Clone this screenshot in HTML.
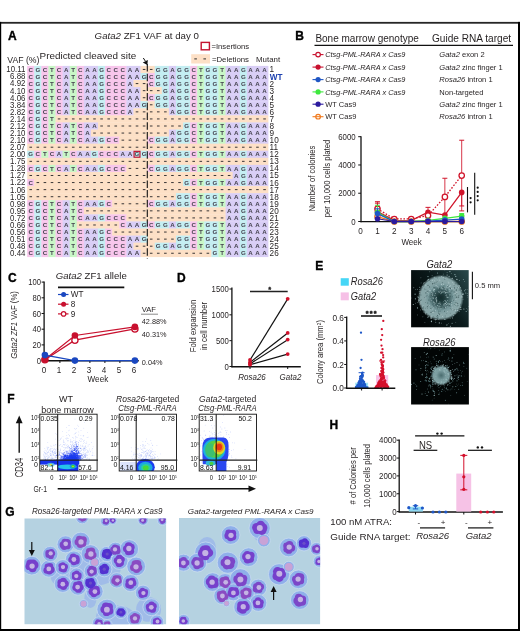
<!DOCTYPE html>
<html><head><meta charset="utf-8"><style>
html,body{margin:0;padding:0;background:#fff;}
svg{display:block;will-change:transform;}
text{font-family:"Liberation Sans",sans-serif;}
</style></head><body>
<svg width="520" height="631" viewBox="0 0 520 631" font-family="Liberation Sans, sans-serif">
<rect width="520" height="631" fill="#fff"/>
<text x="7.90" y="39.70" font-size="12.0" text-anchor="start" font-weight="bold" fill="#000" stroke="#000" stroke-width="0.35">A</text>
<text x="94.6" y="38.8" font-size="9.7" fill="#231f20"><tspan font-style="italic">Gata2</tspan> ZF1 VAF at day 0</text>
<text x="7.30" y="62.60" font-size="8.7" text-anchor="start" fill="#231f20" >VAF (%)</text>
<text x="39.60" y="58.90" font-size="9.9" text-anchor="start" fill="#231f20" >Predicted cleaved site</text>
<rect x="201.2" y="42.4" width="8.2" height="7.4" fill="none" stroke="#c4122f" stroke-width="1.4"/>
<text x="211.40" y="49.40" font-size="7.7" text-anchor="start" fill="#231f20" >=Insertions</text>
<rect x="191.20" y="54.20" width="18.80" height="9.30" fill="#fde0c6" />
<rect x="194.30" y="58.40" width="2.60" height="1.00" fill="#333" />
<rect x="203.40" y="58.40" width="2.60" height="1.00" fill="#333" />
<text x="211.90" y="61.50" font-size="7.8" text-anchor="start" fill="#231f20" >=Deletions</text>
<text x="256.00" y="61.50" font-size="7.9" text-anchor="start" fill="#231f20" >Mutant</text>
<rect x="27.20" y="65.90" width="7.38" height="7.37" fill="#f8c6ec" />
<rect x="34.28" y="65.90" width="7.38" height="7.37" fill="#c4eef2" />
<rect x="41.37" y="65.90" width="7.38" height="7.37" fill="#f8c6ec" />
<rect x="48.45" y="65.90" width="7.38" height="7.37" fill="#c8f7c6" />
<rect x="55.54" y="65.90" width="7.38" height="7.37" fill="#f8c6ec" />
<rect x="62.62" y="65.90" width="7.38" height="7.37" fill="#d9cef6" />
<rect x="69.71" y="65.90" width="7.38" height="7.37" fill="#c8f7c6" />
<rect x="76.80" y="65.90" width="7.38" height="7.37" fill="#f8c6ec" />
<rect x="83.88" y="65.90" width="14.47" height="7.37" fill="#d9cef6" />
<rect x="98.05" y="65.90" width="7.38" height="7.37" fill="#c4eef2" />
<rect x="105.14" y="65.90" width="21.55" height="7.37" fill="#f8c6ec" />
<rect x="126.39" y="65.90" width="14.47" height="7.37" fill="#d9cef6" />
<rect x="140.56" y="65.90" width="14.47" height="7.37" fill="#fde0c6" />
<rect x="154.73" y="65.90" width="14.47" height="7.37" fill="#c4eef2" />
<rect x="168.90" y="65.90" width="7.38" height="7.37" fill="#d9cef6" />
<rect x="175.98" y="65.90" width="14.47" height="7.37" fill="#c4eef2" />
<rect x="190.16" y="65.90" width="7.38" height="7.37" fill="#f8c6ec" />
<rect x="197.24" y="65.90" width="7.38" height="7.37" fill="#c8f7c6" />
<rect x="204.32" y="65.90" width="14.47" height="7.37" fill="#c4eef2" />
<rect x="218.49" y="65.90" width="7.38" height="7.37" fill="#c8f7c6" />
<rect x="225.58" y="65.90" width="14.47" height="7.37" fill="#d9cef6" />
<rect x="239.75" y="65.90" width="7.38" height="7.37" fill="#c4eef2" />
<rect x="246.83" y="65.90" width="21.55" height="7.37" fill="#d9cef6" />
<rect x="27.20" y="72.97" width="7.38" height="7.37" fill="#f8c6ec" />
<rect x="34.28" y="72.97" width="7.38" height="7.37" fill="#c4eef2" />
<rect x="41.37" y="72.97" width="7.38" height="7.37" fill="#f8c6ec" />
<rect x="48.45" y="72.97" width="7.38" height="7.37" fill="#c8f7c6" />
<rect x="55.54" y="72.97" width="7.38" height="7.37" fill="#f8c6ec" />
<rect x="62.62" y="72.97" width="7.38" height="7.37" fill="#d9cef6" />
<rect x="69.71" y="72.97" width="7.38" height="7.37" fill="#c8f7c6" />
<rect x="76.80" y="72.97" width="7.38" height="7.37" fill="#f8c6ec" />
<rect x="83.88" y="72.97" width="14.47" height="7.37" fill="#d9cef6" />
<rect x="98.05" y="72.97" width="7.38" height="7.37" fill="#c4eef2" />
<rect x="105.14" y="72.97" width="21.55" height="7.37" fill="#f8c6ec" />
<rect x="126.39" y="72.97" width="14.47" height="7.37" fill="#d9cef6" />
<rect x="140.56" y="72.97" width="7.38" height="7.37" fill="#c4eef2" />
<rect x="147.64" y="72.97" width="7.38" height="7.37" fill="#f8c6ec" />
<rect x="154.73" y="72.97" width="14.47" height="7.37" fill="#c4eef2" />
<rect x="168.90" y="72.97" width="7.38" height="7.37" fill="#d9cef6" />
<rect x="175.98" y="72.97" width="14.47" height="7.37" fill="#c4eef2" />
<rect x="190.16" y="72.97" width="7.38" height="7.37" fill="#f8c6ec" />
<rect x="197.24" y="72.97" width="7.38" height="7.37" fill="#c8f7c6" />
<rect x="204.32" y="72.97" width="14.47" height="7.37" fill="#c4eef2" />
<rect x="218.49" y="72.97" width="7.38" height="7.37" fill="#c8f7c6" />
<rect x="225.58" y="72.97" width="14.47" height="7.37" fill="#d9cef6" />
<rect x="239.75" y="72.97" width="7.38" height="7.37" fill="#c4eef2" />
<rect x="246.83" y="72.97" width="21.55" height="7.37" fill="#d9cef6" />
<rect x="27.20" y="80.04" width="7.38" height="7.37" fill="#f8c6ec" />
<rect x="34.28" y="80.04" width="7.38" height="7.37" fill="#c4eef2" />
<rect x="41.37" y="80.04" width="7.38" height="7.37" fill="#f8c6ec" />
<rect x="48.45" y="80.04" width="7.38" height="7.37" fill="#c8f7c6" />
<rect x="55.54" y="80.04" width="7.38" height="7.37" fill="#f8c6ec" />
<rect x="62.62" y="80.04" width="7.38" height="7.37" fill="#d9cef6" />
<rect x="69.71" y="80.04" width="7.38" height="7.37" fill="#c8f7c6" />
<rect x="76.80" y="80.04" width="7.38" height="7.37" fill="#f8c6ec" />
<rect x="83.88" y="80.04" width="14.47" height="7.37" fill="#d9cef6" />
<rect x="98.05" y="80.04" width="7.38" height="7.37" fill="#c4eef2" />
<rect x="105.14" y="80.04" width="21.55" height="7.37" fill="#f8c6ec" />
<rect x="126.39" y="80.04" width="7.38" height="7.37" fill="#d9cef6" />
<rect x="133.47" y="80.04" width="14.47" height="7.37" fill="#fde0c6" />
<rect x="147.64" y="80.04" width="7.38" height="7.37" fill="#f8c6ec" />
<rect x="154.73" y="80.04" width="14.47" height="7.37" fill="#c4eef2" />
<rect x="168.90" y="80.04" width="7.38" height="7.37" fill="#d9cef6" />
<rect x="175.98" y="80.04" width="14.47" height="7.37" fill="#c4eef2" />
<rect x="190.16" y="80.04" width="7.38" height="7.37" fill="#f8c6ec" />
<rect x="197.24" y="80.04" width="7.38" height="7.37" fill="#c8f7c6" />
<rect x="204.32" y="80.04" width="14.47" height="7.37" fill="#c4eef2" />
<rect x="218.49" y="80.04" width="7.38" height="7.37" fill="#c8f7c6" />
<rect x="225.58" y="80.04" width="14.47" height="7.37" fill="#d9cef6" />
<rect x="239.75" y="80.04" width="7.38" height="7.37" fill="#c4eef2" />
<rect x="246.83" y="80.04" width="21.55" height="7.37" fill="#d9cef6" />
<rect x="27.20" y="87.11" width="7.38" height="7.37" fill="#f8c6ec" />
<rect x="34.28" y="87.11" width="7.38" height="7.37" fill="#c4eef2" />
<rect x="41.37" y="87.11" width="7.38" height="7.37" fill="#f8c6ec" />
<rect x="48.45" y="87.11" width="7.38" height="7.37" fill="#c8f7c6" />
<rect x="55.54" y="87.11" width="7.38" height="7.37" fill="#f8c6ec" />
<rect x="62.62" y="87.11" width="7.38" height="7.37" fill="#d9cef6" />
<rect x="69.71" y="87.11" width="7.38" height="7.37" fill="#c8f7c6" />
<rect x="76.80" y="87.11" width="7.38" height="7.37" fill="#f8c6ec" />
<rect x="83.88" y="87.11" width="14.47" height="7.37" fill="#d9cef6" />
<rect x="98.05" y="87.11" width="7.38" height="7.37" fill="#c4eef2" />
<rect x="105.14" y="87.11" width="21.55" height="7.37" fill="#f8c6ec" />
<rect x="126.39" y="87.11" width="14.47" height="7.37" fill="#d9cef6" />
<rect x="140.56" y="87.11" width="21.55" height="7.37" fill="#fde0c6" />
<rect x="161.81" y="87.11" width="7.38" height="7.37" fill="#c4eef2" />
<rect x="168.90" y="87.11" width="7.38" height="7.37" fill="#d9cef6" />
<rect x="175.98" y="87.11" width="14.47" height="7.37" fill="#c4eef2" />
<rect x="190.16" y="87.11" width="7.38" height="7.37" fill="#f8c6ec" />
<rect x="197.24" y="87.11" width="7.38" height="7.37" fill="#c8f7c6" />
<rect x="204.32" y="87.11" width="14.47" height="7.37" fill="#c4eef2" />
<rect x="218.49" y="87.11" width="7.38" height="7.37" fill="#c8f7c6" />
<rect x="225.58" y="87.11" width="14.47" height="7.37" fill="#d9cef6" />
<rect x="239.75" y="87.11" width="7.38" height="7.37" fill="#c4eef2" />
<rect x="246.83" y="87.11" width="21.55" height="7.37" fill="#d9cef6" />
<rect x="27.20" y="94.18" width="7.38" height="7.37" fill="#f8c6ec" />
<rect x="34.28" y="94.18" width="7.38" height="7.37" fill="#c4eef2" />
<rect x="41.37" y="94.18" width="7.38" height="7.37" fill="#f8c6ec" />
<rect x="48.45" y="94.18" width="7.38" height="7.37" fill="#c8f7c6" />
<rect x="55.54" y="94.18" width="7.38" height="7.37" fill="#f8c6ec" />
<rect x="62.62" y="94.18" width="7.38" height="7.37" fill="#d9cef6" />
<rect x="69.71" y="94.18" width="7.38" height="7.37" fill="#c8f7c6" />
<rect x="76.80" y="94.18" width="7.38" height="7.37" fill="#f8c6ec" />
<rect x="83.88" y="94.18" width="14.47" height="7.37" fill="#d9cef6" />
<rect x="98.05" y="94.18" width="7.38" height="7.37" fill="#c4eef2" />
<rect x="105.14" y="94.18" width="21.55" height="7.37" fill="#f8c6ec" />
<rect x="126.39" y="94.18" width="14.47" height="7.37" fill="#d9cef6" />
<rect x="140.56" y="94.18" width="7.38" height="7.37" fill="#fde0c6" />
<rect x="147.64" y="94.18" width="7.38" height="7.37" fill="#f8c6ec" />
<rect x="154.73" y="94.18" width="14.47" height="7.37" fill="#c4eef2" />
<rect x="168.90" y="94.18" width="7.38" height="7.37" fill="#d9cef6" />
<rect x="175.98" y="94.18" width="14.47" height="7.37" fill="#c4eef2" />
<rect x="190.16" y="94.18" width="7.38" height="7.37" fill="#f8c6ec" />
<rect x="197.24" y="94.18" width="7.38" height="7.37" fill="#c8f7c6" />
<rect x="204.32" y="94.18" width="14.47" height="7.37" fill="#c4eef2" />
<rect x="218.49" y="94.18" width="7.38" height="7.37" fill="#c8f7c6" />
<rect x="225.58" y="94.18" width="14.47" height="7.37" fill="#d9cef6" />
<rect x="239.75" y="94.18" width="7.38" height="7.37" fill="#c4eef2" />
<rect x="246.83" y="94.18" width="21.55" height="7.37" fill="#d9cef6" />
<rect x="27.20" y="101.25" width="7.38" height="7.37" fill="#f8c6ec" />
<rect x="34.28" y="101.25" width="7.38" height="7.37" fill="#c4eef2" />
<rect x="41.37" y="101.25" width="7.38" height="7.37" fill="#f8c6ec" />
<rect x="48.45" y="101.25" width="7.38" height="7.37" fill="#c8f7c6" />
<rect x="55.54" y="101.25" width="7.38" height="7.37" fill="#f8c6ec" />
<rect x="62.62" y="101.25" width="7.38" height="7.37" fill="#d9cef6" />
<rect x="69.71" y="101.25" width="7.38" height="7.37" fill="#c8f7c6" />
<rect x="76.80" y="101.25" width="7.38" height="7.37" fill="#f8c6ec" />
<rect x="83.88" y="101.25" width="14.47" height="7.37" fill="#d9cef6" />
<rect x="98.05" y="101.25" width="7.38" height="7.37" fill="#c4eef2" />
<rect x="105.14" y="101.25" width="21.55" height="7.37" fill="#f8c6ec" />
<rect x="126.39" y="101.25" width="14.47" height="7.37" fill="#d9cef6" />
<rect x="140.56" y="101.25" width="7.38" height="7.37" fill="#c4eef2" />
<rect x="147.64" y="101.25" width="7.38" height="7.37" fill="#fde0c6" />
<rect x="154.73" y="101.25" width="14.47" height="7.37" fill="#c4eef2" />
<rect x="168.90" y="101.25" width="7.38" height="7.37" fill="#d9cef6" />
<rect x="175.98" y="101.25" width="14.47" height="7.37" fill="#c4eef2" />
<rect x="190.16" y="101.25" width="7.38" height="7.37" fill="#f8c6ec" />
<rect x="197.24" y="101.25" width="7.38" height="7.37" fill="#c8f7c6" />
<rect x="204.32" y="101.25" width="14.47" height="7.37" fill="#c4eef2" />
<rect x="218.49" y="101.25" width="7.38" height="7.37" fill="#c8f7c6" />
<rect x="225.58" y="101.25" width="14.47" height="7.37" fill="#d9cef6" />
<rect x="239.75" y="101.25" width="7.38" height="7.37" fill="#c4eef2" />
<rect x="246.83" y="101.25" width="21.55" height="7.37" fill="#d9cef6" />
<rect x="27.20" y="108.32" width="7.38" height="7.37" fill="#f8c6ec" />
<rect x="34.28" y="108.32" width="7.38" height="7.37" fill="#c4eef2" />
<rect x="41.37" y="108.32" width="7.38" height="7.37" fill="#f8c6ec" />
<rect x="48.45" y="108.32" width="7.38" height="7.37" fill="#c8f7c6" />
<rect x="55.54" y="108.32" width="7.38" height="7.37" fill="#f8c6ec" />
<rect x="62.62" y="108.32" width="7.38" height="7.37" fill="#d9cef6" />
<rect x="69.71" y="108.32" width="7.38" height="7.37" fill="#c8f7c6" />
<rect x="76.80" y="108.32" width="7.38" height="7.37" fill="#f8c6ec" />
<rect x="83.88" y="108.32" width="14.47" height="7.37" fill="#d9cef6" />
<rect x="98.05" y="108.32" width="7.38" height="7.37" fill="#c4eef2" />
<rect x="105.14" y="108.32" width="21.55" height="7.37" fill="#f8c6ec" />
<rect x="126.39" y="108.32" width="7.38" height="7.37" fill="#d9cef6" />
<rect x="133.47" y="108.32" width="35.72" height="7.37" fill="#fde0c6" />
<rect x="168.90" y="108.32" width="7.38" height="7.37" fill="#d9cef6" />
<rect x="175.98" y="108.32" width="14.47" height="7.37" fill="#c4eef2" />
<rect x="190.16" y="108.32" width="7.38" height="7.37" fill="#f8c6ec" />
<rect x="197.24" y="108.32" width="7.38" height="7.37" fill="#c8f7c6" />
<rect x="204.32" y="108.32" width="14.47" height="7.37" fill="#c4eef2" />
<rect x="218.49" y="108.32" width="7.38" height="7.37" fill="#c8f7c6" />
<rect x="225.58" y="108.32" width="14.47" height="7.37" fill="#d9cef6" />
<rect x="239.75" y="108.32" width="7.38" height="7.37" fill="#c4eef2" />
<rect x="246.83" y="108.32" width="21.55" height="7.37" fill="#d9cef6" />
<rect x="27.20" y="115.39" width="7.38" height="7.37" fill="#f8c6ec" />
<rect x="34.28" y="115.39" width="7.38" height="7.37" fill="#c4eef2" />
<rect x="41.37" y="115.39" width="7.38" height="7.37" fill="#f8c6ec" />
<rect x="48.45" y="115.39" width="7.38" height="7.37" fill="#c8f7c6" />
<rect x="55.54" y="115.39" width="212.85" height="7.37" fill="#fde0c6" />
<rect x="27.20" y="122.46" width="7.38" height="7.37" fill="#f8c6ec" />
<rect x="34.28" y="122.46" width="7.38" height="7.37" fill="#c4eef2" />
<rect x="41.37" y="122.46" width="7.38" height="7.37" fill="#f8c6ec" />
<rect x="48.45" y="122.46" width="7.38" height="7.37" fill="#c8f7c6" />
<rect x="55.54" y="122.46" width="7.38" height="7.37" fill="#f8c6ec" />
<rect x="62.62" y="122.46" width="7.38" height="7.37" fill="#d9cef6" />
<rect x="69.71" y="122.46" width="7.38" height="7.37" fill="#c8f7c6" />
<rect x="76.80" y="122.46" width="7.38" height="7.37" fill="#f8c6ec" />
<rect x="83.88" y="122.46" width="14.47" height="7.37" fill="#d9cef6" />
<rect x="98.05" y="122.46" width="85.32" height="7.37" fill="#fde0c6" />
<rect x="183.07" y="122.46" width="7.38" height="7.37" fill="#c4eef2" />
<rect x="190.16" y="122.46" width="7.38" height="7.37" fill="#f8c6ec" />
<rect x="197.24" y="122.46" width="7.38" height="7.37" fill="#c8f7c6" />
<rect x="204.32" y="122.46" width="14.47" height="7.37" fill="#c4eef2" />
<rect x="218.49" y="122.46" width="7.38" height="7.37" fill="#c8f7c6" />
<rect x="225.58" y="122.46" width="14.47" height="7.37" fill="#d9cef6" />
<rect x="239.75" y="122.46" width="7.38" height="7.37" fill="#c4eef2" />
<rect x="246.83" y="122.46" width="21.55" height="7.37" fill="#d9cef6" />
<rect x="27.20" y="129.53" width="7.38" height="7.37" fill="#f8c6ec" />
<rect x="34.28" y="129.53" width="7.38" height="7.37" fill="#c4eef2" />
<rect x="41.37" y="129.53" width="7.38" height="7.37" fill="#f8c6ec" />
<rect x="48.45" y="129.53" width="7.38" height="7.37" fill="#c8f7c6" />
<rect x="55.54" y="129.53" width="7.38" height="7.37" fill="#f8c6ec" />
<rect x="62.62" y="129.53" width="7.38" height="7.37" fill="#d9cef6" />
<rect x="69.71" y="129.53" width="7.38" height="7.37" fill="#c8f7c6" />
<rect x="76.80" y="129.53" width="7.38" height="7.37" fill="#f8c6ec" />
<rect x="83.88" y="129.53" width="7.38" height="7.37" fill="#d9cef6" />
<rect x="90.97" y="129.53" width="78.23" height="7.37" fill="#fde0c6" />
<rect x="168.90" y="129.53" width="7.38" height="7.37" fill="#d9cef6" />
<rect x="175.98" y="129.53" width="14.47" height="7.37" fill="#c4eef2" />
<rect x="190.16" y="129.53" width="7.38" height="7.37" fill="#f8c6ec" />
<rect x="197.24" y="129.53" width="7.38" height="7.37" fill="#c8f7c6" />
<rect x="204.32" y="129.53" width="14.47" height="7.37" fill="#c4eef2" />
<rect x="218.49" y="129.53" width="7.38" height="7.37" fill="#c8f7c6" />
<rect x="225.58" y="129.53" width="14.47" height="7.37" fill="#d9cef6" />
<rect x="239.75" y="129.53" width="7.38" height="7.37" fill="#c4eef2" />
<rect x="246.83" y="129.53" width="21.55" height="7.37" fill="#d9cef6" />
<rect x="27.20" y="136.60" width="7.38" height="7.37" fill="#f8c6ec" />
<rect x="34.28" y="136.60" width="7.38" height="7.37" fill="#c4eef2" />
<rect x="41.37" y="136.60" width="7.38" height="7.37" fill="#f8c6ec" />
<rect x="48.45" y="136.60" width="7.38" height="7.37" fill="#c8f7c6" />
<rect x="55.54" y="136.60" width="7.38" height="7.37" fill="#f8c6ec" />
<rect x="62.62" y="136.60" width="7.38" height="7.37" fill="#d9cef6" />
<rect x="69.71" y="136.60" width="7.38" height="7.37" fill="#c8f7c6" />
<rect x="76.80" y="136.60" width="7.38" height="7.37" fill="#f8c6ec" />
<rect x="83.88" y="136.60" width="14.47" height="7.37" fill="#d9cef6" />
<rect x="98.05" y="136.60" width="7.38" height="7.37" fill="#c4eef2" />
<rect x="105.14" y="136.60" width="14.47" height="7.37" fill="#f8c6ec" />
<rect x="119.31" y="136.60" width="28.64" height="7.37" fill="#fde0c6" />
<rect x="147.64" y="136.60" width="7.38" height="7.37" fill="#f8c6ec" />
<rect x="154.73" y="136.60" width="14.47" height="7.37" fill="#c4eef2" />
<rect x="168.90" y="136.60" width="7.38" height="7.37" fill="#d9cef6" />
<rect x="175.98" y="136.60" width="14.47" height="7.37" fill="#c4eef2" />
<rect x="190.16" y="136.60" width="7.38" height="7.37" fill="#f8c6ec" />
<rect x="197.24" y="136.60" width="7.38" height="7.37" fill="#c8f7c6" />
<rect x="204.32" y="136.60" width="14.47" height="7.37" fill="#c4eef2" />
<rect x="218.49" y="136.60" width="7.38" height="7.37" fill="#c8f7c6" />
<rect x="225.58" y="136.60" width="14.47" height="7.37" fill="#d9cef6" />
<rect x="239.75" y="136.60" width="7.38" height="7.37" fill="#c4eef2" />
<rect x="246.83" y="136.60" width="21.55" height="7.37" fill="#d9cef6" />
<rect x="27.20" y="143.67" width="241.19" height="7.37" fill="#fde0c6" />
<rect x="27.20" y="150.74" width="7.38" height="7.37" fill="#c4eef2" />
<rect x="34.28" y="150.74" width="7.38" height="7.37" fill="#f8c6ec" />
<rect x="41.37" y="150.74" width="7.38" height="7.37" fill="#c8f7c6" />
<rect x="48.45" y="150.74" width="7.38" height="7.37" fill="#f8c6ec" />
<rect x="55.54" y="150.74" width="7.38" height="7.37" fill="#d9cef6" />
<rect x="62.62" y="150.74" width="7.38" height="7.37" fill="#c8f7c6" />
<rect x="69.71" y="150.74" width="7.38" height="7.37" fill="#f8c6ec" />
<rect x="76.80" y="150.74" width="14.47" height="7.37" fill="#d9cef6" />
<rect x="90.97" y="150.74" width="7.38" height="7.37" fill="#c4eef2" />
<rect x="98.05" y="150.74" width="21.55" height="7.37" fill="#f8c6ec" />
<rect x="119.31" y="150.74" width="14.47" height="7.37" fill="#d9cef6" />
<rect x="133.47" y="150.74" width="14.47" height="7.37" fill="#c4eef2" />
<rect x="147.64" y="150.74" width="7.38" height="7.37" fill="#f8c6ec" />
<rect x="154.73" y="150.74" width="14.47" height="7.37" fill="#c4eef2" />
<rect x="168.90" y="150.74" width="7.38" height="7.37" fill="#d9cef6" />
<rect x="175.98" y="150.74" width="14.47" height="7.37" fill="#c4eef2" />
<rect x="190.16" y="150.74" width="7.38" height="7.37" fill="#f8c6ec" />
<rect x="197.24" y="150.74" width="7.38" height="7.37" fill="#c8f7c6" />
<rect x="204.32" y="150.74" width="14.47" height="7.37" fill="#c4eef2" />
<rect x="218.49" y="150.74" width="7.38" height="7.37" fill="#c8f7c6" />
<rect x="225.58" y="150.74" width="14.47" height="7.37" fill="#d9cef6" />
<rect x="239.75" y="150.74" width="7.38" height="7.37" fill="#c4eef2" />
<rect x="246.83" y="150.74" width="21.55" height="7.37" fill="#d9cef6" />
<rect x="27.20" y="157.81" width="241.19" height="7.37" fill="#fde0c6" />
<rect x="27.20" y="164.88" width="7.38" height="7.37" fill="#f8c6ec" />
<rect x="34.28" y="164.88" width="7.38" height="7.37" fill="#c4eef2" />
<rect x="41.37" y="164.88" width="7.38" height="7.37" fill="#f8c6ec" />
<rect x="48.45" y="164.88" width="7.38" height="7.37" fill="#c8f7c6" />
<rect x="55.54" y="164.88" width="7.38" height="7.37" fill="#f8c6ec" />
<rect x="62.62" y="164.88" width="7.38" height="7.37" fill="#d9cef6" />
<rect x="69.71" y="164.88" width="7.38" height="7.37" fill="#c8f7c6" />
<rect x="76.80" y="164.88" width="7.38" height="7.37" fill="#f8c6ec" />
<rect x="83.88" y="164.88" width="14.47" height="7.37" fill="#d9cef6" />
<rect x="98.05" y="164.88" width="7.38" height="7.37" fill="#c4eef2" />
<rect x="105.14" y="164.88" width="21.55" height="7.37" fill="#f8c6ec" />
<rect x="126.39" y="164.88" width="21.55" height="7.37" fill="#fde0c6" />
<rect x="147.64" y="164.88" width="7.38" height="7.37" fill="#f8c6ec" />
<rect x="154.73" y="164.88" width="14.47" height="7.37" fill="#c4eef2" />
<rect x="168.90" y="164.88" width="7.38" height="7.37" fill="#d9cef6" />
<rect x="175.98" y="164.88" width="14.47" height="7.37" fill="#c4eef2" />
<rect x="190.16" y="164.88" width="7.38" height="7.37" fill="#f8c6ec" />
<rect x="197.24" y="164.88" width="7.38" height="7.37" fill="#c8f7c6" />
<rect x="204.32" y="164.88" width="14.47" height="7.37" fill="#c4eef2" />
<rect x="218.49" y="164.88" width="7.38" height="7.37" fill="#c8f7c6" />
<rect x="225.58" y="164.88" width="14.47" height="7.37" fill="#d9cef6" />
<rect x="239.75" y="164.88" width="7.38" height="7.37" fill="#c4eef2" />
<rect x="246.83" y="164.88" width="21.55" height="7.37" fill="#d9cef6" />
<rect x="27.20" y="171.95" width="205.77" height="7.37" fill="#fde0c6" />
<rect x="232.66" y="171.95" width="7.38" height="7.37" fill="#d9cef6" />
<rect x="239.75" y="171.95" width="7.38" height="7.37" fill="#c4eef2" />
<rect x="246.83" y="171.95" width="21.55" height="7.37" fill="#d9cef6" />
<rect x="27.20" y="179.02" width="7.38" height="7.37" fill="#f8c6ec" />
<rect x="34.28" y="179.02" width="149.09" height="7.37" fill="#fde0c6" />
<rect x="183.07" y="179.02" width="7.38" height="7.37" fill="#c4eef2" />
<rect x="190.16" y="179.02" width="7.38" height="7.37" fill="#f8c6ec" />
<rect x="197.24" y="179.02" width="7.38" height="7.37" fill="#c8f7c6" />
<rect x="204.32" y="179.02" width="14.47" height="7.37" fill="#c4eef2" />
<rect x="218.49" y="179.02" width="7.38" height="7.37" fill="#c8f7c6" />
<rect x="225.58" y="179.02" width="14.47" height="7.37" fill="#d9cef6" />
<rect x="239.75" y="179.02" width="7.38" height="7.37" fill="#c4eef2" />
<rect x="246.83" y="179.02" width="21.55" height="7.37" fill="#d9cef6" />
<rect x="27.20" y="186.09" width="241.19" height="7.37" fill="#fde0c6" />
<rect x="27.20" y="193.16" width="149.09" height="7.37" fill="#fde0c6" />
<rect x="175.98" y="193.16" width="14.47" height="7.37" fill="#c4eef2" />
<rect x="190.16" y="193.16" width="7.38" height="7.37" fill="#f8c6ec" />
<rect x="197.24" y="193.16" width="7.38" height="7.37" fill="#c8f7c6" />
<rect x="204.32" y="193.16" width="14.47" height="7.37" fill="#c4eef2" />
<rect x="218.49" y="193.16" width="7.38" height="7.37" fill="#c8f7c6" />
<rect x="225.58" y="193.16" width="14.47" height="7.37" fill="#d9cef6" />
<rect x="239.75" y="193.16" width="7.38" height="7.37" fill="#c4eef2" />
<rect x="246.83" y="193.16" width="21.55" height="7.37" fill="#d9cef6" />
<rect x="27.20" y="200.23" width="7.38" height="7.37" fill="#f8c6ec" />
<rect x="34.28" y="200.23" width="7.38" height="7.37" fill="#c4eef2" />
<rect x="41.37" y="200.23" width="7.38" height="7.37" fill="#f8c6ec" />
<rect x="48.45" y="200.23" width="7.38" height="7.37" fill="#c8f7c6" />
<rect x="55.54" y="200.23" width="7.38" height="7.37" fill="#f8c6ec" />
<rect x="62.62" y="200.23" width="7.38" height="7.37" fill="#d9cef6" />
<rect x="69.71" y="200.23" width="7.38" height="7.37" fill="#c8f7c6" />
<rect x="76.80" y="200.23" width="7.38" height="7.37" fill="#f8c6ec" />
<rect x="83.88" y="200.23" width="14.47" height="7.37" fill="#d9cef6" />
<rect x="98.05" y="200.23" width="7.38" height="7.37" fill="#c4eef2" />
<rect x="105.14" y="200.23" width="7.38" height="7.37" fill="#f8c6ec" />
<rect x="112.22" y="200.23" width="35.72" height="7.37" fill="#fde0c6" />
<rect x="147.64" y="200.23" width="7.38" height="7.37" fill="#f8c6ec" />
<rect x="154.73" y="200.23" width="14.47" height="7.37" fill="#c4eef2" />
<rect x="168.90" y="200.23" width="7.38" height="7.37" fill="#d9cef6" />
<rect x="175.98" y="200.23" width="14.47" height="7.37" fill="#c4eef2" />
<rect x="190.16" y="200.23" width="7.38" height="7.37" fill="#f8c6ec" />
<rect x="197.24" y="200.23" width="7.38" height="7.37" fill="#c8f7c6" />
<rect x="204.32" y="200.23" width="14.47" height="7.37" fill="#c4eef2" />
<rect x="218.49" y="200.23" width="7.38" height="7.37" fill="#c8f7c6" />
<rect x="225.58" y="200.23" width="14.47" height="7.37" fill="#d9cef6" />
<rect x="239.75" y="200.23" width="7.38" height="7.37" fill="#c4eef2" />
<rect x="246.83" y="200.23" width="21.55" height="7.37" fill="#d9cef6" />
<rect x="27.20" y="207.30" width="7.38" height="7.37" fill="#f8c6ec" />
<rect x="34.28" y="207.30" width="7.38" height="7.37" fill="#c4eef2" />
<rect x="41.37" y="207.30" width="7.38" height="7.37" fill="#f8c6ec" />
<rect x="48.45" y="207.30" width="7.38" height="7.37" fill="#c8f7c6" />
<rect x="55.54" y="207.30" width="7.38" height="7.37" fill="#f8c6ec" />
<rect x="62.62" y="207.30" width="7.38" height="7.37" fill="#d9cef6" />
<rect x="69.71" y="207.30" width="7.38" height="7.37" fill="#c8f7c6" />
<rect x="76.80" y="207.30" width="7.38" height="7.37" fill="#f8c6ec" />
<rect x="83.88" y="207.30" width="142.00" height="7.37" fill="#fde0c6" />
<rect x="225.58" y="207.30" width="14.47" height="7.37" fill="#d9cef6" />
<rect x="239.75" y="207.30" width="7.38" height="7.37" fill="#c4eef2" />
<rect x="246.83" y="207.30" width="21.55" height="7.37" fill="#d9cef6" />
<rect x="27.20" y="214.37" width="7.38" height="7.37" fill="#f8c6ec" />
<rect x="34.28" y="214.37" width="7.38" height="7.37" fill="#c4eef2" />
<rect x="41.37" y="214.37" width="7.38" height="7.37" fill="#f8c6ec" />
<rect x="48.45" y="214.37" width="7.38" height="7.37" fill="#c8f7c6" />
<rect x="55.54" y="214.37" width="7.38" height="7.37" fill="#f8c6ec" />
<rect x="62.62" y="214.37" width="7.38" height="7.37" fill="#d9cef6" />
<rect x="69.71" y="214.37" width="7.38" height="7.37" fill="#c8f7c6" />
<rect x="76.80" y="214.37" width="7.38" height="7.37" fill="#f8c6ec" />
<rect x="83.88" y="214.37" width="14.47" height="7.37" fill="#d9cef6" />
<rect x="98.05" y="214.37" width="7.38" height="7.37" fill="#c4eef2" />
<rect x="105.14" y="214.37" width="21.55" height="7.37" fill="#f8c6ec" />
<rect x="126.39" y="214.37" width="99.49" height="7.37" fill="#fde0c6" />
<rect x="225.58" y="214.37" width="14.47" height="7.37" fill="#d9cef6" />
<rect x="239.75" y="214.37" width="7.38" height="7.37" fill="#c4eef2" />
<rect x="246.83" y="214.37" width="21.55" height="7.37" fill="#d9cef6" />
<rect x="27.20" y="221.44" width="7.38" height="7.37" fill="#f8c6ec" />
<rect x="34.28" y="221.44" width="7.38" height="7.37" fill="#c4eef2" />
<rect x="41.37" y="221.44" width="7.38" height="7.37" fill="#f8c6ec" />
<rect x="48.45" y="221.44" width="7.38" height="7.37" fill="#c8f7c6" />
<rect x="55.54" y="221.44" width="7.38" height="7.37" fill="#f8c6ec" />
<rect x="62.62" y="221.44" width="7.38" height="7.37" fill="#d9cef6" />
<rect x="69.71" y="221.44" width="7.38" height="7.37" fill="#c8f7c6" />
<rect x="76.80" y="221.44" width="42.81" height="7.37" fill="#fde0c6" />
<rect x="119.31" y="221.44" width="7.38" height="7.37" fill="#f8c6ec" />
<rect x="126.39" y="221.44" width="14.47" height="7.37" fill="#d9cef6" />
<rect x="140.56" y="221.44" width="7.38" height="7.37" fill="#c4eef2" />
<rect x="147.64" y="221.44" width="7.38" height="7.37" fill="#f8c6ec" />
<rect x="154.73" y="221.44" width="14.47" height="7.37" fill="#c4eef2" />
<rect x="168.90" y="221.44" width="7.38" height="7.37" fill="#d9cef6" />
<rect x="175.98" y="221.44" width="14.47" height="7.37" fill="#c4eef2" />
<rect x="190.16" y="221.44" width="7.38" height="7.37" fill="#f8c6ec" />
<rect x="197.24" y="221.44" width="7.38" height="7.37" fill="#c8f7c6" />
<rect x="204.32" y="221.44" width="14.47" height="7.37" fill="#c4eef2" />
<rect x="218.49" y="221.44" width="7.38" height="7.37" fill="#c8f7c6" />
<rect x="225.58" y="221.44" width="14.47" height="7.37" fill="#d9cef6" />
<rect x="239.75" y="221.44" width="7.38" height="7.37" fill="#c4eef2" />
<rect x="246.83" y="221.44" width="21.55" height="7.37" fill="#d9cef6" />
<rect x="27.20" y="228.51" width="7.38" height="7.37" fill="#f8c6ec" />
<rect x="34.28" y="228.51" width="7.38" height="7.37" fill="#c4eef2" />
<rect x="41.37" y="228.51" width="7.38" height="7.37" fill="#f8c6ec" />
<rect x="48.45" y="228.51" width="7.38" height="7.37" fill="#c8f7c6" />
<rect x="55.54" y="228.51" width="7.38" height="7.37" fill="#f8c6ec" />
<rect x="62.62" y="228.51" width="7.38" height="7.37" fill="#d9cef6" />
<rect x="69.71" y="228.51" width="7.38" height="7.37" fill="#c8f7c6" />
<rect x="76.80" y="228.51" width="7.38" height="7.37" fill="#f8c6ec" />
<rect x="83.88" y="228.51" width="14.47" height="7.37" fill="#d9cef6" />
<rect x="98.05" y="228.51" width="7.38" height="7.37" fill="#c4eef2" />
<rect x="105.14" y="228.51" width="7.38" height="7.37" fill="#f8c6ec" />
<rect x="112.22" y="228.51" width="78.23" height="7.37" fill="#fde0c6" />
<rect x="190.16" y="228.51" width="7.38" height="7.37" fill="#f8c6ec" />
<rect x="197.24" y="228.51" width="7.38" height="7.37" fill="#c8f7c6" />
<rect x="204.32" y="228.51" width="14.47" height="7.37" fill="#c4eef2" />
<rect x="218.49" y="228.51" width="7.38" height="7.37" fill="#c8f7c6" />
<rect x="225.58" y="228.51" width="14.47" height="7.37" fill="#d9cef6" />
<rect x="239.75" y="228.51" width="7.38" height="7.37" fill="#c4eef2" />
<rect x="246.83" y="228.51" width="21.55" height="7.37" fill="#d9cef6" />
<rect x="27.20" y="235.58" width="7.38" height="7.37" fill="#f8c6ec" />
<rect x="34.28" y="235.58" width="7.38" height="7.37" fill="#c4eef2" />
<rect x="41.37" y="235.58" width="7.38" height="7.37" fill="#f8c6ec" />
<rect x="48.45" y="235.58" width="7.38" height="7.37" fill="#c8f7c6" />
<rect x="55.54" y="235.58" width="7.38" height="7.37" fill="#f8c6ec" />
<rect x="62.62" y="235.58" width="7.38" height="7.37" fill="#d9cef6" />
<rect x="69.71" y="235.58" width="7.38" height="7.37" fill="#c8f7c6" />
<rect x="76.80" y="235.58" width="7.38" height="7.37" fill="#f8c6ec" />
<rect x="83.88" y="235.58" width="14.47" height="7.37" fill="#d9cef6" />
<rect x="98.05" y="235.58" width="7.38" height="7.37" fill="#c4eef2" />
<rect x="105.14" y="235.58" width="21.55" height="7.37" fill="#f8c6ec" />
<rect x="126.39" y="235.58" width="14.47" height="7.37" fill="#d9cef6" />
<rect x="140.56" y="235.58" width="7.38" height="7.37" fill="#c4eef2" />
<rect x="147.64" y="235.58" width="28.64" height="7.37" fill="#fde0c6" />
<rect x="175.98" y="235.58" width="14.47" height="7.37" fill="#c4eef2" />
<rect x="190.16" y="235.58" width="7.38" height="7.37" fill="#f8c6ec" />
<rect x="197.24" y="235.58" width="7.38" height="7.37" fill="#c8f7c6" />
<rect x="204.32" y="235.58" width="14.47" height="7.37" fill="#c4eef2" />
<rect x="218.49" y="235.58" width="7.38" height="7.37" fill="#c8f7c6" />
<rect x="225.58" y="235.58" width="14.47" height="7.37" fill="#d9cef6" />
<rect x="239.75" y="235.58" width="7.38" height="7.37" fill="#c4eef2" />
<rect x="246.83" y="235.58" width="21.55" height="7.37" fill="#d9cef6" />
<rect x="27.20" y="242.65" width="7.38" height="7.37" fill="#f8c6ec" />
<rect x="34.28" y="242.65" width="7.38" height="7.37" fill="#c4eef2" />
<rect x="41.37" y="242.65" width="7.38" height="7.37" fill="#f8c6ec" />
<rect x="48.45" y="242.65" width="7.38" height="7.37" fill="#c8f7c6" />
<rect x="55.54" y="242.65" width="7.38" height="7.37" fill="#f8c6ec" />
<rect x="62.62" y="242.65" width="7.38" height="7.37" fill="#d9cef6" />
<rect x="69.71" y="242.65" width="7.38" height="7.37" fill="#c8f7c6" />
<rect x="76.80" y="242.65" width="7.38" height="7.37" fill="#f8c6ec" />
<rect x="83.88" y="242.65" width="14.47" height="7.37" fill="#d9cef6" />
<rect x="98.05" y="242.65" width="7.38" height="7.37" fill="#c4eef2" />
<rect x="105.14" y="242.65" width="21.55" height="7.37" fill="#f8c6ec" />
<rect x="126.39" y="242.65" width="7.38" height="7.37" fill="#d9cef6" />
<rect x="133.47" y="242.65" width="21.55" height="7.37" fill="#fde0c6" />
<rect x="154.73" y="242.65" width="14.47" height="7.37" fill="#c4eef2" />
<rect x="168.90" y="242.65" width="7.38" height="7.37" fill="#d9cef6" />
<rect x="175.98" y="242.65" width="14.47" height="7.37" fill="#c4eef2" />
<rect x="190.16" y="242.65" width="7.38" height="7.37" fill="#f8c6ec" />
<rect x="197.24" y="242.65" width="7.38" height="7.37" fill="#c8f7c6" />
<rect x="204.32" y="242.65" width="14.47" height="7.37" fill="#c4eef2" />
<rect x="218.49" y="242.65" width="7.38" height="7.37" fill="#c8f7c6" />
<rect x="225.58" y="242.65" width="14.47" height="7.37" fill="#d9cef6" />
<rect x="239.75" y="242.65" width="7.38" height="7.37" fill="#c4eef2" />
<rect x="246.83" y="242.65" width="21.55" height="7.37" fill="#d9cef6" />
<rect x="27.20" y="249.72" width="7.38" height="7.37" fill="#f8c6ec" />
<rect x="34.28" y="249.72" width="7.38" height="7.37" fill="#c4eef2" />
<rect x="41.37" y="249.72" width="7.38" height="7.37" fill="#f8c6ec" />
<rect x="48.45" y="249.72" width="7.38" height="7.37" fill="#c8f7c6" />
<rect x="55.54" y="249.72" width="7.38" height="7.37" fill="#f8c6ec" />
<rect x="62.62" y="249.72" width="7.38" height="7.37" fill="#d9cef6" />
<rect x="69.71" y="249.72" width="7.38" height="7.37" fill="#c8f7c6" />
<rect x="76.80" y="249.72" width="7.38" height="7.37" fill="#f8c6ec" />
<rect x="83.88" y="249.72" width="14.47" height="7.37" fill="#d9cef6" />
<rect x="98.05" y="249.72" width="7.38" height="7.37" fill="#c4eef2" />
<rect x="105.14" y="249.72" width="21.55" height="7.37" fill="#f8c6ec" />
<rect x="126.39" y="249.72" width="14.47" height="7.37" fill="#d9cef6" />
<rect x="140.56" y="249.72" width="71.15" height="7.37" fill="#fde0c6" />
<rect x="211.41" y="249.72" width="7.38" height="7.37" fill="#c4eef2" />
<rect x="218.49" y="249.72" width="7.38" height="7.37" fill="#c8f7c6" />
<rect x="225.58" y="249.72" width="14.47" height="7.37" fill="#d9cef6" />
<rect x="239.75" y="249.72" width="7.38" height="7.37" fill="#c4eef2" />
<rect x="246.83" y="249.72" width="21.55" height="7.37" fill="#d9cef6" />
<g font-size="6.2" font-weight="bold" fill="#45434f" text-anchor="middle">
<text x="30.74" y="71.53">C</text>
<text x="37.83" y="71.53">G</text>
<text x="44.91" y="71.53">C</text>
<text x="52.00" y="71.53">T</text>
<text x="59.08" y="71.53">C</text>
<text x="66.17" y="71.53">A</text>
<text x="73.25" y="71.53">T</text>
<text x="80.34" y="71.53">C</text>
<text x="87.42" y="71.53">A</text>
<text x="94.51" y="71.53">A</text>
<text x="101.59" y="71.53">G</text>
<text x="108.68" y="71.53">C</text>
<text x="115.76" y="71.53">C</text>
<text x="122.85" y="71.53">C</text>
<text x="129.93" y="71.53">A</text>
<text x="137.02" y="71.53">A</text>
<rect x="142.80" y="68.94" width="2.60" height="1.00" fill="#3a3636" />
<rect x="149.89" y="68.94" width="2.60" height="1.00" fill="#3a3636" />
<text x="158.27" y="71.53">G</text>
<text x="165.36" y="71.53">G</text>
<text x="172.44" y="71.53">A</text>
<text x="179.53" y="71.53">G</text>
<text x="186.61" y="71.53">G</text>
<text x="193.70" y="71.53">C</text>
<text x="200.78" y="71.53">T</text>
<text x="207.87" y="71.53">G</text>
<text x="214.95" y="71.53">G</text>
<text x="222.04" y="71.53">T</text>
<text x="229.12" y="71.53">A</text>
<text x="236.21" y="71.53">A</text>
<text x="243.29" y="71.53">G</text>
<text x="250.38" y="71.53">A</text>
<text x="257.46" y="71.53">A</text>
<text x="264.55" y="71.53">A</text>
<text x="30.74" y="78.60">C</text>
<text x="37.83" y="78.60">G</text>
<text x="44.91" y="78.60">C</text>
<text x="52.00" y="78.60">T</text>
<text x="59.08" y="78.60">C</text>
<text x="66.17" y="78.60">A</text>
<text x="73.25" y="78.60">T</text>
<text x="80.34" y="78.60">C</text>
<text x="87.42" y="78.60">A</text>
<text x="94.51" y="78.60">A</text>
<text x="101.59" y="78.60">G</text>
<text x="108.68" y="78.60">C</text>
<text x="115.76" y="78.60">C</text>
<text x="122.85" y="78.60">C</text>
<text x="129.93" y="78.60">A</text>
<text x="137.02" y="78.60">A</text>
<text x="144.10" y="78.60">G</text>
<text x="151.19" y="78.60">C</text>
<text x="158.27" y="78.60">G</text>
<text x="165.36" y="78.60">G</text>
<text x="172.44" y="78.60">A</text>
<text x="179.53" y="78.60">G</text>
<text x="186.61" y="78.60">G</text>
<text x="193.70" y="78.60">C</text>
<text x="200.78" y="78.60">T</text>
<text x="207.87" y="78.60">G</text>
<text x="214.95" y="78.60">G</text>
<text x="222.04" y="78.60">T</text>
<text x="229.12" y="78.60">A</text>
<text x="236.21" y="78.60">A</text>
<text x="243.29" y="78.60">G</text>
<text x="250.38" y="78.60">A</text>
<text x="257.46" y="78.60">A</text>
<text x="264.55" y="78.60">A</text>
<text x="30.74" y="85.67">C</text>
<text x="37.83" y="85.67">G</text>
<text x="44.91" y="85.67">C</text>
<text x="52.00" y="85.67">T</text>
<text x="59.08" y="85.67">C</text>
<text x="66.17" y="85.67">A</text>
<text x="73.25" y="85.67">T</text>
<text x="80.34" y="85.67">C</text>
<text x="87.42" y="85.67">A</text>
<text x="94.51" y="85.67">A</text>
<text x="101.59" y="85.67">G</text>
<text x="108.68" y="85.67">C</text>
<text x="115.76" y="85.67">C</text>
<text x="122.85" y="85.67">C</text>
<text x="129.93" y="85.67">A</text>
<rect x="135.72" y="83.08" width="2.60" height="1.00" fill="#3a3636" />
<rect x="142.80" y="83.08" width="2.60" height="1.00" fill="#3a3636" />
<text x="151.19" y="85.67">C</text>
<text x="158.27" y="85.67">G</text>
<text x="165.36" y="85.67">G</text>
<text x="172.44" y="85.67">A</text>
<text x="179.53" y="85.67">G</text>
<text x="186.61" y="85.67">G</text>
<text x="193.70" y="85.67">C</text>
<text x="200.78" y="85.67">T</text>
<text x="207.87" y="85.67">G</text>
<text x="214.95" y="85.67">G</text>
<text x="222.04" y="85.67">T</text>
<text x="229.12" y="85.67">A</text>
<text x="236.21" y="85.67">A</text>
<text x="243.29" y="85.67">G</text>
<text x="250.38" y="85.67">A</text>
<text x="257.46" y="85.67">A</text>
<text x="264.55" y="85.67">A</text>
<text x="30.74" y="92.75">C</text>
<text x="37.83" y="92.75">G</text>
<text x="44.91" y="92.75">C</text>
<text x="52.00" y="92.75">T</text>
<text x="59.08" y="92.75">C</text>
<text x="66.17" y="92.75">A</text>
<text x="73.25" y="92.75">T</text>
<text x="80.34" y="92.75">C</text>
<text x="87.42" y="92.75">A</text>
<text x="94.51" y="92.75">A</text>
<text x="101.59" y="92.75">G</text>
<text x="108.68" y="92.75">C</text>
<text x="115.76" y="92.75">C</text>
<text x="122.85" y="92.75">C</text>
<text x="129.93" y="92.75">A</text>
<text x="137.02" y="92.75">A</text>
<rect x="142.80" y="90.15" width="2.60" height="1.00" fill="#3a3636" />
<rect x="149.89" y="90.15" width="2.60" height="1.00" fill="#3a3636" />
<rect x="156.97" y="90.15" width="2.60" height="1.00" fill="#3a3636" />
<text x="165.36" y="92.75">G</text>
<text x="172.44" y="92.75">A</text>
<text x="179.53" y="92.75">G</text>
<text x="186.61" y="92.75">G</text>
<text x="193.70" y="92.75">C</text>
<text x="200.78" y="92.75">T</text>
<text x="207.87" y="92.75">G</text>
<text x="214.95" y="92.75">G</text>
<text x="222.04" y="92.75">T</text>
<text x="229.12" y="92.75">A</text>
<text x="236.21" y="92.75">A</text>
<text x="243.29" y="92.75">G</text>
<text x="250.38" y="92.75">A</text>
<text x="257.46" y="92.75">A</text>
<text x="264.55" y="92.75">A</text>
<text x="30.74" y="99.81">C</text>
<text x="37.83" y="99.81">G</text>
<text x="44.91" y="99.81">C</text>
<text x="52.00" y="99.81">T</text>
<text x="59.08" y="99.81">C</text>
<text x="66.17" y="99.81">A</text>
<text x="73.25" y="99.81">T</text>
<text x="80.34" y="99.81">C</text>
<text x="87.42" y="99.81">A</text>
<text x="94.51" y="99.81">A</text>
<text x="101.59" y="99.81">G</text>
<text x="108.68" y="99.81">C</text>
<text x="115.76" y="99.81">C</text>
<text x="122.85" y="99.81">C</text>
<text x="129.93" y="99.81">A</text>
<text x="137.02" y="99.81">A</text>
<rect x="142.80" y="97.22" width="2.60" height="1.00" fill="#3a3636" />
<text x="151.19" y="99.81">C</text>
<text x="158.27" y="99.81">G</text>
<text x="165.36" y="99.81">G</text>
<text x="172.44" y="99.81">A</text>
<text x="179.53" y="99.81">G</text>
<text x="186.61" y="99.81">G</text>
<text x="193.70" y="99.81">C</text>
<text x="200.78" y="99.81">T</text>
<text x="207.87" y="99.81">G</text>
<text x="214.95" y="99.81">G</text>
<text x="222.04" y="99.81">T</text>
<text x="229.12" y="99.81">A</text>
<text x="236.21" y="99.81">A</text>
<text x="243.29" y="99.81">G</text>
<text x="250.38" y="99.81">A</text>
<text x="257.46" y="99.81">A</text>
<text x="264.55" y="99.81">A</text>
<text x="30.74" y="106.88">C</text>
<text x="37.83" y="106.88">G</text>
<text x="44.91" y="106.88">C</text>
<text x="52.00" y="106.88">T</text>
<text x="59.08" y="106.88">C</text>
<text x="66.17" y="106.88">A</text>
<text x="73.25" y="106.88">T</text>
<text x="80.34" y="106.88">C</text>
<text x="87.42" y="106.88">A</text>
<text x="94.51" y="106.88">A</text>
<text x="101.59" y="106.88">G</text>
<text x="108.68" y="106.88">C</text>
<text x="115.76" y="106.88">C</text>
<text x="122.85" y="106.88">C</text>
<text x="129.93" y="106.88">A</text>
<text x="137.02" y="106.88">A</text>
<text x="144.10" y="106.88">G</text>
<rect x="149.89" y="104.28" width="2.60" height="1.00" fill="#3a3636" />
<text x="158.27" y="106.88">G</text>
<text x="165.36" y="106.88">G</text>
<text x="172.44" y="106.88">A</text>
<text x="179.53" y="106.88">G</text>
<text x="186.61" y="106.88">G</text>
<text x="193.70" y="106.88">C</text>
<text x="200.78" y="106.88">T</text>
<text x="207.87" y="106.88">G</text>
<text x="214.95" y="106.88">G</text>
<text x="222.04" y="106.88">T</text>
<text x="229.12" y="106.88">A</text>
<text x="236.21" y="106.88">A</text>
<text x="243.29" y="106.88">G</text>
<text x="250.38" y="106.88">A</text>
<text x="257.46" y="106.88">A</text>
<text x="264.55" y="106.88">A</text>
<text x="30.74" y="113.95">C</text>
<text x="37.83" y="113.95">G</text>
<text x="44.91" y="113.95">C</text>
<text x="52.00" y="113.95">T</text>
<text x="59.08" y="113.95">C</text>
<text x="66.17" y="113.95">A</text>
<text x="73.25" y="113.95">T</text>
<text x="80.34" y="113.95">C</text>
<text x="87.42" y="113.95">A</text>
<text x="94.51" y="113.95">A</text>
<text x="101.59" y="113.95">G</text>
<text x="108.68" y="113.95">C</text>
<text x="115.76" y="113.95">C</text>
<text x="122.85" y="113.95">C</text>
<text x="129.93" y="113.95">A</text>
<rect x="135.72" y="111.36" width="2.60" height="1.00" fill="#3a3636" />
<rect x="142.80" y="111.36" width="2.60" height="1.00" fill="#3a3636" />
<rect x="149.89" y="111.36" width="2.60" height="1.00" fill="#3a3636" />
<rect x="156.97" y="111.36" width="2.60" height="1.00" fill="#3a3636" />
<rect x="164.06" y="111.36" width="2.60" height="1.00" fill="#3a3636" />
<text x="172.44" y="113.95">A</text>
<text x="179.53" y="113.95">G</text>
<text x="186.61" y="113.95">G</text>
<text x="193.70" y="113.95">C</text>
<text x="200.78" y="113.95">T</text>
<text x="207.87" y="113.95">G</text>
<text x="214.95" y="113.95">G</text>
<text x="222.04" y="113.95">T</text>
<text x="229.12" y="113.95">A</text>
<text x="236.21" y="113.95">A</text>
<text x="243.29" y="113.95">G</text>
<text x="250.38" y="113.95">A</text>
<text x="257.46" y="113.95">A</text>
<text x="264.55" y="113.95">A</text>
<text x="30.74" y="121.03">C</text>
<text x="37.83" y="121.03">G</text>
<text x="44.91" y="121.03">C</text>
<text x="52.00" y="121.03">T</text>
<rect x="57.78" y="118.43" width="2.60" height="1.00" fill="#3a3636" />
<rect x="64.87" y="118.43" width="2.60" height="1.00" fill="#3a3636" />
<rect x="71.95" y="118.43" width="2.60" height="1.00" fill="#3a3636" />
<rect x="79.04" y="118.43" width="2.60" height="1.00" fill="#3a3636" />
<rect x="86.12" y="118.43" width="2.60" height="1.00" fill="#3a3636" />
<rect x="93.21" y="118.43" width="2.60" height="1.00" fill="#3a3636" />
<rect x="100.29" y="118.43" width="2.60" height="1.00" fill="#3a3636" />
<rect x="107.38" y="118.43" width="2.60" height="1.00" fill="#3a3636" />
<rect x="114.46" y="118.43" width="2.60" height="1.00" fill="#3a3636" />
<rect x="121.55" y="118.43" width="2.60" height="1.00" fill="#3a3636" />
<rect x="128.63" y="118.43" width="2.60" height="1.00" fill="#3a3636" />
<rect x="135.72" y="118.43" width="2.60" height="1.00" fill="#3a3636" />
<rect x="142.80" y="118.43" width="2.60" height="1.00" fill="#3a3636" />
<rect x="149.89" y="118.43" width="2.60" height="1.00" fill="#3a3636" />
<rect x="156.97" y="118.43" width="2.60" height="1.00" fill="#3a3636" />
<rect x="164.06" y="118.43" width="2.60" height="1.00" fill="#3a3636" />
<rect x="171.14" y="118.43" width="2.60" height="1.00" fill="#3a3636" />
<rect x="178.23" y="118.43" width="2.60" height="1.00" fill="#3a3636" />
<rect x="185.31" y="118.43" width="2.60" height="1.00" fill="#3a3636" />
<rect x="192.40" y="118.43" width="2.60" height="1.00" fill="#3a3636" />
<rect x="199.48" y="118.43" width="2.60" height="1.00" fill="#3a3636" />
<rect x="206.57" y="118.43" width="2.60" height="1.00" fill="#3a3636" />
<rect x="213.65" y="118.43" width="2.60" height="1.00" fill="#3a3636" />
<rect x="220.74" y="118.43" width="2.60" height="1.00" fill="#3a3636" />
<rect x="227.82" y="118.43" width="2.60" height="1.00" fill="#3a3636" />
<rect x="234.91" y="118.43" width="2.60" height="1.00" fill="#3a3636" />
<rect x="241.99" y="118.43" width="2.60" height="1.00" fill="#3a3636" />
<rect x="249.08" y="118.43" width="2.60" height="1.00" fill="#3a3636" />
<rect x="256.16" y="118.43" width="2.60" height="1.00" fill="#3a3636" />
<rect x="263.25" y="118.43" width="2.60" height="1.00" fill="#3a3636" />
<text x="30.74" y="128.09">C</text>
<text x="37.83" y="128.09">G</text>
<text x="44.91" y="128.09">C</text>
<text x="52.00" y="128.09">T</text>
<text x="59.08" y="128.09">C</text>
<text x="66.17" y="128.09">A</text>
<text x="73.25" y="128.09">T</text>
<text x="80.34" y="128.09">C</text>
<text x="87.42" y="128.09">A</text>
<text x="94.51" y="128.09">A</text>
<rect x="100.29" y="125.50" width="2.60" height="1.00" fill="#3a3636" />
<rect x="107.38" y="125.50" width="2.60" height="1.00" fill="#3a3636" />
<rect x="114.46" y="125.50" width="2.60" height="1.00" fill="#3a3636" />
<rect x="121.55" y="125.50" width="2.60" height="1.00" fill="#3a3636" />
<rect x="128.63" y="125.50" width="2.60" height="1.00" fill="#3a3636" />
<rect x="135.72" y="125.50" width="2.60" height="1.00" fill="#3a3636" />
<rect x="142.80" y="125.50" width="2.60" height="1.00" fill="#3a3636" />
<rect x="149.89" y="125.50" width="2.60" height="1.00" fill="#3a3636" />
<rect x="156.97" y="125.50" width="2.60" height="1.00" fill="#3a3636" />
<rect x="164.06" y="125.50" width="2.60" height="1.00" fill="#3a3636" />
<rect x="171.14" y="125.50" width="2.60" height="1.00" fill="#3a3636" />
<rect x="178.23" y="125.50" width="2.60" height="1.00" fill="#3a3636" />
<text x="186.61" y="128.09">G</text>
<text x="193.70" y="128.09">C</text>
<text x="200.78" y="128.09">T</text>
<text x="207.87" y="128.09">G</text>
<text x="214.95" y="128.09">G</text>
<text x="222.04" y="128.09">T</text>
<text x="229.12" y="128.09">A</text>
<text x="236.21" y="128.09">A</text>
<text x="243.29" y="128.09">G</text>
<text x="250.38" y="128.09">A</text>
<text x="257.46" y="128.09">A</text>
<text x="264.55" y="128.09">A</text>
<text x="30.74" y="135.16">C</text>
<text x="37.83" y="135.16">G</text>
<text x="44.91" y="135.16">C</text>
<text x="52.00" y="135.16">T</text>
<text x="59.08" y="135.16">C</text>
<text x="66.17" y="135.16">A</text>
<text x="73.25" y="135.16">T</text>
<text x="80.34" y="135.16">C</text>
<text x="87.42" y="135.16">A</text>
<rect x="93.21" y="132.56" width="2.60" height="1.00" fill="#3a3636" />
<rect x="100.29" y="132.56" width="2.60" height="1.00" fill="#3a3636" />
<rect x="107.38" y="132.56" width="2.60" height="1.00" fill="#3a3636" />
<rect x="114.46" y="132.56" width="2.60" height="1.00" fill="#3a3636" />
<rect x="121.55" y="132.56" width="2.60" height="1.00" fill="#3a3636" />
<rect x="128.63" y="132.56" width="2.60" height="1.00" fill="#3a3636" />
<rect x="135.72" y="132.56" width="2.60" height="1.00" fill="#3a3636" />
<rect x="142.80" y="132.56" width="2.60" height="1.00" fill="#3a3636" />
<rect x="149.89" y="132.56" width="2.60" height="1.00" fill="#3a3636" />
<rect x="156.97" y="132.56" width="2.60" height="1.00" fill="#3a3636" />
<rect x="164.06" y="132.56" width="2.60" height="1.00" fill="#3a3636" />
<text x="172.44" y="135.16">A</text>
<text x="179.53" y="135.16">G</text>
<text x="186.61" y="135.16">G</text>
<text x="193.70" y="135.16">C</text>
<text x="200.78" y="135.16">T</text>
<text x="207.87" y="135.16">G</text>
<text x="214.95" y="135.16">G</text>
<text x="222.04" y="135.16">T</text>
<text x="229.12" y="135.16">A</text>
<text x="236.21" y="135.16">A</text>
<text x="243.29" y="135.16">G</text>
<text x="250.38" y="135.16">A</text>
<text x="257.46" y="135.16">A</text>
<text x="264.55" y="135.16">A</text>
<text x="30.74" y="142.24">C</text>
<text x="37.83" y="142.24">G</text>
<text x="44.91" y="142.24">C</text>
<text x="52.00" y="142.24">T</text>
<text x="59.08" y="142.24">C</text>
<text x="66.17" y="142.24">A</text>
<text x="73.25" y="142.24">T</text>
<text x="80.34" y="142.24">C</text>
<text x="87.42" y="142.24">A</text>
<text x="94.51" y="142.24">A</text>
<text x="101.59" y="142.24">G</text>
<text x="108.68" y="142.24">C</text>
<text x="115.76" y="142.24">C</text>
<rect x="121.55" y="139.64" width="2.60" height="1.00" fill="#3a3636" />
<rect x="128.63" y="139.64" width="2.60" height="1.00" fill="#3a3636" />
<rect x="135.72" y="139.64" width="2.60" height="1.00" fill="#3a3636" />
<rect x="142.80" y="139.64" width="2.60" height="1.00" fill="#3a3636" />
<text x="151.19" y="142.24">C</text>
<text x="158.27" y="142.24">G</text>
<text x="165.36" y="142.24">G</text>
<text x="172.44" y="142.24">A</text>
<text x="179.53" y="142.24">G</text>
<text x="186.61" y="142.24">G</text>
<text x="193.70" y="142.24">C</text>
<text x="200.78" y="142.24">T</text>
<text x="207.87" y="142.24">G</text>
<text x="214.95" y="142.24">G</text>
<text x="222.04" y="142.24">T</text>
<text x="229.12" y="142.24">A</text>
<text x="236.21" y="142.24">A</text>
<text x="243.29" y="142.24">G</text>
<text x="250.38" y="142.24">A</text>
<text x="257.46" y="142.24">A</text>
<text x="264.55" y="142.24">A</text>
<rect x="29.44" y="146.71" width="2.60" height="1.00" fill="#3a3636" />
<rect x="36.53" y="146.71" width="2.60" height="1.00" fill="#3a3636" />
<rect x="43.61" y="146.71" width="2.60" height="1.00" fill="#3a3636" />
<rect x="50.70" y="146.71" width="2.60" height="1.00" fill="#3a3636" />
<rect x="57.78" y="146.71" width="2.60" height="1.00" fill="#3a3636" />
<rect x="64.87" y="146.71" width="2.60" height="1.00" fill="#3a3636" />
<rect x="71.95" y="146.71" width="2.60" height="1.00" fill="#3a3636" />
<rect x="79.04" y="146.71" width="2.60" height="1.00" fill="#3a3636" />
<rect x="86.12" y="146.71" width="2.60" height="1.00" fill="#3a3636" />
<rect x="93.21" y="146.71" width="2.60" height="1.00" fill="#3a3636" />
<rect x="100.29" y="146.71" width="2.60" height="1.00" fill="#3a3636" />
<rect x="107.38" y="146.71" width="2.60" height="1.00" fill="#3a3636" />
<rect x="114.46" y="146.71" width="2.60" height="1.00" fill="#3a3636" />
<rect x="121.55" y="146.71" width="2.60" height="1.00" fill="#3a3636" />
<rect x="128.63" y="146.71" width="2.60" height="1.00" fill="#3a3636" />
<rect x="135.72" y="146.71" width="2.60" height="1.00" fill="#3a3636" />
<rect x="142.80" y="146.71" width="2.60" height="1.00" fill="#3a3636" />
<rect x="149.89" y="146.71" width="2.60" height="1.00" fill="#3a3636" />
<rect x="156.97" y="146.71" width="2.60" height="1.00" fill="#3a3636" />
<rect x="164.06" y="146.71" width="2.60" height="1.00" fill="#3a3636" />
<rect x="171.14" y="146.71" width="2.60" height="1.00" fill="#3a3636" />
<rect x="178.23" y="146.71" width="2.60" height="1.00" fill="#3a3636" />
<rect x="185.31" y="146.71" width="2.60" height="1.00" fill="#3a3636" />
<rect x="192.40" y="146.71" width="2.60" height="1.00" fill="#3a3636" />
<rect x="199.48" y="146.71" width="2.60" height="1.00" fill="#3a3636" />
<rect x="206.57" y="146.71" width="2.60" height="1.00" fill="#3a3636" />
<rect x="213.65" y="146.71" width="2.60" height="1.00" fill="#3a3636" />
<rect x="220.74" y="146.71" width="2.60" height="1.00" fill="#3a3636" />
<rect x="227.82" y="146.71" width="2.60" height="1.00" fill="#3a3636" />
<rect x="234.91" y="146.71" width="2.60" height="1.00" fill="#3a3636" />
<rect x="241.99" y="146.71" width="2.60" height="1.00" fill="#3a3636" />
<rect x="249.08" y="146.71" width="2.60" height="1.00" fill="#3a3636" />
<rect x="256.16" y="146.71" width="2.60" height="1.00" fill="#3a3636" />
<rect x="263.25" y="146.71" width="2.60" height="1.00" fill="#3a3636" />
<text x="30.74" y="156.38">G</text>
<text x="37.83" y="156.38">C</text>
<text x="44.91" y="156.38">T</text>
<text x="52.00" y="156.38">C</text>
<text x="59.08" y="156.38">A</text>
<text x="66.17" y="156.38">T</text>
<text x="73.25" y="156.38">C</text>
<text x="80.34" y="156.38">A</text>
<text x="87.42" y="156.38">A</text>
<text x="94.51" y="156.38">G</text>
<text x="101.59" y="156.38">C</text>
<text x="108.68" y="156.38">C</text>
<text x="115.76" y="156.38">C</text>
<text x="122.85" y="156.38">A</text>
<text x="129.93" y="156.38">A</text>
<text x="137.02" y="156.38">G</text>
<text x="144.10" y="156.38">G</text>
<text x="151.19" y="156.38">C</text>
<text x="158.27" y="156.38">G</text>
<text x="165.36" y="156.38">G</text>
<text x="172.44" y="156.38">A</text>
<text x="179.53" y="156.38">G</text>
<text x="186.61" y="156.38">G</text>
<text x="193.70" y="156.38">C</text>
<text x="200.78" y="156.38">T</text>
<text x="207.87" y="156.38">G</text>
<text x="214.95" y="156.38">G</text>
<text x="222.04" y="156.38">T</text>
<text x="229.12" y="156.38">A</text>
<text x="236.21" y="156.38">A</text>
<text x="243.29" y="156.38">G</text>
<text x="250.38" y="156.38">A</text>
<text x="257.46" y="156.38">A</text>
<text x="264.55" y="156.38">A</text>
<rect x="29.44" y="160.84" width="2.60" height="1.00" fill="#3a3636" />
<rect x="36.53" y="160.84" width="2.60" height="1.00" fill="#3a3636" />
<rect x="43.61" y="160.84" width="2.60" height="1.00" fill="#3a3636" />
<rect x="50.70" y="160.84" width="2.60" height="1.00" fill="#3a3636" />
<rect x="57.78" y="160.84" width="2.60" height="1.00" fill="#3a3636" />
<rect x="64.87" y="160.84" width="2.60" height="1.00" fill="#3a3636" />
<rect x="71.95" y="160.84" width="2.60" height="1.00" fill="#3a3636" />
<rect x="79.04" y="160.84" width="2.60" height="1.00" fill="#3a3636" />
<rect x="86.12" y="160.84" width="2.60" height="1.00" fill="#3a3636" />
<rect x="93.21" y="160.84" width="2.60" height="1.00" fill="#3a3636" />
<rect x="100.29" y="160.84" width="2.60" height="1.00" fill="#3a3636" />
<rect x="107.38" y="160.84" width="2.60" height="1.00" fill="#3a3636" />
<rect x="114.46" y="160.84" width="2.60" height="1.00" fill="#3a3636" />
<rect x="121.55" y="160.84" width="2.60" height="1.00" fill="#3a3636" />
<rect x="128.63" y="160.84" width="2.60" height="1.00" fill="#3a3636" />
<rect x="135.72" y="160.84" width="2.60" height="1.00" fill="#3a3636" />
<rect x="142.80" y="160.84" width="2.60" height="1.00" fill="#3a3636" />
<rect x="149.89" y="160.84" width="2.60" height="1.00" fill="#3a3636" />
<rect x="156.97" y="160.84" width="2.60" height="1.00" fill="#3a3636" />
<rect x="164.06" y="160.84" width="2.60" height="1.00" fill="#3a3636" />
<rect x="171.14" y="160.84" width="2.60" height="1.00" fill="#3a3636" />
<rect x="178.23" y="160.84" width="2.60" height="1.00" fill="#3a3636" />
<rect x="185.31" y="160.84" width="2.60" height="1.00" fill="#3a3636" />
<rect x="192.40" y="160.84" width="2.60" height="1.00" fill="#3a3636" />
<rect x="199.48" y="160.84" width="2.60" height="1.00" fill="#3a3636" />
<rect x="206.57" y="160.84" width="2.60" height="1.00" fill="#3a3636" />
<rect x="213.65" y="160.84" width="2.60" height="1.00" fill="#3a3636" />
<rect x="220.74" y="160.84" width="2.60" height="1.00" fill="#3a3636" />
<rect x="227.82" y="160.84" width="2.60" height="1.00" fill="#3a3636" />
<rect x="234.91" y="160.84" width="2.60" height="1.00" fill="#3a3636" />
<rect x="241.99" y="160.84" width="2.60" height="1.00" fill="#3a3636" />
<rect x="249.08" y="160.84" width="2.60" height="1.00" fill="#3a3636" />
<rect x="256.16" y="160.84" width="2.60" height="1.00" fill="#3a3636" />
<rect x="263.25" y="160.84" width="2.60" height="1.00" fill="#3a3636" />
<text x="30.74" y="170.51">C</text>
<text x="37.83" y="170.51">G</text>
<text x="44.91" y="170.51">C</text>
<text x="52.00" y="170.51">T</text>
<text x="59.08" y="170.51">C</text>
<text x="66.17" y="170.51">A</text>
<text x="73.25" y="170.51">T</text>
<text x="80.34" y="170.51">C</text>
<text x="87.42" y="170.51">A</text>
<text x="94.51" y="170.51">A</text>
<text x="101.59" y="170.51">G</text>
<text x="108.68" y="170.51">C</text>
<text x="115.76" y="170.51">C</text>
<text x="122.85" y="170.51">C</text>
<rect x="128.63" y="167.91" width="2.60" height="1.00" fill="#3a3636" />
<rect x="135.72" y="167.91" width="2.60" height="1.00" fill="#3a3636" />
<rect x="142.80" y="167.91" width="2.60" height="1.00" fill="#3a3636" />
<text x="151.19" y="170.51">C</text>
<text x="158.27" y="170.51">G</text>
<text x="165.36" y="170.51">G</text>
<text x="172.44" y="170.51">A</text>
<text x="179.53" y="170.51">G</text>
<text x="186.61" y="170.51">G</text>
<text x="193.70" y="170.51">C</text>
<text x="200.78" y="170.51">T</text>
<text x="207.87" y="170.51">G</text>
<text x="214.95" y="170.51">G</text>
<text x="222.04" y="170.51">T</text>
<text x="229.12" y="170.51">A</text>
<text x="236.21" y="170.51">A</text>
<text x="243.29" y="170.51">G</text>
<text x="250.38" y="170.51">A</text>
<text x="257.46" y="170.51">A</text>
<text x="264.55" y="170.51">A</text>
<rect x="29.44" y="174.99" width="2.60" height="1.00" fill="#3a3636" />
<rect x="36.53" y="174.99" width="2.60" height="1.00" fill="#3a3636" />
<rect x="43.61" y="174.99" width="2.60" height="1.00" fill="#3a3636" />
<rect x="50.70" y="174.99" width="2.60" height="1.00" fill="#3a3636" />
<rect x="57.78" y="174.99" width="2.60" height="1.00" fill="#3a3636" />
<rect x="64.87" y="174.99" width="2.60" height="1.00" fill="#3a3636" />
<rect x="71.95" y="174.99" width="2.60" height="1.00" fill="#3a3636" />
<rect x="79.04" y="174.99" width="2.60" height="1.00" fill="#3a3636" />
<rect x="86.12" y="174.99" width="2.60" height="1.00" fill="#3a3636" />
<rect x="93.21" y="174.99" width="2.60" height="1.00" fill="#3a3636" />
<rect x="100.29" y="174.99" width="2.60" height="1.00" fill="#3a3636" />
<rect x="107.38" y="174.99" width="2.60" height="1.00" fill="#3a3636" />
<rect x="114.46" y="174.99" width="2.60" height="1.00" fill="#3a3636" />
<rect x="121.55" y="174.99" width="2.60" height="1.00" fill="#3a3636" />
<rect x="128.63" y="174.99" width="2.60" height="1.00" fill="#3a3636" />
<rect x="135.72" y="174.99" width="2.60" height="1.00" fill="#3a3636" />
<rect x="142.80" y="174.99" width="2.60" height="1.00" fill="#3a3636" />
<rect x="149.89" y="174.99" width="2.60" height="1.00" fill="#3a3636" />
<rect x="156.97" y="174.99" width="2.60" height="1.00" fill="#3a3636" />
<rect x="164.06" y="174.99" width="2.60" height="1.00" fill="#3a3636" />
<rect x="171.14" y="174.99" width="2.60" height="1.00" fill="#3a3636" />
<rect x="178.23" y="174.99" width="2.60" height="1.00" fill="#3a3636" />
<rect x="185.31" y="174.99" width="2.60" height="1.00" fill="#3a3636" />
<rect x="192.40" y="174.99" width="2.60" height="1.00" fill="#3a3636" />
<rect x="199.48" y="174.99" width="2.60" height="1.00" fill="#3a3636" />
<rect x="206.57" y="174.99" width="2.60" height="1.00" fill="#3a3636" />
<rect x="213.65" y="174.99" width="2.60" height="1.00" fill="#3a3636" />
<rect x="220.74" y="174.99" width="2.60" height="1.00" fill="#3a3636" />
<rect x="227.82" y="174.99" width="2.60" height="1.00" fill="#3a3636" />
<text x="236.21" y="177.59">A</text>
<text x="243.29" y="177.59">G</text>
<text x="250.38" y="177.59">A</text>
<text x="257.46" y="177.59">A</text>
<text x="264.55" y="177.59">A</text>
<text x="30.74" y="184.66">C</text>
<rect x="36.53" y="182.06" width="2.60" height="1.00" fill="#3a3636" />
<rect x="43.61" y="182.06" width="2.60" height="1.00" fill="#3a3636" />
<rect x="50.70" y="182.06" width="2.60" height="1.00" fill="#3a3636" />
<rect x="57.78" y="182.06" width="2.60" height="1.00" fill="#3a3636" />
<rect x="64.87" y="182.06" width="2.60" height="1.00" fill="#3a3636" />
<rect x="71.95" y="182.06" width="2.60" height="1.00" fill="#3a3636" />
<rect x="79.04" y="182.06" width="2.60" height="1.00" fill="#3a3636" />
<rect x="86.12" y="182.06" width="2.60" height="1.00" fill="#3a3636" />
<rect x="93.21" y="182.06" width="2.60" height="1.00" fill="#3a3636" />
<rect x="100.29" y="182.06" width="2.60" height="1.00" fill="#3a3636" />
<rect x="107.38" y="182.06" width="2.60" height="1.00" fill="#3a3636" />
<rect x="114.46" y="182.06" width="2.60" height="1.00" fill="#3a3636" />
<rect x="121.55" y="182.06" width="2.60" height="1.00" fill="#3a3636" />
<rect x="128.63" y="182.06" width="2.60" height="1.00" fill="#3a3636" />
<rect x="135.72" y="182.06" width="2.60" height="1.00" fill="#3a3636" />
<rect x="142.80" y="182.06" width="2.60" height="1.00" fill="#3a3636" />
<rect x="149.89" y="182.06" width="2.60" height="1.00" fill="#3a3636" />
<rect x="156.97" y="182.06" width="2.60" height="1.00" fill="#3a3636" />
<rect x="164.06" y="182.06" width="2.60" height="1.00" fill="#3a3636" />
<rect x="171.14" y="182.06" width="2.60" height="1.00" fill="#3a3636" />
<rect x="178.23" y="182.06" width="2.60" height="1.00" fill="#3a3636" />
<text x="186.61" y="184.66">G</text>
<text x="193.70" y="184.66">C</text>
<text x="200.78" y="184.66">T</text>
<text x="207.87" y="184.66">G</text>
<text x="214.95" y="184.66">G</text>
<text x="222.04" y="184.66">T</text>
<text x="229.12" y="184.66">A</text>
<text x="236.21" y="184.66">A</text>
<text x="243.29" y="184.66">G</text>
<text x="250.38" y="184.66">A</text>
<text x="257.46" y="184.66">A</text>
<text x="264.55" y="184.66">A</text>
<rect x="29.44" y="189.12" width="2.60" height="1.00" fill="#3a3636" />
<rect x="36.53" y="189.12" width="2.60" height="1.00" fill="#3a3636" />
<rect x="43.61" y="189.12" width="2.60" height="1.00" fill="#3a3636" />
<rect x="50.70" y="189.12" width="2.60" height="1.00" fill="#3a3636" />
<rect x="57.78" y="189.12" width="2.60" height="1.00" fill="#3a3636" />
<rect x="64.87" y="189.12" width="2.60" height="1.00" fill="#3a3636" />
<rect x="71.95" y="189.12" width="2.60" height="1.00" fill="#3a3636" />
<rect x="79.04" y="189.12" width="2.60" height="1.00" fill="#3a3636" />
<rect x="86.12" y="189.12" width="2.60" height="1.00" fill="#3a3636" />
<rect x="93.21" y="189.12" width="2.60" height="1.00" fill="#3a3636" />
<rect x="100.29" y="189.12" width="2.60" height="1.00" fill="#3a3636" />
<rect x="107.38" y="189.12" width="2.60" height="1.00" fill="#3a3636" />
<rect x="114.46" y="189.12" width="2.60" height="1.00" fill="#3a3636" />
<rect x="121.55" y="189.12" width="2.60" height="1.00" fill="#3a3636" />
<rect x="128.63" y="189.12" width="2.60" height="1.00" fill="#3a3636" />
<rect x="135.72" y="189.12" width="2.60" height="1.00" fill="#3a3636" />
<rect x="142.80" y="189.12" width="2.60" height="1.00" fill="#3a3636" />
<rect x="149.89" y="189.12" width="2.60" height="1.00" fill="#3a3636" />
<rect x="156.97" y="189.12" width="2.60" height="1.00" fill="#3a3636" />
<rect x="164.06" y="189.12" width="2.60" height="1.00" fill="#3a3636" />
<rect x="171.14" y="189.12" width="2.60" height="1.00" fill="#3a3636" />
<rect x="178.23" y="189.12" width="2.60" height="1.00" fill="#3a3636" />
<rect x="185.31" y="189.12" width="2.60" height="1.00" fill="#3a3636" />
<rect x="192.40" y="189.12" width="2.60" height="1.00" fill="#3a3636" />
<rect x="199.48" y="189.12" width="2.60" height="1.00" fill="#3a3636" />
<rect x="206.57" y="189.12" width="2.60" height="1.00" fill="#3a3636" />
<rect x="213.65" y="189.12" width="2.60" height="1.00" fill="#3a3636" />
<rect x="220.74" y="189.12" width="2.60" height="1.00" fill="#3a3636" />
<rect x="227.82" y="189.12" width="2.60" height="1.00" fill="#3a3636" />
<rect x="234.91" y="189.12" width="2.60" height="1.00" fill="#3a3636" />
<rect x="241.99" y="189.12" width="2.60" height="1.00" fill="#3a3636" />
<rect x="249.08" y="189.12" width="2.60" height="1.00" fill="#3a3636" />
<rect x="256.16" y="189.12" width="2.60" height="1.00" fill="#3a3636" />
<rect x="263.25" y="189.12" width="2.60" height="1.00" fill="#3a3636" />
<rect x="29.44" y="196.20" width="2.60" height="1.00" fill="#3a3636" />
<rect x="36.53" y="196.20" width="2.60" height="1.00" fill="#3a3636" />
<rect x="43.61" y="196.20" width="2.60" height="1.00" fill="#3a3636" />
<rect x="50.70" y="196.20" width="2.60" height="1.00" fill="#3a3636" />
<rect x="57.78" y="196.20" width="2.60" height="1.00" fill="#3a3636" />
<rect x="64.87" y="196.20" width="2.60" height="1.00" fill="#3a3636" />
<rect x="71.95" y="196.20" width="2.60" height="1.00" fill="#3a3636" />
<rect x="79.04" y="196.20" width="2.60" height="1.00" fill="#3a3636" />
<rect x="86.12" y="196.20" width="2.60" height="1.00" fill="#3a3636" />
<rect x="93.21" y="196.20" width="2.60" height="1.00" fill="#3a3636" />
<rect x="100.29" y="196.20" width="2.60" height="1.00" fill="#3a3636" />
<rect x="107.38" y="196.20" width="2.60" height="1.00" fill="#3a3636" />
<rect x="114.46" y="196.20" width="2.60" height="1.00" fill="#3a3636" />
<rect x="121.55" y="196.20" width="2.60" height="1.00" fill="#3a3636" />
<rect x="128.63" y="196.20" width="2.60" height="1.00" fill="#3a3636" />
<rect x="135.72" y="196.20" width="2.60" height="1.00" fill="#3a3636" />
<rect x="142.80" y="196.20" width="2.60" height="1.00" fill="#3a3636" />
<rect x="149.89" y="196.20" width="2.60" height="1.00" fill="#3a3636" />
<rect x="156.97" y="196.20" width="2.60" height="1.00" fill="#3a3636" />
<rect x="164.06" y="196.20" width="2.60" height="1.00" fill="#3a3636" />
<rect x="171.14" y="196.20" width="2.60" height="1.00" fill="#3a3636" />
<text x="179.53" y="198.80">G</text>
<text x="186.61" y="198.80">G</text>
<text x="193.70" y="198.80">C</text>
<text x="200.78" y="198.80">T</text>
<text x="207.87" y="198.80">G</text>
<text x="214.95" y="198.80">G</text>
<text x="222.04" y="198.80">T</text>
<text x="229.12" y="198.80">A</text>
<text x="236.21" y="198.80">A</text>
<text x="243.29" y="198.80">G</text>
<text x="250.38" y="198.80">A</text>
<text x="257.46" y="198.80">A</text>
<text x="264.55" y="198.80">A</text>
<text x="30.74" y="205.87">C</text>
<text x="37.83" y="205.87">G</text>
<text x="44.91" y="205.87">C</text>
<text x="52.00" y="205.87">T</text>
<text x="59.08" y="205.87">C</text>
<text x="66.17" y="205.87">A</text>
<text x="73.25" y="205.87">T</text>
<text x="80.34" y="205.87">C</text>
<text x="87.42" y="205.87">A</text>
<text x="94.51" y="205.87">A</text>
<text x="101.59" y="205.87">G</text>
<text x="108.68" y="205.87">C</text>
<rect x="114.46" y="203.27" width="2.60" height="1.00" fill="#3a3636" />
<rect x="121.55" y="203.27" width="2.60" height="1.00" fill="#3a3636" />
<rect x="128.63" y="203.27" width="2.60" height="1.00" fill="#3a3636" />
<rect x="135.72" y="203.27" width="2.60" height="1.00" fill="#3a3636" />
<rect x="142.80" y="203.27" width="2.60" height="1.00" fill="#3a3636" />
<text x="151.19" y="205.87">C</text>
<text x="158.27" y="205.87">G</text>
<text x="165.36" y="205.87">G</text>
<text x="172.44" y="205.87">A</text>
<text x="179.53" y="205.87">G</text>
<text x="186.61" y="205.87">G</text>
<text x="193.70" y="205.87">C</text>
<text x="200.78" y="205.87">T</text>
<text x="207.87" y="205.87">G</text>
<text x="214.95" y="205.87">G</text>
<text x="222.04" y="205.87">T</text>
<text x="229.12" y="205.87">A</text>
<text x="236.21" y="205.87">A</text>
<text x="243.29" y="205.87">G</text>
<text x="250.38" y="205.87">A</text>
<text x="257.46" y="205.87">A</text>
<text x="264.55" y="205.87">A</text>
<text x="30.74" y="212.94">C</text>
<text x="37.83" y="212.94">G</text>
<text x="44.91" y="212.94">C</text>
<text x="52.00" y="212.94">T</text>
<text x="59.08" y="212.94">C</text>
<text x="66.17" y="212.94">A</text>
<text x="73.25" y="212.94">T</text>
<text x="80.34" y="212.94">C</text>
<rect x="86.12" y="210.34" width="2.60" height="1.00" fill="#3a3636" />
<rect x="93.21" y="210.34" width="2.60" height="1.00" fill="#3a3636" />
<rect x="100.29" y="210.34" width="2.60" height="1.00" fill="#3a3636" />
<rect x="107.38" y="210.34" width="2.60" height="1.00" fill="#3a3636" />
<rect x="114.46" y="210.34" width="2.60" height="1.00" fill="#3a3636" />
<rect x="121.55" y="210.34" width="2.60" height="1.00" fill="#3a3636" />
<rect x="128.63" y="210.34" width="2.60" height="1.00" fill="#3a3636" />
<rect x="135.72" y="210.34" width="2.60" height="1.00" fill="#3a3636" />
<rect x="142.80" y="210.34" width="2.60" height="1.00" fill="#3a3636" />
<rect x="149.89" y="210.34" width="2.60" height="1.00" fill="#3a3636" />
<rect x="156.97" y="210.34" width="2.60" height="1.00" fill="#3a3636" />
<rect x="164.06" y="210.34" width="2.60" height="1.00" fill="#3a3636" />
<rect x="171.14" y="210.34" width="2.60" height="1.00" fill="#3a3636" />
<rect x="178.23" y="210.34" width="2.60" height="1.00" fill="#3a3636" />
<rect x="185.31" y="210.34" width="2.60" height="1.00" fill="#3a3636" />
<rect x="192.40" y="210.34" width="2.60" height="1.00" fill="#3a3636" />
<rect x="199.48" y="210.34" width="2.60" height="1.00" fill="#3a3636" />
<rect x="206.57" y="210.34" width="2.60" height="1.00" fill="#3a3636" />
<rect x="213.65" y="210.34" width="2.60" height="1.00" fill="#3a3636" />
<rect x="220.74" y="210.34" width="2.60" height="1.00" fill="#3a3636" />
<text x="229.12" y="212.94">A</text>
<text x="236.21" y="212.94">A</text>
<text x="243.29" y="212.94">G</text>
<text x="250.38" y="212.94">A</text>
<text x="257.46" y="212.94">A</text>
<text x="264.55" y="212.94">A</text>
<text x="30.74" y="220.00">C</text>
<text x="37.83" y="220.00">G</text>
<text x="44.91" y="220.00">C</text>
<text x="52.00" y="220.00">T</text>
<text x="59.08" y="220.00">C</text>
<text x="66.17" y="220.00">A</text>
<text x="73.25" y="220.00">T</text>
<text x="80.34" y="220.00">C</text>
<text x="87.42" y="220.00">A</text>
<text x="94.51" y="220.00">A</text>
<text x="101.59" y="220.00">G</text>
<text x="108.68" y="220.00">C</text>
<text x="115.76" y="220.00">C</text>
<text x="122.85" y="220.00">C</text>
<rect x="128.63" y="217.41" width="2.60" height="1.00" fill="#3a3636" />
<rect x="135.72" y="217.41" width="2.60" height="1.00" fill="#3a3636" />
<rect x="142.80" y="217.41" width="2.60" height="1.00" fill="#3a3636" />
<rect x="149.89" y="217.41" width="2.60" height="1.00" fill="#3a3636" />
<rect x="156.97" y="217.41" width="2.60" height="1.00" fill="#3a3636" />
<rect x="164.06" y="217.41" width="2.60" height="1.00" fill="#3a3636" />
<rect x="171.14" y="217.41" width="2.60" height="1.00" fill="#3a3636" />
<rect x="178.23" y="217.41" width="2.60" height="1.00" fill="#3a3636" />
<rect x="185.31" y="217.41" width="2.60" height="1.00" fill="#3a3636" />
<rect x="192.40" y="217.41" width="2.60" height="1.00" fill="#3a3636" />
<rect x="199.48" y="217.41" width="2.60" height="1.00" fill="#3a3636" />
<rect x="206.57" y="217.41" width="2.60" height="1.00" fill="#3a3636" />
<rect x="213.65" y="217.41" width="2.60" height="1.00" fill="#3a3636" />
<rect x="220.74" y="217.41" width="2.60" height="1.00" fill="#3a3636" />
<text x="229.12" y="220.00">A</text>
<text x="236.21" y="220.00">A</text>
<text x="243.29" y="220.00">G</text>
<text x="250.38" y="220.00">A</text>
<text x="257.46" y="220.00">A</text>
<text x="264.55" y="220.00">A</text>
<text x="30.74" y="227.08">C</text>
<text x="37.83" y="227.08">G</text>
<text x="44.91" y="227.08">C</text>
<text x="52.00" y="227.08">T</text>
<text x="59.08" y="227.08">C</text>
<text x="66.17" y="227.08">A</text>
<text x="73.25" y="227.08">T</text>
<rect x="79.04" y="224.48" width="2.60" height="1.00" fill="#3a3636" />
<rect x="86.12" y="224.48" width="2.60" height="1.00" fill="#3a3636" />
<rect x="93.21" y="224.48" width="2.60" height="1.00" fill="#3a3636" />
<rect x="100.29" y="224.48" width="2.60" height="1.00" fill="#3a3636" />
<rect x="107.38" y="224.48" width="2.60" height="1.00" fill="#3a3636" />
<rect x="114.46" y="224.48" width="2.60" height="1.00" fill="#3a3636" />
<text x="122.85" y="227.08">C</text>
<text x="129.93" y="227.08">A</text>
<text x="137.02" y="227.08">A</text>
<text x="144.10" y="227.08">G</text>
<text x="151.19" y="227.08">C</text>
<text x="158.27" y="227.08">G</text>
<text x="165.36" y="227.08">G</text>
<text x="172.44" y="227.08">A</text>
<text x="179.53" y="227.08">G</text>
<text x="186.61" y="227.08">G</text>
<text x="193.70" y="227.08">C</text>
<text x="200.78" y="227.08">T</text>
<text x="207.87" y="227.08">G</text>
<text x="214.95" y="227.08">G</text>
<text x="222.04" y="227.08">T</text>
<text x="229.12" y="227.08">A</text>
<text x="236.21" y="227.08">A</text>
<text x="243.29" y="227.08">G</text>
<text x="250.38" y="227.08">A</text>
<text x="257.46" y="227.08">A</text>
<text x="264.55" y="227.08">A</text>
<text x="30.74" y="234.15">C</text>
<text x="37.83" y="234.15">G</text>
<text x="44.91" y="234.15">C</text>
<text x="52.00" y="234.15">T</text>
<text x="59.08" y="234.15">C</text>
<text x="66.17" y="234.15">A</text>
<text x="73.25" y="234.15">T</text>
<text x="80.34" y="234.15">C</text>
<text x="87.42" y="234.15">A</text>
<text x="94.51" y="234.15">A</text>
<text x="101.59" y="234.15">G</text>
<text x="108.68" y="234.15">C</text>
<rect x="114.46" y="231.55" width="2.60" height="1.00" fill="#3a3636" />
<rect x="121.55" y="231.55" width="2.60" height="1.00" fill="#3a3636" />
<rect x="128.63" y="231.55" width="2.60" height="1.00" fill="#3a3636" />
<rect x="135.72" y="231.55" width="2.60" height="1.00" fill="#3a3636" />
<rect x="142.80" y="231.55" width="2.60" height="1.00" fill="#3a3636" />
<rect x="149.89" y="231.55" width="2.60" height="1.00" fill="#3a3636" />
<rect x="156.97" y="231.55" width="2.60" height="1.00" fill="#3a3636" />
<rect x="164.06" y="231.55" width="2.60" height="1.00" fill="#3a3636" />
<rect x="171.14" y="231.55" width="2.60" height="1.00" fill="#3a3636" />
<rect x="178.23" y="231.55" width="2.60" height="1.00" fill="#3a3636" />
<rect x="185.31" y="231.55" width="2.60" height="1.00" fill="#3a3636" />
<text x="193.70" y="234.15">C</text>
<text x="200.78" y="234.15">T</text>
<text x="207.87" y="234.15">G</text>
<text x="214.95" y="234.15">G</text>
<text x="222.04" y="234.15">T</text>
<text x="229.12" y="234.15">A</text>
<text x="236.21" y="234.15">A</text>
<text x="243.29" y="234.15">G</text>
<text x="250.38" y="234.15">A</text>
<text x="257.46" y="234.15">A</text>
<text x="264.55" y="234.15">A</text>
<text x="30.74" y="241.22">C</text>
<text x="37.83" y="241.22">G</text>
<text x="44.91" y="241.22">C</text>
<text x="52.00" y="241.22">T</text>
<text x="59.08" y="241.22">C</text>
<text x="66.17" y="241.22">A</text>
<text x="73.25" y="241.22">T</text>
<text x="80.34" y="241.22">C</text>
<text x="87.42" y="241.22">A</text>
<text x="94.51" y="241.22">A</text>
<text x="101.59" y="241.22">G</text>
<text x="108.68" y="241.22">C</text>
<text x="115.76" y="241.22">C</text>
<text x="122.85" y="241.22">C</text>
<text x="129.93" y="241.22">A</text>
<text x="137.02" y="241.22">A</text>
<text x="144.10" y="241.22">G</text>
<rect x="149.89" y="238.62" width="2.60" height="1.00" fill="#3a3636" />
<rect x="156.97" y="238.62" width="2.60" height="1.00" fill="#3a3636" />
<rect x="164.06" y="238.62" width="2.60" height="1.00" fill="#3a3636" />
<rect x="171.14" y="238.62" width="2.60" height="1.00" fill="#3a3636" />
<text x="179.53" y="241.22">G</text>
<text x="186.61" y="241.22">G</text>
<text x="193.70" y="241.22">C</text>
<text x="200.78" y="241.22">T</text>
<text x="207.87" y="241.22">G</text>
<text x="214.95" y="241.22">G</text>
<text x="222.04" y="241.22">T</text>
<text x="229.12" y="241.22">A</text>
<text x="236.21" y="241.22">A</text>
<text x="243.29" y="241.22">G</text>
<text x="250.38" y="241.22">A</text>
<text x="257.46" y="241.22">A</text>
<text x="264.55" y="241.22">A</text>
<text x="30.74" y="248.28">C</text>
<text x="37.83" y="248.28">G</text>
<text x="44.91" y="248.28">C</text>
<text x="52.00" y="248.28">T</text>
<text x="59.08" y="248.28">C</text>
<text x="66.17" y="248.28">A</text>
<text x="73.25" y="248.28">T</text>
<text x="80.34" y="248.28">C</text>
<text x="87.42" y="248.28">A</text>
<text x="94.51" y="248.28">A</text>
<text x="101.59" y="248.28">G</text>
<text x="108.68" y="248.28">C</text>
<text x="115.76" y="248.28">C</text>
<text x="122.85" y="248.28">C</text>
<text x="129.93" y="248.28">A</text>
<rect x="135.72" y="245.69" width="2.60" height="1.00" fill="#3a3636" />
<rect x="142.80" y="245.69" width="2.60" height="1.00" fill="#3a3636" />
<rect x="149.89" y="245.69" width="2.60" height="1.00" fill="#3a3636" />
<text x="158.27" y="248.28">G</text>
<text x="165.36" y="248.28">G</text>
<text x="172.44" y="248.28">A</text>
<text x="179.53" y="248.28">G</text>
<text x="186.61" y="248.28">G</text>
<text x="193.70" y="248.28">C</text>
<text x="200.78" y="248.28">T</text>
<text x="207.87" y="248.28">G</text>
<text x="214.95" y="248.28">G</text>
<text x="222.04" y="248.28">T</text>
<text x="229.12" y="248.28">A</text>
<text x="236.21" y="248.28">A</text>
<text x="243.29" y="248.28">G</text>
<text x="250.38" y="248.28">A</text>
<text x="257.46" y="248.28">A</text>
<text x="264.55" y="248.28">A</text>
<text x="30.74" y="255.35">C</text>
<text x="37.83" y="255.35">G</text>
<text x="44.91" y="255.35">C</text>
<text x="52.00" y="255.35">T</text>
<text x="59.08" y="255.35">C</text>
<text x="66.17" y="255.35">A</text>
<text x="73.25" y="255.35">T</text>
<text x="80.34" y="255.35">C</text>
<text x="87.42" y="255.35">A</text>
<text x="94.51" y="255.35">A</text>
<text x="101.59" y="255.35">G</text>
<text x="108.68" y="255.35">C</text>
<text x="115.76" y="255.35">C</text>
<text x="122.85" y="255.35">C</text>
<text x="129.93" y="255.35">A</text>
<text x="137.02" y="255.35">A</text>
<rect x="142.80" y="252.75" width="2.60" height="1.00" fill="#3a3636" />
<rect x="149.89" y="252.75" width="2.60" height="1.00" fill="#3a3636" />
<rect x="156.97" y="252.75" width="2.60" height="1.00" fill="#3a3636" />
<rect x="164.06" y="252.75" width="2.60" height="1.00" fill="#3a3636" />
<rect x="171.14" y="252.75" width="2.60" height="1.00" fill="#3a3636" />
<rect x="178.23" y="252.75" width="2.60" height="1.00" fill="#3a3636" />
<rect x="185.31" y="252.75" width="2.60" height="1.00" fill="#3a3636" />
<rect x="192.40" y="252.75" width="2.60" height="1.00" fill="#3a3636" />
<rect x="199.48" y="252.75" width="2.60" height="1.00" fill="#3a3636" />
<rect x="206.57" y="252.75" width="2.60" height="1.00" fill="#3a3636" />
<text x="214.95" y="255.35">G</text>
<text x="222.04" y="255.35">T</text>
<text x="229.12" y="255.35">A</text>
<text x="236.21" y="255.35">A</text>
<text x="243.29" y="255.35">G</text>
<text x="250.38" y="255.35">A</text>
<text x="257.46" y="255.35">A</text>
<text x="264.55" y="255.35">A</text>
</g>
<rect x="134.07" y="151.34" width="5.88" height="5.87" fill="none" stroke="#c4122f" stroke-width="1.2"/>
<line x1="147.30" y1="64.00" x2="147.30" y2="258.50" stroke="#111" stroke-width="1.1" stroke-dasharray="7.5,2.2"/>
<path d="M143.3,58.0 L145.3,61.0" fill="none" stroke="#111" stroke-width="1.0"/>
<path d="M142.8,62.4 L147.9,59.9 L147.3,65.0 Z" fill="#111"/>
<text transform="translate(25.40,72.34) scale(0.95,1)" font-size="8.3" text-anchor="end" fill="#231f20" >10.11</text>
<text transform="translate(25.40,79.41) scale(0.95,1)" font-size="8.3" text-anchor="end" fill="#231f20" >6.88</text>
<text transform="translate(25.40,86.48) scale(0.95,1)" font-size="8.3" text-anchor="end" fill="#231f20" >4.92</text>
<text transform="translate(25.40,93.55) scale(0.95,1)" font-size="8.3" text-anchor="end" fill="#231f20" >4.10</text>
<text transform="translate(25.40,100.62) scale(0.95,1)" font-size="8.3" text-anchor="end" fill="#231f20" >4.06</text>
<text transform="translate(25.40,107.69) scale(0.95,1)" font-size="8.3" text-anchor="end" fill="#231f20" >3.84</text>
<text transform="translate(25.40,114.76) scale(0.95,1)" font-size="8.3" text-anchor="end" fill="#231f20" >2.82</text>
<text transform="translate(25.40,121.83) scale(0.95,1)" font-size="8.3" text-anchor="end" fill="#231f20" >2.14</text>
<text transform="translate(25.40,128.90) scale(0.95,1)" font-size="8.3" text-anchor="end" fill="#231f20" >2.12</text>
<text transform="translate(25.40,135.97) scale(0.95,1)" font-size="8.3" text-anchor="end" fill="#231f20" >2.10</text>
<text transform="translate(25.40,143.04) scale(0.95,1)" font-size="8.3" text-anchor="end" fill="#231f20" >2.10</text>
<text transform="translate(25.40,150.11) scale(0.95,1)" font-size="8.3" text-anchor="end" fill="#231f20" >2.07</text>
<text transform="translate(25.40,157.18) scale(0.95,1)" font-size="8.3" text-anchor="end" fill="#231f20" >2.00</text>
<text transform="translate(25.40,164.25) scale(0.95,1)" font-size="8.3" text-anchor="end" fill="#231f20" >1.75</text>
<text transform="translate(25.40,171.31) scale(0.95,1)" font-size="8.3" text-anchor="end" fill="#231f20" >1.28</text>
<text transform="translate(25.40,178.39) scale(0.95,1)" font-size="8.3" text-anchor="end" fill="#231f20" >1.27</text>
<text transform="translate(25.40,185.46) scale(0.95,1)" font-size="8.3" text-anchor="end" fill="#231f20" >1.22</text>
<text transform="translate(25.40,192.53) scale(0.95,1)" font-size="8.3" text-anchor="end" fill="#231f20" >1.06</text>
<text transform="translate(25.40,199.60) scale(0.95,1)" font-size="8.3" text-anchor="end" fill="#231f20" >1.05</text>
<text transform="translate(25.40,206.67) scale(0.95,1)" font-size="8.3" text-anchor="end" fill="#231f20" >0.98</text>
<text transform="translate(25.40,213.74) scale(0.95,1)" font-size="8.3" text-anchor="end" fill="#231f20" >0.95</text>
<text transform="translate(25.40,220.81) scale(0.95,1)" font-size="8.3" text-anchor="end" fill="#231f20" >0.72</text>
<text transform="translate(25.40,227.88) scale(0.95,1)" font-size="8.3" text-anchor="end" fill="#231f20" >0.66</text>
<text transform="translate(25.40,234.95) scale(0.95,1)" font-size="8.3" text-anchor="end" fill="#231f20" >0.56</text>
<text transform="translate(25.40,242.02) scale(0.95,1)" font-size="8.3" text-anchor="end" fill="#231f20" >0.51</text>
<text transform="translate(25.40,249.09) scale(0.95,1)" font-size="8.3" text-anchor="end" fill="#231f20" >0.48</text>
<text transform="translate(25.40,256.15) scale(0.95,1)" font-size="8.3" text-anchor="end" fill="#231f20" >0.44</text>
<g font-size="8.2" fill="#231f20">
<text x="269.6" y="72.44">1</text>
<text x="269.8" y="79.50" font-weight="bold" fill="#1b3fae">WT</text>
<text x="269.6" y="86.58">2</text>
<text x="269.6" y="93.65">3</text>
<text x="269.6" y="100.72">4</text>
<text x="269.6" y="107.78">5</text>
<text x="269.6" y="114.86">6</text>
<text x="269.6" y="121.93">7</text>
<text x="269.6" y="129.00">8</text>
<text x="269.6" y="136.06">9</text>
<text x="269.6" y="143.14">10</text>
<text x="269.6" y="150.21">11</text>
<text x="269.6" y="157.28">12</text>
<text x="269.6" y="164.34">13</text>
<text x="269.6" y="171.41">14</text>
<text x="269.6" y="178.49">15</text>
<text x="269.6" y="185.56">16</text>
<text x="269.6" y="192.62">17</text>
<text x="269.6" y="199.70">18</text>
<text x="269.6" y="206.77">19</text>
<text x="269.6" y="213.84">20</text>
<text x="269.6" y="220.91">21</text>
<text x="269.6" y="227.98">22</text>
<text x="269.6" y="235.05">23</text>
<text x="269.6" y="242.12">24</text>
<text x="269.6" y="249.19">25</text>
<text x="269.6" y="256.25">26</text>
</g>
<text x="295.30" y="39.70" font-size="12.0" text-anchor="start" font-weight="bold" fill="#000" stroke="#000" stroke-width="0.35">B</text>
<text x="315.40" y="41.60" font-size="10.0" text-anchor="start" fill="#231f20" >Bone marrow genotype</text>
<text x="432.00" y="41.80" font-size="10.1" text-anchor="start" fill="#231f20" >Guide RNA target</text>
<line x1="314.50" y1="45.30" x2="513.00" y2="45.30" stroke="#111" stroke-width="1.3" />
<line x1="312.50" y1="54.60" x2="323.50" y2="54.60" stroke="#c8102e" stroke-width="1.1" />
<circle cx="318.1" cy="54.6" r="2.30" fill="#fff" stroke="#c8102e" stroke-width="1.2"/>
<text x="325.20" y="57.30" font-size="7.35" text-anchor="start" font-style="italic" fill="#231f20" >Ctsg-PML-RARA x Cas9</text>
<text x="439.3" y="57.30" font-size="7.55" fill="#231f20"><tspan font-style="italic">Gata2</tspan> exon 2</text>
<line x1="312.50" y1="67.10" x2="323.50" y2="67.10" stroke="#c8102e" stroke-width="1.1" />
<circle cx="318.1" cy="67.1" r="2.60" fill="#c8102e"/>
<text x="325.20" y="69.80" font-size="7.35" text-anchor="start" font-style="italic" fill="#231f20" >Ctsg-PML-RARA x Cas9</text>
<text x="439.3" y="69.80" font-size="7.55" fill="#231f20"><tspan font-style="italic">Gata2</tspan> zinc finger 1</text>
<line x1="312.50" y1="79.60" x2="323.50" y2="79.60" stroke="#1f56c4" stroke-width="1.1" />
<circle cx="318.1" cy="79.6" r="2.60" fill="#1f56c4"/>
<text x="325.20" y="82.30" font-size="7.35" text-anchor="start" font-style="italic" fill="#231f20" >Ctsg-PML-RARA x Cas9</text>
<text x="439.3" y="82.30" font-size="7.55" fill="#231f20"><tspan font-style="italic">Rosa26</tspan> intron 1</text>
<line x1="312.50" y1="91.90" x2="323.50" y2="91.90" stroke="#3ee83e" stroke-width="1.1" />
<circle cx="318.1" cy="91.9" r="2.60" fill="#3ee83e"/>
<text x="325.20" y="94.60" font-size="7.35" text-anchor="start" font-style="italic" fill="#231f20" >Ctsg-PML-RARA x Cas9</text>
<text x="439.3" y="94.60" font-size="7.55" fill="#231f20">Non-targeted</text>
<line x1="312.50" y1="104.20" x2="323.50" y2="104.20" stroke="#2b1a9e" stroke-width="1.1" />
<circle cx="318.1" cy="104.2" r="2.60" fill="#2b1a9e"/>
<text x="325.20" y="106.90" font-size="7.5" text-anchor="start" fill="#231f20" >WT Cas9</text>
<text x="439.3" y="106.90" font-size="7.55" fill="#231f20"><tspan font-style="italic">Gata2</tspan> zinc finger 1</text>
<line x1="312.50" y1="116.70" x2="323.50" y2="116.70" stroke="#f07a1e" stroke-width="1.1" />
<circle cx="318.1" cy="116.7" r="2.30" fill="#fff" stroke="#f07a1e" stroke-width="1.2"/>
<line x1="315.80" y1="116.70" x2="320.40" y2="116.70" stroke="#f07a1e" stroke-width="1.0" />
<text x="325.20" y="119.40" font-size="7.5" text-anchor="start" fill="#231f20" >WT Cas9</text>
<text x="439.3" y="119.40" font-size="7.55" fill="#231f20"><tspan font-style="italic">Rosa26</tspan> intron 1</text>
<line x1="361.00" y1="136.20" x2="361.00" y2="222.20" stroke="#111" stroke-width="1.3" />
<line x1="360.40" y1="221.60" x2="463.00" y2="221.60" stroke="#111" stroke-width="1.4" />
<line x1="358.20" y1="221.50" x2="361.00" y2="221.50" stroke="#111" stroke-width="1.0" />
<text transform="translate(355.60,224.60) scale(0.9,1)" font-size="8.7" text-anchor="end" fill="#231f20" >0</text>
<line x1="358.20" y1="193.23" x2="361.00" y2="193.23" stroke="#111" stroke-width="1.0" />
<text transform="translate(355.60,196.33) scale(0.9,1)" font-size="8.7" text-anchor="end" fill="#231f20" >2000</text>
<line x1="358.20" y1="164.97" x2="361.00" y2="164.97" stroke="#111" stroke-width="1.0" />
<text transform="translate(355.60,168.07) scale(0.9,1)" font-size="8.7" text-anchor="end" fill="#231f20" >4000</text>
<line x1="358.20" y1="136.70" x2="361.00" y2="136.70" stroke="#111" stroke-width="1.0" />
<text transform="translate(355.60,139.80) scale(0.9,1)" font-size="8.7" text-anchor="end" fill="#231f20" >6000</text>
<text transform="translate(360.60,234.20) scale(0.95,1)" font-size="8.6" text-anchor="middle" fill="#231f20" >0</text>
<text transform="translate(377.45,234.20) scale(0.95,1)" font-size="8.6" text-anchor="middle" fill="#231f20" >1</text>
<text transform="translate(394.30,234.20) scale(0.95,1)" font-size="8.6" text-anchor="middle" fill="#231f20" >2</text>
<text transform="translate(411.15,234.20) scale(0.95,1)" font-size="8.6" text-anchor="middle" fill="#231f20" >3</text>
<text transform="translate(428.00,234.20) scale(0.95,1)" font-size="8.6" text-anchor="middle" fill="#231f20" >4</text>
<text transform="translate(444.85,234.20) scale(0.95,1)" font-size="8.6" text-anchor="middle" fill="#231f20" >5</text>
<text transform="translate(461.70,234.20) scale(0.95,1)" font-size="8.6" text-anchor="middle" fill="#231f20" >6</text>
<text transform="translate(411.60,245.20) scale(0.85,1)" font-size="9.4" text-anchor="middle" fill="#231f20" >Week</text>
<text transform="translate(315.20,178.50) rotate(-90) scale(0.9,1)" font-size="8.5" text-anchor="middle" fill="#231f20" >Number of colonies</text>
<text transform="translate(330.40,178.50) rotate(-90) scale(0.91,1)" font-size="8.5" text-anchor="middle" fill="#231f20" >per 10,000 cells plated</text>
<line x1="377.45" y1="203.13" x2="377.45" y2="211.61" stroke="#d0142a" stroke-width="1.0" opacity="0.85"/>
<line x1="374.95" y1="203.13" x2="379.95" y2="203.13" stroke="#d0142a" stroke-width="1.0" />
<line x1="428.00" y1="207.37" x2="428.00" y2="212.17" stroke="#d0142a" stroke-width="1.0" opacity="0.85"/>
<line x1="425.50" y1="207.37" x2="430.50" y2="207.37" stroke="#d0142a" stroke-width="1.0" />
<line x1="461.70" y1="205.95" x2="461.70" y2="192.39" stroke="#d0142a" stroke-width="1.0" opacity="0.85"/>
<line x1="459.20" y1="205.95" x2="464.20" y2="205.95" stroke="#d0142a" stroke-width="1.0" />
<path d="M377.45,211.61 L394.30,220.37 L411.15,220.65 L428.00,212.17 L444.85,215.14 L461.70,192.39" fill="none" stroke="#d0142a" stroke-width="1.3"/>
<g fill="#d0142a"><circle cx="377.5" cy="211.6" r="2.80"/><circle cx="394.3" cy="220.4" r="2.80"/><circle cx="411.2" cy="220.7" r="2.80"/><circle cx="428.0" cy="212.2" r="2.80"/><circle cx="444.9" cy="215.1" r="2.80"/><circle cx="461.7" cy="192.4" r="2.80"/></g>
<line x1="377.45" y1="201.71" x2="377.45" y2="208.78" stroke="#d0142a" stroke-width="1.0" opacity="0.85"/>
<line x1="374.95" y1="201.71" x2="379.95" y2="201.71" stroke="#d0142a" stroke-width="1.0" />
<line x1="444.85" y1="178.25" x2="444.85" y2="196.91" stroke="#d0142a" stroke-width="1.0" opacity="0.85"/>
<line x1="442.35" y1="178.25" x2="447.35" y2="178.25" stroke="#d0142a" stroke-width="1.0" />
<line x1="444.85" y1="221.50" x2="444.85" y2="196.91" stroke="#d0142a" stroke-width="1.0" opacity="0.85"/>
<line x1="442.35" y1="221.50" x2="447.35" y2="221.50" stroke="#d0142a" stroke-width="1.0" />
<line x1="461.70" y1="140.23" x2="461.70" y2="175.57" stroke="#d0142a" stroke-width="1.0" opacity="0.85"/>
<line x1="459.20" y1="140.23" x2="464.20" y2="140.23" stroke="#d0142a" stroke-width="1.0" />
<line x1="461.70" y1="210.90" x2="461.70" y2="175.57" stroke="#d0142a" stroke-width="1.0" opacity="0.85"/>
<line x1="459.20" y1="210.90" x2="464.20" y2="210.90" stroke="#d0142a" stroke-width="1.0" />
<path d="M377.45,208.78 L394.30,218.96 L411.15,218.96 L428.00,215.56 L444.85,196.91 L461.70,175.57" fill="none" stroke="#d0142a" stroke-width="1.3" stroke-dasharray="1.6,1.6"/>
<circle cx="377.5" cy="208.8" r="2.70" fill="#fff" stroke="#d0142a" stroke-width="1.3"/>
<circle cx="394.3" cy="219.0" r="2.70" fill="#fff" stroke="#d0142a" stroke-width="1.3"/>
<circle cx="411.2" cy="219.0" r="2.70" fill="#fff" stroke="#d0142a" stroke-width="1.3"/>
<circle cx="428.0" cy="215.6" r="2.70" fill="#fff" stroke="#d0142a" stroke-width="1.3"/>
<circle cx="444.9" cy="196.9" r="2.70" fill="#fff" stroke="#d0142a" stroke-width="1.3"/>
<circle cx="461.7" cy="175.6" r="2.70" fill="#fff" stroke="#d0142a" stroke-width="1.3"/>
<line x1="377.45" y1="205.25" x2="377.45" y2="212.31" stroke="#3ee83e" stroke-width="1.0" opacity="0.85"/>
<line x1="374.95" y1="205.25" x2="379.95" y2="205.25" stroke="#3ee83e" stroke-width="1.0" />
<line x1="461.70" y1="213.59" x2="461.70" y2="216.13" stroke="#3ee83e" stroke-width="1.0" opacity="0.85"/>
<line x1="459.20" y1="213.59" x2="464.20" y2="213.59" stroke="#3ee83e" stroke-width="1.0" />
<path d="M377.45,212.31 L394.30,221.50 L411.15,221.50 L428.00,220.37 L444.85,218.39 L461.70,216.13" fill="none" stroke="#3ee83e" stroke-width="1.3"/>
<g fill="#3ee83e"><circle cx="377.5" cy="212.3" r="2.80"/><circle cx="394.3" cy="221.5" r="2.80"/><circle cx="411.2" cy="221.5" r="2.80"/><circle cx="428.0" cy="220.4" r="2.80"/><circle cx="444.9" cy="218.4" r="2.80"/><circle cx="461.7" cy="216.1" r="2.80"/></g>
<path d="M377.45,216.55 L394.30,221.50 L411.15,221.50 L428.00,221.50 L444.85,221.50 L461.70,221.50" fill="none" stroke="#f07a1e" stroke-width="1.3"/>
<circle cx="377.5" cy="216.6" r="2.70" fill="#fff" stroke="#f07a1e" stroke-width="1.3"/>
<circle cx="394.3" cy="221.5" r="2.70" fill="#fff" stroke="#f07a1e" stroke-width="1.3"/>
<circle cx="411.2" cy="221.5" r="2.70" fill="#fff" stroke="#f07a1e" stroke-width="1.3"/>
<circle cx="428.0" cy="221.5" r="2.70" fill="#fff" stroke="#f07a1e" stroke-width="1.3"/>
<circle cx="444.9" cy="221.5" r="2.70" fill="#fff" stroke="#f07a1e" stroke-width="1.3"/>
<circle cx="461.7" cy="221.5" r="2.70" fill="#fff" stroke="#f07a1e" stroke-width="1.3"/>
<line x1="377.45" y1="208.78" x2="377.45" y2="213.59" stroke="#1f56c4" stroke-width="1.0" opacity="0.85"/>
<line x1="374.95" y1="208.78" x2="379.95" y2="208.78" stroke="#1f56c4" stroke-width="1.0" />
<path d="M377.45,213.59 L394.30,221.50 L411.15,221.50 L428.00,221.08 L444.85,220.09 L461.70,219.10" fill="none" stroke="#1f56c4" stroke-width="1.3"/>
<g fill="#1f56c4"><circle cx="377.5" cy="213.6" r="2.80"/><circle cx="394.3" cy="221.5" r="2.80"/><circle cx="411.2" cy="221.5" r="2.80"/><circle cx="428.0" cy="221.1" r="2.80"/><circle cx="444.9" cy="220.1" r="2.80"/><circle cx="461.7" cy="219.1" r="2.80"/></g>
<path d="M377.45,218.67 L394.30,221.50 L411.15,221.50 L428.00,221.50 L444.85,221.50 L461.70,221.50" fill="none" stroke="#2b1a9e" stroke-width="1.1"/>
<g fill="#2b1a9e"><circle cx="377.5" cy="218.7" r="2.80"/><circle cx="394.3" cy="221.5" r="2.80"/><circle cx="411.2" cy="221.5" r="2.80"/><circle cx="428.0" cy="221.5" r="2.80"/><circle cx="444.9" cy="221.5" r="2.80"/><circle cx="461.7" cy="221.5" r="2.80"/></g>
<line x1="467.50" y1="187.00" x2="467.50" y2="212.40" stroke="#111" stroke-width="1.1" />
<g fill="#111"><circle cx="470.6" cy="198.1" r="1.10"/><circle cx="470.6" cy="202.3" r="1.10"/></g>
<line x1="474.70" y1="172.80" x2="474.70" y2="214.80" stroke="#111" stroke-width="1.1" />
<g fill="#111"><circle cx="477.7" cy="187.7" r="1.10"/><circle cx="477.7" cy="191.9" r="1.10"/><circle cx="477.7" cy="196.1" r="1.10"/><circle cx="477.7" cy="200.3" r="1.10"/></g>
<text x="7.90" y="282.30" font-size="12.0" text-anchor="start" font-weight="bold" fill="#000" stroke="#000" stroke-width="0.35">C</text>
<text x="55.8" y="279.4" font-size="9.6" fill="#231f20"><tspan font-style="italic">Gata2</tspan> ZF1 allele</text>
<line x1="58.00" y1="287.40" x2="124.30" y2="287.40" stroke="#111" stroke-width="1.8" />
<line x1="58.00" y1="294.50" x2="68.50" y2="294.50" stroke="#1a47c0" stroke-width="1.2" />
<circle cx="63.6" cy="294.5" r="2.50" fill="#1a47c0"/>
<text x="70.80" y="297.40" font-size="8.2" text-anchor="start" fill="#231f20" >WT</text>
<line x1="58.00" y1="304.20" x2="68.50" y2="304.20" stroke="#c8102e" stroke-width="1.2" />
<circle cx="63.6" cy="304.2" r="2.50" fill="#c8102e"/>
<text x="70.80" y="307.10" font-size="8.2" text-anchor="start" fill="#231f20" >8</text>
<line x1="58.00" y1="313.90" x2="68.50" y2="313.90" stroke="#c8102e" stroke-width="1.2" />
<circle cx="63.6" cy="313.9" r="2.20" fill="#fff" stroke="#c8102e" stroke-width="1.2"/>
<text x="70.80" y="316.80" font-size="8.2" text-anchor="start" fill="#231f20" >9</text>
<line x1="44.10" y1="281.50" x2="44.10" y2="361.30" stroke="#111" stroke-width="1.3" />
<line x1="43.50" y1="360.80" x2="138.80" y2="360.80" stroke="#111" stroke-width="1.4" />
<line x1="41.60" y1="360.60" x2="44.10" y2="360.60" stroke="#111" stroke-width="1.0" />
<text transform="translate(41.00,363.60) scale(0.9,1)" font-size="8.5" text-anchor="end" fill="#231f20" >0</text>
<line x1="41.60" y1="344.90" x2="44.10" y2="344.90" stroke="#111" stroke-width="1.0" />
<text transform="translate(41.00,347.90) scale(0.9,1)" font-size="8.5" text-anchor="end" fill="#231f20" >20</text>
<line x1="41.60" y1="329.20" x2="44.10" y2="329.20" stroke="#111" stroke-width="1.0" />
<text transform="translate(41.00,332.20) scale(0.9,1)" font-size="8.5" text-anchor="end" fill="#231f20" >40</text>
<line x1="41.60" y1="313.50" x2="44.10" y2="313.50" stroke="#111" stroke-width="1.0" />
<text transform="translate(41.00,316.50) scale(0.9,1)" font-size="8.5" text-anchor="end" fill="#231f20" >60</text>
<line x1="41.60" y1="297.80" x2="44.10" y2="297.80" stroke="#111" stroke-width="1.0" />
<text transform="translate(41.00,300.80) scale(0.9,1)" font-size="8.5" text-anchor="end" fill="#231f20" >80</text>
<line x1="41.60" y1="282.10" x2="44.10" y2="282.10" stroke="#111" stroke-width="1.0" />
<text transform="translate(41.00,285.10) scale(0.9,1)" font-size="8.5" text-anchor="end" fill="#231f20" >100</text>
<line x1="44.90" y1="360.80" x2="44.90" y2="363.00" stroke="#111" stroke-width="1.0" />
<text transform="translate(44.10,372.60) scale(0.92,1)" font-size="8.8" text-anchor="middle" fill="#231f20" >0</text>
<line x1="59.90" y1="360.80" x2="59.90" y2="363.00" stroke="#111" stroke-width="1.0" />
<text transform="translate(59.10,372.60) scale(0.92,1)" font-size="8.8" text-anchor="middle" fill="#231f20" >1</text>
<line x1="74.90" y1="360.80" x2="74.90" y2="363.00" stroke="#111" stroke-width="1.0" />
<text transform="translate(74.10,372.60) scale(0.92,1)" font-size="8.8" text-anchor="middle" fill="#231f20" >2</text>
<line x1="89.90" y1="360.80" x2="89.90" y2="363.00" stroke="#111" stroke-width="1.0" />
<text transform="translate(89.10,372.60) scale(0.92,1)" font-size="8.8" text-anchor="middle" fill="#231f20" >3</text>
<line x1="104.90" y1="360.80" x2="104.90" y2="363.00" stroke="#111" stroke-width="1.0" />
<text transform="translate(104.10,372.60) scale(0.92,1)" font-size="8.8" text-anchor="middle" fill="#231f20" >4</text>
<line x1="119.90" y1="360.80" x2="119.90" y2="363.00" stroke="#111" stroke-width="1.0" />
<text transform="translate(119.10,372.60) scale(0.92,1)" font-size="8.8" text-anchor="middle" fill="#231f20" >5</text>
<line x1="134.90" y1="360.80" x2="134.90" y2="363.00" stroke="#111" stroke-width="1.0" />
<text transform="translate(134.10,372.60) scale(0.92,1)" font-size="8.8" text-anchor="middle" fill="#231f20" >6</text>
<text transform="translate(97.90,382.40) scale(0.85,1)" font-size="9.6" text-anchor="middle" fill="#231f20" >Week</text>
<text transform="translate(16.80,325.00) rotate(-90) scale(0.86,1)" font-size="9.0" text-anchor="middle" fill="#231f20" ><tspan font-style="italic">Gata2</tspan>  <tspan font-style="italic">ZF1</tspan> VAF (%)</text>
<path d="M44.90,359.81 L74.90,340.19 L134.90,328.96" fill="none" stroke="#c8102e" stroke-width="1.2"/>
<circle cx="44.9" cy="359.8" r="3.10" fill="#fff" stroke="#c8102e" stroke-width="1.3"/>
<circle cx="74.9" cy="340.2" r="3.10" fill="#fff" stroke="#c8102e" stroke-width="1.3"/>
<circle cx="134.9" cy="329.0" r="3.10" fill="#fff" stroke="#c8102e" stroke-width="1.3"/>
<path d="M44.90,359.42 L74.90,335.48 L134.90,326.94" fill="none" stroke="#c8102e" stroke-width="1.2"/>
<g fill="#c8102e"><circle cx="44.9" cy="359.4" r="3.30"/><circle cx="74.9" cy="335.5" r="3.30"/><circle cx="134.9" cy="326.9" r="3.30"/></g>
<path d="M44.90,355.11 L74.90,360.57 L134.90,360.57" fill="none" stroke="#1a47c0" stroke-width="1.2"/>
<g fill="#1a47c0"><circle cx="44.9" cy="355.1" r="3.30"/><circle cx="74.9" cy="360.6" r="3.30"/><circle cx="134.9" cy="360.6" r="3.30"/></g>
<text x="141.80" y="311.50" font-size="7.6" text-anchor="start" fill="#231f20" >VAF</text>
<line x1="141.00" y1="314.20" x2="158.00" y2="314.20" stroke="#8a8a8a" stroke-width="1.0" />
<text x="141.80" y="324.10" font-size="7.3" text-anchor="start" fill="#231f20" >42.88%</text>
<text x="141.80" y="336.90" font-size="7.3" text-anchor="start" fill="#231f20" >40.31%</text>
<text x="141.80" y="364.60" font-size="7.3" text-anchor="start" fill="#231f20" >0.04%</text>
<text x="177.10" y="282.30" font-size="12.0" text-anchor="start" font-weight="bold" fill="#000" stroke="#000" stroke-width="0.35">D</text>
<line x1="231.90" y1="287.60" x2="231.90" y2="367.20" stroke="#111" stroke-width="1.3" />
<line x1="231.30" y1="366.70" x2="300.80" y2="366.70" stroke="#111" stroke-width="1.4" />
<line x1="229.40" y1="366.50" x2="231.90" y2="366.50" stroke="#111" stroke-width="1.0" />
<text transform="translate(228.80,369.50) scale(0.9,1)" font-size="8.6" text-anchor="end" fill="#231f20" >0</text>
<line x1="229.40" y1="340.67" x2="231.90" y2="340.67" stroke="#111" stroke-width="1.0" />
<text transform="translate(228.80,343.67) scale(0.9,1)" font-size="8.6" text-anchor="end" fill="#231f20" >500</text>
<line x1="229.40" y1="314.83" x2="231.90" y2="314.83" stroke="#111" stroke-width="1.0" />
<text transform="translate(228.80,317.83) scale(0.9,1)" font-size="8.6" text-anchor="end" fill="#231f20" >1000</text>
<line x1="229.40" y1="289.00" x2="231.90" y2="289.00" stroke="#111" stroke-width="1.0" />
<text transform="translate(228.80,292.00) scale(0.9,1)" font-size="8.6" text-anchor="end" fill="#231f20" >1500</text>
<line x1="250.00" y1="366.70" x2="250.00" y2="369.00" stroke="#111" stroke-width="1.0" />
<line x1="287.70" y1="366.70" x2="287.70" y2="369.00" stroke="#111" stroke-width="1.0" />
<text transform="translate(252.00,379.60) scale(0.9,1)" font-size="8.9" text-anchor="middle" fill="#231f20" font-style="italic">Rosa26</text>
<text transform="translate(290.50,379.60) scale(0.9,1)" font-size="8.9" text-anchor="middle" fill="#231f20" font-style="italic">Gata2</text>
<line x1="250.00" y1="291.50" x2="287.70" y2="291.50" stroke="#222" stroke-width="1.5" />
<text x="269.60" y="292.30" font-size="7.5" text-anchor="middle" font-weight="bold" fill="#231f20" stroke="#111" stroke-width="0.3">*</text>
<text transform="translate(196.00,326.00) rotate(-90) scale(0.88,1)" font-size="8.8" text-anchor="middle" fill="#231f20" >Fold expansion</text>
<text transform="translate(207.20,326.00) rotate(-90) scale(0.88,1)" font-size="8.8" text-anchor="middle" fill="#231f20" >in cell number</text>
<line x1="250.00" y1="360.04" x2="287.70" y2="298.82" stroke="#111" stroke-width="1.2" />
<line x1="250.00" y1="362.37" x2="287.70" y2="332.92" stroke="#111" stroke-width="1.2" />
<line x1="250.00" y1="363.92" x2="287.70" y2="339.63" stroke="#111" stroke-width="1.2" />
<line x1="250.00" y1="364.69" x2="287.70" y2="354.10" stroke="#111" stroke-width="1.2" />
<g fill="#d0102a"><circle cx="250.0" cy="360.0" r="1.90"/><circle cx="287.7" cy="298.8" r="1.90"/><circle cx="250.0" cy="362.4" r="1.90"/><circle cx="287.7" cy="332.9" r="1.90"/><circle cx="250.0" cy="363.9" r="1.90"/><circle cx="287.7" cy="339.6" r="1.90"/><circle cx="250.0" cy="364.7" r="1.90"/><circle cx="287.7" cy="354.1" r="1.90"/></g>
<text x="315.30" y="270.40" font-size="12.0" text-anchor="start" font-weight="bold" fill="#000" stroke="#000" stroke-width="0.35">E</text>
<rect x="340.70" y="278.20" width="8.10" height="7.50" fill="#46d6f6" />
<text transform="translate(350.80,285.20) scale(0.93,1)" font-size="10.0" text-anchor="start" fill="#231f20" font-style="italic">Rosa26</text>
<rect x="340.70" y="292.40" width="8.10" height="7.90" fill="#f6c0e6" />
<text transform="translate(350.80,299.80) scale(0.93,1)" font-size="10.0" text-anchor="start" fill="#231f20" font-style="italic">Gata2</text>
<rect x="355.20" y="382.70" width="12.90" height="5.30" fill="#9ee4f6" />
<rect x="376.00" y="375.06" width="12.20" height="12.94" fill="#f8c4e8" />
<line x1="361.60" y1="372.70" x2="361.60" y2="382.70" stroke="#1f58c8" stroke-width="1.0" />
<line x1="358.60" y1="372.70" x2="364.60" y2="372.70" stroke="#1f58c8" stroke-width="1.0" />
<line x1="382.10" y1="360.94" x2="382.10" y2="375.06" stroke="#d4102c" stroke-width="1.0" />
<line x1="379.10" y1="360.94" x2="385.10" y2="360.94" stroke="#d4102c" stroke-width="1.0" />
<g fill="#1f58c8"><circle cx="355.9" cy="387.1" r="1.15"/><circle cx="363.8" cy="385.4" r="1.15"/><circle cx="358.1" cy="386.5" r="1.15"/><circle cx="359.9" cy="384.9" r="1.15"/><circle cx="362.9" cy="384.8" r="1.15"/><circle cx="361.9" cy="387.8" r="1.15"/><circle cx="360.4" cy="388.0" r="1.15"/><circle cx="364.1" cy="382.0" r="1.15"/><circle cx="362.9" cy="387.0" r="1.15"/><circle cx="359.7" cy="387.1" r="1.15"/><circle cx="360.7" cy="376.2" r="1.15"/><circle cx="365.1" cy="385.9" r="1.15"/><circle cx="361.5" cy="382.0" r="1.15"/><circle cx="364.3" cy="385.9" r="1.15"/><circle cx="360.4" cy="384.6" r="1.15"/><circle cx="357.8" cy="387.5" r="1.15"/><circle cx="361.9" cy="384.7" r="1.15"/><circle cx="363.3" cy="381.3" r="1.15"/><circle cx="358.6" cy="385.6" r="1.15"/><circle cx="363.6" cy="383.5" r="1.15"/><circle cx="364.8" cy="384.3" r="1.15"/><circle cx="365.6" cy="387.8" r="1.15"/><circle cx="363.8" cy="383.3" r="1.15"/><circle cx="357.4" cy="385.1" r="1.15"/><circle cx="363.0" cy="386.8" r="1.15"/><circle cx="366.4" cy="387.9" r="1.15"/><circle cx="359.2" cy="381.4" r="1.15"/><circle cx="359.4" cy="385.9" r="1.15"/><circle cx="360.0" cy="383.8" r="1.15"/><circle cx="361.7" cy="381.0" r="1.15"/><circle cx="361.0" cy="383.9" r="1.15"/><circle cx="361.5" cy="379.6" r="1.15"/><circle cx="364.5" cy="386.3" r="1.15"/><circle cx="358.5" cy="382.7" r="1.15"/><circle cx="357.2" cy="386.1" r="1.15"/><circle cx="360.0" cy="379.0" r="1.15"/><circle cx="359.7" cy="381.0" r="1.15"/><circle cx="356.1" cy="387.7" r="1.15"/><circle cx="367.5" cy="387.5" r="1.15"/><circle cx="365.8" cy="387.2" r="1.15"/><circle cx="360.1" cy="376.9" r="1.15"/><circle cx="361.6" cy="386.1" r="1.15"/><circle cx="360.1" cy="384.8" r="1.15"/><circle cx="359.5" cy="386.8" r="1.15"/><circle cx="360.2" cy="385.7" r="1.15"/><circle cx="363.1" cy="386.4" r="1.15"/><circle cx="362.5" cy="386.6" r="1.15"/><circle cx="360.4" cy="385.1" r="1.15"/><circle cx="359.0" cy="385.1" r="1.15"/><circle cx="360.8" cy="380.3" r="1.15"/><circle cx="358.8" cy="384.2" r="1.15"/><circle cx="361.8" cy="379.3" r="1.15"/><circle cx="362.8" cy="381.6" r="1.15"/><circle cx="361.2" cy="376.2" r="1.15"/><circle cx="358.4" cy="384.3" r="1.15"/><circle cx="357.6" cy="387.4" r="1.15"/><circle cx="360.9" cy="381.5" r="1.15"/><circle cx="362.0" cy="377.0" r="1.15"/><circle cx="362.9" cy="380.3" r="1.15"/><circle cx="360.6" cy="385.2" r="1.15"/><circle cx="363.8" cy="383.9" r="1.15"/><circle cx="363.1" cy="387.2" r="1.15"/><circle cx="361.2" cy="382.1" r="1.15"/><circle cx="360.5" cy="385.2" r="1.15"/><circle cx="361.6" cy="386.9" r="1.15"/><circle cx="364.3" cy="387.8" r="1.15"/><circle cx="361.2" cy="381.7" r="1.15"/><circle cx="362.3" cy="376.2" r="1.15"/><circle cx="361.1" cy="387.7" r="1.15"/><circle cx="360.0" cy="382.7" r="1.15"/><circle cx="362.0" cy="386.3" r="1.15"/><circle cx="364.0" cy="387.5" r="1.15"/><circle cx="356.8" cy="386.9" r="1.15"/><circle cx="361.1" cy="383.2" r="1.15"/><circle cx="361.2" cy="381.2" r="1.15"/><circle cx="366.6" cy="387.9" r="1.15"/><circle cx="365.2" cy="384.9" r="1.15"/><circle cx="359.9" cy="387.8" r="1.15"/><circle cx="364.4" cy="383.8" r="1.15"/><circle cx="364.8" cy="386.7" r="1.15"/><circle cx="361.0" cy="332.7" r="1.15"/><circle cx="361.5" cy="359.8" r="1.15"/><circle cx="360.6" cy="368.0" r="1.15"/><circle cx="362.5" cy="372.7" r="1.15"/><circle cx="362.1" cy="373.9" r="1.15"/><circle cx="362.9" cy="375.1" r="1.15"/><circle cx="362.6" cy="376.2" r="1.15"/><circle cx="362.2" cy="377.4" r="1.15"/></g>
<g fill="#d4102c"><circle cx="383.2" cy="375.5" r="1.15"/><circle cx="382.3" cy="364.8" r="1.15"/><circle cx="378.5" cy="383.9" r="1.15"/><circle cx="382.3" cy="352.7" r="1.15"/><circle cx="376.6" cy="385.8" r="1.15"/><circle cx="377.3" cy="387.5" r="1.15"/><circle cx="384.3" cy="382.6" r="1.15"/><circle cx="375.8" cy="387.8" r="1.15"/><circle cx="377.1" cy="386.7" r="1.15"/><circle cx="378.1" cy="384.9" r="1.15"/><circle cx="385.1" cy="382.5" r="1.15"/><circle cx="378.0" cy="387.0" r="1.15"/><circle cx="375.5" cy="387.7" r="1.15"/><circle cx="383.7" cy="376.1" r="1.15"/><circle cx="377.9" cy="385.8" r="1.15"/><circle cx="383.3" cy="369.3" r="1.15"/><circle cx="382.9" cy="374.6" r="1.15"/><circle cx="385.6" cy="385.2" r="1.15"/><circle cx="386.4" cy="384.4" r="1.15"/><circle cx="382.8" cy="383.7" r="1.15"/><circle cx="384.3" cy="381.9" r="1.15"/><circle cx="378.4" cy="382.7" r="1.15"/><circle cx="384.4" cy="383.2" r="1.15"/><circle cx="382.2" cy="382.3" r="1.15"/><circle cx="382.9" cy="371.4" r="1.15"/><circle cx="378.5" cy="383.8" r="1.15"/><circle cx="384.6" cy="384.7" r="1.15"/><circle cx="385.0" cy="380.5" r="1.15"/><circle cx="376.9" cy="386.4" r="1.15"/><circle cx="380.1" cy="385.9" r="1.15"/><circle cx="382.3" cy="365.6" r="1.15"/><circle cx="385.0" cy="383.7" r="1.15"/><circle cx="379.9" cy="383.3" r="1.15"/><circle cx="377.6" cy="387.9" r="1.15"/><circle cx="379.6" cy="384.8" r="1.15"/><circle cx="383.1" cy="382.9" r="1.15"/><circle cx="385.7" cy="387.9" r="1.15"/><circle cx="381.3" cy="382.4" r="1.15"/><circle cx="381.1" cy="382.1" r="1.15"/><circle cx="380.7" cy="387.6" r="1.15"/><circle cx="380.9" cy="382.2" r="1.15"/><circle cx="381.3" cy="384.3" r="1.15"/><circle cx="379.1" cy="381.3" r="1.15"/><circle cx="382.1" cy="385.4" r="1.15"/><circle cx="385.3" cy="380.8" r="1.15"/><circle cx="381.5" cy="380.1" r="1.15"/><circle cx="385.6" cy="387.9" r="1.15"/><circle cx="377.5" cy="387.6" r="1.15"/><circle cx="383.5" cy="381.4" r="1.15"/><circle cx="383.0" cy="368.6" r="1.15"/><circle cx="384.1" cy="386.3" r="1.15"/><circle cx="382.3" cy="384.4" r="1.15"/><circle cx="382.0" cy="382.7" r="1.15"/><circle cx="383.7" cy="385.7" r="1.15"/><circle cx="386.3" cy="385.3" r="1.15"/><circle cx="378.2" cy="385.8" r="1.15"/><circle cx="377.9" cy="385.3" r="1.15"/><circle cx="384.1" cy="382.7" r="1.15"/><circle cx="386.8" cy="385.9" r="1.15"/><circle cx="382.3" cy="385.2" r="1.15"/><circle cx="381.8" cy="379.3" r="1.15"/><circle cx="385.2" cy="387.8" r="1.15"/><circle cx="379.5" cy="383.0" r="1.15"/><circle cx="380.6" cy="380.2" r="1.15"/><circle cx="378.8" cy="385.8" r="1.15"/><circle cx="383.1" cy="386.5" r="1.15"/><circle cx="381.1" cy="378.4" r="1.15"/><circle cx="378.9" cy="386.4" r="1.15"/><circle cx="384.5" cy="386.8" r="1.15"/><circle cx="386.5" cy="384.6" r="1.15"/><circle cx="380.7" cy="381.0" r="1.15"/><circle cx="384.8" cy="387.4" r="1.15"/><circle cx="381.1" cy="385.7" r="1.15"/><circle cx="385.9" cy="385.6" r="1.15"/><circle cx="382.5" cy="377.5" r="1.15"/><circle cx="379.8" cy="384.6" r="1.15"/><circle cx="380.7" cy="376.6" r="1.15"/><circle cx="376.1" cy="386.9" r="1.15"/><circle cx="381.9" cy="385.6" r="1.15"/><circle cx="381.2" cy="381.8" r="1.15"/><circle cx="380.6" cy="375.3" r="1.15"/><circle cx="380.8" cy="384.5" r="1.15"/><circle cx="380.0" cy="386.5" r="1.15"/><circle cx="385.7" cy="387.2" r="1.15"/><circle cx="379.0" cy="383.6" r="1.15"/><circle cx="388.2" cy="386.8" r="1.15"/><circle cx="382.0" cy="378.3" r="1.15"/><circle cx="382.6" cy="377.3" r="1.15"/><circle cx="381.7" cy="386.8" r="1.15"/><circle cx="385.9" cy="386.1" r="1.15"/><circle cx="383.9" cy="378.3" r="1.15"/><circle cx="382.5" cy="382.0" r="1.15"/><circle cx="382.0" cy="378.3" r="1.15"/><circle cx="384.5" cy="385.5" r="1.15"/><circle cx="386.7" cy="387.2" r="1.15"/><circle cx="381.0" cy="386.0" r="1.15"/><circle cx="383.4" cy="378.7" r="1.15"/><circle cx="387.4" cy="386.1" r="1.15"/><circle cx="381.7" cy="385.5" r="1.15"/><circle cx="379.4" cy="384.8" r="1.15"/><circle cx="379.5" cy="384.8" r="1.15"/><circle cx="384.3" cy="384.9" r="1.15"/><circle cx="382.8" cy="373.1" r="1.15"/><circle cx="387.9" cy="387.0" r="1.15"/><circle cx="387.1" cy="388.0" r="1.15"/><circle cx="381.2" cy="371.1" r="1.15"/><circle cx="380.7" cy="375.5" r="1.15"/><circle cx="381.4" cy="362.5" r="1.15"/><circle cx="379.0" cy="384.6" r="1.15"/><circle cx="382.8" cy="370.4" r="1.15"/><circle cx="383.5" cy="372.6" r="1.15"/><circle cx="386.9" cy="386.5" r="1.15"/><circle cx="380.6" cy="379.9" r="1.15"/><circle cx="384.0" cy="377.3" r="1.15"/><circle cx="380.7" cy="381.6" r="1.15"/><circle cx="381.4" cy="383.7" r="1.15"/><circle cx="384.7" cy="386.0" r="1.15"/><circle cx="377.6" cy="385.5" r="1.15"/><circle cx="377.2" cy="386.5" r="1.15"/><circle cx="386.6" cy="387.6" r="1.15"/><circle cx="380.4" cy="382.8" r="1.15"/><circle cx="380.5" cy="386.0" r="1.15"/><circle cx="382.5" cy="378.2" r="1.15"/><circle cx="384.5" cy="387.7" r="1.15"/><circle cx="380.0" cy="374.2" r="1.15"/><circle cx="381.0" cy="381.0" r="1.15"/><circle cx="381.8" cy="372.8" r="1.15"/><circle cx="382.0" cy="374.7" r="1.15"/><circle cx="380.9" cy="374.5" r="1.15"/><circle cx="382.8" cy="382.9" r="1.15"/><circle cx="383.3" cy="320.9" r="1.15"/><circle cx="381.8" cy="329.2" r="1.15"/><circle cx="382.2" cy="335.1" r="1.15"/><circle cx="381.1" cy="339.8" r="1.15"/><circle cx="381.5" cy="345.6" r="1.15"/><circle cx="382.5" cy="349.2" r="1.15"/><circle cx="381.1" cy="352.7" r="1.15"/><circle cx="383.1" cy="355.1" r="1.15"/><circle cx="383.2" cy="357.4" r="1.15"/><circle cx="381.0" cy="359.8" r="1.15"/><circle cx="383.4" cy="362.1" r="1.15"/><circle cx="381.7" cy="364.5" r="1.15"/><circle cx="382.9" cy="365.6" r="1.15"/><circle cx="382.9" cy="366.8" r="1.15"/><circle cx="381.4" cy="368.0" r="1.15"/><circle cx="382.7" cy="369.2" r="1.15"/><circle cx="382.6" cy="370.4" r="1.15"/></g>
<line x1="346.70" y1="316.50" x2="346.70" y2="388.70" stroke="#111" stroke-width="1.3" />
<line x1="346.10" y1="388.20" x2="395.30" y2="388.20" stroke="#111" stroke-width="1.4" />
<line x1="344.20" y1="388.00" x2="346.70" y2="388.00" stroke="#111" stroke-width="1.0" />
<text transform="translate(343.90,391.10) scale(0.92,1)" font-size="9.0" text-anchor="end" fill="#231f20" >0.0</text>
<line x1="344.20" y1="364.47" x2="346.70" y2="364.47" stroke="#111" stroke-width="1.0" />
<text transform="translate(343.90,367.57) scale(0.92,1)" font-size="9.0" text-anchor="end" fill="#231f20" >0.2</text>
<line x1="344.20" y1="340.93" x2="346.70" y2="340.93" stroke="#111" stroke-width="1.0" />
<text transform="translate(343.90,344.03) scale(0.92,1)" font-size="9.0" text-anchor="end" fill="#231f20" >0.4</text>
<line x1="344.20" y1="317.40" x2="346.70" y2="317.40" stroke="#111" stroke-width="1.0" />
<text transform="translate(343.90,320.50) scale(0.92,1)" font-size="9.0" text-anchor="end" fill="#231f20" >0.6</text>
<line x1="361.60" y1="388.20" x2="361.60" y2="390.50" stroke="#111" stroke-width="1.0" />
<line x1="382.10" y1="388.20" x2="382.10" y2="390.50" stroke="#111" stroke-width="1.0" />
<line x1="361.00" y1="316.00" x2="382.00" y2="316.00" stroke="#1a1a1a" stroke-width="1.6" />
<text x="371.80" y="316.00" font-size="7.2" text-anchor="middle" font-weight="bold" fill="#231f20" stroke="#111" stroke-width="0.45" letter-spacing="1.2">***</text>
<text transform="translate(323.40,352.00) rotate(-90) scale(0.86,1)" font-size="8.9" text-anchor="middle" fill="#231f20" >Colony area (mm<tspan font-size="5.5" dy="-2.8">2</tspan><tspan dy="2.8">)</tspan></text>
<text transform="translate(439.30,268.40) scale(0.93,1)" font-size="10.2" text-anchor="middle" fill="#231f20" font-style="italic">Gata2</text>
<text transform="translate(439.30,345.50) scale(0.93,1)" font-size="10.2" text-anchor="middle" fill="#231f20" font-style="italic">Rosa26</text>
<line x1="472.40" y1="271.70" x2="472.40" y2="299.20" stroke="#111" stroke-width="1.1" />
<text x="474.80" y="287.60" font-size="7.6" text-anchor="start" fill="#231f20" >0.5 mm</text>
<defs>
<linearGradient id="gbg" x1="0" y1="0.6" x2="1" y2="0"><stop offset="0" stop-color="#020606"/><stop offset="0.5" stop-color="#0b1a1b"/><stop offset="1" stop-color="#2a4a4c"/></linearGradient>
<radialGradient id="gcol" cx="0.5" cy="0.5" r="0.5"><stop offset="0" stop-color="#132b2c"/><stop offset="0.15" stop-color="#1c3637"/><stop offset="0.35" stop-color="#3e5e60"/><stop offset="0.55" stop-color="#76979a"/><stop offset="0.7" stop-color="#88a5a7"/><stop offset="0.88" stop-color="#88a5a7"/><stop offset="1" stop-color="#88a5a7" stop-opacity="0"/></radialGradient>
<filter id="fs" x="-10%" y="-10%" width="120%" height="120%"><feGaussianBlur stdDeviation="0.35"/></filter>
<radialGradient id="rcol" cx="0.5" cy="0.5" r="0.5"><stop offset="0" stop-color="#4a6c6f"/><stop offset="0.45" stop-color="#7a9c9f"/><stop offset="0.75" stop-color="#82a3a6"/><stop offset="1" stop-color="#82a3a6" stop-opacity="0"/></radialGradient>
</defs>
<rect x="411.10" y="270.10" width="57.60" height="57.20" fill="url(#gbg)" />
<clipPath id="cg"><rect x="411.1" y="270.1" width="57.6" height="57.2"/></clipPath>
<g clip-path="url(#cg)">
<g filter="url(#fs)">
<circle cx="440.8" cy="297.8" r="23.00" fill="url(#gcol)"/>
<circle cx="420.2" cy="304.2" r="0.49" fill="#b8cdcf" opacity="0.9"/>
<g fill="#a9c1c3" fill-opacity="0.9"><circle cx="452.6" cy="282.6" r="0.53"/><circle cx="445.6" cy="301.0" r="0.56"/></g>
<circle cx="430.4" cy="290.7" r="0.55" fill="#b8cdcf" opacity="0.9"/>
<circle cx="445.9" cy="298.3" r="0.41" fill="#2c4749" opacity="0.7"/>
<g fill="#b8cdcf" fill-opacity="0.9"><circle cx="452.9" cy="300.1" r="0.51"/><circle cx="439.3" cy="303.2" r="0.47"/></g>
<circle cx="467.9" cy="297.1" r="0.44" fill="#a9c1c3" opacity="0.9"/>
<circle cx="426.1" cy="296.6" r="0.38" fill="#2c4749" opacity="0.7"/>
<circle cx="439.7" cy="302.0" r="0.41" fill="#a9c1c3" opacity="0.9"/>
<circle cx="417.3" cy="302.3" r="0.37" fill="#b8cdcf" opacity="0.9"/>
<circle cx="444.1" cy="307.7" r="0.35" fill="#2c4749" opacity="0.7"/>
<g fill="#a9c1c3" fill-opacity="0.9"><circle cx="422.8" cy="309.2" r="0.56"/><circle cx="447.7" cy="300.5" r="0.48"/></g>
<circle cx="452.7" cy="296.7" r="0.45" fill="#2c4749" opacity="0.7"/>
<g fill="#a9c1c3" fill-opacity="0.9"><circle cx="461.2" cy="296.5" r="0.53"/><circle cx="445.7" cy="317.4" r="0.38"/></g>
<g fill="#2c4749" fill-opacity="0.7"><circle cx="445.1" cy="316.0" r="0.42"/><circle cx="454.3" cy="304.5" r="0.50"/></g>
<circle cx="425.4" cy="313.8" r="0.50" fill="#b8cdcf" opacity="0.9"/>
<circle cx="451.3" cy="309.8" r="0.41" fill="#2c4749" opacity="0.7"/>
<circle cx="435.4" cy="293.3" r="0.52" fill="#b8cdcf" opacity="0.9"/>
<circle cx="465.6" cy="289.8" r="0.48" fill="#a9c1c3" opacity="0.9"/>
<circle cx="447.7" cy="303.4" r="0.47" fill="#94b1b3" opacity="0.9"/>
<circle cx="445.1" cy="289.2" r="0.53" fill="#2c4749" opacity="0.7"/>
<g fill="#94b1b3" fill-opacity="0.9"><circle cx="454.1" cy="303.9" r="0.53"/><circle cx="447.2" cy="324.5" r="0.37"/></g>
<circle cx="433.9" cy="300.3" r="0.49" fill="#2c4749" opacity="0.7"/>
<circle cx="455.0" cy="313.2" r="0.55" fill="#b8cdcf" opacity="0.9"/>
<circle cx="415.1" cy="294.2" r="0.63" fill="#94b1b3" opacity="0.9"/>
<circle cx="459.6" cy="285.9" r="0.36" fill="#b8cdcf" opacity="0.9"/>
<circle cx="449.6" cy="302.3" r="0.37" fill="#2c4749" opacity="0.7"/>
<g fill="#a9c1c3" fill-opacity="0.9"><circle cx="436.2" cy="299.2" r="0.57"/><circle cx="447.1" cy="275.1" r="0.56"/></g>
<circle cx="453.9" cy="284.0" r="0.52" fill="#b8cdcf" opacity="0.9"/>
<g fill="#2c4749" fill-opacity="0.7"><circle cx="438.6" cy="294.2" r="0.37"/><circle cx="449.7" cy="305.7" r="0.58"/></g>
<circle cx="436.4" cy="285.8" r="0.51" fill="#b8cdcf" opacity="0.9"/>
<circle cx="453.7" cy="300.2" r="0.52" fill="#2c4749" opacity="0.7"/>
<circle cx="419.3" cy="298.2" r="0.43" fill="#a9c1c3" opacity="0.9"/>
<circle cx="430.3" cy="309.3" r="0.58" fill="#94b1b3" opacity="0.9"/>
<circle cx="429.6" cy="280.1" r="0.52" fill="#2c4749" opacity="0.7"/>
<g fill="#94b1b3" fill-opacity="0.9"><circle cx="446.9" cy="316.1" r="0.61"/><circle cx="445.0" cy="319.5" r="0.39"/><circle cx="454.9" cy="274.6" r="0.64"/><circle cx="446.5" cy="286.1" r="0.60"/><circle cx="433.8" cy="290.7" r="0.64"/></g>
<circle cx="431.1" cy="318.4" r="0.53" fill="#b8cdcf" opacity="0.9"/>
<circle cx="438.3" cy="288.3" r="0.36" fill="#a9c1c3" opacity="0.9"/>
<circle cx="425.4" cy="308.2" r="0.54" fill="#2c4749" opacity="0.7"/>
<circle cx="446.9" cy="277.6" r="0.38" fill="#b8cdcf" opacity="0.9"/>
<g fill="#a9c1c3" fill-opacity="0.9"><circle cx="428.3" cy="279.4" r="0.56"/><circle cx="448.7" cy="282.1" r="0.51"/></g>
<circle cx="445.4" cy="307.3" r="0.51" fill="#b8cdcf" opacity="0.9"/>
<circle cx="460.9" cy="297.4" r="0.42" fill="#94b1b3" opacity="0.9"/>
<circle cx="446.7" cy="295.1" r="0.54" fill="#a9c1c3" opacity="0.9"/>
<circle cx="426.0" cy="312.3" r="0.63" fill="#94b1b3" opacity="0.9"/>
<circle cx="431.1" cy="316.4" r="0.59" fill="#b8cdcf" opacity="0.9"/>
<circle cx="448.9" cy="305.8" r="0.43" fill="#2c4749" opacity="0.7"/>
<circle cx="463.2" cy="294.5" r="0.57" fill="#a9c1c3" opacity="0.9"/>
<circle cx="433.6" cy="307.9" r="0.58" fill="#94b1b3" opacity="0.9"/>
<circle cx="458.7" cy="287.9" r="0.36" fill="#2c4749" opacity="0.7"/>
<circle cx="419.9" cy="293.4" r="0.49" fill="#b8cdcf" opacity="0.9"/>
<g fill="#2c4749" fill-opacity="0.7"><circle cx="454.5" cy="287.9" r="0.57"/><circle cx="424.6" cy="289.0" r="0.49"/></g>
<circle cx="444.3" cy="291.6" r="0.62" fill="#94b1b3" opacity="0.9"/>
<circle cx="433.2" cy="316.4" r="0.41" fill="#a9c1c3" opacity="0.9"/>
<circle cx="455.4" cy="294.9" r="0.48" fill="#2c4749" opacity="0.7"/>
<circle cx="436.3" cy="297.7" r="0.50" fill="#94b1b3" opacity="0.9"/>
<circle cx="420.4" cy="292.0" r="0.38" fill="#a9c1c3" opacity="0.9"/>
<g fill="#94b1b3" fill-opacity="0.9"><circle cx="451.7" cy="302.6" r="0.63"/><circle cx="441.0" cy="308.3" r="0.63"/></g>
<g fill="#2c4749" fill-opacity="0.7"><circle cx="429.0" cy="295.9" r="0.42"/><circle cx="434.8" cy="278.4" r="0.35"/></g>
<circle cx="439.0" cy="306.2" r="0.50" fill="#b8cdcf" opacity="0.9"/>
<circle cx="447.1" cy="303.9" r="0.48" fill="#2c4749" opacity="0.7"/>
<circle cx="429.9" cy="302.4" r="0.40" fill="#a9c1c3" opacity="0.9"/>
<circle cx="446.1" cy="291.6" r="0.49" fill="#2c4749" opacity="0.7"/>
<circle cx="422.5" cy="286.7" r="0.54" fill="#94b1b3" opacity="0.9"/>
<g fill="#a9c1c3" fill-opacity="0.9"><circle cx="449.0" cy="292.1" r="0.42"/><circle cx="447.3" cy="292.3" r="0.43"/><circle cx="417.5" cy="307.9" r="0.56"/></g>
<circle cx="437.2" cy="300.3" r="0.52" fill="#2c4749" opacity="0.7"/>
<circle cx="458.8" cy="286.6" r="0.50" fill="#94b1b3" opacity="0.9"/>
<circle cx="433.2" cy="297.7" r="0.38" fill="#2c4749" opacity="0.7"/>
<circle cx="454.2" cy="301.0" r="0.39" fill="#a9c1c3" opacity="0.9"/>
<g fill="#2c4749" fill-opacity="0.7"><circle cx="446.1" cy="302.4" r="0.52"/><circle cx="425.9" cy="289.7" r="0.37"/><circle cx="432.5" cy="304.6" r="0.44"/><circle cx="435.6" cy="292.0" r="0.44"/></g>
<circle cx="422.9" cy="316.8" r="0.38" fill="#a9c1c3" opacity="0.9"/>
<circle cx="431.9" cy="315.7" r="0.62" fill="#94b1b3" opacity="0.9"/>
<g fill="#2c4749" fill-opacity="0.7"><circle cx="427.1" cy="291.4" r="0.54"/><circle cx="437.5" cy="315.6" r="0.58"/><circle cx="450.3" cy="308.4" r="0.46"/></g>
<circle cx="443.9" cy="304.6" r="0.44" fill="#a9c1c3" opacity="0.9"/>
<circle cx="456.9" cy="298.9" r="0.42" fill="#b8cdcf" opacity="0.9"/>
<g fill="#2c4749" fill-opacity="0.7"><circle cx="437.3" cy="309.0" r="0.37"/><circle cx="432.8" cy="297.1" r="0.45"/><circle cx="435.4" cy="295.1" r="0.46"/><circle cx="424.5" cy="297.3" r="0.41"/><circle cx="438.5" cy="311.9" r="0.48"/></g>
<circle cx="447.9" cy="287.6" r="0.51" fill="#b8cdcf" opacity="0.9"/>
<g fill="#94b1b3" fill-opacity="0.9"><circle cx="442.1" cy="276.2" r="0.40"/><circle cx="465.8" cy="293.0" r="0.53"/><circle cx="454.0" cy="293.1" r="0.46"/></g>
<circle cx="419.3" cy="300.1" r="0.55" fill="#b8cdcf" opacity="0.9"/>
<circle cx="438.3" cy="306.1" r="0.39" fill="#2c4749" opacity="0.7"/>
<circle cx="441.4" cy="276.8" r="0.57" fill="#a9c1c3" opacity="0.9"/>
<g fill="#b8cdcf" fill-opacity="0.9"><circle cx="432.0" cy="292.9" r="0.42"/><circle cx="418.6" cy="300.9" r="0.51"/><circle cx="459.5" cy="285.8" r="0.42"/></g>
<circle cx="450.3" cy="306.2" r="0.36" fill="#2c4749" opacity="0.7"/>
<circle cx="428.6" cy="295.6" r="0.49" fill="#94b1b3" opacity="0.9"/>
<circle cx="433.8" cy="289.4" r="0.59" fill="#a9c1c3" opacity="0.9"/>
<g fill="#2c4749" fill-opacity="0.7"><circle cx="449.0" cy="295.3" r="0.57"/><circle cx="443.1" cy="287.2" r="0.52"/></g>
<g fill="#a9c1c3" fill-opacity="0.9"><circle cx="426.1" cy="291.4" r="0.41"/><circle cx="433.1" cy="297.7" r="0.54"/></g>
<circle cx="438.7" cy="313.5" r="0.49" fill="#2c4749" opacity="0.7"/>
<circle cx="455.9" cy="305.2" r="0.54" fill="#94b1b3" opacity="0.9"/>
<circle cx="430.4" cy="298.8" r="0.39" fill="#a9c1c3" opacity="0.9"/>
<circle cx="447.1" cy="279.2" r="0.58" fill="#94b1b3" opacity="0.9"/>
<circle cx="423.6" cy="306.7" r="0.51" fill="#2c4749" opacity="0.7"/>
<circle cx="455.2" cy="296.8" r="0.63" fill="#94b1b3" opacity="0.9"/>
<circle cx="433.5" cy="287.3" r="0.49" fill="#2c4749" opacity="0.7"/>
<circle cx="423.1" cy="305.9" r="0.60" fill="#a9c1c3" opacity="0.9"/>
<g fill="#2c4749" fill-opacity="0.7"><circle cx="455.5" cy="305.4" r="0.43"/><circle cx="439.3" cy="288.5" r="0.44"/></g>
<circle cx="439.9" cy="291.6" r="0.52" fill="#b8cdcf" opacity="0.9"/>
<circle cx="457.3" cy="287.8" r="0.43" fill="#2c4749" opacity="0.7"/>
<circle cx="417.4" cy="314.9" r="0.42" fill="#94b1b3" opacity="0.9"/>
<circle cx="448.8" cy="282.9" r="0.59" fill="#b8cdcf" opacity="0.9"/>
<g fill="#a9c1c3" fill-opacity="0.9"><circle cx="427.7" cy="292.2" r="0.52"/><circle cx="457.9" cy="308.6" r="0.42"/></g>
<circle cx="419.3" cy="291.7" r="0.55" fill="#94b1b3" opacity="0.9"/>
<circle cx="458.3" cy="305.2" r="0.37" fill="#2c4749" opacity="0.7"/>
<circle cx="439.1" cy="277.0" r="0.39" fill="#b8cdcf" opacity="0.9"/>
<g fill="#94b1b3" fill-opacity="0.9"><circle cx="447.9" cy="281.8" r="0.62"/><circle cx="441.8" cy="287.4" r="0.55"/></g>
<circle cx="435.4" cy="298.2" r="0.36" fill="#b8cdcf" opacity="0.9"/>
<g fill="#2c4749" fill-opacity="0.7"><circle cx="434.3" cy="306.9" r="0.47"/><circle cx="430.3" cy="295.0" r="0.38"/></g>
<circle cx="460.7" cy="287.4" r="0.40" fill="#b8cdcf" opacity="0.9"/>
<g fill="#2c4749" fill-opacity="0.7"><circle cx="435.2" cy="303.4" r="0.42"/><circle cx="450.5" cy="295.9" r="0.51"/></g>
<circle cx="441.6" cy="292.7" r="0.53" fill="#a9c1c3" opacity="0.9"/>
<circle cx="436.7" cy="307.8" r="0.53" fill="#94b1b3" opacity="0.9"/>
<circle cx="434.6" cy="293.6" r="0.39" fill="#2c4749" opacity="0.7"/>
<circle cx="441.5" cy="283.4" r="0.49" fill="#94b1b3" opacity="0.9"/>
<circle cx="418.7" cy="299.9" r="0.55" fill="#a9c1c3" opacity="0.9"/>
<circle cx="435.9" cy="298.3" r="0.59" fill="#94b1b3" opacity="0.9"/>
<g fill="#a9c1c3" fill-opacity="0.9"><circle cx="459.3" cy="295.0" r="0.37"/><circle cx="463.4" cy="279.6" r="0.49"/></g>
<circle cx="439.2" cy="291.0" r="0.43" fill="#2c4749" opacity="0.7"/>
<circle cx="439.3" cy="322.9" r="0.54" fill="#b8cdcf" opacity="0.9"/>
<circle cx="440.1" cy="304.6" r="0.35" fill="#a9c1c3" opacity="0.9"/>
<circle cx="444.8" cy="289.6" r="0.38" fill="#94b1b3" opacity="0.9"/>
<circle cx="434.5" cy="280.7" r="0.50" fill="#a9c1c3" opacity="0.9"/>
<circle cx="446.0" cy="277.0" r="0.38" fill="#94b1b3" opacity="0.9"/>
<g fill="#2c4749" fill-opacity="0.7"><circle cx="444.4" cy="311.3" r="0.56"/><circle cx="438.8" cy="302.8" r="0.47"/><circle cx="437.1" cy="281.2" r="0.45"/></g>
<circle cx="413.3" cy="304.5" r="0.55" fill="#a9c1c3" opacity="0.9"/>
<circle cx="449.3" cy="288.0" r="0.38" fill="#2c4749" opacity="0.7"/>
<circle cx="444.7" cy="269.6" r="0.57" fill="#b8cdcf" opacity="0.9"/>
<circle cx="453.4" cy="315.6" r="0.57" fill="#94b1b3" opacity="0.9"/>
<circle cx="441.0" cy="292.2" r="0.44" fill="#2c4749" opacity="0.7"/>
<circle cx="447.9" cy="303.6" r="0.54" fill="#94b1b3" opacity="0.9"/>
<circle cx="443.9" cy="291.9" r="0.52" fill="#2c4749" opacity="0.7"/>
<g fill="#a9c1c3" fill-opacity="0.9"><circle cx="437.8" cy="286.6" r="0.53"/><circle cx="459.2" cy="311.2" r="0.48"/><circle cx="424.9" cy="322.3" r="0.39"/></g>
<circle cx="443.3" cy="274.1" r="0.45" fill="#94b1b3" opacity="0.9"/>
<circle cx="429.6" cy="286.9" r="0.55" fill="#2c4749" opacity="0.7"/>
<circle cx="441.6" cy="323.1" r="0.43" fill="#a9c1c3" opacity="0.9"/>
<circle cx="437.5" cy="302.8" r="0.48" fill="#2c4749" opacity="0.7"/>
<g fill="#b8cdcf" fill-opacity="0.9"><circle cx="447.1" cy="272.4" r="0.40"/><circle cx="449.6" cy="291.7" r="0.39"/></g>
<circle cx="450.4" cy="326.2" r="0.56" fill="#a9c1c3" opacity="0.9"/>
<g fill="#94b1b3" fill-opacity="0.9"><circle cx="425.7" cy="291.0" r="0.39"/><circle cx="431.7" cy="293.1" r="0.46"/></g>
<circle cx="454.1" cy="285.8" r="0.49" fill="#2c4749" opacity="0.7"/>
<circle cx="420.3" cy="291.7" r="0.40" fill="#b8cdcf" opacity="0.9"/>
<circle cx="456.2" cy="297.0" r="0.56" fill="#2c4749" opacity="0.7"/>
<circle cx="435.4" cy="319.6" r="0.52" fill="#a9c1c3" opacity="0.9"/>
<circle cx="442.9" cy="302.8" r="0.40" fill="#2c4749" opacity="0.7"/>
<circle cx="467.3" cy="295.6" r="0.44" fill="#b8cdcf" opacity="0.9"/>
<circle cx="455.8" cy="276.4" r="0.54" fill="#a9c1c3" opacity="0.9"/>
<circle cx="443.3" cy="301.7" r="0.39" fill="#94b1b3" opacity="0.9"/>
<circle cx="445.0" cy="305.8" r="0.45" fill="#b8cdcf" opacity="0.9"/>
<circle cx="444.8" cy="279.3" r="0.47" fill="#2c4749" opacity="0.7"/>
<g fill="#b8cdcf" fill-opacity="0.9"><circle cx="457.6" cy="310.4" r="0.62"/><circle cx="441.5" cy="284.6" r="0.60"/><circle cx="428.4" cy="305.8" r="0.51"/><circle cx="436.4" cy="297.2" r="0.44"/><circle cx="453.2" cy="288.8" r="0.44"/></g>
<circle cx="455.2" cy="283.8" r="0.57" fill="#2c4749" opacity="0.7"/>
<g fill="#b8cdcf" fill-opacity="0.9"><circle cx="446.7" cy="296.8" r="0.51"/><circle cx="436.6" cy="301.0" r="0.64"/></g>
<circle cx="430.8" cy="308.6" r="0.51" fill="#2c4749" opacity="0.7"/>
<circle cx="436.1" cy="300.3" r="0.39" fill="#b8cdcf" opacity="0.9"/>
<circle cx="432.2" cy="293.4" r="0.36" fill="#a9c1c3" opacity="0.9"/>
<g fill="#94b1b3" fill-opacity="0.9"><circle cx="466.8" cy="308.6" r="0.47"/><circle cx="437.3" cy="288.6" r="0.44"/></g>
<circle cx="411.0" cy="298.1" r="0.49" fill="#a9c1c3" opacity="0.9"/>
<circle cx="448.7" cy="323.5" r="0.37" fill="#94b1b3" opacity="0.9"/>
<g fill="#2c4749" fill-opacity="0.7"><circle cx="447.6" cy="286.8" r="0.57"/><circle cx="456.8" cy="297.3" r="0.57"/><circle cx="457.7" cy="303.3" r="0.58"/></g>
<circle cx="445.3" cy="293.0" r="0.63" fill="#94b1b3" opacity="0.9"/>
<g fill="#2c4749" fill-opacity="0.7"><circle cx="423.3" cy="308.1" r="0.52"/><circle cx="439.2" cy="311.2" r="0.42"/></g>
<circle cx="442.9" cy="292.0" r="0.64" fill="#a9c1c3" opacity="0.9"/>
<g fill="#2c4749" fill-opacity="0.7"><circle cx="432.8" cy="283.8" r="0.60"/><circle cx="427.7" cy="303.0" r="0.50"/><circle cx="436.7" cy="316.6" r="0.42"/></g>
<circle cx="441.1" cy="288.5" r="0.41" fill="#a9c1c3" opacity="0.9"/>
<g fill="#94b1b3" fill-opacity="0.9"><circle cx="453.5" cy="296.8" r="0.47"/><circle cx="458.2" cy="304.7" r="0.45"/></g>
<circle cx="443.6" cy="284.5" r="0.56" fill="#b8cdcf" opacity="0.9"/>
<circle cx="440.3" cy="282.5" r="0.38" fill="#94b1b3" opacity="0.9"/>
<g fill="#a9c1c3" fill-opacity="0.9"><circle cx="442.5" cy="316.4" r="0.59"/><circle cx="439.6" cy="318.0" r="0.43"/><circle cx="428.6" cy="289.3" r="0.40"/><circle cx="425.8" cy="285.6" r="0.57"/></g>
<circle cx="463.9" cy="309.1" r="0.51" fill="#b8cdcf" opacity="0.9"/>
<circle cx="441.5" cy="307.7" r="0.43" fill="#2c4749" opacity="0.7"/>
<circle cx="434.3" cy="291.6" r="0.38" fill="#b8cdcf" opacity="0.9"/>
<circle cx="444.1" cy="304.0" r="0.60" fill="#94b1b3" opacity="0.9"/>
<circle cx="450.9" cy="301.9" r="0.59" fill="#2c4749" opacity="0.7"/>
<circle cx="458.6" cy="302.6" r="0.39" fill="#94b1b3" opacity="0.9"/>
<circle cx="421.0" cy="295.1" r="0.48" fill="#2c4749" opacity="0.7"/>
<circle cx="451.7" cy="304.8" r="0.64" fill="#b8cdcf" opacity="0.9"/>
<circle cx="458.7" cy="297.4" r="0.41" fill="#2c4749" opacity="0.7"/>
<circle cx="428.7" cy="293.7" r="0.46" fill="#94b1b3" opacity="0.9"/>
<g fill="#b8cdcf" fill-opacity="0.9"><circle cx="461.7" cy="290.5" r="0.40"/><circle cx="434.6" cy="289.3" r="0.61"/></g>
<circle cx="458.9" cy="288.4" r="0.41" fill="#94b1b3" opacity="0.9"/>
<circle cx="442.9" cy="287.4" r="0.49" fill="#2c4749" opacity="0.7"/>
<g fill="#94b1b3" fill-opacity="0.9"><circle cx="445.0" cy="304.7" r="0.44"/><circle cx="433.4" cy="298.3" r="0.51"/></g>
<circle cx="450.6" cy="302.6" r="0.35" fill="#2c4749" opacity="0.7"/>
<circle cx="445.5" cy="308.2" r="0.56" fill="#94b1b3" opacity="0.9"/>
<circle cx="455.0" cy="308.6" r="0.39" fill="#a9c1c3" opacity="0.9"/>
<circle cx="437.4" cy="277.9" r="0.45" fill="#2c4749" opacity="0.7"/>
<g fill="#b8cdcf" fill-opacity="0.9"><circle cx="460.9" cy="309.4" r="0.58"/><circle cx="433.2" cy="284.2" r="0.41"/></g>
<circle cx="432.6" cy="292.2" r="0.49" fill="#2c4749" opacity="0.7"/>
<g fill="#a9c1c3" fill-opacity="0.9"><circle cx="446.7" cy="304.5" r="0.55"/><circle cx="459.3" cy="280.5" r="0.48"/></g>
<circle cx="424.0" cy="312.4" r="0.44" fill="#94b1b3" opacity="0.9"/>
<g fill="#a9c1c3" fill-opacity="0.9"><circle cx="425.4" cy="284.9" r="0.49"/><circle cx="449.1" cy="276.4" r="0.55"/></g>
<circle cx="434.9" cy="295.5" r="0.46" fill="#b8cdcf" opacity="0.9"/>
<circle cx="440.4" cy="304.1" r="0.50" fill="#94b1b3" opacity="0.9"/>
<g fill="#a9c1c3" fill-opacity="0.9"><circle cx="439.0" cy="305.8" r="0.41"/><circle cx="432.6" cy="309.0" r="0.62"/></g>
<circle cx="420.8" cy="300.5" r="0.58" fill="#2c4749" opacity="0.7"/>
<g fill="#94b1b3" fill-opacity="0.9"><circle cx="458.2" cy="285.6" r="0.62"/><circle cx="455.0" cy="302.9" r="0.45"/></g>
<circle cx="449.9" cy="302.3" r="0.42" fill="#2c4749" opacity="0.7"/>
<circle cx="451.3" cy="273.6" r="0.47" fill="#94b1b3" opacity="0.9"/>
<circle cx="455.1" cy="293.6" r="0.58" fill="#b8cdcf" opacity="0.9"/>
<circle cx="455.7" cy="302.4" r="0.37" fill="#2c4749" opacity="0.7"/>
<circle cx="419.0" cy="302.8" r="0.47" fill="#a9c1c3" opacity="0.9"/>
<circle cx="435.4" cy="285.6" r="0.36" fill="#b8cdcf" opacity="0.9"/>
<circle cx="446.8" cy="313.6" r="0.35" fill="#2c4749" opacity="0.7"/>
<circle cx="432.6" cy="295.5" r="0.55" fill="#b8cdcf" opacity="0.9"/>
<g fill="#94b1b3" fill-opacity="0.9"><circle cx="466.2" cy="311.5" r="0.56"/><circle cx="440.4" cy="302.2" r="0.41"/></g>
<circle cx="429.8" cy="271.8" r="0.40" fill="#b8cdcf" opacity="0.9"/>
<g fill="#2c4749" fill-opacity="0.7"><circle cx="437.2" cy="288.9" r="0.44"/><circle cx="432.8" cy="283.6" r="0.53"/></g>
<circle cx="458.8" cy="287.6" r="0.60" fill="#b8cdcf" opacity="0.9"/>
<circle cx="431.5" cy="321.1" r="0.55" fill="#a9c1c3" opacity="0.9"/>
<circle cx="455.8" cy="322.3" r="0.37" fill="#94b1b3" opacity="0.9"/>
<circle cx="427.1" cy="308.1" r="0.51" fill="#2c4749" opacity="0.7"/>
<circle cx="435.8" cy="303.3" r="0.41" fill="#b8cdcf" opacity="0.9"/>
<circle cx="446.5" cy="287.2" r="0.54" fill="#94b1b3" opacity="0.9"/>
<circle cx="444.3" cy="287.2" r="0.42" fill="#a9c1c3" opacity="0.9"/>
<circle cx="457.8" cy="295.0" r="0.63" fill="#94b1b3" opacity="0.9"/>
<g fill="#2c4749" fill-opacity="0.7"><circle cx="434.7" cy="283.0" r="0.58"/><circle cx="458.3" cy="296.6" r="0.36"/></g>
<circle cx="435.7" cy="320.1" r="0.39" fill="#94b1b3" opacity="0.9"/>
<circle cx="464.4" cy="281.7" r="0.40" fill="#a9c1c3" opacity="0.9"/>
<circle cx="433.6" cy="316.4" r="0.45" fill="#2c4749" opacity="0.7"/>
<circle cx="424.1" cy="282.5" r="0.47" fill="#b8cdcf" opacity="0.9"/>
<circle cx="445.1" cy="317.8" r="0.56" fill="#2c4749" opacity="0.7"/>
<circle cx="413.8" cy="287.8" r="0.48" fill="#a9c1c3" opacity="0.9"/>
<g fill="#2c4749" fill-opacity="0.7"><circle cx="434.2" cy="311.0" r="0.51"/><circle cx="438.8" cy="310.8" r="0.41"/><circle cx="460.7" cy="304.4" r="0.37"/></g>
<circle cx="450.2" cy="318.7" r="0.41" fill="#94b1b3" opacity="0.9"/>
<g fill="#2c4749" fill-opacity="0.7"><circle cx="421.6" cy="299.7" r="0.36"/><circle cx="425.8" cy="292.9" r="0.58"/></g>
<g fill="#b8cdcf" fill-opacity="0.9"><circle cx="456.9" cy="279.4" r="0.60"/><circle cx="469.0" cy="306.4" r="0.51"/></g>
<circle cx="457.1" cy="306.1" r="0.48" fill="#2c4749" opacity="0.7"/>
<circle cx="463.0" cy="299.3" r="0.35" fill="#b8cdcf" opacity="0.9"/>
<circle cx="438.8" cy="319.3" r="0.50" fill="#94b1b3" opacity="0.9"/>
<circle cx="449.9" cy="271.6" r="0.65" fill="#a9c1c3" opacity="0.9"/>
<g fill="#2c4749" fill-opacity="0.7"><circle cx="459.2" cy="290.0" r="0.57"/><circle cx="436.0" cy="293.1" r="0.53"/></g>
<circle cx="418.0" cy="296.9" r="0.54" fill="#94b1b3" opacity="0.9"/>
<circle cx="427.9" cy="314.6" r="0.45" fill="#a9c1c3" opacity="0.9"/>
<g fill="#2c4749" fill-opacity="0.7"><circle cx="440.1" cy="305.2" r="0.38"/><circle cx="437.2" cy="307.8" r="0.44"/><circle cx="445.6" cy="308.4" r="0.37"/></g>
<g fill="#a9c1c3" fill-opacity="0.9"><circle cx="467.1" cy="289.4" r="0.36"/><circle cx="438.2" cy="303.3" r="0.48"/></g>
<circle cx="419.9" cy="297.9" r="0.37" fill="#94b1b3" opacity="0.9"/>
<circle cx="447.9" cy="295.4" r="0.60" fill="#2c4749" opacity="0.7"/>
<circle cx="447.5" cy="306.8" r="0.41" fill="#b8cdcf" opacity="0.9"/>
<circle cx="431.0" cy="312.4" r="0.59" fill="#2c4749" opacity="0.7"/>
<circle cx="456.9" cy="289.6" r="0.48" fill="#94b1b3" opacity="0.9"/>
<circle cx="433.5" cy="301.9" r="0.52" fill="#b8cdcf" opacity="0.9"/>
<g fill="#2c4749" fill-opacity="0.7"><circle cx="451.8" cy="291.7" r="0.36"/><circle cx="454.2" cy="302.6" r="0.41"/></g>
<circle cx="431.5" cy="288.8" r="0.37" fill="#a9c1c3" opacity="0.9"/>
<circle cx="441.2" cy="276.7" r="0.41" fill="#b8cdcf" opacity="0.9"/>
<g fill="#2c4749" fill-opacity="0.7"><circle cx="442.3" cy="291.8" r="0.41"/><circle cx="440.5" cy="302.5" r="0.48"/><circle cx="438.3" cy="301.3" r="0.47"/><circle cx="446.7" cy="296.4" r="0.54"/><circle cx="450.4" cy="288.4" r="0.57"/></g>
<g fill="#a9c1c3" fill-opacity="0.9"><circle cx="462.4" cy="294.1" r="0.59"/><circle cx="449.3" cy="304.0" r="0.60"/></g>
<circle cx="436.8" cy="300.1" r="0.49" fill="#94b1b3" opacity="0.9"/>
<circle cx="460.7" cy="307.4" r="0.54" fill="#b8cdcf" opacity="0.9"/>
<circle cx="463.3" cy="293.5" r="0.46" fill="#94b1b3" opacity="0.9"/>
<g fill="#a9c1c3" fill-opacity="0.9"><circle cx="431.7" cy="269.8" r="0.55"/><circle cx="438.6" cy="291.7" r="0.49"/><circle cx="438.9" cy="308.2" r="0.44"/></g>
<g fill="#2c4749" fill-opacity="0.7"><circle cx="458.8" cy="297.2" r="0.43"/><circle cx="427.4" cy="306.5" r="0.56"/></g>
<circle cx="429.3" cy="305.2" r="0.45" fill="#b8cdcf" opacity="0.9"/>
<g fill="#2c4749" fill-opacity="0.7"><circle cx="435.4" cy="300.9" r="0.57"/><circle cx="456.4" cy="293.0" r="0.47"/></g>
<circle cx="443.4" cy="305.6" r="0.46" fill="#94b1b3" opacity="0.9"/>
<circle cx="436.5" cy="319.5" r="0.44" fill="#b8cdcf" opacity="0.9"/>
<g fill="#2c4749" fill-opacity="0.7"><circle cx="445.1" cy="298.1" r="0.50"/><circle cx="447.0" cy="290.9" r="0.57"/></g>
<circle cx="442.8" cy="281.4" r="0.41" fill="#94b1b3" opacity="0.9"/>
<circle cx="455.9" cy="299.3" r="0.65" fill="#a9c1c3" opacity="0.9"/>
<g fill="#2c4749" fill-opacity="0.7"><circle cx="438.1" cy="293.1" r="0.48"/><circle cx="435.7" cy="298.5" r="0.36"/></g>
<circle cx="442.9" cy="289.7" r="0.38" fill="#a9c1c3" opacity="0.9"/>
<circle cx="451.4" cy="302.5" r="0.42" fill="#b8cdcf" opacity="0.9"/>
<circle cx="442.5" cy="304.3" r="0.54" fill="#2c4749" opacity="0.7"/>
<g fill="#94b1b3" fill-opacity="0.9"><circle cx="454.9" cy="306.0" r="0.57"/><circle cx="428.0" cy="276.6" r="0.62"/></g>
<g fill="#a9c1c3" fill-opacity="0.9"><circle cx="420.9" cy="301.8" r="0.62"/><circle cx="452.2" cy="307.1" r="0.58"/><circle cx="438.8" cy="303.8" r="0.39"/></g>
<circle cx="430.1" cy="297.1" r="0.50" fill="#2c4749" opacity="0.7"/>
<g fill="#a9c1c3" fill-opacity="0.9"><circle cx="415.5" cy="303.2" r="0.40"/><circle cx="420.4" cy="303.1" r="0.61"/></g>
<circle cx="445.3" cy="303.5" r="0.64" fill="#b8cdcf" opacity="0.9"/>
<circle cx="444.9" cy="296.9" r="0.55" fill="#2c4749" opacity="0.7"/>
<g fill="#a9c1c3" fill-opacity="0.9"><circle cx="440.1" cy="290.9" r="0.36"/><circle cx="415.4" cy="298.8" r="0.58"/></g>
<circle cx="434.6" cy="303.0" r="0.55" fill="#94b1b3" opacity="0.9"/>
<g fill="#b8cdcf" fill-opacity="0.9"><circle cx="433.0" cy="312.3" r="0.63"/><circle cx="461.6" cy="295.4" r="0.43"/></g>
<g fill="#94b1b3" fill-opacity="0.9"><circle cx="440.2" cy="309.9" r="0.46"/><circle cx="435.8" cy="306.4" r="0.40"/></g>
<circle cx="432.9" cy="295.4" r="0.44" fill="#2c4749" opacity="0.7"/>
<g fill="#a9c1c3" fill-opacity="0.9"><circle cx="437.5" cy="305.5" r="0.50"/><circle cx="436.6" cy="302.1" r="0.46"/></g>
<circle cx="433.5" cy="306.0" r="0.50" fill="#2c4749" opacity="0.7"/>
<circle cx="429.4" cy="290.6" r="0.58" fill="#a9c1c3" opacity="0.9"/>
<circle cx="450.2" cy="285.8" r="0.63" fill="#b8cdcf" opacity="0.9"/>
<circle cx="446.8" cy="290.5" r="0.38" fill="#a9c1c3" opacity="0.9"/>
<circle cx="445.7" cy="289.1" r="0.59" fill="#b8cdcf" opacity="0.9"/>
<circle cx="435.8" cy="322.2" r="0.47" fill="#a9c1c3" opacity="0.9"/>
<g fill="#b8cdcf" fill-opacity="0.9"><circle cx="415.8" cy="289.3" r="0.36"/><circle cx="440.9" cy="293.7" r="0.48"/></g>
<circle cx="420.9" cy="277.8" r="0.40" fill="#a9c1c3" opacity="0.9"/>
<g fill="#2c4749" fill-opacity="0.7"><circle cx="430.4" cy="301.9" r="0.46"/><circle cx="454.0" cy="309.9" r="0.38"/><circle cx="448.1" cy="285.3" r="0.38"/></g>
<circle cx="431.4" cy="321.6" r="0.63" fill="#a9c1c3" opacity="0.9"/>
<circle cx="446.3" cy="301.6" r="0.40" fill="#94b1b3" opacity="0.9"/>
<g fill="#2c4749" fill-opacity="0.7"><circle cx="428.8" cy="299.9" r="0.52"/><circle cx="456.2" cy="290.3" r="0.54"/></g>
<g fill="#94b1b3" fill-opacity="0.9"><circle cx="446.5" cy="302.2" r="0.41"/><circle cx="445.8" cy="287.8" r="0.56"/><circle cx="419.7" cy="287.2" r="0.53"/><circle cx="439.2" cy="292.3" r="0.54"/></g>
<circle cx="439.7" cy="289.0" r="0.56" fill="#2c4749" opacity="0.7"/>
<circle cx="432.0" cy="306.3" r="0.52" fill="#94b1b3" opacity="0.9"/>
<g fill="#2c4749" fill-opacity="0.7"><circle cx="452.0" cy="290.7" r="0.54"/><circle cx="456.9" cy="309.8" r="0.52"/><circle cx="431.4" cy="293.5" r="0.59"/></g>
<circle cx="441.3" cy="292.0" r="0.42" fill="#a9c1c3" opacity="0.9"/>
<circle cx="447.6" cy="289.7" r="0.40" fill="#2c4749" opacity="0.7"/>
<circle cx="452.4" cy="318.4" r="0.45" fill="#a9c1c3" opacity="0.9"/>
<g fill="#94b1b3" fill-opacity="0.9"><circle cx="449.9" cy="294.9" r="0.57"/><circle cx="446.4" cy="302.5" r="0.55"/></g>
<g fill="#2c4749" fill-opacity="0.7"><circle cx="440.6" cy="311.0" r="0.42"/><circle cx="437.2" cy="318.1" r="0.56"/></g>
<circle cx="449.6" cy="286.5" r="0.51" fill="#b8cdcf" opacity="0.9"/>
<circle cx="436.1" cy="282.4" r="0.46" fill="#2c4749" opacity="0.7"/>
<g fill="#94b1b3" fill-opacity="0.9"><circle cx="443.5" cy="283.7" r="0.56"/><circle cx="437.5" cy="273.0" r="0.52"/></g>
<circle cx="451.7" cy="288.3" r="0.63" fill="#b8cdcf" opacity="0.9"/>
<circle cx="459.7" cy="307.0" r="0.52" fill="#a9c1c3" opacity="0.9"/>
<g fill="#2c4749" fill-opacity="0.7"><circle cx="444.4" cy="307.9" r="0.59"/><circle cx="434.8" cy="287.6" r="0.58"/></g>
<circle cx="469.6" cy="293.1" r="0.51" fill="#94b1b3" opacity="0.9"/>
<circle cx="427.0" cy="295.4" r="0.47" fill="#2c4749" opacity="0.7"/>
<g fill="#94b1b3" fill-opacity="0.9"><circle cx="444.7" cy="309.1" r="0.37"/><circle cx="469.3" cy="303.1" r="0.38"/></g>
<circle cx="440.5" cy="307.0" r="0.49" fill="#2c4749" opacity="0.7"/>
<circle cx="449.2" cy="289.1" r="0.53" fill="#b8cdcf" opacity="0.9"/>
<g fill="#a9c1c3" fill-opacity="0.9"><circle cx="461.9" cy="297.3" r="0.44"/><circle cx="459.8" cy="309.3" r="0.36"/><circle cx="434.1" cy="319.5" r="0.47"/><circle cx="447.5" cy="285.6" r="0.58"/></g>
<circle cx="459.9" cy="297.9" r="0.60" fill="#94b1b3" opacity="0.9"/>
<g fill="#a9c1c3" fill-opacity="0.9"><circle cx="434.0" cy="307.0" r="0.42"/><circle cx="431.9" cy="292.5" r="0.49"/></g>
<circle cx="447.9" cy="294.5" r="0.46" fill="#2c4749" opacity="0.7"/>
<circle cx="444.8" cy="319.3" r="0.55" fill="#b8cdcf" opacity="0.9"/>
<circle cx="440.2" cy="306.6" r="0.41" fill="#a9c1c3" opacity="0.9"/>
<circle cx="457.3" cy="305.0" r="0.36" fill="#2c4749" opacity="0.7"/>
<g fill="#a9c1c3" fill-opacity="0.9"><circle cx="441.0" cy="314.8" r="0.48"/><circle cx="420.4" cy="309.9" r="0.46"/></g>
<circle cx="447.4" cy="297.4" r="0.58" fill="#94b1b3" opacity="0.9"/>
<circle cx="462.0" cy="296.8" r="0.52" fill="#b8cdcf" opacity="0.9"/>
<g fill="#a9c1c3" fill-opacity="0.9"><circle cx="467.3" cy="309.9" r="0.37"/><circle cx="425.2" cy="312.4" r="0.39"/></g>
<g fill="#2c4749" fill-opacity="0.7"><circle cx="445.3" cy="304.8" r="0.38"/><circle cx="447.4" cy="305.4" r="0.41"/></g>
<circle cx="434.8" cy="278.6" r="0.55" fill="#94b1b3" opacity="0.9"/>
<circle cx="434.4" cy="304.4" r="0.37" fill="#a9c1c3" opacity="0.9"/>
<g fill="#2c4749" fill-opacity="0.7"><circle cx="439.8" cy="291.5" r="0.50"/><circle cx="437.9" cy="317.1" r="0.55"/><circle cx="439.6" cy="314.2" r="0.58"/></g>
<g fill="#94b1b3" fill-opacity="0.9"><circle cx="467.3" cy="293.7" r="0.41"/><circle cx="432.3" cy="287.7" r="0.53"/><circle cx="421.1" cy="282.9" r="0.41"/></g>
<g fill="#2c4749" fill-opacity="0.7"><circle cx="459.1" cy="295.2" r="0.36"/><circle cx="450.2" cy="313.2" r="0.35"/></g>
<circle cx="443.3" cy="311.0" r="0.49" fill="#a9c1c3" opacity="0.9"/>
<circle cx="428.5" cy="316.6" r="0.45" fill="#b8cdcf" opacity="0.9"/>
<circle cx="432.7" cy="294.5" r="0.40" fill="#a9c1c3" opacity="0.9"/>
<circle cx="449.7" cy="289.9" r="0.49" fill="#94b1b3" opacity="0.9"/>
<circle cx="456.8" cy="292.5" r="0.62" fill="#b8cdcf" opacity="0.9"/>
<circle cx="452.6" cy="317.2" r="0.44" fill="#a9c1c3" opacity="0.9"/>
<g fill="#2c4749" fill-opacity="0.7"><circle cx="454.1" cy="291.9" r="0.53"/><circle cx="432.2" cy="311.4" r="0.47"/></g>
<circle cx="455.4" cy="310.2" r="0.56" fill="#b8cdcf" opacity="0.9"/>
<circle cx="425.9" cy="298.1" r="0.49" fill="#a9c1c3" opacity="0.9"/>
<g fill="#2c4749" fill-opacity="0.7"><circle cx="438.6" cy="302.5" r="0.36"/><circle cx="431.7" cy="295.6" r="0.50"/></g>
<g fill="#94b1b3" fill-opacity="0.9"><circle cx="434.6" cy="302.4" r="0.38"/><circle cx="417.4" cy="289.3" r="0.49"/></g>
<g fill="#b8cdcf" fill-opacity="0.9"><circle cx="435.3" cy="310.2" r="0.54"/><circle cx="452.2" cy="278.3" r="0.63"/></g>
<g fill="#2c4749" fill-opacity="0.7"><circle cx="441.0" cy="307.0" r="0.57"/><circle cx="453.8" cy="309.6" r="0.55"/></g>
<g fill="#94b1b3" fill-opacity="0.9"><circle cx="453.3" cy="294.3" r="0.55"/><circle cx="445.6" cy="295.6" r="0.38"/></g>
<circle cx="446.0" cy="292.4" r="0.58" fill="#b8cdcf" opacity="0.9"/>
<circle cx="428.0" cy="285.4" r="0.57" fill="#2c4749" opacity="0.7"/>
<circle cx="443.2" cy="277.3" r="0.63" fill="#b8cdcf" opacity="0.9"/>
<circle cx="456.4" cy="289.8" r="0.57" fill="#2c4749" opacity="0.7"/>
<circle cx="418.5" cy="297.8" r="0.54" fill="#a9c1c3" opacity="0.9"/>
<circle cx="437.4" cy="288.4" r="0.40" fill="#2c4749" opacity="0.7"/>
<circle cx="427.7" cy="280.3" r="0.45" fill="#a9c1c3" opacity="0.9"/>
<circle cx="459.6" cy="286.1" r="0.54" fill="#94b1b3" opacity="0.9"/>
<circle cx="442.2" cy="288.6" r="0.50" fill="#a9c1c3" opacity="0.9"/>
<circle cx="444.9" cy="300.6" r="0.51" fill="#94b1b3" opacity="0.9"/>
<circle cx="443.5" cy="306.0" r="0.37" fill="#2c4749" opacity="0.7"/>
<circle cx="454.1" cy="302.3" r="0.54" fill="#94b1b3" opacity="0.9"/>
<circle cx="446.8" cy="325.0" r="0.62" fill="#a9c1c3" opacity="0.9"/>
<circle cx="453.1" cy="309.6" r="0.52" fill="#b8cdcf" opacity="0.9"/>
<circle cx="460.4" cy="287.8" r="0.53" fill="#94b1b3" opacity="0.9"/>
<circle cx="448.4" cy="297.7" r="0.37" fill="#a9c1c3" opacity="0.9"/>
<circle cx="452.1" cy="323.3" r="0.53" fill="#94b1b3" opacity="0.9"/>
<circle cx="440.3" cy="302.6" r="0.37" fill="#2c4749" opacity="0.7"/>
<circle cx="462.5" cy="294.5" r="0.43" fill="#a9c1c3" opacity="0.9"/>
<circle cx="428.6" cy="293.8" r="0.61" fill="#94b1b3" opacity="0.9"/>
<circle cx="432.1" cy="297.9" r="0.42" fill="#b8cdcf" opacity="0.9"/>
<circle cx="428.4" cy="305.8" r="0.49" fill="#2c4749" opacity="0.7"/>
<circle cx="426.0" cy="308.2" r="0.54" fill="#a9c1c3" opacity="0.9"/>
<circle cx="464.6" cy="290.7" r="0.53" fill="#94b1b3" opacity="0.9"/>
<circle cx="450.1" cy="293.2" r="0.56" fill="#2c4749" opacity="0.7"/>
<circle cx="437.5" cy="280.1" r="0.41" fill="#a9c1c3" opacity="0.9"/>
<g fill="#2c4749" fill-opacity="0.7"><circle cx="444.0" cy="285.7" r="0.46"/><circle cx="425.6" cy="302.4" r="0.43"/></g>
<circle cx="442.7" cy="284.9" r="0.49" fill="#94b1b3" opacity="0.9"/>
<circle cx="432.4" cy="280.5" r="0.62" fill="#a9c1c3" opacity="0.9"/>
<g fill="#b8cdcf" fill-opacity="0.9"><circle cx="439.8" cy="280.1" r="0.55"/><circle cx="431.5" cy="300.5" r="0.38"/></g>
<g fill="#2c4749" fill-opacity="0.7"><circle cx="458.2" cy="295.6" r="0.45"/><circle cx="442.4" cy="282.2" r="0.45"/></g>
<circle cx="462.1" cy="297.0" r="0.37" fill="#b8cdcf" opacity="0.9"/>
<circle cx="456.3" cy="303.0" r="0.59" fill="#2c4749" opacity="0.7"/>
<g fill="#b8cdcf" fill-opacity="0.9"><circle cx="438.2" cy="287.2" r="0.43"/><circle cx="419.7" cy="289.3" r="0.39"/><circle cx="430.8" cy="317.5" r="0.43"/></g>
<circle cx="427.9" cy="317.2" r="0.63" fill="#94b1b3" opacity="0.9"/>
<circle cx="430.8" cy="281.3" r="0.39" fill="#2c4749" opacity="0.7"/>
<circle cx="429.7" cy="289.1" r="0.52" fill="#94b1b3" opacity="0.9"/>
<circle cx="437.5" cy="302.1" r="0.52" fill="#2c4749" opacity="0.7"/>
<circle cx="432.1" cy="275.7" r="0.43" fill="#94b1b3" opacity="0.9"/>
<circle cx="428.2" cy="291.1" r="0.45" fill="#2c4749" opacity="0.7"/>
<circle cx="445.5" cy="278.5" r="0.41" fill="#a9c1c3" opacity="0.9"/>
<circle cx="454.9" cy="310.7" r="0.43" fill="#94b1b3" opacity="0.9"/>
<circle cx="456.4" cy="303.7" r="0.43" fill="#2c4749" opacity="0.7"/>
<g fill="#94b1b3" fill-opacity="0.9"><circle cx="433.6" cy="290.7" r="0.62"/><circle cx="434.3" cy="277.4" r="0.59"/></g>
<circle cx="423.6" cy="283.7" r="0.42" fill="#b8cdcf" opacity="0.9"/>
<circle cx="431.7" cy="317.3" r="0.59" fill="#94b1b3" opacity="0.9"/>
<circle cx="447.7" cy="311.4" r="0.49" fill="#b8cdcf" opacity="0.9"/>
<circle cx="435.2" cy="277.8" r="0.42" fill="#94b1b3" opacity="0.9"/>
<circle cx="456.4" cy="303.9" r="0.57" fill="#b8cdcf" opacity="0.9"/>
</g>
</g>
<rect x="411.10" y="347.10" width="57.80" height="57.40" fill="#020505" />
<clipPath id="cr"><rect x="411.1" y="347.1" width="57.8" height="57.4"/></clipPath>
<g clip-path="url(#cr)">
<circle cx="441.2" cy="375.4" r="10.50" fill="url(#rcol)"/>
<circle cx="434.8" cy="369.9" r="0.58" fill="#557b7e" opacity="0.9"/>
<g fill="#8fb0b3" fill-opacity="0.9"><circle cx="424.2" cy="352.5" r="0.46"/><circle cx="441.7" cy="368.7" r="0.35"/></g>
<circle cx="429.9" cy="377.7" r="0.37" fill="#557b7e" opacity="0.9"/>
<g fill="#6f9598" fill-opacity="0.9"><circle cx="446.3" cy="379.8" r="0.42"/><circle cx="463.5" cy="362.3" r="0.53"/><circle cx="442.2" cy="353.7" r="0.43"/><circle cx="454.9" cy="375.8" r="0.56"/></g>
<circle cx="442.7" cy="361.8" r="0.35" fill="#8fb0b3" opacity="0.9"/>
<circle cx="449.1" cy="373.5" r="0.46" fill="#557b7e" opacity="0.9"/>
<circle cx="426.4" cy="361.3" r="0.36" fill="#8fb0b3" opacity="0.9"/>
<circle cx="429.8" cy="409.6" r="0.41" fill="#6f9598" opacity="0.9"/>
<circle cx="447.9" cy="372.5" r="0.55" fill="#557b7e" opacity="0.9"/>
<circle cx="458.3" cy="376.0" r="0.50" fill="#8fb0b3" opacity="0.9"/>
<g fill="#6f9598" fill-opacity="0.9"><circle cx="452.8" cy="381.0" r="0.51"/><circle cx="425.6" cy="377.4" r="0.51"/></g>
<g fill="#8fb0b3" fill-opacity="0.9"><circle cx="439.3" cy="409.7" r="0.41"/><circle cx="458.4" cy="377.6" r="0.54"/></g>
<circle cx="430.5" cy="385.5" r="0.51" fill="#557b7e" opacity="0.9"/>
<circle cx="458.0" cy="370.6" r="0.36" fill="#6f9598" opacity="0.9"/>
<g fill="#557b7e" fill-opacity="0.9"><circle cx="456.2" cy="368.2" r="0.41"/><circle cx="440.5" cy="386.5" r="0.44"/></g>
<circle cx="440.5" cy="361.6" r="0.31" fill="#6f9598" opacity="0.9"/>
<g fill="#8fb0b3" fill-opacity="0.9"><circle cx="448.3" cy="404.3" r="0.45"/><circle cx="459.4" cy="365.0" r="0.46"/></g>
<circle cx="428.8" cy="348.0" r="0.39" fill="#6f9598" opacity="0.9"/>
<g fill="#557b7e" fill-opacity="0.9"><circle cx="434.4" cy="369.3" r="0.45"/><circle cx="457.0" cy="380.8" r="0.60"/></g>
<circle cx="463.9" cy="363.4" r="0.40" fill="#8fb0b3" opacity="0.9"/>
<g fill="#6f9598" fill-opacity="0.9"><circle cx="430.1" cy="378.6" r="0.43"/><circle cx="461.4" cy="372.9" r="0.40"/><circle cx="456.6" cy="392.8" r="0.52"/><circle cx="434.9" cy="369.5" r="0.43"/><circle cx="452.3" cy="380.1" r="0.43"/></g>
<g fill="#8fb0b3" fill-opacity="0.9"><circle cx="411.4" cy="384.4" r="0.59"/><circle cx="447.5" cy="373.8" r="0.51"/><circle cx="430.6" cy="376.9" r="0.34"/></g>
<circle cx="448.8" cy="358.7" r="0.46" fill="#6f9598" opacity="0.9"/>
<circle cx="428.1" cy="362.8" r="0.33" fill="#8fb0b3" opacity="0.9"/>
<g fill="#557b7e" fill-opacity="0.9"><circle cx="433.6" cy="374.9" r="0.46"/><circle cx="433.1" cy="384.5" r="0.51"/><circle cx="467.2" cy="381.4" r="0.39"/><circle cx="437.9" cy="366.3" r="0.53"/></g>
<g fill="#8fb0b3" fill-opacity="0.9"><circle cx="436.2" cy="355.5" r="0.59"/><circle cx="435.5" cy="368.7" r="0.46"/><circle cx="437.0" cy="382.6" r="0.38"/></g>
<circle cx="448.7" cy="357.4" r="0.40" fill="#557b7e" opacity="0.9"/>
<g fill="#8fb0b3" fill-opacity="0.9"><circle cx="427.0" cy="395.5" r="0.58"/><circle cx="428.6" cy="392.1" r="0.51"/></g>
<circle cx="466.8" cy="368.3" r="0.46" fill="#557b7e" opacity="0.9"/>
<circle cx="451.1" cy="374.3" r="0.56" fill="#8fb0b3" opacity="0.9"/>
<circle cx="434.2" cy="359.0" r="0.52" fill="#557b7e" opacity="0.9"/>
<circle cx="416.4" cy="389.6" r="0.45" fill="#8fb0b3" opacity="0.9"/>
<g fill="#557b7e" fill-opacity="0.9"><circle cx="432.2" cy="400.1" r="0.47"/><circle cx="438.7" cy="390.4" r="0.48"/><circle cx="436.4" cy="369.8" r="0.37"/></g>
<circle cx="446.5" cy="388.2" r="0.59" fill="#6f9598" opacity="0.9"/>
<g fill="#8fb0b3" fill-opacity="0.9"><circle cx="479.7" cy="389.5" r="0.34"/><circle cx="462.2" cy="371.2" r="0.42"/></g>
<circle cx="434.3" cy="381.5" r="0.48" fill="#557b7e" opacity="0.9"/>
<circle cx="443.2" cy="384.5" r="0.41" fill="#8fb0b3" opacity="0.9"/>
<circle cx="451.9" cy="361.1" r="0.56" fill="#557b7e" opacity="0.9"/>
<circle cx="445.1" cy="367.5" r="0.48" fill="#6f9598" opacity="0.9"/>
<g fill="#557b7e" fill-opacity="0.9"><circle cx="438.0" cy="384.5" r="0.45"/><circle cx="437.7" cy="386.0" r="0.42"/></g>
<g fill="#6f9598" fill-opacity="0.9"><circle cx="433.0" cy="366.2" r="0.41"/><circle cx="450.1" cy="389.9" r="0.36"/></g>
<circle cx="428.0" cy="365.4" r="0.41" fill="#557b7e" opacity="0.9"/>
<circle cx="459.7" cy="375.7" r="0.48" fill="#6f9598" opacity="0.9"/>
<g fill="#557b7e" fill-opacity="0.9"><circle cx="433.0" cy="390.5" r="0.56"/><circle cx="430.1" cy="386.0" r="0.39"/></g>
<circle cx="432.9" cy="382.9" r="0.59" fill="#6f9598" opacity="0.9"/>
<g fill="#8fb0b3" fill-opacity="0.9"><circle cx="433.1" cy="370.5" r="0.45"/><circle cx="481.0" cy="380.6" r="0.58"/></g>
<circle cx="430.5" cy="376.1" r="0.34" fill="#557b7e" opacity="0.9"/>
<circle cx="460.3" cy="370.7" r="0.37" fill="#6f9598" opacity="0.9"/>
<circle cx="442.2" cy="367.8" r="0.46" fill="#8fb0b3" opacity="0.9"/>
<circle cx="441.0" cy="384.3" r="0.44" fill="#6f9598" opacity="0.9"/>
<circle cx="440.8" cy="383.4" r="0.60" fill="#8fb0b3" opacity="0.9"/>
<circle cx="426.7" cy="376.3" r="0.60" fill="#557b7e" opacity="0.9"/>
<circle cx="426.7" cy="357.7" r="0.34" fill="#6f9598" opacity="0.9"/>
<circle cx="434.6" cy="393.7" r="0.46" fill="#8fb0b3" opacity="0.9"/>
<circle cx="435.1" cy="370.8" r="0.40" fill="#557b7e" opacity="0.9"/>
<circle cx="440.3" cy="365.8" r="0.48" fill="#6f9598" opacity="0.9"/>
<circle cx="464.8" cy="376.0" r="0.33" fill="#557b7e" opacity="0.9"/>
<g fill="#8fb0b3" fill-opacity="0.9"><circle cx="428.1" cy="371.9" r="0.30"/><circle cx="425.6" cy="365.4" r="0.49"/></g>
<circle cx="406.5" cy="380.9" r="0.50" fill="#557b7e" opacity="0.9"/>
<circle cx="445.1" cy="388.3" r="0.32" fill="#6f9598" opacity="0.9"/>
<circle cx="430.8" cy="348.7" r="0.43" fill="#8fb0b3" opacity="0.9"/>
<circle cx="430.3" cy="361.8" r="0.35" fill="#557b7e" opacity="0.9"/>
<circle cx="432.2" cy="372.9" r="0.45" fill="#8fb0b3" opacity="0.9"/>
<circle cx="420.8" cy="370.8" r="0.31" fill="#557b7e" opacity="0.9"/>
<circle cx="442.3" cy="389.2" r="0.55" fill="#6f9598" opacity="0.9"/>
<circle cx="427.2" cy="353.4" r="0.59" fill="#8fb0b3" opacity="0.9"/>
<g fill="#6f9598" fill-opacity="0.9"><circle cx="437.6" cy="366.0" r="0.31"/><circle cx="445.4" cy="400.2" r="0.51"/></g>
<circle cx="471.0" cy="374.5" r="0.51" fill="#8fb0b3" opacity="0.9"/>
<g fill="#557b7e" fill-opacity="0.9"><circle cx="450.3" cy="389.0" r="0.35"/><circle cx="444.0" cy="390.1" r="0.47"/><circle cx="432.8" cy="383.0" r="0.47"/></g>
<circle cx="433.5" cy="380.8" r="0.49" fill="#6f9598" opacity="0.9"/>
<g fill="#557b7e" fill-opacity="0.9"><circle cx="428.4" cy="381.2" r="0.45"/><circle cx="425.2" cy="391.2" r="0.32"/><circle cx="434.1" cy="398.1" r="0.39"/></g>
<g fill="#6f9598" fill-opacity="0.9"><circle cx="426.8" cy="371.1" r="0.37"/><circle cx="433.5" cy="373.2" r="0.46"/></g>
<circle cx="450.2" cy="350.4" r="0.56" fill="#8fb0b3" opacity="0.9"/>
<g fill="#6f9598" fill-opacity="0.9"><circle cx="439.3" cy="360.5" r="0.50"/><circle cx="419.0" cy="364.9" r="0.31"/></g>
<circle cx="422.2" cy="374.9" r="0.44" fill="#8fb0b3" opacity="0.9"/>
<g fill="#557b7e" fill-opacity="0.9"><circle cx="448.7" cy="382.1" r="0.46"/><circle cx="438.5" cy="362.3" r="0.59"/></g>
<circle cx="443.2" cy="366.7" r="0.52" fill="#6f9598" opacity="0.9"/>
<circle cx="458.6" cy="372.5" r="0.34" fill="#557b7e" opacity="0.9"/>
<circle cx="422.0" cy="394.0" r="0.55" fill="#8fb0b3" opacity="0.9"/>
<circle cx="432.9" cy="388.9" r="0.42" fill="#6f9598" opacity="0.9"/>
<circle cx="438.2" cy="361.5" r="0.41" fill="#8fb0b3" opacity="0.9"/>
<circle cx="450.1" cy="348.8" r="0.46" fill="#557b7e" opacity="0.9"/>
<g fill="#6f9598" fill-opacity="0.9"><circle cx="457.1" cy="374.9" r="0.36"/><circle cx="433.0" cy="381.4" r="0.36"/></g>
<g fill="#557b7e" fill-opacity="0.9"><circle cx="431.8" cy="376.1" r="0.58"/><circle cx="441.9" cy="355.1" r="0.57"/></g>
<g fill="#8fb0b3" fill-opacity="0.9"><circle cx="446.8" cy="372.3" r="0.40"/><circle cx="449.5" cy="382.0" r="0.41"/></g>
<circle cx="449.3" cy="366.2" r="0.44" fill="#557b7e" opacity="0.9"/>
<circle cx="440.4" cy="383.8" r="0.39" fill="#6f9598" opacity="0.9"/>
<circle cx="454.3" cy="378.5" r="0.57" fill="#8fb0b3" opacity="0.9"/>
<circle cx="463.9" cy="363.6" r="0.51" fill="#557b7e" opacity="0.9"/>
<circle cx="413.9" cy="383.1" r="0.55" fill="#6f9598" opacity="0.9"/>
<g fill="#557b7e" fill-opacity="0.9"><circle cx="449.4" cy="383.6" r="0.50"/><circle cx="456.3" cy="375.0" r="0.31"/><circle cx="448.1" cy="376.8" r="0.42"/></g>
<circle cx="432.8" cy="384.5" r="0.39" fill="#8fb0b3" opacity="0.9"/>
<g fill="#6f9598" fill-opacity="0.9"><circle cx="413.6" cy="407.6" r="0.44"/><circle cx="450.8" cy="395.7" r="0.36"/><circle cx="418.3" cy="346.5" r="0.30"/><circle cx="420.7" cy="381.6" r="0.50"/></g>
<circle cx="480.6" cy="387.2" r="0.46" fill="#8fb0b3" opacity="0.9"/>
<g fill="#6f9598" fill-opacity="0.9"><circle cx="457.2" cy="369.0" r="0.51"/><circle cx="468.8" cy="354.8" r="0.32"/><circle cx="435.3" cy="368.9" r="0.45"/><circle cx="453.5" cy="379.6" r="0.49"/></g>
<circle cx="458.0" cy="370.0" r="0.36" fill="#557b7e" opacity="0.9"/>
<circle cx="421.5" cy="374.6" r="0.33" fill="#8fb0b3" opacity="0.9"/>
<circle cx="444.5" cy="360.6" r="0.33" fill="#6f9598" opacity="0.9"/>
<circle cx="430.7" cy="368.5" r="0.31" fill="#557b7e" opacity="0.9"/>
<circle cx="432.1" cy="386.2" r="0.43" fill="#8fb0b3" opacity="0.9"/>
<circle cx="432.4" cy="374.4" r="0.53" fill="#557b7e" opacity="0.9"/>
<circle cx="432.6" cy="378.2" r="0.55" fill="#6f9598" opacity="0.9"/>
<circle cx="425.6" cy="370.3" r="0.53" fill="#8fb0b3" opacity="0.9"/>
<circle cx="448.0" cy="359.7" r="0.39" fill="#6f9598" opacity="0.9"/>
<circle cx="416.0" cy="369.8" r="0.54" fill="#557b7e" opacity="0.9"/>
<g fill="#8fb0b3" fill-opacity="0.9"><circle cx="435.4" cy="366.7" r="0.38"/><circle cx="436.1" cy="361.6" r="0.39"/><circle cx="447.7" cy="369.4" r="0.32"/></g>
<circle cx="435.5" cy="380.4" r="0.39" fill="#6f9598" opacity="0.9"/>
<circle cx="434.2" cy="372.4" r="0.43" fill="#557b7e" opacity="0.9"/>
<circle cx="426.3" cy="354.4" r="0.51" fill="#8fb0b3" opacity="0.9"/>
<g fill="#557b7e" fill-opacity="0.9"><circle cx="450.3" cy="383.3" r="0.54"/><circle cx="450.0" cy="385.6" r="0.38"/><circle cx="436.2" cy="384.5" r="0.31"/></g>
<circle cx="441.4" cy="366.0" r="0.32" fill="#6f9598" opacity="0.9"/>
<g fill="#8fb0b3" fill-opacity="0.9"><circle cx="444.3" cy="368.5" r="0.43"/><circle cx="453.5" cy="371.3" r="0.43"/></g>
<circle cx="444.4" cy="387.6" r="0.41" fill="#6f9598" opacity="0.9"/>
<circle cx="426.8" cy="367.5" r="0.33" fill="#557b7e" opacity="0.9"/>
<circle cx="421.6" cy="360.7" r="0.49" fill="#6f9598" opacity="0.9"/>
<circle cx="415.3" cy="384.5" r="0.34" fill="#8fb0b3" opacity="0.9"/>
<g fill="#557b7e" fill-opacity="0.9"><circle cx="426.4" cy="380.6" r="0.37"/><circle cx="416.7" cy="386.1" r="0.58"/></g>
<g fill="#6f9598" fill-opacity="0.9"><circle cx="426.4" cy="378.0" r="0.45"/><circle cx="450.1" cy="382.8" r="0.32"/></g>
<circle cx="458.7" cy="379.4" r="0.47" fill="#8fb0b3" opacity="0.9"/>
<g fill="#6f9598" fill-opacity="0.9"><circle cx="436.4" cy="361.0" r="0.36"/><circle cx="434.8" cy="392.3" r="0.45"/><circle cx="430.6" cy="386.7" r="0.50"/><circle cx="420.3" cy="357.0" r="0.42"/></g>
<circle cx="445.5" cy="381.7" r="0.33" fill="#8fb0b3" opacity="0.9"/>
<circle cx="455.8" cy="386.5" r="0.52" fill="#6f9598" opacity="0.9"/>
<circle cx="442.7" cy="368.5" r="0.44" fill="#557b7e" opacity="0.9"/>
<g fill="#8fb0b3" fill-opacity="0.9"><circle cx="425.8" cy="361.2" r="0.54"/><circle cx="433.1" cy="357.0" r="0.49"/></g>
<circle cx="457.3" cy="378.0" r="0.50" fill="#557b7e" opacity="0.9"/>
<circle cx="434.1" cy="391.4" r="0.51" fill="#8fb0b3" opacity="0.9"/>
<circle cx="425.2" cy="380.6" r="0.54" fill="#557b7e" opacity="0.9"/>
<circle cx="452.4" cy="369.5" r="0.46" fill="#8fb0b3" opacity="0.9"/>
<circle cx="425.2" cy="393.6" r="0.48" fill="#557b7e" opacity="0.9"/>
<circle cx="441.8" cy="366.0" r="0.31" fill="#8fb0b3" opacity="0.9"/>
<circle cx="427.9" cy="365.0" r="0.56" fill="#557b7e" opacity="0.9"/>
<circle cx="432.9" cy="380.3" r="0.58" fill="#6f9598" opacity="0.9"/>
<g fill="#557b7e" fill-opacity="0.9"><circle cx="447.3" cy="378.8" r="0.53"/><circle cx="450.8" cy="373.1" r="0.54"/></g>
<circle cx="426.7" cy="364.7" r="0.47" fill="#8fb0b3" opacity="0.9"/>
<g fill="#557b7e" fill-opacity="0.9"><circle cx="426.6" cy="374.1" r="0.59"/><circle cx="429.6" cy="381.3" r="0.59"/><circle cx="429.3" cy="384.9" r="0.57"/></g>
<g fill="#6f9598" fill-opacity="0.9"><circle cx="423.4" cy="360.7" r="0.42"/><circle cx="452.2" cy="358.0" r="0.60"/></g>
<circle cx="454.8" cy="363.4" r="0.36" fill="#8fb0b3" opacity="0.9"/>
<g fill="#6f9598" fill-opacity="0.9"><circle cx="443.1" cy="367.6" r="0.59"/><circle cx="432.8" cy="367.0" r="0.53"/></g>
<circle cx="428.2" cy="357.1" r="0.49" fill="#557b7e" opacity="0.9"/>
<circle cx="438.7" cy="361.6" r="0.43" fill="#8fb0b3" opacity="0.9"/>
<g fill="#6f9598" fill-opacity="0.9"><circle cx="426.3" cy="377.1" r="0.43"/><circle cx="431.1" cy="368.2" r="0.59"/></g>
<g fill="#557b7e" fill-opacity="0.9"><circle cx="429.2" cy="381.7" r="0.47"/><circle cx="446.7" cy="389.4" r="0.36"/></g>
<circle cx="448.2" cy="381.3" r="0.32" fill="#8fb0b3" opacity="0.9"/>
<g fill="#6f9598" fill-opacity="0.9"><circle cx="451.9" cy="388.9" r="0.46"/><circle cx="433.4" cy="391.2" r="0.58"/></g>
<g fill="#8fb0b3" fill-opacity="0.9"><circle cx="457.0" cy="362.6" r="0.48"/><circle cx="453.9" cy="354.5" r="0.33"/></g>
<g fill="#6f9598" fill-opacity="0.9"><circle cx="444.7" cy="381.5" r="0.48"/><circle cx="425.6" cy="367.9" r="0.53"/></g>
<circle cx="438.1" cy="365.1" r="0.58" fill="#557b7e" opacity="0.9"/>
<g fill="#6f9598" fill-opacity="0.9"><circle cx="431.8" cy="366.8" r="0.33"/><circle cx="443.4" cy="383.3" r="0.40"/></g>
<circle cx="425.7" cy="379.5" r="0.33" fill="#8fb0b3" opacity="0.9"/>
<circle cx="463.9" cy="366.6" r="0.44" fill="#6f9598" opacity="0.9"/>
<circle cx="452.8" cy="386.7" r="0.51" fill="#8fb0b3" opacity="0.9"/>
<circle cx="430.6" cy="384.9" r="0.40" fill="#557b7e" opacity="0.9"/>
<circle cx="448.0" cy="379.2" r="0.39" fill="#6f9598" opacity="0.9"/>
<g fill="#557b7e" fill-opacity="0.9"><circle cx="450.2" cy="351.3" r="0.60"/><circle cx="444.2" cy="385.7" r="0.57"/><circle cx="436.5" cy="363.8" r="0.54"/></g>
<circle cx="464.6" cy="395.4" r="0.32" fill="#8fb0b3" opacity="0.9"/>
<circle cx="462.2" cy="382.7" r="0.43" fill="#6f9598" opacity="0.9"/>
<g fill="#557b7e" fill-opacity="0.9"><circle cx="439.5" cy="383.8" r="0.59"/><circle cx="427.1" cy="377.5" r="0.60"/></g>
<g fill="#6f9598" fill-opacity="0.9"><circle cx="447.6" cy="365.2" r="0.44"/><circle cx="445.9" cy="362.5" r="0.30"/></g>
<circle cx="430.3" cy="387.9" r="0.44" fill="#8fb0b3" opacity="0.9"/>
<circle cx="446.0" cy="369.8" r="0.32" fill="#6f9598" opacity="0.9"/>
<g fill="#8fb0b3" fill-opacity="0.9"><circle cx="443.2" cy="382.8" r="0.46"/><circle cx="433.4" cy="370.5" r="0.55"/><circle cx="422.3" cy="374.7" r="0.53"/></g>
<g fill="#557b7e" fill-opacity="0.9"><circle cx="447.6" cy="367.2" r="0.58"/><circle cx="435.0" cy="368.4" r="0.31"/></g>
<g fill="#8fb0b3" fill-opacity="0.9"><circle cx="432.5" cy="380.5" r="0.56"/><circle cx="474.5" cy="355.6" r="0.53"/><circle cx="463.2" cy="406.0" r="0.53"/></g>
<circle cx="449.3" cy="360.7" r="0.42" fill="#6f9598" opacity="0.9"/>
<circle cx="439.0" cy="387.8" r="0.44" fill="#8fb0b3" opacity="0.9"/>
<circle cx="461.3" cy="375.9" r="0.53" fill="#6f9598" opacity="0.9"/>
<g fill="#8fb0b3" fill-opacity="0.9"><circle cx="460.5" cy="385.6" r="0.41"/><circle cx="446.4" cy="370.5" r="0.55"/></g>
<circle cx="433.1" cy="370.3" r="0.34" fill="#6f9598" opacity="0.9"/>
<circle cx="456.5" cy="384.0" r="0.30" fill="#8fb0b3" opacity="0.9"/>
<g fill="#557b7e" fill-opacity="0.9"><circle cx="457.4" cy="385.6" r="0.34"/><circle cx="435.0" cy="381.4" r="0.46"/></g>
<circle cx="427.7" cy="370.7" r="0.39" fill="#6f9598" opacity="0.9"/>
<g fill="#557b7e" fill-opacity="0.9"><circle cx="431.2" cy="363.7" r="0.44"/><circle cx="426.4" cy="380.9" r="0.56"/></g>
<g fill="#6f9598" fill-opacity="0.9"><circle cx="446.3" cy="382.5" r="0.42"/><circle cx="433.4" cy="376.5" r="0.51"/><circle cx="449.7" cy="376.5" r="0.51"/></g>
<g fill="#557b7e" fill-opacity="0.9"><circle cx="444.7" cy="360.7" r="0.32"/><circle cx="441.7" cy="391.4" r="0.53"/><circle cx="431.6" cy="404.5" r="0.44"/><circle cx="454.8" cy="389.6" r="0.38"/></g>
<g fill="#8fb0b3" fill-opacity="0.9"><circle cx="455.1" cy="369.6" r="0.58"/><circle cx="433.9" cy="395.4" r="0.32"/></g>
<circle cx="469.8" cy="386.2" r="0.36" fill="#557b7e" opacity="0.9"/>
<g fill="#8fb0b3" fill-opacity="0.9"><circle cx="428.4" cy="385.9" r="0.47"/><circle cx="448.1" cy="384.5" r="0.41"/></g>
<circle cx="461.9" cy="376.1" r="0.31" fill="#557b7e" opacity="0.9"/>
<g fill="#6f9598" fill-opacity="0.9"><circle cx="451.8" cy="382.5" r="0.40"/><circle cx="427.3" cy="389.0" r="0.45"/><circle cx="439.2" cy="350.1" r="0.38"/></g>
<circle cx="426.6" cy="361.4" r="0.37" fill="#8fb0b3" opacity="0.9"/>
<g fill="#6f9598" fill-opacity="0.9"><circle cx="425.6" cy="365.8" r="0.56"/><circle cx="415.1" cy="358.5" r="0.41"/></g>
<circle cx="457.9" cy="376.7" r="0.31" fill="#557b7e" opacity="0.9"/>
<circle cx="431.2" cy="375.9" r="0.48" fill="#6f9598" opacity="0.9"/>
<circle cx="432.5" cy="380.5" r="0.46" fill="#8fb0b3" opacity="0.9"/>
<g fill="#6f9598" fill-opacity="0.9"><circle cx="431.3" cy="367.7" r="0.33"/><circle cx="433.7" cy="340.5" r="0.48"/></g>
<g fill="#557b7e" fill-opacity="0.9"><circle cx="462.4" cy="385.3" r="0.57"/><circle cx="446.6" cy="366.0" r="0.59"/></g>
<g fill="#8fb0b3" fill-opacity="0.9"><circle cx="452.6" cy="357.6" r="0.38"/><circle cx="434.3" cy="395.4" r="0.56"/></g>
<circle cx="422.7" cy="373.8" r="0.35" fill="#6f9598" opacity="0.9"/>
<circle cx="454.4" cy="370.5" r="0.39" fill="#557b7e" opacity="0.9"/>
<g fill="#8fb0b3" fill-opacity="0.9"><circle cx="445.2" cy="391.5" r="0.32"/><circle cx="428.7" cy="380.5" r="0.46"/><circle cx="447.9" cy="389.8" r="0.51"/></g>
<g fill="#6f9598" fill-opacity="0.9"><circle cx="456.8" cy="368.6" r="0.40"/><circle cx="445.8" cy="382.4" r="0.46"/></g>
<circle cx="420.9" cy="368.5" r="0.50" fill="#8fb0b3" opacity="0.9"/>
<circle cx="433.9" cy="373.3" r="0.49" fill="#6f9598" opacity="0.9"/>
<circle cx="439.6" cy="393.0" r="0.41" fill="#557b7e" opacity="0.9"/>
<g fill="#6f9598" fill-opacity="0.9"><circle cx="438.9" cy="394.3" r="0.59"/><circle cx="433.4" cy="357.5" r="0.33"/><circle cx="458.7" cy="389.2" r="0.47"/><circle cx="444.6" cy="351.9" r="0.46"/></g>
<g fill="#8fb0b3" fill-opacity="0.9"><circle cx="435.0" cy="369.2" r="0.42"/><circle cx="452.6" cy="364.7" r="0.39"/><circle cx="434.9" cy="348.7" r="0.32"/></g>
<circle cx="458.7" cy="384.0" r="0.31" fill="#6f9598" opacity="0.9"/>
<circle cx="443.4" cy="364.8" r="0.60" fill="#9dbbbe" opacity="0.9"/>
<g fill="#7fa2a5" fill-opacity="0.9"><circle cx="436.2" cy="376.7" r="0.57"/><circle cx="435.1" cy="367.9" r="0.53"/></g>
<circle cx="447.9" cy="373.0" r="0.44" fill="#9dbbbe" opacity="0.9"/>
<g fill="#7fa2a5" fill-opacity="0.9"><circle cx="446.8" cy="381.1" r="0.43"/><circle cx="434.9" cy="378.0" r="0.62"/></g>
<circle cx="451.3" cy="378.3" r="0.79" fill="#9dbbbe" opacity="0.9"/>
<g fill="#7fa2a5" fill-opacity="0.9"><circle cx="433.9" cy="381.7" r="0.77"/><circle cx="447.7" cy="369.0" r="0.43"/><circle cx="451.5" cy="379.4" r="0.59"/><circle cx="430.8" cy="372.2" r="0.65"/><circle cx="438.5" cy="385.3" r="0.50"/></g>
<circle cx="432.6" cy="381.1" r="0.44" fill="#9dbbbe" opacity="0.9"/>
<circle cx="429.4" cy="378.7" r="0.71" fill="#7fa2a5" opacity="0.9"/>
<g fill="#9dbbbe" fill-opacity="0.9"><circle cx="445.7" cy="375.5" r="0.47"/><circle cx="439.4" cy="369.7" r="0.59"/></g>
<circle cx="443.1" cy="368.2" r="0.52" fill="#7fa2a5" opacity="0.9"/>
<circle cx="433.9" cy="368.7" r="0.62" fill="#9dbbbe" opacity="0.9"/>
<g fill="#7fa2a5" fill-opacity="0.9"><circle cx="441.7" cy="379.6" r="0.63"/><circle cx="435.5" cy="369.5" r="0.75"/><circle cx="437.1" cy="372.9" r="0.52"/><circle cx="438.7" cy="382.3" r="0.71"/></g>
<circle cx="435.0" cy="367.3" r="0.69" fill="#9dbbbe" opacity="0.9"/>
<g fill="#7fa2a5" fill-opacity="0.9"><circle cx="435.3" cy="376.0" r="0.79"/><circle cx="436.7" cy="369.3" r="0.74"/></g>
<circle cx="435.3" cy="383.9" r="0.60" fill="#9dbbbe" opacity="0.9"/>
<circle cx="444.9" cy="382.3" r="0.40" fill="#7fa2a5" opacity="0.9"/>
<g fill="#9dbbbe" fill-opacity="0.9"><circle cx="442.0" cy="365.0" r="0.42"/><circle cx="435.7" cy="376.3" r="0.48"/><circle cx="444.1" cy="370.9" r="0.73"/></g>
<circle cx="433.7" cy="381.7" r="0.49" fill="#7fa2a5" opacity="0.9"/>
<circle cx="445.5" cy="372.9" r="0.49" fill="#9dbbbe" opacity="0.9"/>
<g fill="#7fa2a5" fill-opacity="0.9"><circle cx="440.3" cy="367.6" r="0.57"/><circle cx="441.4" cy="380.3" r="0.62"/></g>
<g fill="#9dbbbe" fill-opacity="0.9"><circle cx="442.7" cy="366.0" r="0.76"/><circle cx="443.3" cy="379.2" r="0.41"/></g>
<g fill="#7fa2a5" fill-opacity="0.9"><circle cx="446.6" cy="380.3" r="0.58"/><circle cx="432.5" cy="376.8" r="0.41"/></g>
<g fill="#9dbbbe" fill-opacity="0.9"><circle cx="445.1" cy="367.9" r="0.69"/><circle cx="451.6" cy="377.0" r="0.80"/></g>
<circle cx="450.0" cy="373.7" r="0.48" fill="#7fa2a5" opacity="0.9"/>
<circle cx="444.7" cy="372.1" r="0.56" fill="#9dbbbe" opacity="0.9"/>
<g fill="#7fa2a5" fill-opacity="0.9"><circle cx="434.8" cy="378.4" r="0.69"/><circle cx="432.7" cy="382.0" r="0.45"/><circle cx="438.5" cy="370.3" r="0.56"/></g>
<g fill="#9dbbbe" fill-opacity="0.9"><circle cx="447.6" cy="384.9" r="0.51"/><circle cx="436.8" cy="365.4" r="0.67"/></g>
<g fill="#7fa2a5" fill-opacity="0.9"><circle cx="448.4" cy="367.4" r="0.72"/><circle cx="445.6" cy="365.6" r="0.62"/></g>
<circle cx="440.0" cy="370.0" r="0.63" fill="#9dbbbe" opacity="0.9"/>
<circle cx="443.5" cy="383.3" r="0.74" fill="#7fa2a5" opacity="0.9"/>
<circle cx="434.1" cy="368.4" r="0.57" fill="#9dbbbe" opacity="0.9"/>
<g fill="#7fa2a5" fill-opacity="0.9"><circle cx="436.8" cy="371.7" r="0.62"/><circle cx="450.0" cy="372.4" r="0.68"/></g>
<circle cx="450.9" cy="372.8" r="0.53" fill="#9dbbbe" opacity="0.9"/>
<g fill="#7fa2a5" fill-opacity="0.9"><circle cx="433.7" cy="376.1" r="0.80"/><circle cx="440.9" cy="367.8" r="0.72"/><circle cx="445.6" cy="371.2" r="0.79"/></g>
<g fill="#9dbbbe" fill-opacity="0.9"><circle cx="444.1" cy="382.1" r="0.58"/><circle cx="441.4" cy="381.9" r="0.73"/></g>
<g fill="#7fa2a5" fill-opacity="0.9"><circle cx="441.9" cy="367.8" r="0.43"/><circle cx="448.8" cy="381.1" r="0.56"/></g>
<g fill="#9dbbbe" fill-opacity="0.9"><circle cx="434.6" cy="383.8" r="0.42"/><circle cx="450.6" cy="370.7" r="0.71"/></g>
<circle cx="448.4" cy="377.6" r="0.59" fill="#7fa2a5" opacity="0.9"/>
<g fill="#9dbbbe" fill-opacity="0.9"><circle cx="438.1" cy="382.6" r="0.65"/><circle cx="448.6" cy="374.1" r="0.75"/></g>
<circle cx="436.7" cy="373.1" r="0.55" fill="#7fa2a5" opacity="0.9"/>
<g fill="#9dbbbe" fill-opacity="0.9"><circle cx="446.2" cy="379.4" r="0.78"/><circle cx="451.5" cy="374.8" r="0.54"/></g>
<circle cx="436.0" cy="376.7" r="0.74" fill="#7fa2a5" opacity="0.9"/>
<circle cx="452.0" cy="378.2" r="0.68" fill="#9dbbbe" opacity="0.9"/>
<circle cx="431.4" cy="369.4" r="0.52" fill="#7fa2a5" opacity="0.9"/>
<g fill="#9dbbbe" fill-opacity="0.9"><circle cx="444.1" cy="368.4" r="0.54"/><circle cx="445.4" cy="368.5" r="0.58"/><circle cx="435.2" cy="370.8" r="0.57"/></g>
<circle cx="446.7" cy="378.2" r="0.42" fill="#7fa2a5" opacity="0.9"/>
<g fill="#9dbbbe" fill-opacity="0.9"><circle cx="430.5" cy="381.1" r="0.44"/><circle cx="431.3" cy="378.9" r="0.42"/><circle cx="432.5" cy="370.5" r="0.42"/></g>
</g>
<text x="7.30" y="403.30" font-size="12.0" text-anchor="start" font-weight="bold" fill="#000" stroke="#000" stroke-width="0.35">F</text>
<text x="66.1" y="401.7" font-size="9.0" text-anchor="middle" fill="#231f20">WT</text>
<text x="67.60" y="412.60" font-size="9.0" text-anchor="middle" fill="#231f20" >bone marrow</text>
<text x="147.7" y="401.6" font-size="8.5" text-anchor="middle" fill="#231f20"><tspan font-style="italic">Rosa26</tspan>-targeted</text>
<text transform="translate(147.50,411.40) scale(0.84,1)" font-size="9.2" text-anchor="middle" fill="#231f20" font-style="italic">Ctsg-PML-RARA</text>
<text x="227.7" y="401.8" font-size="8.5" text-anchor="middle" fill="#231f20"><tspan font-style="italic">Gata2</tspan>-targeted</text>
<text transform="translate(227.50,411.40) scale(0.84,1)" font-size="9.2" text-anchor="middle" fill="#231f20" font-style="italic">Ctsg-PML-RARA</text>
<defs>
<radialGradient id="hot1" cx="0.5" cy="0.5" r="0.5"><stop offset="0" stop-color="#f5e60c"/><stop offset="0.3" stop-color="#3fcf3a"/><stop offset="0.6" stop-color="#14a6d9"/><stop offset="1" stop-color="#1b3fe0" stop-opacity="0"/></radialGradient>
<radialGradient id="hot2" cx="0.5" cy="0.5" r="0.5"><stop offset="0" stop-color="#8be02c"/><stop offset="0.3" stop-color="#22c9a0"/><stop offset="0.6" stop-color="#1a8ee0"/><stop offset="1" stop-color="#1b3fe0" stop-opacity="0"/></radialGradient>
<radialGradient id="hot3" cx="0.5" cy="0.5" r="0.5"><stop offset="0" stop-color="#f23a12"/><stop offset="0.22" stop-color="#f5a20c"/><stop offset="0.45" stop-color="#7fd52a"/><stop offset="0.7" stop-color="#19b0c8"/><stop offset="1" stop-color="#1b3fe0" stop-opacity="0"/></radialGradient>
<filter id="fb" x="-20%" y="-20%" width="140%" height="140%"><feGaussianBlur stdDeviation="0.7"/></filter>
<filter id="fc" x="-5%" y="-5%" width="110%" height="110%"><feGaussianBlur stdDeviation="0.45"/></filter>
<radialGradient id="blu" cx="0.5" cy="0.5" r="0.5"><stop offset="0" stop-color="#1a3ff0"/><stop offset="0.7" stop-color="#2a50f0" stop-opacity="0.8"/><stop offset="1" stop-color="#5a7af5" stop-opacity="0"/></radialGradient>
</defs>
<rect x="39.80" y="414.20" width="57.30" height="56.80" fill="#fff" />
<clipPath id="cf39"><rect x="39.8" y="414.2" width="57.30" height="56.80"/></clipPath>
<g clip-path="url(#cf39)">
<g fill="#5a78f2" fill-opacity="0.4"><circle cx="76.1" cy="447.8" r="0.40"/><circle cx="77.0" cy="447.9" r="0.40"/><circle cx="61.2" cy="453.0" r="0.40"/><circle cx="73.5" cy="448.0" r="0.40"/><circle cx="81.4" cy="438.7" r="0.40"/><circle cx="68.4" cy="434.3" r="0.40"/><circle cx="74.9" cy="459.4" r="0.40"/><circle cx="65.0" cy="453.9" r="0.40"/><circle cx="74.1" cy="434.1" r="0.40"/><circle cx="65.8" cy="459.3" r="0.40"/><circle cx="71.6" cy="446.1" r="0.40"/><circle cx="73.4" cy="448.8" r="0.40"/><circle cx="88.7" cy="460.1" r="0.40"/><circle cx="79.7" cy="457.8" r="0.40"/><circle cx="64.1" cy="447.8" r="0.40"/><circle cx="63.9" cy="447.7" r="0.40"/><circle cx="81.0" cy="430.5" r="0.40"/><circle cx="83.0" cy="457.6" r="0.40"/><circle cx="70.8" cy="454.5" r="0.40"/><circle cx="68.5" cy="456.9" r="0.40"/><circle cx="88.3" cy="451.4" r="0.40"/><circle cx="75.1" cy="440.3" r="0.40"/><circle cx="72.4" cy="454.6" r="0.40"/><circle cx="79.4" cy="440.5" r="0.40"/><circle cx="51.3" cy="454.8" r="0.40"/><circle cx="75.9" cy="458.4" r="0.40"/><circle cx="71.4" cy="441.2" r="0.40"/><circle cx="86.8" cy="459.7" r="0.40"/><circle cx="66.0" cy="453.4" r="0.40"/><circle cx="86.1" cy="443.1" r="0.40"/><circle cx="83.2" cy="449.8" r="0.40"/><circle cx="75.9" cy="444.2" r="0.40"/><circle cx="66.9" cy="447.7" r="0.40"/><circle cx="76.0" cy="451.4" r="0.40"/><circle cx="85.0" cy="446.4" r="0.40"/><circle cx="76.6" cy="456.1" r="0.40"/><circle cx="75.3" cy="448.7" r="0.40"/><circle cx="91.6" cy="442.5" r="0.40"/><circle cx="70.8" cy="439.3" r="0.40"/><circle cx="76.1" cy="445.2" r="0.40"/><circle cx="80.1" cy="438.6" r="0.40"/><circle cx="87.1" cy="437.5" r="0.40"/><circle cx="68.8" cy="452.1" r="0.40"/><circle cx="80.1" cy="458.0" r="0.40"/><circle cx="80.0" cy="456.6" r="0.40"/><circle cx="87.6" cy="457.8" r="0.40"/><circle cx="77.2" cy="456.1" r="0.40"/><circle cx="55.0" cy="453.4" r="0.40"/><circle cx="65.3" cy="456.7" r="0.40"/><circle cx="71.3" cy="454.4" r="0.40"/><circle cx="78.5" cy="445.5" r="0.40"/><circle cx="79.1" cy="447.7" r="0.40"/><circle cx="70.9" cy="444.6" r="0.40"/><circle cx="75.8" cy="451.8" r="0.40"/><circle cx="80.4" cy="447.9" r="0.40"/><circle cx="70.9" cy="454.1" r="0.40"/><circle cx="78.3" cy="435.0" r="0.40"/><circle cx="76.4" cy="448.9" r="0.40"/><circle cx="82.4" cy="456.0" r="0.40"/><circle cx="90.7" cy="451.2" r="0.40"/><circle cx="63.3" cy="458.3" r="0.40"/><circle cx="83.1" cy="458.8" r="0.40"/><circle cx="46.1" cy="454.3" r="0.40"/><circle cx="89.5" cy="449.0" r="0.40"/><circle cx="92.9" cy="453.1" r="0.40"/><circle cx="59.6" cy="457.8" r="0.40"/><circle cx="72.4" cy="457.7" r="0.40"/><circle cx="60.4" cy="449.0" r="0.40"/><circle cx="83.0" cy="452.4" r="0.40"/><circle cx="78.5" cy="457.6" r="0.40"/><circle cx="75.3" cy="457.1" r="0.40"/><circle cx="68.5" cy="452.9" r="0.40"/><circle cx="69.4" cy="430.1" r="0.40"/><circle cx="62.3" cy="454.3" r="0.40"/><circle cx="84.7" cy="448.5" r="0.40"/><circle cx="79.5" cy="451.9" r="0.40"/><circle cx="77.6" cy="450.3" r="0.40"/><circle cx="80.1" cy="453.4" r="0.40"/><circle cx="71.6" cy="445.6" r="0.40"/><circle cx="84.7" cy="440.2" r="0.40"/><circle cx="80.1" cy="459.1" r="0.40"/><circle cx="67.1" cy="458.3" r="0.40"/><circle cx="69.0" cy="452.2" r="0.40"/><circle cx="75.5" cy="460.2" r="0.40"/><circle cx="81.6" cy="458.9" r="0.40"/><circle cx="71.7" cy="445.6" r="0.40"/><circle cx="69.9" cy="454.6" r="0.40"/><circle cx="88.1" cy="437.1" r="0.40"/><circle cx="79.6" cy="450.9" r="0.40"/><circle cx="65.6" cy="456.2" r="0.40"/><circle cx="87.8" cy="450.3" r="0.40"/><circle cx="72.2" cy="459.2" r="0.40"/><circle cx="88.1" cy="458.9" r="0.40"/><circle cx="65.4" cy="455.2" r="0.40"/><circle cx="75.1" cy="457.7" r="0.40"/><circle cx="94.0" cy="455.6" r="0.40"/><circle cx="63.9" cy="459.2" r="0.40"/><circle cx="82.5" cy="445.2" r="0.40"/><circle cx="65.5" cy="455.9" r="0.40"/><circle cx="71.8" cy="455.3" r="0.40"/><circle cx="57.7" cy="437.0" r="0.40"/><circle cx="84.4" cy="422.7" r="0.40"/><circle cx="64.0" cy="442.7" r="0.40"/><circle cx="76.6" cy="454.9" r="0.40"/><circle cx="78.9" cy="456.3" r="0.40"/><circle cx="72.3" cy="445.6" r="0.40"/><circle cx="50.5" cy="453.8" r="0.40"/><circle cx="81.9" cy="446.1" r="0.40"/><circle cx="77.1" cy="457.5" r="0.40"/><circle cx="78.5" cy="442.7" r="0.40"/><circle cx="63.0" cy="436.6" r="0.40"/><circle cx="56.0" cy="457.3" r="0.40"/><circle cx="80.7" cy="451.7" r="0.40"/><circle cx="75.0" cy="419.1" r="0.40"/><circle cx="83.3" cy="450.8" r="0.40"/><circle cx="69.5" cy="435.9" r="0.40"/><circle cx="74.5" cy="447.0" r="0.40"/><circle cx="78.6" cy="442.2" r="0.40"/><circle cx="69.2" cy="450.8" r="0.40"/><circle cx="81.1" cy="455.8" r="0.40"/><circle cx="83.1" cy="435.8" r="0.40"/><circle cx="57.6" cy="455.4" r="0.40"/><circle cx="83.5" cy="443.7" r="0.40"/><circle cx="87.6" cy="455.4" r="0.40"/><circle cx="69.9" cy="451.7" r="0.40"/><circle cx="72.8" cy="455.9" r="0.40"/><circle cx="77.8" cy="457.0" r="0.40"/><circle cx="76.6" cy="428.5" r="0.40"/><circle cx="83.5" cy="452.9" r="0.40"/><circle cx="76.1" cy="432.3" r="0.40"/><circle cx="85.2" cy="455.8" r="0.40"/><circle cx="92.2" cy="455.0" r="0.40"/><circle cx="72.7" cy="449.4" r="0.40"/><circle cx="78.2" cy="460.0" r="0.40"/><circle cx="71.1" cy="450.0" r="0.40"/><circle cx="83.7" cy="441.3" r="0.40"/><circle cx="90.3" cy="422.9" r="0.40"/><circle cx="66.7" cy="453.2" r="0.40"/><circle cx="71.6" cy="460.1" r="0.40"/><circle cx="84.6" cy="455.5" r="0.40"/><circle cx="77.8" cy="425.2" r="0.40"/><circle cx="84.1" cy="459.7" r="0.40"/><circle cx="66.5" cy="457.8" r="0.40"/><circle cx="73.9" cy="459.4" r="0.40"/><circle cx="78.9" cy="453.2" r="0.40"/><circle cx="84.9" cy="448.3" r="0.40"/><circle cx="86.7" cy="459.4" r="0.40"/><circle cx="75.8" cy="443.5" r="0.40"/><circle cx="86.8" cy="449.7" r="0.40"/><circle cx="83.8" cy="435.7" r="0.40"/><circle cx="65.4" cy="447.7" r="0.40"/><circle cx="77.0" cy="455.1" r="0.40"/><circle cx="71.7" cy="457.6" r="0.40"/><circle cx="57.6" cy="454.3" r="0.40"/><circle cx="71.4" cy="456.0" r="0.40"/><circle cx="76.0" cy="436.8" r="0.40"/><circle cx="85.4" cy="457.4" r="0.40"/><circle cx="72.7" cy="442.9" r="0.40"/><circle cx="88.2" cy="452.2" r="0.40"/><circle cx="75.9" cy="455.0" r="0.40"/><circle cx="79.3" cy="453.3" r="0.40"/><circle cx="67.5" cy="458.2" r="0.40"/><circle cx="72.5" cy="444.3" r="0.40"/><circle cx="73.8" cy="440.3" r="0.40"/><circle cx="75.7" cy="442.5" r="0.40"/><circle cx="67.6" cy="456.7" r="0.40"/><circle cx="73.1" cy="450.4" r="0.40"/><circle cx="67.5" cy="459.2" r="0.40"/><circle cx="64.2" cy="444.8" r="0.40"/><circle cx="77.5" cy="457.2" r="0.40"/><circle cx="78.9" cy="456.5" r="0.40"/><circle cx="57.6" cy="458.8" r="0.40"/><circle cx="89.6" cy="444.3" r="0.40"/><circle cx="68.1" cy="446.4" r="0.40"/><circle cx="70.7" cy="459.0" r="0.40"/><circle cx="68.2" cy="453.9" r="0.40"/><circle cx="49.4" cy="456.7" r="0.40"/><circle cx="82.1" cy="455.6" r="0.40"/><circle cx="53.6" cy="452.7" r="0.40"/><circle cx="83.8" cy="456.9" r="0.40"/><circle cx="88.0" cy="446.3" r="0.40"/><circle cx="82.0" cy="460.0" r="0.40"/><circle cx="73.9" cy="450.2" r="0.40"/><circle cx="72.4" cy="451.8" r="0.40"/><circle cx="63.7" cy="441.0" r="0.40"/><circle cx="74.8" cy="452.8" r="0.40"/><circle cx="81.7" cy="441.1" r="0.40"/><circle cx="81.8" cy="448.2" r="0.40"/><circle cx="73.3" cy="454.4" r="0.40"/><circle cx="68.3" cy="425.6" r="0.40"/><circle cx="73.7" cy="460.2" r="0.40"/><circle cx="79.5" cy="453.8" r="0.40"/><circle cx="61.0" cy="456.6" r="0.40"/><circle cx="75.8" cy="459.9" r="0.40"/><circle cx="61.9" cy="446.4" r="0.40"/><circle cx="65.4" cy="443.9" r="0.40"/><circle cx="82.0" cy="454.9" r="0.40"/><circle cx="78.7" cy="442.9" r="0.40"/><circle cx="76.0" cy="437.6" r="0.40"/><circle cx="92.6" cy="455.4" r="0.40"/><circle cx="71.8" cy="457.2" r="0.40"/><circle cx="73.4" cy="445.9" r="0.40"/><circle cx="84.7" cy="442.6" r="0.40"/><circle cx="57.0" cy="455.1" r="0.40"/><circle cx="66.4" cy="455.0" r="0.40"/><circle cx="75.4" cy="449.1" r="0.40"/><circle cx="70.3" cy="444.4" r="0.40"/><circle cx="83.8" cy="454.4" r="0.40"/><circle cx="76.0" cy="454.0" r="0.40"/><circle cx="73.7" cy="438.0" r="0.40"/><circle cx="78.8" cy="452.1" r="0.40"/><circle cx="75.5" cy="429.2" r="0.40"/><circle cx="71.6" cy="455.4" r="0.40"/><circle cx="74.1" cy="453.1" r="0.40"/><circle cx="68.4" cy="430.8" r="0.40"/><circle cx="80.1" cy="448.8" r="0.40"/><circle cx="72.5" cy="444.2" r="0.40"/><circle cx="70.1" cy="452.9" r="0.40"/><circle cx="60.2" cy="439.0" r="0.40"/><circle cx="66.0" cy="457.3" r="0.40"/><circle cx="70.4" cy="458.3" r="0.40"/><circle cx="70.6" cy="441.4" r="0.40"/><circle cx="86.1" cy="447.4" r="0.40"/><circle cx="77.8" cy="447.8" r="0.40"/><circle cx="69.0" cy="451.2" r="0.40"/><circle cx="76.3" cy="448.0" r="0.40"/><circle cx="68.6" cy="455.5" r="0.40"/><circle cx="63.3" cy="440.0" r="0.40"/><circle cx="67.4" cy="451.5" r="0.40"/><circle cx="66.4" cy="458.6" r="0.40"/><circle cx="50.3" cy="445.9" r="0.40"/><circle cx="53.5" cy="445.1" r="0.40"/><circle cx="86.7" cy="455.8" r="0.40"/><circle cx="71.3" cy="456.6" r="0.40"/><circle cx="99.5" cy="438.1" r="0.40"/><circle cx="72.2" cy="453.4" r="0.40"/><circle cx="69.8" cy="448.6" r="0.40"/><circle cx="47.8" cy="442.4" r="0.40"/><circle cx="67.5" cy="455.1" r="0.40"/><circle cx="66.4" cy="452.6" r="0.40"/><circle cx="72.8" cy="447.7" r="0.40"/><circle cx="70.7" cy="450.1" r="0.40"/><circle cx="65.3" cy="456.9" r="0.40"/><circle cx="52.8" cy="458.8" r="0.40"/><circle cx="78.5" cy="450.2" r="0.40"/><circle cx="55.8" cy="455.5" r="0.40"/><circle cx="72.3" cy="441.4" r="0.40"/><circle cx="89.6" cy="460.0" r="0.40"/><circle cx="79.8" cy="450.6" r="0.40"/><circle cx="58.7" cy="451.5" r="0.40"/><circle cx="69.5" cy="447.3" r="0.40"/><circle cx="70.5" cy="440.8" r="0.40"/><circle cx="78.7" cy="426.6" r="0.40"/><circle cx="63.8" cy="450.4" r="0.40"/><circle cx="72.5" cy="460.0" r="0.40"/><circle cx="76.7" cy="455.8" r="0.40"/><circle cx="70.7" cy="451.5" r="0.40"/><circle cx="72.7" cy="459.1" r="0.40"/><circle cx="66.7" cy="459.6" r="0.40"/><circle cx="59.1" cy="445.4" r="0.40"/><circle cx="76.0" cy="457.1" r="0.40"/><circle cx="71.1" cy="458.4" r="0.40"/><circle cx="89.5" cy="459.0" r="0.40"/><circle cx="83.0" cy="456.4" r="0.40"/><circle cx="74.3" cy="450.4" r="0.40"/><circle cx="78.1" cy="459.2" r="0.40"/><circle cx="78.8" cy="456.4" r="0.40"/><circle cx="70.7" cy="450.6" r="0.40"/><circle cx="71.5" cy="456.6" r="0.40"/><circle cx="66.6" cy="439.0" r="0.40"/><circle cx="78.4" cy="460.0" r="0.40"/><circle cx="78.6" cy="453.8" r="0.40"/><circle cx="77.1" cy="453.1" r="0.40"/><circle cx="65.2" cy="459.5" r="0.40"/><circle cx="85.1" cy="447.6" r="0.40"/><circle cx="53.4" cy="450.8" r="0.40"/><circle cx="61.0" cy="455.7" r="0.40"/><circle cx="76.0" cy="459.2" r="0.40"/><circle cx="83.8" cy="456.7" r="0.40"/><circle cx="70.0" cy="456.0" r="0.40"/><circle cx="90.3" cy="451.8" r="0.40"/><circle cx="75.5" cy="458.3" r="0.40"/><circle cx="61.4" cy="452.7" r="0.40"/><circle cx="86.0" cy="443.5" r="0.40"/><circle cx="59.9" cy="445.3" r="0.40"/><circle cx="57.2" cy="455.5" r="0.40"/><circle cx="76.3" cy="457.5" r="0.40"/><circle cx="62.6" cy="431.7" r="0.40"/><circle cx="73.6" cy="459.7" r="0.40"/><circle cx="85.0" cy="449.8" r="0.40"/><circle cx="66.5" cy="445.6" r="0.40"/><circle cx="66.1" cy="447.9" r="0.40"/><circle cx="86.9" cy="455.4" r="0.40"/><circle cx="69.0" cy="458.7" r="0.40"/><circle cx="83.7" cy="448.5" r="0.40"/><circle cx="66.3" cy="455.5" r="0.40"/><circle cx="78.6" cy="456.8" r="0.40"/><circle cx="71.1" cy="446.3" r="0.40"/><circle cx="77.0" cy="441.7" r="0.40"/><circle cx="60.3" cy="449.9" r="0.40"/><circle cx="67.7" cy="448.2" r="0.40"/><circle cx="67.7" cy="458.8" r="0.40"/><circle cx="64.8" cy="449.6" r="0.40"/><circle cx="64.0" cy="441.9" r="0.40"/><circle cx="84.7" cy="448.5" r="0.40"/><circle cx="80.2" cy="445.1" r="0.40"/><circle cx="89.8" cy="460.2" r="0.40"/><circle cx="75.8" cy="456.3" r="0.40"/><circle cx="63.5" cy="454.7" r="0.40"/><circle cx="67.2" cy="447.0" r="0.40"/><circle cx="83.8" cy="440.8" r="0.40"/><circle cx="80.2" cy="441.5" r="0.40"/><circle cx="68.2" cy="455.1" r="0.40"/><circle cx="66.7" cy="459.6" r="0.40"/><circle cx="87.0" cy="458.7" r="0.40"/><circle cx="56.4" cy="434.3" r="0.40"/><circle cx="70.0" cy="459.7" r="0.40"/><circle cx="76.8" cy="451.4" r="0.40"/><circle cx="68.2" cy="438.6" r="0.40"/><circle cx="74.0" cy="453.9" r="0.40"/><circle cx="77.6" cy="446.2" r="0.40"/><circle cx="60.7" cy="439.0" r="0.40"/><circle cx="49.8" cy="454.8" r="0.40"/><circle cx="72.7" cy="450.4" r="0.40"/><circle cx="71.5" cy="456.3" r="0.40"/><circle cx="51.8" cy="446.2" r="0.40"/><circle cx="74.6" cy="460.2" r="0.40"/><circle cx="65.1" cy="450.3" r="0.40"/><circle cx="68.7" cy="459.8" r="0.40"/><circle cx="72.5" cy="449.3" r="0.40"/><circle cx="67.9" cy="440.6" r="0.40"/><circle cx="64.9" cy="445.1" r="0.40"/><circle cx="70.8" cy="455.3" r="0.40"/><circle cx="85.8" cy="445.3" r="0.40"/><circle cx="78.7" cy="453.4" r="0.40"/><circle cx="76.4" cy="448.1" r="0.40"/><circle cx="57.5" cy="446.3" r="0.40"/><circle cx="74.4" cy="455.9" r="0.40"/><circle cx="63.9" cy="444.5" r="0.40"/><circle cx="78.8" cy="448.3" r="0.40"/><circle cx="78.5" cy="451.5" r="0.40"/><circle cx="84.5" cy="447.2" r="0.40"/><circle cx="75.8" cy="455.7" r="0.40"/><circle cx="59.1" cy="457.3" r="0.40"/><circle cx="77.9" cy="454.7" r="0.40"/><circle cx="73.2" cy="449.0" r="0.40"/><circle cx="74.6" cy="459.3" r="0.40"/><circle cx="80.3" cy="445.9" r="0.40"/><circle cx="67.7" cy="457.8" r="0.40"/><circle cx="86.1" cy="452.4" r="0.40"/><circle cx="73.5" cy="456.5" r="0.40"/><circle cx="62.4" cy="446.0" r="0.40"/><circle cx="76.4" cy="450.9" r="0.40"/><circle cx="75.3" cy="436.2" r="0.40"/><circle cx="71.2" cy="448.4" r="0.40"/><circle cx="69.3" cy="435.3" r="0.40"/><circle cx="70.9" cy="442.3" r="0.40"/><circle cx="69.2" cy="455.7" r="0.40"/><circle cx="84.6" cy="450.9" r="0.40"/><circle cx="77.6" cy="448.4" r="0.40"/><circle cx="76.0" cy="457.8" r="0.40"/><circle cx="86.8" cy="441.9" r="0.40"/><circle cx="83.3" cy="454.2" r="0.40"/><circle cx="67.7" cy="451.1" r="0.40"/><circle cx="70.3" cy="455.3" r="0.40"/><circle cx="67.7" cy="440.9" r="0.40"/><circle cx="60.0" cy="452.7" r="0.40"/><circle cx="93.1" cy="446.8" r="0.40"/><circle cx="70.2" cy="455.5" r="0.40"/><circle cx="67.8" cy="460.0" r="0.40"/><circle cx="71.1" cy="454.4" r="0.40"/><circle cx="63.8" cy="442.2" r="0.40"/><circle cx="68.5" cy="446.2" r="0.40"/><circle cx="73.6" cy="455.9" r="0.40"/><circle cx="70.2" cy="454.7" r="0.40"/><circle cx="64.9" cy="458.0" r="0.40"/><circle cx="85.2" cy="457.8" r="0.40"/><circle cx="81.2" cy="450.1" r="0.40"/><circle cx="82.5" cy="439.6" r="0.40"/><circle cx="77.7" cy="456.9" r="0.40"/><circle cx="77.0" cy="443.3" r="0.40"/><circle cx="70.7" cy="460.0" r="0.40"/><circle cx="75.1" cy="433.5" r="0.40"/><circle cx="63.9" cy="444.4" r="0.40"/><circle cx="60.1" cy="450.2" r="0.40"/><circle cx="63.3" cy="450.4" r="0.40"/><circle cx="85.3" cy="450.2" r="0.40"/><circle cx="79.4" cy="452.3" r="0.40"/><circle cx="63.3" cy="453.1" r="0.40"/><circle cx="80.2" cy="459.9" r="0.40"/><circle cx="76.4" cy="445.2" r="0.40"/><circle cx="71.4" cy="452.5" r="0.40"/><circle cx="83.9" cy="457.5" r="0.40"/><circle cx="77.7" cy="454.5" r="0.40"/><circle cx="75.0" cy="449.5" r="0.40"/><circle cx="81.9" cy="449.8" r="0.40"/><circle cx="78.3" cy="451.4" r="0.40"/><circle cx="60.8" cy="444.5" r="0.40"/><circle cx="68.9" cy="459.0" r="0.40"/><circle cx="78.2" cy="450.6" r="0.40"/><circle cx="83.8" cy="428.2" r="0.40"/><circle cx="72.3" cy="437.5" r="0.40"/><circle cx="85.2" cy="459.5" r="0.40"/><circle cx="78.8" cy="431.9" r="0.40"/><circle cx="84.0" cy="460.1" r="0.40"/><circle cx="65.2" cy="457.2" r="0.40"/><circle cx="83.0" cy="457.5" r="0.40"/><circle cx="75.7" cy="456.7" r="0.40"/><circle cx="75.2" cy="457.6" r="0.40"/><circle cx="61.3" cy="453.6" r="0.40"/><circle cx="76.8" cy="442.0" r="0.40"/><circle cx="76.9" cy="445.8" r="0.40"/><circle cx="88.1" cy="445.0" r="0.40"/><circle cx="74.2" cy="449.7" r="0.40"/><circle cx="75.3" cy="444.3" r="0.40"/><circle cx="74.3" cy="444.5" r="0.40"/><circle cx="74.9" cy="447.7" r="0.40"/><circle cx="78.8" cy="446.9" r="0.40"/><circle cx="70.6" cy="454.3" r="0.40"/><circle cx="68.8" cy="459.3" r="0.40"/><circle cx="68.2" cy="450.6" r="0.40"/><circle cx="78.5" cy="444.5" r="0.40"/><circle cx="72.5" cy="442.1" r="0.40"/><circle cx="81.3" cy="450.2" r="0.40"/><circle cx="67.6" cy="451.1" r="0.40"/><circle cx="76.4" cy="448.5" r="0.40"/><circle cx="81.1" cy="456.8" r="0.40"/><circle cx="60.3" cy="450.3" r="0.40"/><circle cx="61.6" cy="438.0" r="0.40"/><circle cx="83.9" cy="459.8" r="0.40"/><circle cx="84.0" cy="454.4" r="0.40"/><circle cx="67.4" cy="451.5" r="0.40"/><circle cx="85.8" cy="457.6" r="0.40"/><circle cx="83.0" cy="449.1" r="0.40"/><circle cx="78.3" cy="444.6" r="0.40"/><circle cx="73.2" cy="457.6" r="0.40"/><circle cx="66.5" cy="450.7" r="0.40"/><circle cx="61.2" cy="457.6" r="0.40"/><circle cx="87.5" cy="450.9" r="0.40"/><circle cx="78.7" cy="453.4" r="0.40"/><circle cx="84.7" cy="457.7" r="0.40"/><circle cx="85.0" cy="448.4" r="0.40"/><circle cx="59.3" cy="453.9" r="0.40"/><circle cx="89.1" cy="450.8" r="0.40"/><circle cx="67.0" cy="437.4" r="0.40"/><circle cx="74.9" cy="444.7" r="0.40"/><circle cx="71.3" cy="456.1" r="0.40"/><circle cx="73.8" cy="454.9" r="0.40"/><circle cx="74.9" cy="459.3" r="0.40"/><circle cx="92.0" cy="455.6" r="0.40"/><circle cx="62.3" cy="458.2" r="0.40"/><circle cx="83.6" cy="448.0" r="0.40"/><circle cx="80.6" cy="451.0" r="0.40"/><circle cx="66.0" cy="454.1" r="0.40"/><circle cx="85.0" cy="449.0" r="0.40"/><circle cx="64.1" cy="456.2" r="0.40"/><circle cx="92.0" cy="449.9" r="0.40"/><circle cx="66.5" cy="427.7" r="0.40"/><circle cx="78.3" cy="449.7" r="0.40"/><circle cx="92.9" cy="452.1" r="0.40"/><circle cx="66.8" cy="432.3" r="0.40"/><circle cx="86.9" cy="452.8" r="0.40"/><circle cx="73.7" cy="448.3" r="0.40"/><circle cx="69.7" cy="455.5" r="0.40"/><circle cx="58.2" cy="453.1" r="0.40"/><circle cx="79.0" cy="455.1" r="0.40"/><circle cx="75.7" cy="455.0" r="0.40"/><circle cx="78.0" cy="452.1" r="0.40"/><circle cx="86.9" cy="454.5" r="0.40"/><circle cx="70.7" cy="455.6" r="0.40"/><circle cx="65.8" cy="452.2" r="0.40"/><circle cx="58.2" cy="459.3" r="0.40"/><circle cx="76.0" cy="456.9" r="0.40"/><circle cx="98.6" cy="454.5" r="0.40"/><circle cx="76.4" cy="441.6" r="0.40"/><circle cx="89.5" cy="459.1" r="0.40"/><circle cx="67.5" cy="438.6" r="0.40"/><circle cx="68.2" cy="445.5" r="0.40"/><circle cx="78.9" cy="456.7" r="0.40"/><circle cx="83.2" cy="436.1" r="0.40"/><circle cx="70.5" cy="452.7" r="0.40"/><circle cx="87.3" cy="432.6" r="0.40"/><circle cx="78.9" cy="446.5" r="0.40"/><circle cx="66.8" cy="435.5" r="0.40"/><circle cx="69.2" cy="456.5" r="0.40"/><circle cx="67.9" cy="459.5" r="0.40"/><circle cx="82.7" cy="446.2" r="0.40"/><circle cx="73.3" cy="448.8" r="0.40"/><circle cx="67.1" cy="444.3" r="0.40"/><circle cx="45.6" cy="459.2" r="0.40"/><circle cx="77.2" cy="456.4" r="0.40"/><circle cx="67.7" cy="459.3" r="0.40"/><circle cx="73.0" cy="460.1" r="0.40"/><circle cx="68.7" cy="440.8" r="0.40"/><circle cx="78.3" cy="450.5" r="0.40"/><circle cx="85.0" cy="457.1" r="0.40"/><circle cx="84.6" cy="453.8" r="0.40"/><circle cx="92.5" cy="448.5" r="0.40"/><circle cx="64.4" cy="451.9" r="0.40"/><circle cx="77.6" cy="449.4" r="0.40"/><circle cx="85.5" cy="446.5" r="0.40"/><circle cx="75.6" cy="438.9" r="0.40"/><circle cx="78.1" cy="448.7" r="0.40"/><circle cx="65.6" cy="451.4" r="0.40"/><circle cx="83.6" cy="450.0" r="0.40"/><circle cx="62.7" cy="455.0" r="0.40"/><circle cx="74.5" cy="442.4" r="0.40"/><circle cx="83.1" cy="446.2" r="0.40"/><circle cx="78.5" cy="452.6" r="0.40"/><circle cx="83.2" cy="457.0" r="0.40"/><circle cx="81.2" cy="458.7" r="0.40"/><circle cx="72.2" cy="458.5" r="0.40"/><circle cx="58.2" cy="449.3" r="0.40"/><circle cx="69.7" cy="447.2" r="0.40"/><circle cx="87.9" cy="452.8" r="0.40"/><circle cx="65.4" cy="448.2" r="0.40"/><circle cx="70.9" cy="442.1" r="0.40"/><circle cx="58.4" cy="456.0" r="0.40"/><circle cx="70.1" cy="455.4" r="0.40"/><circle cx="75.7" cy="459.7" r="0.40"/><circle cx="77.2" cy="455.1" r="0.40"/><circle cx="76.2" cy="459.4" r="0.40"/><circle cx="69.6" cy="454.1" r="0.40"/><circle cx="55.8" cy="433.7" r="0.40"/><circle cx="89.1" cy="454.1" r="0.40"/><circle cx="65.9" cy="438.5" r="0.40"/><circle cx="73.1" cy="449.9" r="0.40"/><circle cx="81.0" cy="439.3" r="0.40"/><circle cx="73.2" cy="456.8" r="0.40"/><circle cx="77.7" cy="449.2" r="0.40"/><circle cx="68.5" cy="452.9" r="0.40"/><circle cx="63.0" cy="455.4" r="0.40"/><circle cx="59.0" cy="440.7" r="0.40"/><circle cx="69.4" cy="425.6" r="0.40"/><circle cx="74.3" cy="449.6" r="0.40"/><circle cx="72.2" cy="456.5" r="0.40"/><circle cx="80.9" cy="435.6" r="0.40"/><circle cx="75.4" cy="433.1" r="0.40"/><circle cx="87.2" cy="451.8" r="0.40"/><circle cx="74.9" cy="450.1" r="0.40"/><circle cx="80.4" cy="453.2" r="0.40"/><circle cx="71.6" cy="449.7" r="0.40"/><circle cx="69.4" cy="454.4" r="0.40"/><circle cx="77.1" cy="437.4" r="0.40"/><circle cx="67.3" cy="446.3" r="0.40"/><circle cx="74.7" cy="428.5" r="0.40"/><circle cx="73.7" cy="443.2" r="0.40"/><circle cx="72.8" cy="453.4" r="0.40"/><circle cx="79.2" cy="456.4" r="0.40"/><circle cx="70.9" cy="448.7" r="0.40"/><circle cx="54.2" cy="456.9" r="0.40"/><circle cx="57.3" cy="444.3" r="0.40"/><circle cx="48.1" cy="459.5" r="0.40"/><circle cx="53.5" cy="454.0" r="0.40"/><circle cx="47.5" cy="452.4" r="0.40"/><circle cx="57.3" cy="453.4" r="0.40"/><circle cx="56.5" cy="456.7" r="0.40"/><circle cx="52.8" cy="460.2" r="0.40"/><circle cx="54.7" cy="451.4" r="0.40"/><circle cx="45.4" cy="460.0" r="0.40"/><circle cx="55.9" cy="459.5" r="0.40"/><circle cx="50.3" cy="454.1" r="0.40"/><circle cx="57.2" cy="444.4" r="0.40"/><circle cx="53.7" cy="454.5" r="0.40"/><circle cx="56.6" cy="457.8" r="0.40"/><circle cx="52.0" cy="456.6" r="0.40"/><circle cx="47.1" cy="455.8" r="0.40"/><circle cx="47.8" cy="458.8" r="0.40"/><circle cx="55.3" cy="453.1" r="0.40"/><circle cx="49.9" cy="449.5" r="0.40"/><circle cx="52.0" cy="453.7" r="0.40"/><circle cx="55.3" cy="451.9" r="0.40"/><circle cx="55.4" cy="453.1" r="0.40"/><circle cx="50.7" cy="448.9" r="0.40"/><circle cx="47.8" cy="449.5" r="0.40"/><circle cx="45.5" cy="457.8" r="0.40"/><circle cx="55.3" cy="449.7" r="0.40"/><circle cx="56.5" cy="459.6" r="0.40"/><circle cx="52.6" cy="451.5" r="0.40"/><circle cx="44.8" cy="448.7" r="0.40"/><circle cx="45.3" cy="459.6" r="0.40"/><circle cx="45.8" cy="452.8" r="0.40"/><circle cx="48.2" cy="457.6" r="0.40"/><circle cx="49.9" cy="453.0" r="0.40"/><circle cx="51.5" cy="458.5" r="0.40"/><circle cx="55.8" cy="444.7" r="0.40"/><circle cx="49.5" cy="457.6" r="0.40"/><circle cx="45.9" cy="458.6" r="0.40"/><circle cx="47.3" cy="458.9" r="0.40"/><circle cx="52.8" cy="458.3" r="0.40"/><circle cx="46.7" cy="451.0" r="0.40"/><circle cx="49.6" cy="459.8" r="0.40"/><circle cx="44.8" cy="452.3" r="0.40"/><circle cx="48.6" cy="452.1" r="0.40"/><circle cx="48.0" cy="457.8" r="0.40"/><circle cx="55.8" cy="453.7" r="0.40"/><circle cx="53.4" cy="449.3" r="0.40"/><circle cx="56.8" cy="450.9" r="0.40"/><circle cx="51.0" cy="455.3" r="0.40"/><circle cx="51.4" cy="457.1" r="0.40"/><circle cx="44.0" cy="451.4" r="0.40"/><circle cx="46.8" cy="453.2" r="0.40"/><circle cx="54.5" cy="453.6" r="0.40"/><circle cx="55.4" cy="449.9" r="0.40"/><circle cx="56.0" cy="459.2" r="0.40"/><circle cx="51.3" cy="459.8" r="0.40"/><circle cx="56.4" cy="454.9" r="0.40"/><circle cx="55.9" cy="455.8" r="0.40"/><circle cx="44.5" cy="456.9" r="0.40"/><circle cx="54.1" cy="445.8" r="0.40"/><circle cx="53.1" cy="452.9" r="0.40"/><circle cx="57.5" cy="454.0" r="0.40"/><circle cx="47.2" cy="448.0" r="0.40"/><circle cx="47.6" cy="459.3" r="0.40"/><circle cx="52.8" cy="448.4" r="0.40"/><circle cx="51.8" cy="451.8" r="0.40"/><circle cx="54.4" cy="452.9" r="0.40"/><circle cx="55.3" cy="439.1" r="0.40"/><circle cx="52.6" cy="458.4" r="0.40"/><circle cx="57.4" cy="454.5" r="0.40"/><circle cx="56.1" cy="454.8" r="0.40"/><circle cx="54.5" cy="459.4" r="0.40"/><circle cx="57.1" cy="455.8" r="0.40"/><circle cx="52.6" cy="451.4" r="0.40"/><circle cx="54.7" cy="448.4" r="0.40"/><circle cx="47.2" cy="453.8" r="0.40"/><circle cx="48.4" cy="452.0" r="0.40"/><circle cx="53.8" cy="459.9" r="0.40"/><circle cx="52.0" cy="460.2" r="0.40"/><circle cx="55.6" cy="450.9" r="0.40"/><circle cx="47.0" cy="456.3" r="0.40"/><circle cx="48.8" cy="447.8" r="0.40"/><circle cx="43.9" cy="454.9" r="0.40"/><circle cx="57.2" cy="449.3" r="0.40"/><circle cx="51.3" cy="455.6" r="0.40"/><circle cx="56.4" cy="452.7" r="0.40"/><circle cx="45.6" cy="459.5" r="0.40"/><circle cx="55.5" cy="453.0" r="0.40"/><circle cx="54.9" cy="458.1" r="0.40"/><circle cx="47.0" cy="447.0" r="0.40"/><circle cx="56.3" cy="448.8" r="0.40"/><circle cx="45.0" cy="459.4" r="0.40"/><circle cx="50.7" cy="455.4" r="0.40"/><circle cx="51.3" cy="459.8" r="0.40"/><circle cx="50.9" cy="449.0" r="0.40"/><circle cx="52.2" cy="458.0" r="0.40"/><circle cx="50.6" cy="453.8" r="0.40"/><circle cx="54.3" cy="452.4" r="0.40"/><circle cx="45.1" cy="456.7" r="0.40"/><circle cx="44.6" cy="452.6" r="0.40"/><circle cx="57.8" cy="452.8" r="0.40"/><circle cx="44.0" cy="458.0" r="0.40"/><circle cx="44.9" cy="458.2" r="0.40"/><circle cx="45.1" cy="457.3" r="0.40"/><circle cx="50.6" cy="451.1" r="0.40"/><circle cx="52.7" cy="450.4" r="0.40"/><circle cx="43.8" cy="459.0" r="0.40"/><circle cx="49.8" cy="450.4" r="0.40"/><circle cx="54.2" cy="459.7" r="0.40"/><circle cx="45.4" cy="459.5" r="0.40"/><circle cx="55.8" cy="444.9" r="0.40"/><circle cx="53.7" cy="458.2" r="0.40"/><circle cx="48.3" cy="455.3" r="0.40"/><circle cx="54.8" cy="451.8" r="0.40"/><circle cx="52.6" cy="452.7" r="0.40"/><circle cx="48.8" cy="457.9" r="0.40"/><circle cx="52.2" cy="454.2" r="0.40"/><circle cx="43.8" cy="454.1" r="0.40"/><circle cx="51.5" cy="458.9" r="0.40"/><circle cx="53.4" cy="455.4" r="0.40"/><circle cx="52.2" cy="452.5" r="0.40"/><circle cx="48.3" cy="459.1" r="0.40"/><circle cx="48.1" cy="451.0" r="0.40"/><circle cx="50.5" cy="459.2" r="0.40"/><circle cx="45.4" cy="454.9" r="0.40"/><circle cx="50.5" cy="455.8" r="0.40"/><circle cx="55.9" cy="457.6" r="0.40"/><circle cx="45.2" cy="453.6" r="0.40"/><circle cx="55.4" cy="456.5" r="0.40"/><circle cx="51.1" cy="448.7" r="0.40"/><circle cx="44.0" cy="455.3" r="0.40"/><circle cx="57.3" cy="455.6" r="0.40"/><circle cx="47.2" cy="454.8" r="0.40"/><circle cx="50.7" cy="455.3" r="0.40"/><circle cx="54.4" cy="459.9" r="0.40"/><circle cx="53.1" cy="455.2" r="0.40"/><circle cx="54.3" cy="449.7" r="0.40"/><circle cx="45.9" cy="453.5" r="0.40"/><circle cx="48.4" cy="447.2" r="0.40"/><circle cx="44.1" cy="456.3" r="0.40"/><circle cx="52.6" cy="451.6" r="0.40"/><circle cx="47.4" cy="448.1" r="0.40"/><circle cx="46.2" cy="459.6" r="0.40"/><circle cx="45.8" cy="460.0" r="0.40"/><circle cx="46.6" cy="456.3" r="0.40"/><circle cx="50.3" cy="458.1" r="0.40"/><circle cx="54.8" cy="455.5" r="0.40"/><circle cx="44.3" cy="459.4" r="0.40"/><circle cx="49.7" cy="459.9" r="0.40"/><circle cx="47.5" cy="452.3" r="0.40"/><circle cx="47.7" cy="459.2" r="0.40"/><circle cx="52.0" cy="457.2" r="0.40"/><circle cx="55.9" cy="459.6" r="0.40"/><circle cx="51.9" cy="450.9" r="0.40"/><circle cx="44.9" cy="453.1" r="0.40"/><circle cx="48.8" cy="456.3" r="0.40"/><circle cx="50.4" cy="451.0" r="0.40"/><circle cx="47.5" cy="458.2" r="0.40"/><circle cx="55.3" cy="457.4" r="0.40"/><circle cx="45.1" cy="450.2" r="0.40"/></g>
<g fill="#1f3ef0" fill-opacity="0.6"><circle cx="73.1" cy="456.4" r="0.50"/><circle cx="70.7" cy="458.4" r="0.50"/><circle cx="70.5" cy="457.0" r="0.50"/><circle cx="71.3" cy="455.3" r="0.50"/><circle cx="73.1" cy="458.6" r="0.50"/><circle cx="78.1" cy="456.9" r="0.50"/><circle cx="68.1" cy="458.6" r="0.50"/><circle cx="75.9" cy="456.6" r="0.50"/><circle cx="69.2" cy="459.8" r="0.50"/><circle cx="74.7" cy="456.8" r="0.50"/><circle cx="66.3" cy="458.1" r="0.50"/><circle cx="65.1" cy="459.5" r="0.50"/><circle cx="69.5" cy="459.5" r="0.50"/><circle cx="70.2" cy="456.7" r="0.50"/><circle cx="66.1" cy="457.9" r="0.50"/><circle cx="70.3" cy="458.7" r="0.50"/><circle cx="64.7" cy="456.6" r="0.50"/><circle cx="73.8" cy="458.4" r="0.50"/><circle cx="67.6" cy="459.4" r="0.50"/><circle cx="63.3" cy="459.9" r="0.50"/><circle cx="73.3" cy="456.4" r="0.50"/><circle cx="72.4" cy="459.2" r="0.50"/><circle cx="74.3" cy="457.6" r="0.50"/><circle cx="68.6" cy="457.6" r="0.50"/><circle cx="64.7" cy="459.4" r="0.50"/><circle cx="74.0" cy="457.5" r="0.50"/><circle cx="73.6" cy="459.0" r="0.50"/><circle cx="78.6" cy="459.4" r="0.50"/><circle cx="77.7" cy="459.2" r="0.50"/><circle cx="73.0" cy="458.1" r="0.50"/><circle cx="71.7" cy="459.9" r="0.50"/><circle cx="72.3" cy="459.6" r="0.50"/><circle cx="69.6" cy="457.1" r="0.50"/><circle cx="68.4" cy="455.9" r="0.50"/><circle cx="64.0" cy="459.7" r="0.50"/><circle cx="74.0" cy="456.1" r="0.50"/><circle cx="81.0" cy="457.3" r="0.50"/><circle cx="68.6" cy="460.0" r="0.50"/><circle cx="70.4" cy="457.8" r="0.50"/><circle cx="67.0" cy="453.4" r="0.50"/><circle cx="76.5" cy="457.2" r="0.50"/><circle cx="73.2" cy="458.2" r="0.50"/><circle cx="68.8" cy="456.3" r="0.50"/><circle cx="62.2" cy="459.8" r="0.50"/><circle cx="75.5" cy="455.2" r="0.50"/><circle cx="74.3" cy="458.2" r="0.50"/><circle cx="75.7" cy="459.1" r="0.50"/><circle cx="69.6" cy="458.3" r="0.50"/><circle cx="73.5" cy="460.1" r="0.50"/><circle cx="67.7" cy="459.2" r="0.50"/><circle cx="67.0" cy="457.5" r="0.50"/><circle cx="59.6" cy="454.0" r="0.50"/><circle cx="67.6" cy="460.1" r="0.50"/><circle cx="71.6" cy="459.6" r="0.50"/><circle cx="68.2" cy="458.1" r="0.50"/><circle cx="64.3" cy="457.3" r="0.50"/><circle cx="63.9" cy="456.3" r="0.50"/><circle cx="71.1" cy="455.3" r="0.50"/><circle cx="65.8" cy="459.6" r="0.50"/><circle cx="63.7" cy="458.6" r="0.50"/><circle cx="69.7" cy="458.3" r="0.50"/><circle cx="68.6" cy="459.1" r="0.50"/><circle cx="74.9" cy="459.2" r="0.50"/><circle cx="67.3" cy="457.7" r="0.50"/><circle cx="71.0" cy="456.9" r="0.50"/><circle cx="71.5" cy="457.2" r="0.50"/><circle cx="69.6" cy="459.2" r="0.50"/><circle cx="69.3" cy="459.9" r="0.50"/><circle cx="73.1" cy="458.9" r="0.50"/><circle cx="69.4" cy="458.3" r="0.50"/><circle cx="71.3" cy="460.0" r="0.50"/><circle cx="72.9" cy="458.9" r="0.50"/><circle cx="66.1" cy="458.0" r="0.50"/><circle cx="78.1" cy="457.0" r="0.50"/><circle cx="71.5" cy="454.5" r="0.50"/><circle cx="71.9" cy="459.3" r="0.50"/><circle cx="72.2" cy="459.1" r="0.50"/><circle cx="67.5" cy="456.8" r="0.50"/><circle cx="71.4" cy="457.8" r="0.50"/><circle cx="71.2" cy="451.3" r="0.50"/><circle cx="74.8" cy="459.4" r="0.50"/><circle cx="71.1" cy="459.9" r="0.50"/><circle cx="72.9" cy="460.0" r="0.50"/><circle cx="64.5" cy="455.9" r="0.50"/><circle cx="72.5" cy="459.4" r="0.50"/><circle cx="72.0" cy="459.1" r="0.50"/><circle cx="69.5" cy="455.5" r="0.50"/><circle cx="70.6" cy="457.5" r="0.50"/><circle cx="68.7" cy="457.4" r="0.50"/><circle cx="74.9" cy="459.5" r="0.50"/><circle cx="73.3" cy="459.7" r="0.50"/><circle cx="72.5" cy="455.0" r="0.50"/><circle cx="76.8" cy="458.5" r="0.50"/><circle cx="71.9" cy="455.1" r="0.50"/><circle cx="66.8" cy="456.3" r="0.50"/><circle cx="67.8" cy="458.9" r="0.50"/><circle cx="68.7" cy="459.5" r="0.50"/><circle cx="65.9" cy="454.9" r="0.50"/><circle cx="64.2" cy="454.5" r="0.50"/><circle cx="73.7" cy="459.1" r="0.50"/><circle cx="76.1" cy="460.1" r="0.50"/><circle cx="69.6" cy="458.9" r="0.50"/><circle cx="74.6" cy="459.1" r="0.50"/><circle cx="71.0" cy="457.9" r="0.50"/><circle cx="70.2" cy="459.0" r="0.50"/><circle cx="71.3" cy="458.4" r="0.50"/><circle cx="77.2" cy="453.5" r="0.50"/><circle cx="65.5" cy="459.5" r="0.50"/><circle cx="66.9" cy="459.5" r="0.50"/><circle cx="76.7" cy="460.0" r="0.50"/><circle cx="69.1" cy="453.7" r="0.50"/><circle cx="76.8" cy="455.8" r="0.50"/><circle cx="73.8" cy="458.0" r="0.50"/><circle cx="70.8" cy="459.2" r="0.50"/><circle cx="71.0" cy="457.4" r="0.50"/><circle cx="69.2" cy="455.4" r="0.50"/><circle cx="73.7" cy="457.2" r="0.50"/><circle cx="62.6" cy="460.2" r="0.50"/><circle cx="72.6" cy="459.3" r="0.50"/><circle cx="73.4" cy="455.6" r="0.50"/><circle cx="67.9" cy="459.5" r="0.50"/><circle cx="64.6" cy="457.5" r="0.50"/><circle cx="69.0" cy="459.9" r="0.50"/><circle cx="75.0" cy="459.6" r="0.50"/><circle cx="66.6" cy="457.1" r="0.50"/><circle cx="70.3" cy="453.4" r="0.50"/><circle cx="65.6" cy="459.9" r="0.50"/><circle cx="70.2" cy="458.6" r="0.50"/><circle cx="85.1" cy="456.4" r="0.50"/><circle cx="67.2" cy="455.3" r="0.50"/><circle cx="74.5" cy="460.0" r="0.50"/><circle cx="61.2" cy="456.6" r="0.50"/><circle cx="68.0" cy="458.6" r="0.50"/><circle cx="71.3" cy="459.8" r="0.50"/><circle cx="60.8" cy="460.1" r="0.50"/><circle cx="67.6" cy="455.8" r="0.50"/><circle cx="67.3" cy="458.3" r="0.50"/><circle cx="68.9" cy="459.1" r="0.50"/><circle cx="73.4" cy="457.5" r="0.50"/><circle cx="65.4" cy="459.6" r="0.50"/><circle cx="73.7" cy="459.3" r="0.50"/><circle cx="67.6" cy="459.0" r="0.50"/><circle cx="64.4" cy="459.3" r="0.50"/><circle cx="68.6" cy="459.9" r="0.50"/><circle cx="73.9" cy="453.5" r="0.50"/><circle cx="68.5" cy="459.9" r="0.50"/><circle cx="75.9" cy="458.7" r="0.50"/><circle cx="75.6" cy="460.1" r="0.50"/><circle cx="78.2" cy="458.4" r="0.50"/><circle cx="76.9" cy="458.8" r="0.50"/><circle cx="71.2" cy="457.1" r="0.50"/><circle cx="65.1" cy="459.1" r="0.50"/><circle cx="71.3" cy="454.9" r="0.50"/><circle cx="80.4" cy="459.7" r="0.50"/><circle cx="76.3" cy="457.9" r="0.50"/><circle cx="61.9" cy="457.5" r="0.50"/><circle cx="67.9" cy="459.9" r="0.50"/><circle cx="69.7" cy="459.3" r="0.50"/><circle cx="78.1" cy="452.0" r="0.50"/><circle cx="76.5" cy="459.3" r="0.50"/><circle cx="69.2" cy="460.2" r="0.50"/><circle cx="78.4" cy="460.0" r="0.50"/><circle cx="73.5" cy="456.8" r="0.50"/><circle cx="68.1" cy="459.1" r="0.50"/><circle cx="66.2" cy="457.3" r="0.50"/><circle cx="71.3" cy="458.8" r="0.50"/><circle cx="78.5" cy="458.8" r="0.50"/><circle cx="69.9" cy="459.6" r="0.50"/><circle cx="65.5" cy="456.2" r="0.50"/><circle cx="75.1" cy="458.4" r="0.50"/><circle cx="75.5" cy="457.9" r="0.50"/><circle cx="81.0" cy="459.5" r="0.50"/><circle cx="74.2" cy="459.9" r="0.50"/><circle cx="68.5" cy="459.2" r="0.50"/><circle cx="69.7" cy="454.5" r="0.50"/><circle cx="69.4" cy="457.7" r="0.50"/><circle cx="64.9" cy="455.6" r="0.50"/><circle cx="69.1" cy="459.8" r="0.50"/><circle cx="69.5" cy="456.7" r="0.50"/><circle cx="74.4" cy="458.5" r="0.50"/><circle cx="75.4" cy="458.6" r="0.50"/><circle cx="73.3" cy="454.9" r="0.50"/><circle cx="74.6" cy="458.0" r="0.50"/><circle cx="77.7" cy="457.8" r="0.50"/><circle cx="59.6" cy="455.1" r="0.50"/><circle cx="65.5" cy="459.5" r="0.50"/><circle cx="68.5" cy="457.0" r="0.50"/><circle cx="65.9" cy="458.1" r="0.50"/><circle cx="70.1" cy="458.5" r="0.50"/><circle cx="75.2" cy="459.8" r="0.50"/><circle cx="71.1" cy="459.3" r="0.50"/><circle cx="73.6" cy="458.0" r="0.50"/><circle cx="77.6" cy="455.6" r="0.50"/><circle cx="70.1" cy="459.9" r="0.50"/><circle cx="76.7" cy="458.7" r="0.50"/><circle cx="75.3" cy="458.7" r="0.50"/><circle cx="73.8" cy="458.8" r="0.50"/><circle cx="72.0" cy="459.8" r="0.50"/><circle cx="71.8" cy="457.2" r="0.50"/><circle cx="71.9" cy="455.5" r="0.50"/><circle cx="64.1" cy="457.9" r="0.50"/><circle cx="75.7" cy="460.0" r="0.50"/><circle cx="71.9" cy="459.2" r="0.50"/><circle cx="71.9" cy="456.1" r="0.50"/><circle cx="67.5" cy="459.3" r="0.50"/><circle cx="67.4" cy="459.5" r="0.50"/><circle cx="73.0" cy="458.0" r="0.50"/><circle cx="60.9" cy="455.6" r="0.50"/><circle cx="74.6" cy="456.2" r="0.50"/><circle cx="77.9" cy="460.0" r="0.50"/><circle cx="69.5" cy="459.6" r="0.50"/><circle cx="73.4" cy="457.6" r="0.50"/><circle cx="75.0" cy="459.6" r="0.50"/><circle cx="69.5" cy="458.7" r="0.50"/><circle cx="76.3" cy="450.6" r="0.50"/><circle cx="65.5" cy="456.4" r="0.50"/><circle cx="85.0" cy="455.5" r="0.50"/><circle cx="72.5" cy="458.0" r="0.50"/><circle cx="68.5" cy="457.8" r="0.50"/><circle cx="73.7" cy="457.5" r="0.50"/><circle cx="71.7" cy="459.3" r="0.50"/><circle cx="67.9" cy="454.3" r="0.50"/><circle cx="76.0" cy="459.3" r="0.50"/><circle cx="68.4" cy="459.9" r="0.50"/><circle cx="72.1" cy="460.0" r="0.50"/><circle cx="67.1" cy="456.8" r="0.50"/><circle cx="77.2" cy="459.2" r="0.50"/><circle cx="71.4" cy="458.9" r="0.50"/><circle cx="68.0" cy="458.0" r="0.50"/><circle cx="75.1" cy="457.2" r="0.50"/><circle cx="62.7" cy="457.0" r="0.50"/><circle cx="69.2" cy="457.5" r="0.50"/><circle cx="77.2" cy="458.4" r="0.50"/><circle cx="69.0" cy="457.3" r="0.50"/><circle cx="75.8" cy="458.0" r="0.50"/><circle cx="69.4" cy="460.2" r="0.50"/><circle cx="65.2" cy="455.9" r="0.50"/><circle cx="65.1" cy="456.1" r="0.50"/><circle cx="74.0" cy="460.2" r="0.50"/><circle cx="70.7" cy="456.0" r="0.50"/><circle cx="78.0" cy="455.7" r="0.50"/><circle cx="74.8" cy="453.2" r="0.50"/><circle cx="64.0" cy="456.3" r="0.50"/><circle cx="75.6" cy="457.2" r="0.50"/><circle cx="73.1" cy="457.2" r="0.50"/><circle cx="57.9" cy="460.0" r="0.50"/><circle cx="72.3" cy="457.1" r="0.50"/><circle cx="63.2" cy="454.7" r="0.50"/><circle cx="72.3" cy="457.3" r="0.50"/><circle cx="74.1" cy="458.3" r="0.50"/><circle cx="75.4" cy="459.5" r="0.50"/><circle cx="72.5" cy="458.0" r="0.50"/><circle cx="72.3" cy="458.7" r="0.50"/><circle cx="70.2" cy="458.4" r="0.50"/><circle cx="72.5" cy="459.5" r="0.50"/><circle cx="68.5" cy="459.2" r="0.50"/><circle cx="62.1" cy="458.5" r="0.50"/><circle cx="64.5" cy="457.6" r="0.50"/><circle cx="70.5" cy="455.4" r="0.50"/><circle cx="69.1" cy="456.6" r="0.50"/><circle cx="65.9" cy="459.5" r="0.50"/><circle cx="74.2" cy="456.5" r="0.50"/><circle cx="72.0" cy="459.4" r="0.50"/><circle cx="77.4" cy="454.4" r="0.50"/><circle cx="76.5" cy="458.0" r="0.50"/><circle cx="76.9" cy="459.0" r="0.50"/><circle cx="71.5" cy="457.1" r="0.50"/><circle cx="67.9" cy="460.1" r="0.50"/><circle cx="71.8" cy="458.5" r="0.50"/><circle cx="63.2" cy="458.4" r="0.50"/><circle cx="70.8" cy="456.8" r="0.50"/><circle cx="69.6" cy="459.6" r="0.50"/><circle cx="75.0" cy="458.4" r="0.50"/><circle cx="64.4" cy="452.7" r="0.50"/><circle cx="67.1" cy="459.8" r="0.50"/><circle cx="75.6" cy="457.1" r="0.50"/><circle cx="71.4" cy="460.0" r="0.50"/><circle cx="77.3" cy="456.9" r="0.50"/><circle cx="77.3" cy="455.4" r="0.50"/><circle cx="70.8" cy="458.0" r="0.50"/><circle cx="70.0" cy="456.9" r="0.50"/><circle cx="66.5" cy="458.8" r="0.50"/><circle cx="72.5" cy="457.6" r="0.50"/><circle cx="70.8" cy="458.9" r="0.50"/><circle cx="78.0" cy="459.2" r="0.50"/><circle cx="69.0" cy="457.7" r="0.50"/><circle cx="76.2" cy="457.2" r="0.50"/><circle cx="65.8" cy="460.0" r="0.50"/><circle cx="73.3" cy="457.8" r="0.50"/><circle cx="66.9" cy="452.3" r="0.50"/><circle cx="70.1" cy="458.8" r="0.50"/><circle cx="65.0" cy="459.8" r="0.50"/><circle cx="63.3" cy="456.7" r="0.50"/><circle cx="61.0" cy="457.7" r="0.50"/><circle cx="70.7" cy="459.4" r="0.50"/><circle cx="81.1" cy="458.7" r="0.50"/><circle cx="73.5" cy="458.8" r="0.50"/><circle cx="76.9" cy="459.3" r="0.50"/><circle cx="79.4" cy="456.9" r="0.50"/><circle cx="62.7" cy="459.3" r="0.50"/><circle cx="75.3" cy="457.4" r="0.50"/><circle cx="69.9" cy="459.6" r="0.50"/><circle cx="71.5" cy="454.0" r="0.50"/><circle cx="76.6" cy="459.0" r="0.50"/><circle cx="74.2" cy="458.3" r="0.50"/><circle cx="63.3" cy="459.9" r="0.50"/><circle cx="77.2" cy="457.0" r="0.50"/><circle cx="62.6" cy="453.2" r="0.50"/><circle cx="76.0" cy="457.2" r="0.50"/><circle cx="68.0" cy="457.8" r="0.50"/><circle cx="71.0" cy="455.1" r="0.50"/><circle cx="64.1" cy="459.3" r="0.50"/><circle cx="70.7" cy="460.1" r="0.50"/><circle cx="72.3" cy="456.2" r="0.50"/><circle cx="66.3" cy="457.6" r="0.50"/><circle cx="62.1" cy="456.8" r="0.50"/><circle cx="74.3" cy="457.8" r="0.50"/><circle cx="68.2" cy="457.7" r="0.50"/><circle cx="67.5" cy="457.7" r="0.50"/><circle cx="73.3" cy="455.0" r="0.50"/><circle cx="63.5" cy="454.0" r="0.50"/><circle cx="60.8" cy="459.7" r="0.50"/><circle cx="65.5" cy="458.7" r="0.50"/><circle cx="67.9" cy="459.9" r="0.50"/><circle cx="63.6" cy="457.6" r="0.50"/><circle cx="65.6" cy="458.7" r="0.50"/><circle cx="73.7" cy="458.1" r="0.50"/><circle cx="71.4" cy="455.8" r="0.50"/><circle cx="72.5" cy="458.5" r="0.50"/><circle cx="71.3" cy="459.8" r="0.50"/><circle cx="74.3" cy="455.1" r="0.50"/><circle cx="71.0" cy="460.2" r="0.50"/><circle cx="71.9" cy="457.2" r="0.50"/><circle cx="76.7" cy="455.5" r="0.50"/><circle cx="71.1" cy="459.3" r="0.50"/><circle cx="70.2" cy="460.1" r="0.50"/><circle cx="69.8" cy="459.7" r="0.50"/><circle cx="65.2" cy="455.1" r="0.50"/><circle cx="69.3" cy="457.2" r="0.50"/><circle cx="74.1" cy="459.8" r="0.50"/><circle cx="69.8" cy="456.1" r="0.50"/><circle cx="72.2" cy="459.0" r="0.50"/><circle cx="72.3" cy="459.8" r="0.50"/><circle cx="71.3" cy="457.6" r="0.50"/><circle cx="68.8" cy="457.1" r="0.50"/><circle cx="76.6" cy="457.8" r="0.50"/><circle cx="69.9" cy="457.5" r="0.50"/><circle cx="77.7" cy="458.0" r="0.50"/><circle cx="73.0" cy="457.4" r="0.50"/><circle cx="65.7" cy="455.7" r="0.50"/><circle cx="70.6" cy="457.6" r="0.50"/><circle cx="71.7" cy="456.5" r="0.50"/><circle cx="71.3" cy="457.4" r="0.50"/><circle cx="70.7" cy="459.2" r="0.50"/><circle cx="73.8" cy="454.1" r="0.50"/><circle cx="77.0" cy="456.5" r="0.50"/><circle cx="69.3" cy="456.8" r="0.50"/><circle cx="74.0" cy="459.9" r="0.50"/><circle cx="74.3" cy="458.8" r="0.50"/><circle cx="69.1" cy="458.7" r="0.50"/><circle cx="70.3" cy="457.2" r="0.50"/><circle cx="72.9" cy="455.4" r="0.50"/><circle cx="67.5" cy="455.8" r="0.50"/><circle cx="76.7" cy="459.2" r="0.50"/><circle cx="72.2" cy="458.8" r="0.50"/><circle cx="73.2" cy="454.3" r="0.50"/><circle cx="73.4" cy="455.3" r="0.50"/><circle cx="72.1" cy="457.3" r="0.50"/><circle cx="61.4" cy="460.1" r="0.50"/><circle cx="75.2" cy="456.2" r="0.50"/><circle cx="64.6" cy="456.4" r="0.50"/><circle cx="73.7" cy="454.4" r="0.50"/><circle cx="68.4" cy="457.2" r="0.50"/><circle cx="66.5" cy="459.9" r="0.50"/><circle cx="77.1" cy="456.6" r="0.50"/><circle cx="63.3" cy="460.0" r="0.50"/><circle cx="74.0" cy="459.5" r="0.50"/><circle cx="61.9" cy="459.3" r="0.50"/><circle cx="73.0" cy="459.9" r="0.50"/><circle cx="67.9" cy="458.1" r="0.50"/><circle cx="76.3" cy="455.4" r="0.50"/><circle cx="65.2" cy="456.6" r="0.50"/><circle cx="76.8" cy="459.8" r="0.50"/><circle cx="63.1" cy="459.7" r="0.50"/><circle cx="73.1" cy="459.5" r="0.50"/><circle cx="56.7" cy="459.5" r="0.50"/><circle cx="61.4" cy="459.1" r="0.50"/><circle cx="65.2" cy="458.4" r="0.50"/><circle cx="59.1" cy="459.6" r="0.50"/><circle cx="65.2" cy="460.1" r="0.50"/><circle cx="80.5" cy="458.4" r="0.50"/><circle cx="66.2" cy="458.2" r="0.50"/><circle cx="71.7" cy="456.3" r="0.50"/><circle cx="65.2" cy="455.8" r="0.50"/><circle cx="65.4" cy="455.4" r="0.50"/><circle cx="71.3" cy="454.8" r="0.50"/><circle cx="65.9" cy="456.4" r="0.50"/><circle cx="70.5" cy="457.3" r="0.50"/><circle cx="71.3" cy="457.7" r="0.50"/><circle cx="74.9" cy="458.4" r="0.50"/><circle cx="56.6" cy="455.6" r="0.50"/><circle cx="74.0" cy="460.1" r="0.50"/><circle cx="72.7" cy="454.5" r="0.50"/><circle cx="68.0" cy="458.0" r="0.50"/><circle cx="73.0" cy="459.3" r="0.50"/><circle cx="70.8" cy="454.4" r="0.50"/><circle cx="66.0" cy="458.7" r="0.50"/><circle cx="67.0" cy="459.8" r="0.50"/><circle cx="64.2" cy="458.5" r="0.50"/><circle cx="65.9" cy="458.9" r="0.50"/><circle cx="70.8" cy="460.0" r="0.50"/><circle cx="76.7" cy="458.1" r="0.50"/><circle cx="67.2" cy="455.4" r="0.50"/><circle cx="70.4" cy="456.4" r="0.50"/><circle cx="75.2" cy="457.1" r="0.50"/><circle cx="68.7" cy="458.2" r="0.50"/><circle cx="73.2" cy="460.1" r="0.50"/><circle cx="63.5" cy="453.9" r="0.50"/><circle cx="71.7" cy="457.6" r="0.50"/><circle cx="74.0" cy="458.9" r="0.50"/><circle cx="67.7" cy="455.8" r="0.50"/><circle cx="67.5" cy="456.9" r="0.50"/><circle cx="67.1" cy="459.2" r="0.50"/><circle cx="72.2" cy="459.7" r="0.50"/><circle cx="67.4" cy="453.1" r="0.50"/><circle cx="72.7" cy="457.6" r="0.50"/><circle cx="74.9" cy="459.8" r="0.50"/><circle cx="65.4" cy="459.5" r="0.50"/><circle cx="71.3" cy="459.0" r="0.50"/><circle cx="68.0" cy="459.5" r="0.50"/><circle cx="75.2" cy="457.5" r="0.50"/><circle cx="73.7" cy="459.3" r="0.50"/><circle cx="76.9" cy="458.9" r="0.50"/><circle cx="71.5" cy="459.8" r="0.50"/><circle cx="66.2" cy="457.9" r="0.50"/><circle cx="64.9" cy="459.9" r="0.50"/><circle cx="76.7" cy="459.3" r="0.50"/><circle cx="66.6" cy="459.5" r="0.50"/><circle cx="67.9" cy="458.0" r="0.50"/><circle cx="76.9" cy="455.7" r="0.50"/><circle cx="76.3" cy="455.5" r="0.50"/><circle cx="73.5" cy="457.5" r="0.50"/><circle cx="79.1" cy="457.3" r="0.50"/><circle cx="73.3" cy="455.6" r="0.50"/><circle cx="68.1" cy="457.0" r="0.50"/><circle cx="63.6" cy="458.6" r="0.50"/><circle cx="71.6" cy="459.5" r="0.50"/><circle cx="78.2" cy="456.1" r="0.50"/><circle cx="68.8" cy="456.5" r="0.50"/><circle cx="66.6" cy="457.3" r="0.50"/><circle cx="63.9" cy="458.9" r="0.50"/><circle cx="78.7" cy="460.1" r="0.50"/><circle cx="76.3" cy="460.1" r="0.50"/><circle cx="70.5" cy="457.0" r="0.50"/><circle cx="65.1" cy="455.0" r="0.50"/><circle cx="74.7" cy="459.1" r="0.50"/><circle cx="72.6" cy="459.7" r="0.50"/><circle cx="75.1" cy="456.6" r="0.50"/><circle cx="70.1" cy="459.7" r="0.50"/><circle cx="70.2" cy="456.6" r="0.50"/><circle cx="85.3" cy="454.1" r="0.50"/><circle cx="74.6" cy="458.3" r="0.50"/><circle cx="70.2" cy="457.3" r="0.50"/><circle cx="73.6" cy="452.5" r="0.50"/><circle cx="72.6" cy="458.5" r="0.50"/><circle cx="66.7" cy="456.6" r="0.50"/><circle cx="69.6" cy="456.4" r="0.50"/><circle cx="72.3" cy="457.4" r="0.50"/><circle cx="79.1" cy="458.6" r="0.50"/><circle cx="69.4" cy="458.3" r="0.50"/><circle cx="70.5" cy="452.9" r="0.50"/><circle cx="75.3" cy="456.6" r="0.50"/><circle cx="76.1" cy="459.9" r="0.50"/><circle cx="66.8" cy="456.7" r="0.50"/><circle cx="74.8" cy="453.2" r="0.50"/><circle cx="71.3" cy="456.5" r="0.50"/><circle cx="63.5" cy="458.0" r="0.50"/><circle cx="72.2" cy="456.2" r="0.50"/><circle cx="75.7" cy="457.2" r="0.50"/><circle cx="67.1" cy="458.8" r="0.50"/><circle cx="64.9" cy="459.8" r="0.50"/><circle cx="64.1" cy="458.8" r="0.50"/><circle cx="62.4" cy="459.2" r="0.50"/><circle cx="74.6" cy="459.6" r="0.50"/><circle cx="73.9" cy="457.6" r="0.50"/><circle cx="70.7" cy="457.7" r="0.50"/><circle cx="74.7" cy="454.7" r="0.50"/><circle cx="70.7" cy="457.3" r="0.50"/><circle cx="72.3" cy="455.0" r="0.50"/><circle cx="71.5" cy="456.9" r="0.50"/><circle cx="69.7" cy="458.1" r="0.50"/><circle cx="68.4" cy="458.0" r="0.50"/><circle cx="60.6" cy="458.3" r="0.50"/><circle cx="70.0" cy="458.8" r="0.50"/><circle cx="68.0" cy="459.3" r="0.50"/><circle cx="67.9" cy="455.6" r="0.50"/><circle cx="74.7" cy="456.0" r="0.50"/><circle cx="72.2" cy="458.1" r="0.50"/><circle cx="78.0" cy="457.3" r="0.50"/><circle cx="69.8" cy="458.9" r="0.50"/><circle cx="78.5" cy="457.0" r="0.50"/><circle cx="59.9" cy="451.9" r="0.50"/><circle cx="80.2" cy="458.1" r="0.50"/><circle cx="71.0" cy="458.6" r="0.50"/><circle cx="75.7" cy="456.2" r="0.50"/><circle cx="65.1" cy="456.0" r="0.50"/><circle cx="72.1" cy="459.0" r="0.50"/><circle cx="58.3" cy="455.0" r="0.50"/><circle cx="69.2" cy="457.3" r="0.50"/><circle cx="64.9" cy="459.0" r="0.50"/><circle cx="69.8" cy="458.9" r="0.50"/><circle cx="78.0" cy="458.0" r="0.50"/><circle cx="71.3" cy="458.4" r="0.50"/><circle cx="72.1" cy="458.8" r="0.50"/><circle cx="73.9" cy="459.3" r="0.50"/><circle cx="72.1" cy="457.4" r="0.50"/><circle cx="74.5" cy="460.1" r="0.50"/><circle cx="74.0" cy="459.5" r="0.50"/><circle cx="73.7" cy="459.7" r="0.50"/><circle cx="72.1" cy="457.4" r="0.50"/><circle cx="79.9" cy="458.9" r="0.50"/><circle cx="68.6" cy="459.7" r="0.50"/><circle cx="65.1" cy="458.3" r="0.50"/><circle cx="66.0" cy="458.8" r="0.50"/><circle cx="74.1" cy="455.8" r="0.50"/><circle cx="70.3" cy="458.5" r="0.50"/><circle cx="69.2" cy="457.4" r="0.50"/><circle cx="74.9" cy="453.6" r="0.50"/><circle cx="64.6" cy="455.8" r="0.50"/><circle cx="77.1" cy="459.0" r="0.50"/><circle cx="74.4" cy="459.8" r="0.50"/><circle cx="82.2" cy="455.0" r="0.50"/><circle cx="69.9" cy="459.4" r="0.50"/><circle cx="79.2" cy="456.0" r="0.50"/><circle cx="76.2" cy="458.9" r="0.50"/><circle cx="65.1" cy="457.9" r="0.50"/><circle cx="66.4" cy="459.3" r="0.50"/><circle cx="65.8" cy="455.3" r="0.50"/><circle cx="78.6" cy="459.1" r="0.50"/><circle cx="69.6" cy="456.3" r="0.50"/><circle cx="74.9" cy="459.8" r="0.50"/><circle cx="61.8" cy="456.3" r="0.50"/><circle cx="73.3" cy="457.7" r="0.50"/><circle cx="80.2" cy="457.1" r="0.50"/><circle cx="76.6" cy="457.4" r="0.50"/><circle cx="69.7" cy="455.5" r="0.50"/><circle cx="82.6" cy="458.6" r="0.50"/><circle cx="64.9" cy="456.9" r="0.50"/><circle cx="79.0" cy="459.3" r="0.50"/><circle cx="66.4" cy="457.3" r="0.50"/><circle cx="77.8" cy="458.7" r="0.50"/><circle cx="70.8" cy="457.1" r="0.50"/><circle cx="67.0" cy="457.4" r="0.50"/><circle cx="69.2" cy="458.8" r="0.50"/><circle cx="70.0" cy="459.9" r="0.50"/><circle cx="79.9" cy="456.6" r="0.50"/><circle cx="72.5" cy="459.0" r="0.50"/><circle cx="77.5" cy="459.1" r="0.50"/><circle cx="69.6" cy="456.7" r="0.50"/><circle cx="77.6" cy="455.4" r="0.50"/><circle cx="67.2" cy="459.1" r="0.50"/><circle cx="72.8" cy="460.1" r="0.50"/><circle cx="74.9" cy="456.3" r="0.50"/><circle cx="67.4" cy="457.2" r="0.50"/><circle cx="70.7" cy="454.2" r="0.50"/><circle cx="67.2" cy="459.7" r="0.50"/><circle cx="67.1" cy="460.0" r="0.50"/><circle cx="71.5" cy="454.7" r="0.50"/><circle cx="59.4" cy="459.2" r="0.50"/><circle cx="63.0" cy="456.7" r="0.50"/><circle cx="67.0" cy="455.1" r="0.50"/><circle cx="75.0" cy="454.1" r="0.50"/><circle cx="74.1" cy="457.6" r="0.50"/><circle cx="70.5" cy="453.7" r="0.50"/><circle cx="70.4" cy="456.1" r="0.50"/><circle cx="68.3" cy="459.9" r="0.50"/><circle cx="64.0" cy="452.8" r="0.50"/><circle cx="70.0" cy="459.4" r="0.50"/><circle cx="73.4" cy="453.5" r="0.50"/><circle cx="67.7" cy="459.9" r="0.50"/><circle cx="81.3" cy="453.9" r="0.50"/><circle cx="66.7" cy="457.3" r="0.50"/><circle cx="67.9" cy="456.2" r="0.50"/><circle cx="66.8" cy="455.2" r="0.50"/><circle cx="72.7" cy="460.0" r="0.50"/><circle cx="74.6" cy="455.6" r="0.50"/><circle cx="69.4" cy="460.1" r="0.50"/><circle cx="71.2" cy="459.5" r="0.50"/><circle cx="71.1" cy="453.5" r="0.50"/><circle cx="69.0" cy="455.6" r="0.50"/><circle cx="79.2" cy="458.2" r="0.50"/><circle cx="81.7" cy="455.5" r="0.50"/><circle cx="71.5" cy="457.0" r="0.50"/><circle cx="68.6" cy="458.9" r="0.50"/><circle cx="77.0" cy="459.4" r="0.50"/><circle cx="76.9" cy="457.9" r="0.50"/><circle cx="71.0" cy="458.3" r="0.50"/><circle cx="68.4" cy="459.2" r="0.50"/><circle cx="61.1" cy="457.0" r="0.50"/><circle cx="67.5" cy="458.7" r="0.50"/><circle cx="67.9" cy="459.4" r="0.50"/><circle cx="70.6" cy="458.4" r="0.50"/><circle cx="69.4" cy="457.6" r="0.50"/><circle cx="66.3" cy="451.4" r="0.50"/><circle cx="74.2" cy="457.7" r="0.50"/><circle cx="61.3" cy="459.4" r="0.50"/><circle cx="72.9" cy="459.0" r="0.50"/><circle cx="72.9" cy="456.5" r="0.50"/><circle cx="74.1" cy="459.7" r="0.50"/><circle cx="69.8" cy="456.2" r="0.50"/><circle cx="60.6" cy="459.4" r="0.50"/><circle cx="72.4" cy="455.5" r="0.50"/><circle cx="65.1" cy="458.4" r="0.50"/><circle cx="74.6" cy="457.3" r="0.50"/><circle cx="65.7" cy="455.8" r="0.50"/><circle cx="61.2" cy="457.9" r="0.50"/><circle cx="64.2" cy="459.4" r="0.50"/><circle cx="80.8" cy="456.7" r="0.50"/><circle cx="66.3" cy="459.3" r="0.50"/><circle cx="69.7" cy="456.3" r="0.50"/><circle cx="67.3" cy="459.3" r="0.50"/><circle cx="68.2" cy="459.9" r="0.50"/><circle cx="76.4" cy="458.7" r="0.50"/><circle cx="74.5" cy="460.0" r="0.50"/><circle cx="74.9" cy="457.9" r="0.50"/><circle cx="78.7" cy="455.3" r="0.50"/><circle cx="73.8" cy="459.6" r="0.50"/><circle cx="64.6" cy="458.8" r="0.50"/><circle cx="77.4" cy="459.0" r="0.50"/><circle cx="70.0" cy="460.1" r="0.50"/><circle cx="72.2" cy="453.4" r="0.50"/><circle cx="69.4" cy="458.8" r="0.50"/><circle cx="71.4" cy="459.8" r="0.50"/><circle cx="65.2" cy="456.0" r="0.50"/><circle cx="70.5" cy="456.5" r="0.50"/><circle cx="65.6" cy="459.9" r="0.50"/><circle cx="72.5" cy="458.3" r="0.50"/><circle cx="64.3" cy="455.5" r="0.50"/><circle cx="70.3" cy="458.6" r="0.50"/><circle cx="68.1" cy="458.3" r="0.50"/><circle cx="71.0" cy="460.0" r="0.50"/><circle cx="71.0" cy="459.3" r="0.50"/><circle cx="72.8" cy="458.3" r="0.50"/><circle cx="77.6" cy="460.2" r="0.50"/><circle cx="68.2" cy="460.1" r="0.50"/><circle cx="66.7" cy="459.8" r="0.50"/><circle cx="65.9" cy="454.9" r="0.50"/><circle cx="65.8" cy="459.9" r="0.50"/><circle cx="72.3" cy="457.1" r="0.50"/><circle cx="64.5" cy="459.4" r="0.50"/><circle cx="70.4" cy="459.6" r="0.50"/><circle cx="72.9" cy="458.7" r="0.50"/><circle cx="65.5" cy="459.5" r="0.50"/><circle cx="70.2" cy="456.2" r="0.50"/><circle cx="67.5" cy="459.6" r="0.50"/><circle cx="75.6" cy="459.5" r="0.50"/><circle cx="72.3" cy="456.2" r="0.50"/><circle cx="67.1" cy="458.3" r="0.50"/><circle cx="72.7" cy="458.0" r="0.50"/><circle cx="74.2" cy="457.2" r="0.50"/><circle cx="70.9" cy="456.0" r="0.50"/><circle cx="80.7" cy="455.5" r="0.50"/><circle cx="64.0" cy="460.1" r="0.50"/><circle cx="75.6" cy="459.0" r="0.50"/><circle cx="69.6" cy="458.9" r="0.50"/><circle cx="73.3" cy="459.3" r="0.50"/><circle cx="63.0" cy="457.1" r="0.50"/><circle cx="71.6" cy="457.3" r="0.50"/><circle cx="67.0" cy="457.4" r="0.50"/><circle cx="69.1" cy="457.5" r="0.50"/><circle cx="74.6" cy="453.8" r="0.50"/><circle cx="63.4" cy="459.4" r="0.50"/><circle cx="70.1" cy="458.4" r="0.50"/><circle cx="63.3" cy="458.8" r="0.50"/><circle cx="66.5" cy="458.8" r="0.50"/><circle cx="64.9" cy="457.4" r="0.50"/><circle cx="72.3" cy="458.7" r="0.50"/><circle cx="73.1" cy="458.3" r="0.50"/><circle cx="67.4" cy="457.8" r="0.50"/><circle cx="75.9" cy="458.3" r="0.50"/><circle cx="75.3" cy="459.8" r="0.50"/><circle cx="69.9" cy="455.0" r="0.50"/><circle cx="71.5" cy="458.3" r="0.50"/><circle cx="73.8" cy="459.9" r="0.50"/><circle cx="67.3" cy="458.0" r="0.50"/><circle cx="71.6" cy="456.6" r="0.50"/><circle cx="72.6" cy="458.8" r="0.50"/><circle cx="71.6" cy="459.6" r="0.50"/><circle cx="62.8" cy="460.0" r="0.50"/><circle cx="75.9" cy="458.7" r="0.50"/><circle cx="72.3" cy="458.2" r="0.50"/><circle cx="64.0" cy="455.8" r="0.50"/><circle cx="70.5" cy="459.7" r="0.50"/><circle cx="73.4" cy="456.9" r="0.50"/><circle cx="68.5" cy="457.7" r="0.50"/><circle cx="71.6" cy="457.5" r="0.50"/><circle cx="73.3" cy="453.0" r="0.50"/><circle cx="74.8" cy="459.2" r="0.50"/><circle cx="69.1" cy="453.5" r="0.50"/><circle cx="76.6" cy="457.7" r="0.50"/></g>
<g fill="#1f3ef0" fill-opacity="0.55"><circle cx="70.5" cy="455.2" r="0.50"/><circle cx="75.4" cy="459.8" r="0.50"/><circle cx="72.0" cy="452.3" r="0.50"/><circle cx="75.8" cy="451.5" r="0.50"/><circle cx="77.3" cy="459.8" r="0.50"/><circle cx="80.7" cy="457.4" r="0.50"/><circle cx="77.0" cy="458.8" r="0.50"/><circle cx="73.8" cy="457.2" r="0.50"/><circle cx="74.9" cy="455.6" r="0.50"/><circle cx="70.5" cy="459.0" r="0.50"/><circle cx="76.6" cy="444.1" r="0.50"/><circle cx="73.3" cy="456.4" r="0.50"/><circle cx="75.0" cy="455.8" r="0.50"/><circle cx="79.3" cy="455.2" r="0.50"/><circle cx="74.9" cy="449.9" r="0.50"/><circle cx="73.8" cy="450.4" r="0.50"/><circle cx="70.9" cy="452.0" r="0.50"/><circle cx="74.6" cy="459.9" r="0.50"/><circle cx="77.9" cy="459.9" r="0.50"/><circle cx="78.6" cy="451.6" r="0.50"/><circle cx="72.5" cy="451.2" r="0.50"/><circle cx="74.2" cy="456.1" r="0.50"/><circle cx="77.3" cy="460.2" r="0.50"/><circle cx="69.7" cy="450.0" r="0.50"/><circle cx="70.1" cy="453.4" r="0.50"/><circle cx="79.1" cy="458.7" r="0.50"/><circle cx="76.2" cy="451.9" r="0.50"/><circle cx="72.6" cy="456.1" r="0.50"/><circle cx="73.9" cy="459.7" r="0.50"/><circle cx="75.0" cy="459.0" r="0.50"/><circle cx="76.5" cy="454.8" r="0.50"/><circle cx="72.9" cy="450.9" r="0.50"/><circle cx="73.1" cy="452.3" r="0.50"/><circle cx="78.2" cy="452.1" r="0.50"/><circle cx="78.3" cy="459.6" r="0.50"/><circle cx="72.5" cy="458.8" r="0.50"/><circle cx="79.1" cy="456.1" r="0.50"/><circle cx="74.4" cy="450.4" r="0.50"/><circle cx="72.9" cy="455.0" r="0.50"/><circle cx="77.0" cy="459.9" r="0.50"/><circle cx="73.9" cy="453.4" r="0.50"/><circle cx="72.9" cy="460.1" r="0.50"/><circle cx="73.7" cy="457.7" r="0.50"/><circle cx="74.9" cy="457.8" r="0.50"/><circle cx="75.9" cy="457.1" r="0.50"/><circle cx="77.3" cy="453.3" r="0.50"/><circle cx="74.7" cy="453.1" r="0.50"/><circle cx="77.6" cy="446.8" r="0.50"/><circle cx="72.2" cy="452.9" r="0.50"/><circle cx="77.0" cy="450.5" r="0.50"/><circle cx="80.2" cy="456.3" r="0.50"/><circle cx="77.4" cy="454.7" r="0.50"/><circle cx="72.0" cy="453.3" r="0.50"/><circle cx="72.1" cy="459.4" r="0.50"/><circle cx="74.0" cy="457.8" r="0.50"/><circle cx="76.5" cy="452.7" r="0.50"/><circle cx="75.6" cy="458.8" r="0.50"/><circle cx="71.8" cy="458.9" r="0.50"/><circle cx="74.6" cy="452.4" r="0.50"/><circle cx="74.3" cy="458.1" r="0.50"/><circle cx="71.7" cy="455.6" r="0.50"/><circle cx="74.8" cy="458.5" r="0.50"/><circle cx="76.5" cy="446.3" r="0.50"/><circle cx="75.5" cy="457.9" r="0.50"/><circle cx="74.1" cy="446.5" r="0.50"/><circle cx="69.1" cy="447.7" r="0.50"/><circle cx="74.4" cy="456.7" r="0.50"/><circle cx="72.0" cy="456.8" r="0.50"/><circle cx="75.1" cy="458.8" r="0.50"/><circle cx="77.6" cy="454.0" r="0.50"/><circle cx="75.3" cy="458.2" r="0.50"/><circle cx="72.7" cy="454.2" r="0.50"/><circle cx="71.6" cy="451.8" r="0.50"/><circle cx="75.1" cy="456.4" r="0.50"/><circle cx="75.3" cy="458.6" r="0.50"/><circle cx="76.0" cy="451.2" r="0.50"/><circle cx="75.8" cy="455.4" r="0.50"/><circle cx="76.0" cy="447.6" r="0.50"/><circle cx="76.7" cy="448.8" r="0.50"/><circle cx="75.8" cy="454.6" r="0.50"/><circle cx="76.6" cy="451.0" r="0.50"/><circle cx="75.2" cy="459.7" r="0.50"/><circle cx="76.3" cy="456.6" r="0.50"/><circle cx="73.9" cy="450.5" r="0.50"/><circle cx="74.5" cy="453.2" r="0.50"/><circle cx="78.6" cy="452.3" r="0.50"/><circle cx="77.1" cy="456.0" r="0.50"/><circle cx="76.5" cy="460.2" r="0.50"/><circle cx="71.9" cy="451.3" r="0.50"/><circle cx="77.1" cy="449.2" r="0.50"/><circle cx="78.1" cy="451.9" r="0.50"/><circle cx="74.7" cy="450.3" r="0.50"/><circle cx="70.0" cy="460.2" r="0.50"/><circle cx="71.6" cy="450.7" r="0.50"/><circle cx="74.9" cy="454.9" r="0.50"/><circle cx="71.1" cy="458.7" r="0.50"/><circle cx="76.5" cy="453.8" r="0.50"/><circle cx="74.8" cy="448.4" r="0.50"/><circle cx="71.9" cy="460.1" r="0.50"/><circle cx="75.3" cy="458.2" r="0.50"/><circle cx="73.9" cy="458.1" r="0.50"/><circle cx="75.0" cy="454.9" r="0.50"/><circle cx="80.7" cy="460.0" r="0.50"/><circle cx="73.8" cy="454.1" r="0.50"/><circle cx="71.1" cy="451.9" r="0.50"/><circle cx="79.3" cy="458.3" r="0.50"/><circle cx="76.9" cy="455.4" r="0.50"/><circle cx="71.8" cy="448.2" r="0.50"/><circle cx="74.5" cy="453.6" r="0.50"/><circle cx="78.7" cy="453.4" r="0.50"/><circle cx="77.0" cy="454.5" r="0.50"/><circle cx="68.4" cy="453.4" r="0.50"/><circle cx="76.2" cy="454.1" r="0.50"/><circle cx="73.6" cy="452.9" r="0.50"/><circle cx="74.4" cy="453.9" r="0.50"/><circle cx="73.0" cy="458.4" r="0.50"/><circle cx="71.9" cy="447.0" r="0.50"/><circle cx="73.6" cy="459.6" r="0.50"/><circle cx="77.6" cy="449.9" r="0.50"/><circle cx="69.2" cy="459.5" r="0.50"/><circle cx="74.9" cy="457.8" r="0.50"/><circle cx="71.1" cy="455.4" r="0.50"/><circle cx="75.5" cy="446.9" r="0.50"/><circle cx="70.1" cy="455.0" r="0.50"/><circle cx="73.3" cy="455.4" r="0.50"/><circle cx="75.5" cy="454.8" r="0.50"/><circle cx="70.9" cy="455.8" r="0.50"/><circle cx="74.7" cy="457.2" r="0.50"/><circle cx="75.2" cy="454.6" r="0.50"/><circle cx="73.8" cy="459.0" r="0.50"/><circle cx="79.0" cy="459.7" r="0.50"/><circle cx="72.7" cy="460.0" r="0.50"/><circle cx="74.0" cy="453.1" r="0.50"/><circle cx="74.6" cy="454.6" r="0.50"/><circle cx="76.2" cy="454.4" r="0.50"/><circle cx="76.6" cy="447.9" r="0.50"/><circle cx="74.7" cy="453.8" r="0.50"/><circle cx="78.1" cy="456.9" r="0.50"/><circle cx="77.2" cy="459.6" r="0.50"/><circle cx="77.2" cy="453.6" r="0.50"/><circle cx="74.0" cy="456.8" r="0.50"/><circle cx="74.7" cy="448.9" r="0.50"/><circle cx="72.0" cy="449.9" r="0.50"/><circle cx="74.8" cy="455.0" r="0.50"/><circle cx="73.4" cy="458.1" r="0.50"/><circle cx="80.0" cy="455.4" r="0.50"/><circle cx="73.0" cy="455.8" r="0.50"/><circle cx="76.4" cy="446.4" r="0.50"/><circle cx="77.5" cy="446.5" r="0.50"/><circle cx="73.7" cy="455.3" r="0.50"/><circle cx="74.2" cy="458.1" r="0.50"/><circle cx="71.8" cy="451.3" r="0.50"/><circle cx="78.3" cy="455.4" r="0.50"/><circle cx="73.0" cy="460.0" r="0.50"/><circle cx="76.9" cy="460.2" r="0.50"/><circle cx="73.4" cy="455.5" r="0.50"/><circle cx="71.7" cy="458.1" r="0.50"/><circle cx="75.4" cy="455.2" r="0.50"/><circle cx="74.2" cy="459.9" r="0.50"/><circle cx="72.8" cy="452.6" r="0.50"/><circle cx="75.4" cy="453.6" r="0.50"/><circle cx="72.7" cy="456.3" r="0.50"/><circle cx="77.0" cy="457.9" r="0.50"/><circle cx="78.2" cy="453.1" r="0.50"/><circle cx="76.4" cy="458.2" r="0.50"/><circle cx="78.9" cy="458.8" r="0.50"/><circle cx="73.4" cy="458.6" r="0.50"/><circle cx="78.8" cy="457.0" r="0.50"/><circle cx="76.1" cy="453.4" r="0.50"/><circle cx="74.3" cy="459.6" r="0.50"/><circle cx="68.8" cy="459.6" r="0.50"/><circle cx="80.3" cy="456.1" r="0.50"/><circle cx="74.1" cy="457.8" r="0.50"/><circle cx="74.5" cy="449.9" r="0.50"/><circle cx="75.6" cy="442.0" r="0.50"/><circle cx="76.2" cy="458.5" r="0.50"/><circle cx="74.0" cy="458.7" r="0.50"/><circle cx="73.0" cy="453.2" r="0.50"/><circle cx="76.4" cy="451.2" r="0.50"/><circle cx="77.6" cy="457.6" r="0.50"/><circle cx="75.5" cy="453.8" r="0.50"/><circle cx="71.1" cy="456.1" r="0.50"/><circle cx="73.0" cy="459.4" r="0.50"/><circle cx="79.0" cy="452.4" r="0.50"/><circle cx="70.9" cy="459.3" r="0.50"/><circle cx="76.9" cy="450.7" r="0.50"/><circle cx="74.7" cy="458.6" r="0.50"/><circle cx="73.0" cy="459.2" r="0.50"/><circle cx="78.3" cy="457.4" r="0.50"/><circle cx="76.0" cy="459.7" r="0.50"/><circle cx="77.0" cy="457.9" r="0.50"/><circle cx="75.2" cy="449.2" r="0.50"/><circle cx="75.1" cy="449.3" r="0.50"/><circle cx="74.0" cy="454.9" r="0.50"/><circle cx="70.6" cy="456.4" r="0.50"/><circle cx="71.5" cy="453.1" r="0.50"/><circle cx="72.7" cy="452.9" r="0.50"/><circle cx="73.7" cy="458.7" r="0.50"/><circle cx="79.9" cy="453.6" r="0.50"/><circle cx="75.0" cy="457.2" r="0.50"/><circle cx="70.9" cy="457.8" r="0.50"/><circle cx="72.0" cy="457.1" r="0.50"/><circle cx="74.0" cy="457.3" r="0.50"/><circle cx="76.1" cy="453.4" r="0.50"/><circle cx="69.8" cy="458.0" r="0.50"/><circle cx="78.6" cy="448.4" r="0.50"/><circle cx="73.5" cy="454.9" r="0.50"/><circle cx="75.9" cy="458.1" r="0.50"/><circle cx="75.5" cy="455.1" r="0.50"/><circle cx="74.0" cy="453.9" r="0.50"/><circle cx="75.8" cy="450.3" r="0.50"/><circle cx="76.4" cy="445.0" r="0.50"/><circle cx="72.5" cy="451.6" r="0.50"/><circle cx="74.7" cy="456.3" r="0.50"/><circle cx="73.9" cy="445.3" r="0.50"/><circle cx="77.5" cy="456.7" r="0.50"/><circle cx="74.8" cy="456.6" r="0.50"/><circle cx="75.5" cy="457.7" r="0.50"/><circle cx="75.2" cy="454.5" r="0.50"/><circle cx="72.9" cy="452.0" r="0.50"/><circle cx="74.6" cy="459.0" r="0.50"/><circle cx="74.3" cy="459.6" r="0.50"/><circle cx="75.0" cy="448.5" r="0.50"/><circle cx="77.3" cy="457.0" r="0.50"/><circle cx="76.8" cy="456.2" r="0.50"/><circle cx="74.9" cy="454.6" r="0.50"/><circle cx="72.8" cy="456.3" r="0.50"/><circle cx="76.5" cy="459.8" r="0.50"/><circle cx="74.4" cy="456.4" r="0.50"/><circle cx="72.9" cy="458.9" r="0.50"/><circle cx="73.7" cy="458.3" r="0.50"/><circle cx="76.2" cy="455.3" r="0.50"/><circle cx="72.1" cy="456.5" r="0.50"/><circle cx="75.2" cy="456.6" r="0.50"/><circle cx="73.5" cy="458.6" r="0.50"/><circle cx="76.1" cy="455.8" r="0.50"/><circle cx="73.4" cy="456.6" r="0.50"/><circle cx="76.8" cy="452.4" r="0.50"/><circle cx="76.8" cy="452.9" r="0.50"/><circle cx="75.9" cy="453.3" r="0.50"/><circle cx="77.3" cy="446.8" r="0.50"/><circle cx="77.6" cy="456.8" r="0.50"/><circle cx="73.9" cy="446.8" r="0.50"/><circle cx="79.3" cy="457.5" r="0.50"/><circle cx="74.5" cy="459.3" r="0.50"/><circle cx="71.8" cy="457.0" r="0.50"/><circle cx="77.2" cy="453.2" r="0.50"/><circle cx="74.7" cy="448.8" r="0.50"/><circle cx="70.5" cy="448.8" r="0.50"/><circle cx="77.5" cy="455.3" r="0.50"/><circle cx="74.9" cy="459.8" r="0.50"/><circle cx="77.8" cy="460.0" r="0.50"/><circle cx="73.5" cy="455.8" r="0.50"/><circle cx="69.1" cy="452.0" r="0.50"/><circle cx="76.5" cy="458.4" r="0.50"/><circle cx="74.3" cy="453.4" r="0.50"/><circle cx="80.6" cy="448.4" r="0.50"/><circle cx="74.9" cy="455.7" r="0.50"/><circle cx="75.8" cy="453.0" r="0.50"/><circle cx="68.7" cy="458.3" r="0.50"/></g>
<g filter="url(#fb)">
<rect x="39.80" y="460.00" width="39.50" height="4.60" fill="#1532ec" />
<rect x="57.70" y="460.00" width="20.60" height="11.00" fill="#1532ec" />
<ellipse cx="67.3" cy="466.8" rx="9.5" ry="2.4" fill="#25c3ea"/>
<ellipse cx="73.0" cy="466.4" rx="3.8" ry="3.0" fill="url(#hot1)"/>
<ellipse cx="50.8" cy="464.8" rx="3.8" ry="2.0" fill="#5fd0e0" opacity="0.8"/>
</g>
<ellipse cx="50.8" cy="464.8" rx="1.3" ry="1.0" fill="#d8e040"/>
</g>
<rect x="39.80" y="414.20" width="57.30" height="56.80" fill="none" stroke="#111" stroke-width="0.9"/>
<line x1="57.70" y1="414.20" x2="57.70" y2="471.00" stroke="#111" stroke-width="1.0" />
<line x1="39.80" y1="460.20" x2="97.90" y2="460.20" stroke="#222" stroke-width="1.25" />
<g font-size="6.9" fill="#111">
<text x="40.60" y="421.40">0.035</text>
<text x="92.50" y="421.40" text-anchor="end">0.29</text>
<text x="40.60" y="470.00">82.1</text>
<text x="91.70" y="470.00" text-anchor="end">57.6</text>
</g>
<g font-size="6.8" fill="#111" text-anchor="end">
<text x="39.20" y="420.50" transform="translate(39.20,0) scale(0.85,1) translate(-39.20,0)">10<tspan font-size="3.5" dy="-2">5</tspan></text>
<text x="39.20" y="433.50" transform="translate(39.20,0) scale(0.85,1) translate(-39.20,0)">10<tspan font-size="3.5" dy="-2">4</tspan></text>
<text x="39.20" y="447.10" transform="translate(39.20,0) scale(0.85,1) translate(-39.20,0)">10<tspan font-size="3.5" dy="-2">3</tspan></text>
<text x="39.20" y="461.00" transform="translate(39.20,0) scale(0.85,1) translate(-39.20,0)">10<tspan font-size="3.5" dy="-2">2</tspan></text>
<text x="38.00" y="467.4" font-size="7.0">0</text>
</g>
<g font-size="6.8" fill="#111" text-anchor="middle">
<text x="51.90" y="479.6" transform="translate(51.90,0) scale(0.85,1) translate(-51.90,0)">0</text>
<text x="62.70" y="479.6" transform="translate(62.70,0) scale(0.85,1) translate(-62.70,0)">10<tspan font-size="3.5" dy="-2">2</tspan></text>
<text x="73.20" y="479.6" transform="translate(73.20,0) scale(0.85,1) translate(-73.20,0)">10<tspan font-size="3.5" dy="-2">3</tspan></text>
<text x="83.70" y="479.6" transform="translate(83.70,0) scale(0.85,1) translate(-83.70,0)">10<tspan font-size="3.5" dy="-2">4</tspan></text>
<text x="93.30" y="479.6" transform="translate(93.30,0) scale(0.85,1) translate(-93.30,0)">10<tspan font-size="3.5" dy="-2">5</tspan></text>
</g>
<rect x="119.20" y="414.20" width="57.30" height="56.80" fill="#fff" />
<clipPath id="cf119"><rect x="119.2" y="414.2" width="57.30" height="56.80"/></clipPath>
<g clip-path="url(#cf119)">
<g fill="#3a5cf0" fill-opacity="0.35"><circle cx="148.6" cy="458.0" r="0.40"/><circle cx="146.8" cy="450.5" r="0.40"/><circle cx="152.7" cy="458.8" r="0.40"/><circle cx="143.0" cy="458.9" r="0.40"/><circle cx="131.3" cy="451.2" r="0.40"/><circle cx="149.8" cy="459.8" r="0.40"/><circle cx="146.7" cy="455.1" r="0.40"/><circle cx="139.9" cy="456.1" r="0.40"/><circle cx="145.0" cy="451.7" r="0.40"/><circle cx="144.2" cy="448.2" r="0.40"/><circle cx="143.5" cy="456.6" r="0.40"/><circle cx="158.7" cy="458.8" r="0.40"/><circle cx="138.3" cy="459.1" r="0.40"/><circle cx="142.7" cy="458.3" r="0.40"/><circle cx="146.6" cy="438.9" r="0.40"/><circle cx="139.7" cy="453.5" r="0.40"/><circle cx="152.7" cy="456.2" r="0.40"/><circle cx="146.1" cy="457.6" r="0.40"/><circle cx="146.6" cy="456.8" r="0.40"/><circle cx="146.7" cy="456.0" r="0.40"/><circle cx="142.0" cy="452.3" r="0.40"/><circle cx="140.9" cy="455.0" r="0.40"/><circle cx="140.9" cy="459.5" r="0.40"/><circle cx="149.5" cy="458.8" r="0.40"/><circle cx="141.2" cy="454.3" r="0.40"/><circle cx="144.7" cy="460.0" r="0.40"/><circle cx="157.4" cy="459.4" r="0.40"/><circle cx="149.9" cy="459.1" r="0.40"/><circle cx="154.2" cy="453.9" r="0.40"/><circle cx="135.0" cy="454.1" r="0.40"/><circle cx="152.6" cy="451.4" r="0.40"/><circle cx="147.6" cy="454.5" r="0.40"/><circle cx="150.4" cy="457.6" r="0.40"/><circle cx="137.0" cy="456.4" r="0.40"/><circle cx="135.1" cy="454.6" r="0.40"/><circle cx="152.7" cy="457.3" r="0.40"/><circle cx="138.2" cy="448.7" r="0.40"/><circle cx="145.0" cy="457.9" r="0.40"/><circle cx="148.5" cy="456.1" r="0.40"/><circle cx="153.5" cy="455.5" r="0.40"/><circle cx="154.5" cy="458.1" r="0.40"/><circle cx="147.2" cy="455.3" r="0.40"/><circle cx="148.8" cy="450.5" r="0.40"/><circle cx="146.1" cy="455.8" r="0.40"/><circle cx="150.4" cy="453.9" r="0.40"/><circle cx="150.8" cy="455.4" r="0.40"/><circle cx="139.9" cy="458.3" r="0.40"/><circle cx="138.2" cy="454.1" r="0.40"/><circle cx="145.3" cy="455.0" r="0.40"/><circle cx="154.3" cy="457.1" r="0.40"/><circle cx="142.8" cy="458.3" r="0.40"/><circle cx="151.8" cy="451.3" r="0.40"/><circle cx="154.1" cy="458.7" r="0.40"/><circle cx="151.8" cy="458.2" r="0.40"/><circle cx="152.5" cy="454.5" r="0.40"/><circle cx="146.8" cy="456.9" r="0.40"/><circle cx="145.3" cy="460.1" r="0.40"/><circle cx="145.0" cy="455.6" r="0.40"/><circle cx="143.9" cy="452.9" r="0.40"/><circle cx="147.7" cy="453.2" r="0.40"/><circle cx="134.6" cy="458.6" r="0.40"/><circle cx="142.0" cy="459.8" r="0.40"/><circle cx="151.5" cy="450.6" r="0.40"/><circle cx="150.7" cy="453.6" r="0.40"/><circle cx="147.6" cy="459.7" r="0.40"/><circle cx="149.0" cy="444.8" r="0.40"/><circle cx="133.8" cy="455.1" r="0.40"/><circle cx="149.5" cy="451.9" r="0.40"/><circle cx="149.7" cy="455.9" r="0.40"/><circle cx="144.0" cy="460.0" r="0.40"/><circle cx="140.4" cy="455.1" r="0.40"/><circle cx="148.4" cy="451.0" r="0.40"/><circle cx="145.1" cy="451.7" r="0.40"/><circle cx="151.1" cy="458.1" r="0.40"/><circle cx="151.2" cy="456.6" r="0.40"/><circle cx="139.0" cy="457.3" r="0.40"/><circle cx="133.9" cy="452.9" r="0.40"/><circle cx="137.2" cy="448.5" r="0.40"/><circle cx="149.3" cy="454.8" r="0.40"/><circle cx="152.5" cy="449.2" r="0.40"/><circle cx="154.2" cy="457.7" r="0.40"/><circle cx="151.4" cy="452.3" r="0.40"/><circle cx="139.2" cy="459.9" r="0.40"/><circle cx="140.1" cy="454.9" r="0.40"/><circle cx="142.9" cy="445.8" r="0.40"/><circle cx="150.8" cy="456.3" r="0.40"/><circle cx="136.9" cy="453.4" r="0.40"/><circle cx="150.3" cy="453.6" r="0.40"/><circle cx="145.2" cy="459.7" r="0.40"/><circle cx="157.6" cy="456.5" r="0.40"/><circle cx="135.9" cy="456.4" r="0.40"/><circle cx="146.7" cy="452.8" r="0.40"/><circle cx="135.8" cy="454.1" r="0.40"/><circle cx="151.5" cy="452.0" r="0.40"/><circle cx="134.6" cy="459.3" r="0.40"/><circle cx="155.2" cy="454.5" r="0.40"/><circle cx="142.9" cy="441.6" r="0.40"/><circle cx="149.0" cy="455.5" r="0.40"/><circle cx="147.7" cy="459.0" r="0.40"/><circle cx="147.5" cy="459.5" r="0.40"/><circle cx="140.6" cy="447.9" r="0.40"/><circle cx="145.5" cy="458.5" r="0.40"/><circle cx="156.9" cy="445.7" r="0.40"/><circle cx="152.8" cy="445.1" r="0.40"/><circle cx="135.6" cy="459.4" r="0.40"/><circle cx="140.7" cy="460.0" r="0.40"/><circle cx="144.9" cy="456.3" r="0.40"/><circle cx="135.3" cy="447.6" r="0.40"/><circle cx="141.8" cy="456.2" r="0.40"/><circle cx="143.8" cy="453.0" r="0.40"/><circle cx="142.5" cy="444.6" r="0.40"/><circle cx="147.8" cy="459.9" r="0.40"/><circle cx="149.1" cy="454.2" r="0.40"/><circle cx="141.1" cy="458.2" r="0.40"/><circle cx="146.0" cy="453.8" r="0.40"/><circle cx="147.8" cy="452.6" r="0.40"/><circle cx="145.4" cy="459.4" r="0.40"/><circle cx="140.9" cy="456.3" r="0.40"/><circle cx="144.0" cy="447.7" r="0.40"/><circle cx="137.8" cy="459.6" r="0.40"/><circle cx="147.2" cy="459.3" r="0.40"/><circle cx="155.3" cy="457.3" r="0.40"/><circle cx="145.1" cy="448.5" r="0.40"/><circle cx="145.8" cy="458.5" r="0.40"/><circle cx="153.5" cy="451.8" r="0.40"/><circle cx="136.2" cy="444.3" r="0.40"/><circle cx="146.1" cy="453.2" r="0.40"/><circle cx="135.3" cy="449.3" r="0.40"/><circle cx="138.1" cy="448.8" r="0.40"/><circle cx="150.5" cy="451.0" r="0.40"/><circle cx="138.7" cy="460.0" r="0.40"/><circle cx="151.6" cy="443.1" r="0.40"/><circle cx="142.9" cy="450.5" r="0.40"/><circle cx="131.2" cy="447.8" r="0.40"/><circle cx="140.6" cy="445.5" r="0.40"/><circle cx="150.1" cy="452.5" r="0.40"/><circle cx="150.8" cy="440.5" r="0.40"/><circle cx="140.6" cy="457.8" r="0.40"/><circle cx="141.6" cy="455.0" r="0.40"/><circle cx="152.4" cy="445.5" r="0.40"/><circle cx="133.4" cy="454.6" r="0.40"/><circle cx="137.6" cy="454.3" r="0.40"/><circle cx="151.1" cy="458.5" r="0.40"/><circle cx="148.0" cy="453.8" r="0.40"/><circle cx="144.3" cy="452.3" r="0.40"/><circle cx="148.1" cy="453.0" r="0.40"/><circle cx="139.2" cy="455.8" r="0.40"/><circle cx="147.2" cy="453.2" r="0.40"/><circle cx="148.7" cy="459.7" r="0.40"/><circle cx="152.6" cy="459.3" r="0.40"/><circle cx="143.2" cy="457.3" r="0.40"/><circle cx="151.2" cy="459.5" r="0.40"/><circle cx="154.5" cy="456.8" r="0.40"/><circle cx="145.9" cy="459.8" r="0.40"/><circle cx="137.9" cy="449.4" r="0.40"/><circle cx="144.0" cy="458.9" r="0.40"/><circle cx="146.7" cy="458.4" r="0.40"/><circle cx="141.6" cy="456.0" r="0.40"/><circle cx="151.0" cy="447.9" r="0.40"/><circle cx="131.9" cy="456.8" r="0.40"/><circle cx="138.9" cy="455.4" r="0.40"/><circle cx="160.3" cy="453.9" r="0.40"/><circle cx="147.8" cy="443.7" r="0.40"/><circle cx="145.3" cy="445.5" r="0.40"/><circle cx="142.9" cy="459.0" r="0.40"/><circle cx="150.5" cy="450.8" r="0.40"/><circle cx="143.2" cy="444.6" r="0.40"/><circle cx="145.9" cy="451.3" r="0.40"/><circle cx="153.1" cy="458.4" r="0.40"/><circle cx="150.4" cy="456.2" r="0.40"/><circle cx="145.8" cy="451.1" r="0.40"/><circle cx="147.2" cy="449.8" r="0.40"/><circle cx="141.9" cy="455.4" r="0.40"/><circle cx="149.5" cy="449.6" r="0.40"/><circle cx="145.7" cy="454.6" r="0.40"/><circle cx="143.3" cy="458.2" r="0.40"/><circle cx="143.2" cy="445.7" r="0.40"/><circle cx="142.6" cy="452.4" r="0.40"/><circle cx="145.3" cy="456.7" r="0.40"/><circle cx="145.1" cy="459.1" r="0.40"/><circle cx="144.0" cy="459.4" r="0.40"/><circle cx="142.0" cy="449.6" r="0.40"/><circle cx="143.5" cy="451.6" r="0.40"/><circle cx="149.3" cy="455.3" r="0.40"/><circle cx="137.2" cy="459.5" r="0.40"/><circle cx="144.8" cy="446.1" r="0.40"/><circle cx="152.3" cy="458.3" r="0.40"/><circle cx="142.9" cy="446.7" r="0.40"/><circle cx="155.1" cy="451.4" r="0.40"/><circle cx="149.1" cy="455.8" r="0.40"/><circle cx="141.7" cy="452.3" r="0.40"/><circle cx="138.8" cy="457.5" r="0.40"/><circle cx="155.1" cy="458.1" r="0.40"/><circle cx="134.0" cy="459.4" r="0.40"/><circle cx="132.6" cy="458.7" r="0.40"/><circle cx="141.4" cy="459.3" r="0.40"/><circle cx="145.7" cy="441.5" r="0.40"/><circle cx="143.0" cy="448.4" r="0.40"/><circle cx="150.8" cy="458.9" r="0.40"/><circle cx="141.4" cy="449.2" r="0.40"/></g>
<rect x="120.20" y="462.00" width="16.00" height="9.00" fill="#b8c8f8" opacity="0.5"/>
<clipPath id="rg119"><rect x="136.2" y="455" width="30" height="20"/></clipPath>
<g clip-path="url(#rg119)"><g filter="url(#fb)">
<ellipse cx="145.2" cy="467.2" rx="9.6" ry="8.2" fill="#1d3ef0"/>
<ellipse cx="145.4" cy="467.6" rx="7.2" ry="5.8" fill="#1fa8e0"/>
<ellipse cx="145.6" cy="467.8" rx="4.6" ry="3.8" fill="#2ad0a0"/>
<ellipse cx="145.8" cy="468.0" rx="2.8" ry="2.4" fill="#48d838"/>
</g></g>
</g>
<rect x="119.20" y="414.20" width="57.30" height="56.80" fill="none" stroke="#111" stroke-width="0.9"/>
<line x1="136.20" y1="414.20" x2="136.20" y2="471.00" stroke="#111" stroke-width="1.0" />
<line x1="119.20" y1="460.20" x2="177.30" y2="460.20" stroke="#222" stroke-width="1.25" />
<g font-size="6.9" fill="#111">
<text x="120.00" y="421.40">0.078</text>
<text x="174.90" y="421.40" text-anchor="end">0.78</text>
<text x="120.00" y="470.00">4.16</text>
<text x="174.10" y="470.00" text-anchor="end">95.0</text>
</g>
<g font-size="6.8" fill="#111" text-anchor="end">
<text x="118.60" y="420.50" transform="translate(118.60,0) scale(0.85,1) translate(-118.60,0)">10<tspan font-size="3.5" dy="-2">5</tspan></text>
<text x="118.60" y="433.50" transform="translate(118.60,0) scale(0.85,1) translate(-118.60,0)">10<tspan font-size="3.5" dy="-2">4</tspan></text>
<text x="118.60" y="447.10" transform="translate(118.60,0) scale(0.85,1) translate(-118.60,0)">10<tspan font-size="3.5" dy="-2">3</tspan></text>
<text x="118.60" y="461.00" transform="translate(118.60,0) scale(0.85,1) translate(-118.60,0)">10<tspan font-size="3.5" dy="-2">2</tspan></text>
<text x="117.40" y="467.4" font-size="7.0">0</text>
</g>
<g font-size="6.8" fill="#111" text-anchor="middle">
<text x="131.30" y="479.6" transform="translate(131.30,0) scale(0.85,1) translate(-131.30,0)">0</text>
<text x="142.10" y="479.6" transform="translate(142.10,0) scale(0.85,1) translate(-142.10,0)">10<tspan font-size="3.5" dy="-2">2</tspan></text>
<text x="152.60" y="479.6" transform="translate(152.60,0) scale(0.85,1) translate(-152.60,0)">10<tspan font-size="3.5" dy="-2">3</tspan></text>
<text x="163.10" y="479.6" transform="translate(163.10,0) scale(0.85,1) translate(-163.10,0)">10<tspan font-size="3.5" dy="-2">4</tspan></text>
<text x="172.70" y="479.6" transform="translate(172.70,0) scale(0.85,1) translate(-172.70,0)">10<tspan font-size="3.5" dy="-2">5</tspan></text>
</g>
<rect x="199.20" y="414.20" width="57.30" height="56.80" fill="#fff" />
<clipPath id="cf199"><rect x="199.2" y="414.2" width="57.30" height="56.80"/></clipPath>
<g clip-path="url(#cf199)">
<g fill="#3a5cf0" fill-opacity="0.4"><circle cx="210.2" cy="456.5" r="0.40"/><circle cx="212.8" cy="463.8" r="0.40"/><circle cx="229.0" cy="449.3" r="0.40"/><circle cx="211.3" cy="454.2" r="0.40"/><circle cx="201.4" cy="440.6" r="0.40"/><circle cx="207.4" cy="456.6" r="0.40"/><circle cx="218.4" cy="433.2" r="0.40"/><circle cx="208.7" cy="448.6" r="0.40"/><circle cx="203.0" cy="448.6" r="0.40"/><circle cx="219.8" cy="441.2" r="0.40"/><circle cx="204.7" cy="459.5" r="0.40"/><circle cx="200.6" cy="455.0" r="0.40"/><circle cx="210.9" cy="452.6" r="0.40"/><circle cx="218.1" cy="440.5" r="0.40"/><circle cx="222.5" cy="422.4" r="0.40"/><circle cx="208.1" cy="438.4" r="0.40"/><circle cx="215.4" cy="435.5" r="0.40"/><circle cx="227.0" cy="430.7" r="0.40"/><circle cx="204.6" cy="453.9" r="0.40"/><circle cx="224.3" cy="455.2" r="0.40"/><circle cx="195.8" cy="438.5" r="0.40"/><circle cx="215.3" cy="446.6" r="0.40"/><circle cx="215.7" cy="442.0" r="0.40"/><circle cx="211.3" cy="412.5" r="0.40"/><circle cx="216.2" cy="435.2" r="0.40"/><circle cx="231.4" cy="455.9" r="0.40"/><circle cx="218.6" cy="450.9" r="0.40"/><circle cx="223.0" cy="437.6" r="0.40"/><circle cx="213.7" cy="440.7" r="0.40"/><circle cx="206.3" cy="447.8" r="0.40"/><circle cx="205.5" cy="449.3" r="0.40"/><circle cx="221.3" cy="439.7" r="0.40"/><circle cx="193.6" cy="447.4" r="0.40"/><circle cx="221.3" cy="446.4" r="0.40"/><circle cx="213.9" cy="450.5" r="0.40"/><circle cx="228.2" cy="442.8" r="0.40"/><circle cx="206.8" cy="443.6" r="0.40"/><circle cx="210.2" cy="469.7" r="0.40"/><circle cx="215.4" cy="450.2" r="0.40"/><circle cx="218.7" cy="451.9" r="0.40"/><circle cx="211.4" cy="455.7" r="0.40"/><circle cx="216.7" cy="457.2" r="0.40"/><circle cx="205.1" cy="452.6" r="0.40"/><circle cx="228.9" cy="451.9" r="0.40"/><circle cx="203.4" cy="439.0" r="0.40"/><circle cx="223.5" cy="450.4" r="0.40"/><circle cx="217.9" cy="440.6" r="0.40"/><circle cx="219.0" cy="466.3" r="0.40"/><circle cx="226.0" cy="479.1" r="0.40"/><circle cx="221.9" cy="443.2" r="0.40"/><circle cx="199.8" cy="444.4" r="0.40"/><circle cx="226.9" cy="464.4" r="0.40"/><circle cx="206.2" cy="439.7" r="0.40"/><circle cx="221.9" cy="438.3" r="0.40"/><circle cx="205.2" cy="425.1" r="0.40"/><circle cx="227.7" cy="441.0" r="0.40"/><circle cx="219.9" cy="441.8" r="0.40"/><circle cx="219.6" cy="445.7" r="0.40"/><circle cx="245.0" cy="449.6" r="0.40"/><circle cx="205.5" cy="453.2" r="0.40"/><circle cx="221.6" cy="453.4" r="0.40"/><circle cx="223.4" cy="448.1" r="0.40"/><circle cx="217.9" cy="449.1" r="0.40"/><circle cx="218.3" cy="452.3" r="0.40"/><circle cx="206.7" cy="445.8" r="0.40"/><circle cx="204.9" cy="445.7" r="0.40"/><circle cx="208.5" cy="456.6" r="0.40"/><circle cx="203.7" cy="465.6" r="0.40"/><circle cx="208.6" cy="455.1" r="0.40"/><circle cx="199.8" cy="446.2" r="0.40"/><circle cx="215.1" cy="465.1" r="0.40"/><circle cx="203.8" cy="451.7" r="0.40"/><circle cx="211.6" cy="442.7" r="0.40"/><circle cx="225.7" cy="430.6" r="0.40"/><circle cx="217.7" cy="460.3" r="0.40"/><circle cx="221.1" cy="466.9" r="0.40"/><circle cx="216.7" cy="437.0" r="0.40"/><circle cx="209.5" cy="458.3" r="0.40"/><circle cx="207.0" cy="447.2" r="0.40"/><circle cx="191.0" cy="449.0" r="0.40"/><circle cx="235.9" cy="458.8" r="0.40"/><circle cx="220.0" cy="444.3" r="0.40"/><circle cx="205.3" cy="451.6" r="0.40"/><circle cx="217.8" cy="448.3" r="0.40"/><circle cx="228.3" cy="455.0" r="0.40"/><circle cx="214.3" cy="425.8" r="0.40"/><circle cx="212.2" cy="433.7" r="0.40"/><circle cx="215.4" cy="434.2" r="0.40"/><circle cx="233.5" cy="449.8" r="0.40"/><circle cx="212.5" cy="457.1" r="0.40"/><circle cx="210.8" cy="440.1" r="0.40"/><circle cx="213.3" cy="453.2" r="0.40"/><circle cx="226.3" cy="443.6" r="0.40"/><circle cx="223.3" cy="436.3" r="0.40"/><circle cx="226.6" cy="432.5" r="0.40"/><circle cx="213.5" cy="470.0" r="0.40"/><circle cx="218.3" cy="440.6" r="0.40"/><circle cx="207.8" cy="446.3" r="0.40"/><circle cx="221.9" cy="452.1" r="0.40"/><circle cx="213.5" cy="456.4" r="0.40"/><circle cx="214.9" cy="453.4" r="0.40"/><circle cx="199.2" cy="446.5" r="0.40"/><circle cx="207.5" cy="451.7" r="0.40"/><circle cx="221.0" cy="450.7" r="0.40"/><circle cx="214.2" cy="456.6" r="0.40"/><circle cx="215.6" cy="449.0" r="0.40"/><circle cx="207.7" cy="459.3" r="0.40"/><circle cx="210.7" cy="442.5" r="0.40"/><circle cx="217.0" cy="443.2" r="0.40"/><circle cx="221.0" cy="432.2" r="0.40"/><circle cx="200.7" cy="435.2" r="0.40"/><circle cx="218.4" cy="448.8" r="0.40"/><circle cx="212.7" cy="443.0" r="0.40"/><circle cx="215.7" cy="453.2" r="0.40"/><circle cx="219.9" cy="432.2" r="0.40"/><circle cx="227.6" cy="466.3" r="0.40"/><circle cx="229.6" cy="454.0" r="0.40"/><circle cx="210.3" cy="443.3" r="0.40"/><circle cx="194.7" cy="446.8" r="0.40"/><circle cx="205.2" cy="466.4" r="0.40"/><circle cx="203.8" cy="452.3" r="0.40"/><circle cx="209.0" cy="447.2" r="0.40"/><circle cx="223.9" cy="444.6" r="0.40"/><circle cx="217.1" cy="443.3" r="0.40"/><circle cx="229.4" cy="437.5" r="0.40"/><circle cx="220.8" cy="427.0" r="0.40"/><circle cx="203.4" cy="440.0" r="0.40"/><circle cx="215.8" cy="430.3" r="0.40"/><circle cx="214.3" cy="459.6" r="0.40"/><circle cx="206.0" cy="455.9" r="0.40"/><circle cx="185.2" cy="442.0" r="0.40"/><circle cx="229.3" cy="453.4" r="0.40"/><circle cx="234.7" cy="442.9" r="0.40"/><circle cx="225.3" cy="456.3" r="0.40"/><circle cx="211.4" cy="444.7" r="0.40"/><circle cx="217.5" cy="447.8" r="0.40"/><circle cx="211.3" cy="450.8" r="0.40"/><circle cx="224.5" cy="446.1" r="0.40"/><circle cx="215.6" cy="457.7" r="0.40"/><circle cx="226.3" cy="452.5" r="0.40"/><circle cx="211.4" cy="437.1" r="0.40"/><circle cx="204.1" cy="431.0" r="0.40"/><circle cx="214.5" cy="463.4" r="0.40"/><circle cx="212.0" cy="453.6" r="0.40"/><circle cx="223.5" cy="463.8" r="0.40"/><circle cx="230.6" cy="432.0" r="0.40"/><circle cx="210.0" cy="435.7" r="0.40"/><circle cx="220.0" cy="438.1" r="0.40"/><circle cx="211.3" cy="465.7" r="0.40"/><circle cx="206.4" cy="449.2" r="0.40"/><circle cx="210.1" cy="449.5" r="0.40"/><circle cx="231.6" cy="475.1" r="0.40"/><circle cx="213.3" cy="462.3" r="0.40"/><circle cx="207.3" cy="455.1" r="0.40"/><circle cx="201.8" cy="443.2" r="0.40"/><circle cx="216.5" cy="467.6" r="0.40"/><circle cx="209.7" cy="431.3" r="0.40"/><circle cx="226.1" cy="453.1" r="0.40"/><circle cx="218.7" cy="441.0" r="0.40"/><circle cx="212.4" cy="440.2" r="0.40"/><circle cx="211.4" cy="450.3" r="0.40"/><circle cx="225.2" cy="444.0" r="0.40"/><circle cx="226.5" cy="443.9" r="0.40"/><circle cx="219.0" cy="456.6" r="0.40"/><circle cx="212.8" cy="428.0" r="0.40"/><circle cx="202.6" cy="445.1" r="0.40"/><circle cx="225.5" cy="460.6" r="0.40"/><circle cx="208.0" cy="463.8" r="0.40"/><circle cx="208.5" cy="444.9" r="0.40"/><circle cx="223.4" cy="447.5" r="0.40"/><circle cx="213.3" cy="468.0" r="0.40"/><circle cx="204.0" cy="440.6" r="0.40"/><circle cx="214.2" cy="450.8" r="0.40"/><circle cx="231.5" cy="450.4" r="0.40"/><circle cx="203.9" cy="449.1" r="0.40"/><circle cx="227.6" cy="443.8" r="0.40"/><circle cx="203.2" cy="450.3" r="0.40"/><circle cx="214.6" cy="449.1" r="0.40"/><circle cx="209.5" cy="457.5" r="0.40"/><circle cx="223.9" cy="452.7" r="0.40"/><circle cx="212.2" cy="446.6" r="0.40"/><circle cx="197.8" cy="453.7" r="0.40"/><circle cx="215.2" cy="454.0" r="0.40"/><circle cx="213.6" cy="459.4" r="0.40"/><circle cx="205.9" cy="438.4" r="0.40"/><circle cx="201.5" cy="462.0" r="0.40"/><circle cx="212.7" cy="465.9" r="0.40"/><circle cx="214.5" cy="460.7" r="0.40"/><circle cx="222.3" cy="467.1" r="0.40"/><circle cx="193.4" cy="445.5" r="0.40"/><circle cx="215.1" cy="449.1" r="0.40"/><circle cx="226.0" cy="447.7" r="0.40"/><circle cx="202.4" cy="466.3" r="0.40"/><circle cx="216.1" cy="433.5" r="0.40"/><circle cx="204.0" cy="447.5" r="0.40"/><circle cx="214.8" cy="452.4" r="0.40"/><circle cx="209.1" cy="454.6" r="0.40"/><circle cx="220.9" cy="434.9" r="0.40"/><circle cx="206.1" cy="453.5" r="0.40"/><circle cx="217.4" cy="436.6" r="0.40"/><circle cx="217.5" cy="461.9" r="0.40"/><circle cx="206.9" cy="445.5" r="0.40"/><circle cx="220.4" cy="447.6" r="0.40"/><circle cx="212.7" cy="450.2" r="0.40"/><circle cx="218.6" cy="442.5" r="0.40"/><circle cx="201.9" cy="451.4" r="0.40"/><circle cx="215.8" cy="459.2" r="0.40"/><circle cx="214.1" cy="456.2" r="0.40"/><circle cx="208.5" cy="458.0" r="0.40"/><circle cx="208.6" cy="442.5" r="0.40"/><circle cx="221.7" cy="444.4" r="0.40"/><circle cx="226.7" cy="434.1" r="0.40"/><circle cx="209.7" cy="449.7" r="0.40"/><circle cx="226.1" cy="460.2" r="0.40"/><circle cx="217.9" cy="446.3" r="0.40"/><circle cx="221.1" cy="438.7" r="0.40"/><circle cx="213.7" cy="453.5" r="0.40"/><circle cx="212.4" cy="447.5" r="0.40"/><circle cx="216.7" cy="460.0" r="0.40"/><circle cx="196.6" cy="434.3" r="0.40"/><circle cx="226.7" cy="441.3" r="0.40"/><circle cx="194.9" cy="452.7" r="0.40"/><circle cx="202.5" cy="459.6" r="0.40"/><circle cx="208.7" cy="441.7" r="0.40"/><circle cx="216.6" cy="450.6" r="0.40"/><circle cx="221.9" cy="429.0" r="0.40"/><circle cx="217.9" cy="457.8" r="0.40"/><circle cx="214.8" cy="436.6" r="0.40"/><circle cx="212.0" cy="449.7" r="0.40"/><circle cx="202.3" cy="438.1" r="0.40"/><circle cx="220.9" cy="448.4" r="0.40"/><circle cx="220.8" cy="451.2" r="0.40"/><circle cx="222.6" cy="456.9" r="0.40"/><circle cx="215.9" cy="437.8" r="0.40"/><circle cx="220.7" cy="438.2" r="0.40"/><circle cx="215.7" cy="463.2" r="0.40"/><circle cx="224.1" cy="460.1" r="0.40"/><circle cx="212.4" cy="437.3" r="0.40"/><circle cx="210.4" cy="439.7" r="0.40"/><circle cx="221.2" cy="454.1" r="0.40"/><circle cx="225.2" cy="447.2" r="0.40"/><circle cx="224.9" cy="453.4" r="0.40"/><circle cx="211.4" cy="453.6" r="0.40"/><circle cx="210.1" cy="421.1" r="0.40"/><circle cx="205.8" cy="434.9" r="0.40"/><circle cx="215.7" cy="447.5" r="0.40"/><circle cx="208.5" cy="449.4" r="0.40"/><circle cx="219.1" cy="468.1" r="0.40"/><circle cx="211.2" cy="441.7" r="0.40"/><circle cx="210.8" cy="445.7" r="0.40"/><circle cx="215.2" cy="458.7" r="0.40"/><circle cx="207.4" cy="441.3" r="0.40"/><circle cx="211.7" cy="442.4" r="0.40"/><circle cx="210.9" cy="439.8" r="0.40"/><circle cx="232.3" cy="442.8" r="0.40"/><circle cx="212.2" cy="434.8" r="0.40"/><circle cx="223.4" cy="449.5" r="0.40"/><circle cx="212.2" cy="419.1" r="0.40"/><circle cx="199.0" cy="457.7" r="0.40"/><circle cx="223.3" cy="463.1" r="0.40"/><circle cx="220.4" cy="459.5" r="0.40"/><circle cx="212.9" cy="441.7" r="0.40"/><circle cx="213.5" cy="457.3" r="0.40"/><circle cx="223.4" cy="448.9" r="0.40"/><circle cx="206.2" cy="444.3" r="0.40"/><circle cx="197.1" cy="435.1" r="0.40"/><circle cx="218.6" cy="435.9" r="0.40"/><circle cx="213.2" cy="462.5" r="0.40"/><circle cx="202.2" cy="437.8" r="0.40"/><circle cx="196.3" cy="446.8" r="0.40"/><circle cx="209.4" cy="469.0" r="0.40"/><circle cx="229.6" cy="467.2" r="0.40"/><circle cx="215.2" cy="438.9" r="0.40"/><circle cx="213.0" cy="451.4" r="0.40"/><circle cx="223.3" cy="415.4" r="0.40"/><circle cx="212.5" cy="459.8" r="0.40"/><circle cx="219.4" cy="461.5" r="0.40"/><circle cx="231.9" cy="457.7" r="0.40"/><circle cx="210.9" cy="443.0" r="0.40"/><circle cx="221.9" cy="450.7" r="0.40"/><circle cx="212.2" cy="478.4" r="0.40"/><circle cx="215.7" cy="444.7" r="0.40"/><circle cx="214.8" cy="434.4" r="0.40"/><circle cx="216.7" cy="439.5" r="0.40"/><circle cx="206.1" cy="445.3" r="0.40"/><circle cx="212.4" cy="454.0" r="0.40"/><circle cx="211.3" cy="446.3" r="0.40"/><circle cx="209.8" cy="436.7" r="0.40"/><circle cx="206.4" cy="457.5" r="0.40"/><circle cx="208.4" cy="442.4" r="0.40"/><circle cx="205.4" cy="435.5" r="0.40"/><circle cx="209.4" cy="466.7" r="0.40"/><circle cx="220.6" cy="446.8" r="0.40"/><circle cx="207.0" cy="446.5" r="0.40"/><circle cx="208.4" cy="446.0" r="0.40"/><circle cx="219.5" cy="453.0" r="0.40"/><circle cx="210.2" cy="440.7" r="0.40"/><circle cx="215.6" cy="457.1" r="0.40"/><circle cx="211.1" cy="432.1" r="0.40"/><circle cx="215.6" cy="444.8" r="0.40"/><circle cx="202.3" cy="446.0" r="0.40"/><circle cx="210.1" cy="456.7" r="0.40"/><circle cx="219.3" cy="458.3" r="0.40"/><circle cx="210.8" cy="445.8" r="0.40"/><circle cx="209.6" cy="444.2" r="0.40"/><circle cx="212.2" cy="436.9" r="0.40"/><circle cx="209.5" cy="461.4" r="0.40"/><circle cx="207.5" cy="454.5" r="0.40"/><circle cx="217.2" cy="457.4" r="0.40"/><circle cx="200.2" cy="445.9" r="0.40"/><circle cx="223.6" cy="444.7" r="0.40"/><circle cx="222.0" cy="441.9" r="0.40"/><circle cx="206.5" cy="448.7" r="0.40"/><circle cx="206.6" cy="445.6" r="0.40"/><circle cx="227.8" cy="449.2" r="0.40"/><circle cx="227.4" cy="449.9" r="0.40"/><circle cx="220.5" cy="438.9" r="0.40"/><circle cx="198.8" cy="437.6" r="0.40"/><circle cx="222.7" cy="455.0" r="0.40"/><circle cx="208.4" cy="448.9" r="0.40"/><circle cx="218.5" cy="451.9" r="0.40"/><circle cx="224.8" cy="439.6" r="0.40"/><circle cx="209.0" cy="465.2" r="0.40"/><circle cx="216.6" cy="437.4" r="0.40"/><circle cx="209.4" cy="463.4" r="0.40"/><circle cx="225.7" cy="460.9" r="0.40"/><circle cx="214.4" cy="449.1" r="0.40"/><circle cx="224.9" cy="450.3" r="0.40"/><circle cx="211.7" cy="425.6" r="0.40"/><circle cx="221.2" cy="454.0" r="0.40"/><circle cx="215.3" cy="459.9" r="0.40"/><circle cx="206.1" cy="456.1" r="0.40"/><circle cx="220.1" cy="460.0" r="0.40"/><circle cx="222.7" cy="444.5" r="0.40"/><circle cx="229.0" cy="449.5" r="0.40"/><circle cx="213.1" cy="457.7" r="0.40"/><circle cx="209.2" cy="444.3" r="0.40"/><circle cx="212.8" cy="454.6" r="0.40"/><circle cx="207.1" cy="451.9" r="0.40"/><circle cx="211.3" cy="458.6" r="0.40"/><circle cx="226.6" cy="447.6" r="0.40"/><circle cx="220.3" cy="431.8" r="0.40"/><circle cx="213.3" cy="449.7" r="0.40"/><circle cx="212.9" cy="446.7" r="0.40"/><circle cx="224.9" cy="428.0" r="0.40"/><circle cx="228.8" cy="434.7" r="0.40"/><circle cx="214.6" cy="432.5" r="0.40"/><circle cx="211.8" cy="471.5" r="0.40"/><circle cx="228.8" cy="451.8" r="0.40"/><circle cx="214.1" cy="439.5" r="0.40"/></g>
<g filter="url(#fb)">
<path d="M202.39999999999998,447.2 Q202.39999999999998,437.8 210.2,437.59999999999997 L223.7,437.4 Q228.79999999999998,438.0 228.6,445.7 L228.39999999999998,455.2 Q227.79999999999998,459.7 226.39999999999998,462.2 L226.39999999999998,471.2 L216.39999999999998,471.2 L216.39999999999998,464.2 L202.79999999999998,464.2 Q202.39999999999998,458.2 202.39999999999998,447.2 Z" fill="#2a46f0"/>
<ellipse cx="214.2" cy="449.7" rx="11.2" ry="10.8" fill="#1cb0dc"/>
<ellipse cx="214.7" cy="449.2" rx="9.2" ry="8.6" fill="#52cf48"/>
<ellipse cx="210.2" cy="450.2" rx="5" ry="7" fill="#3cc070"/>
<ellipse cx="219.2" cy="447.7" rx="6" ry="6.8" fill="#d8d828"/>
<ellipse cx="219.2" cy="447.2" rx="4.4" ry="5.0" fill="#f08a18"/>
<ellipse cx="219.2" cy="447.0" rx="2.8" ry="3.2" fill="#e83412"/>
<ellipse cx="210.7" cy="463.0" rx="5" ry="2.8" fill="#30b8d8"/>
<ellipse cx="211.39999999999998" cy="463.4" rx="2" ry="1.6" fill="#4cd040"/>
</g>
</g>
<rect x="199.20" y="414.20" width="57.30" height="56.80" fill="none" stroke="#111" stroke-width="0.9"/>
<line x1="216.20" y1="414.20" x2="216.20" y2="471.00" stroke="#111" stroke-width="1.0" />
<line x1="199.20" y1="460.20" x2="257.30" y2="460.20" stroke="#222" stroke-width="1.25" />
<g font-size="6.9" fill="#111">
<text x="200.00" y="421.40">31.3</text>
<text x="251.90" y="421.40" text-anchor="end">50.2</text>
<text x="200.00" y="470.00">8.63</text>
<text x="251.10" y="470.00" text-anchor="end">9.91</text>
</g>
<g font-size="6.8" fill="#111" text-anchor="end">
<text x="198.60" y="420.50" transform="translate(198.60,0) scale(0.85,1) translate(-198.60,0)">10<tspan font-size="3.5" dy="-2">5</tspan></text>
<text x="198.60" y="433.50" transform="translate(198.60,0) scale(0.85,1) translate(-198.60,0)">10<tspan font-size="3.5" dy="-2">4</tspan></text>
<text x="198.60" y="447.10" transform="translate(198.60,0) scale(0.85,1) translate(-198.60,0)">10<tspan font-size="3.5" dy="-2">3</tspan></text>
<text x="198.60" y="461.00" transform="translate(198.60,0) scale(0.85,1) translate(-198.60,0)">10<tspan font-size="3.5" dy="-2">2</tspan></text>
<text x="197.40" y="467.4" font-size="7.0">0</text>
</g>
<g font-size="6.8" fill="#111" text-anchor="middle">
<text x="211.30" y="479.6" transform="translate(211.30,0) scale(0.85,1) translate(-211.30,0)">0</text>
<text x="222.10" y="479.6" transform="translate(222.10,0) scale(0.85,1) translate(-222.10,0)">10<tspan font-size="3.5" dy="-2">2</tspan></text>
<text x="232.60" y="479.6" transform="translate(232.60,0) scale(0.85,1) translate(-232.60,0)">10<tspan font-size="3.5" dy="-2">3</tspan></text>
<text x="243.10" y="479.6" transform="translate(243.10,0) scale(0.85,1) translate(-243.10,0)">10<tspan font-size="3.5" dy="-2">4</tspan></text>
<text x="252.70" y="479.6" transform="translate(252.70,0) scale(0.85,1) translate(-252.70,0)">10<tspan font-size="3.5" dy="-2">5</tspan></text>
</g>
<line x1="19.20" y1="452.70" x2="19.20" y2="421.00" stroke="#111" stroke-width="1.4" />
<path d="M15.8,423.2 L19.2,415.6 L22.6,423.2 Z" fill="#111"/>
<text transform="translate(22.80,467.40) rotate(-90) scale(0.75,1)" font-size="10.2" text-anchor="middle" fill="#231f20" >CD34</text>
<text transform="translate(33.50,492.00) scale(0.76,1)" font-size="9.0" text-anchor="start" fill="#231f20" >Gr-1</text>
<line x1="57.70" y1="488.80" x2="250.00" y2="488.80" stroke="#111" stroke-width="1.4" />
<path d="M248.5,485.5 L256.0,488.8 L248.5,492.1 Z" fill="#111"/>
<text x="5.30" y="516.30" font-size="12.0" text-anchor="start" font-weight="bold" fill="#000" stroke="#000" stroke-width="0.35">G</text>
<text transform="translate(97.20,514.20) scale(0.95,1)" font-size="8.45" text-anchor="middle" fill="#231f20" font-style="italic">Rosa26-targeted PML-RARA x Cas9</text>
<text x="250.70" y="513.60" font-size="8.1" text-anchor="middle" font-style="italic" fill="#231f20" >Gata2-targeted PML-RARA x Cas9</text>
<defs>
<radialGradient id="nuc" cx="0.5" cy="0.5" r="0.5"><stop offset="0" stop-color="#b9a6dc"/><stop offset="0.35" stop-color="#9a78cc"/><stop offset="0.6" stop-color="#6f3fb4"/><stop offset="0.9" stop-color="#6a3ab2"/><stop offset="1" stop-color="#7c56c0"/></radialGradient>
<radialGradient id="nucd" cx="0.5" cy="0.5" r="0.5"><stop offset="0" stop-color="#5a3cc0"/><stop offset="0.7" stop-color="#3f2ab0"/><stop offset="1" stop-color="#5a48c0"/></radialGradient>
</defs>
<clipPath id="gi1"><rect x="24.5" y="518.5" width="141.6" height="105.7"/></clipPath>
<rect x="24.50" y="518.50" width="141.60" height="105.70" fill="#b5d2e1" />
<g clip-path="url(#gi1)">
<ellipse cx="93.23" cy="567.85" rx="27.69" ry="18.00" fill="#a0bce8"/>
<ellipse cx="90.46" cy="598.31" rx="6.09" ry="9.69" fill="#a0bce8"/>
<ellipse cx="115.39" cy="616.31" rx="19.39" ry="11.08" fill="#a0bce8"/>
<ellipse cx="148.62" cy="609.39" rx="12.46" ry="12.46" fill="#a0bce8"/>
<ellipse cx="62.77" cy="574.77" rx="12.46" ry="12.46" fill="#a0bce8"/>
<circle cx="31.75" cy="565.63" r="9.34" fill="#8fb0ea" stroke="#cfe0f0" stroke-width="0.7"/>
<circle cx="48.92" cy="568.68" r="8.49" fill="#8fb0ea" stroke="#cfe0f0" stroke-width="0.7"/>
<circle cx="50.31" cy="554.00" r="7.64" fill="#8fb0ea" stroke="#cfe0f0" stroke-width="0.7"/>
<circle cx="65.54" cy="544.31" r="8.49" fill="#8fb0ea" stroke="#cfe0f0" stroke-width="0.7"/>
<circle cx="80.77" cy="541.54" r="9.34" fill="#8fb0ea" stroke="#cfe0f0" stroke-width="0.7"/>
<circle cx="82.16" cy="517.45" r="6.37" fill="#8fb0ea" stroke="#cfe0f0" stroke-width="0.7"/>
<circle cx="105.69" cy="521.32" r="5.10" fill="#8fb0ea" stroke="#cfe0f0" stroke-width="0.7"/>
<circle cx="112.62" cy="520.22" r="4.25" fill="#8fb0ea" stroke="#cfe0f0" stroke-width="0.7"/>
<circle cx="143.08" cy="520.22" r="5.10" fill="#8fb0ea" stroke="#cfe0f0" stroke-width="0.7"/>
<circle cx="162.47" cy="520.22" r="5.10" fill="#8fb0ea" stroke="#cfe0f0" stroke-width="0.7"/>
<circle cx="90.46" cy="554.00" r="9.34" fill="#8fb0ea" stroke="#cfe0f0" stroke-width="0.7"/>
<circle cx="73.85" cy="559.54" r="8.49" fill="#8fb0ea" stroke="#cfe0f0" stroke-width="0.7"/>
<circle cx="62.77" cy="567.29" r="7.64" fill="#8fb0ea" stroke="#cfe0f0" stroke-width="0.7"/>
<circle cx="76.62" cy="575.60" r="7.64" fill="#8fb0ea" stroke="#cfe0f0" stroke-width="0.7"/>
<circle cx="62.77" cy="583.91" r="8.49" fill="#8fb0ea" stroke="#cfe0f0" stroke-width="0.7"/>
<circle cx="78.00" cy="586.68" r="8.49" fill="#8fb0ea" stroke="#cfe0f0" stroke-width="0.7"/>
<circle cx="91.85" cy="571.17" r="7.64" fill="#8fb0ea" stroke="#cfe0f0" stroke-width="0.7"/>
<circle cx="94.62" cy="591.39" r="8.49" fill="#8fb0ea" stroke="#cfe0f0" stroke-width="0.7"/>
<circle cx="90.46" cy="583.08" r="7.64" fill="#8fb0ea" stroke="#cfe0f0" stroke-width="0.7"/>
<circle cx="107.08" cy="554.00" r="7.64" fill="#8fb0ea" stroke="#cfe0f0" stroke-width="0.7"/>
<circle cx="104.31" cy="569.23" r="7.64" fill="#8fb0ea" stroke="#cfe0f0" stroke-width="0.7"/>
<circle cx="115.39" cy="549.85" r="7.64" fill="#8fb0ea" stroke="#cfe0f0" stroke-width="0.7"/>
<circle cx="119.54" cy="560.92" r="8.49" fill="#8fb0ea" stroke="#cfe0f0" stroke-width="0.7"/>
<circle cx="129.23" cy="549.02" r="9.34" fill="#8fb0ea" stroke="#cfe0f0" stroke-width="0.7"/>
<circle cx="136.16" cy="566.46" r="9.34" fill="#8fb0ea" stroke="#cfe0f0" stroke-width="0.7"/>
<circle cx="116.77" cy="580.31" r="7.64" fill="#8fb0ea" stroke="#cfe0f0" stroke-width="0.7"/>
<circle cx="130.62" cy="583.08" r="8.49" fill="#8fb0ea" stroke="#cfe0f0" stroke-width="0.7"/>
<circle cx="143.08" cy="592.77" r="7.64" fill="#8fb0ea" stroke="#cfe0f0" stroke-width="0.7"/>
<circle cx="107.08" cy="609.39" r="10.19" fill="#8fb0ea" stroke="#cfe0f0" stroke-width="0.7"/>
<circle cx="120.93" cy="612.16" r="6.37" fill="#8fb0ea" stroke="#cfe0f0" stroke-width="0.7"/>
<circle cx="151.39" cy="607.17" r="8.49" fill="#8fb0ea" stroke="#cfe0f0" stroke-width="0.7"/>
<circle cx="134.77" cy="618.25" r="7.64" fill="#8fb0ea" stroke="#cfe0f0" stroke-width="0.7"/>
<circle cx="98.77" cy="623.23" r="6.37" fill="#8fb0ea" stroke="#cfe0f0" stroke-width="0.7"/>
<circle cx="156.93" cy="621.85" r="6.80" fill="#8fb0ea" stroke="#cfe0f0" stroke-width="0.7"/>
<circle cx="107.08" cy="624.62" r="5.10" fill="#8fb0ea" stroke="#cfe0f0" stroke-width="0.7"/>
<circle cx="83.54" cy="603.85" r="4.25" fill="#8fb0ea" stroke="#cfe0f0" stroke-width="0.7"/>
<circle cx="94.62" cy="562.31" r="5.10" fill="#8fb0ea" stroke="#cfe0f0" stroke-width="0.7"/>
<g filter="url(#fc)">
<g fill="#7640cc"><circle cx="30.1" cy="563.4" r="3.82"/><circle cx="33.1" cy="563.2" r="3.79"/><circle cx="34.4" cy="565.0" r="4.07"/><circle cx="32.6" cy="568.3" r="3.91"/><circle cx="29.1" cy="566.4" r="3.65"/></g>
<circle cx="32.1" cy="566.1" r="2.63" fill="#c4b4e4"/>
<g fill="#7640cc"><circle cx="47.0" cy="570.3" r="3.57"/><circle cx="47.6" cy="566.5" r="3.03"/><circle cx="49.9" cy="566.4" r="3.38"/><circle cx="51.2" cy="569.7" r="3.46"/><circle cx="49.4" cy="571.1" r="3.41"/></g>
<circle cx="48.8" cy="568.9" r="2.39" fill="#c4b4e4"/>
<g fill="#7c46c8"><circle cx="51.3" cy="551.9" r="3.02"/><circle cx="52.5" cy="553.5" r="2.70"/><circle cx="50.9" cy="556.2" r="2.92"/><circle cx="48.3" cy="555.0" r="2.84"/><circle cx="48.4" cy="552.8" r="3.03"/></g>
<circle cx="50.7" cy="553.4" r="2.15" fill="#c4b4e4"/>
<g fill="#7c46c8"><circle cx="67.3" cy="542.5" r="3.51"/><circle cx="67.4" cy="546.0" r="3.36"/><circle cx="64.2" cy="546.5" r="3.44"/><circle cx="63.1" cy="544.7" r="3.51"/><circle cx="64.7" cy="541.9" r="3.14"/></g>
<circle cx="65.7" cy="543.8" r="2.39" fill="#c4b4e4"/>
<g fill="#8a4cc2"><circle cx="82.8" cy="543.4" r="3.50"/><circle cx="80.3" cy="544.3" r="3.64"/><circle cx="78.1" cy="542.1" r="3.57"/><circle cx="79.4" cy="539.1" r="3.41"/><circle cx="83.1" cy="540.1" r="3.79"/></g>
<circle cx="81.0" cy="541.9" r="2.63" fill="#c4b4e4"/>
<g fill="#8a4cc2"><circle cx="80.3" cy="517.7" r="2.54"/><circle cx="81.1" cy="515.9" r="2.36"/><circle cx="83.6" cy="516.3" r="2.47"/><circle cx="83.8" cy="518.3" r="2.74"/><circle cx="82.4" cy="519.3" r="2.39"/></g>
<circle cx="82.2" cy="516.9" r="1.79" fill="#c4b4e4"/>
<g fill="#7c46c8"><circle cx="104.6" cy="522.3" r="1.88"/><circle cx="104.8" cy="520.1" r="1.81"/><circle cx="106.4" cy="520.0" r="2.10"/><circle cx="107.2" cy="521.7" r="2.10"/><circle cx="106.3" cy="522.7" r="2.03"/></g>
<circle cx="106.2" cy="520.8" r="1.44" fill="#c4b4e4"/>
<g fill="#7640cc"><circle cx="111.8" cy="519.2" r="1.84"/><circle cx="113.4" cy="519.2" r="1.50"/><circle cx="113.8" cy="520.6" r="1.68"/><circle cx="112.8" cy="521.5" r="1.71"/><circle cx="111.4" cy="520.5" r="1.61"/></g>
<circle cx="112.9" cy="520.4" r="1.20" fill="#c4b4e4"/>
<g fill="#7c46c8"><circle cx="144.3" cy="519.4" r="2.20"/><circle cx="144.3" cy="521.1" r="2.00"/><circle cx="143.3" cy="521.7" r="1.99"/><circle cx="141.6" cy="520.4" r="2.21"/><circle cx="142.5" cy="518.8" r="2.04"/></g>
<circle cx="142.6" cy="520.4" r="1.44" fill="#c4b4e4"/>
<g fill="#7c46c8"><circle cx="161.0" cy="520.0" r="2.11"/><circle cx="161.8" cy="518.9" r="1.99"/><circle cx="163.7" cy="519.3" r="2.00"/><circle cx="163.5" cy="521.3" r="1.86"/><circle cx="162.2" cy="521.7" r="2.19"/></g>
<circle cx="162.1" cy="519.8" r="1.44" fill="#c4b4e4"/>
<g fill="#8a4cc2"><circle cx="91.4" cy="551.4" r="3.94"/><circle cx="93.0" cy="555.1" r="3.51"/><circle cx="91.2" cy="556.7" r="3.30"/><circle cx="88.2" cy="555.6" r="3.72"/><circle cx="89.3" cy="551.5" r="3.41"/></g>
<circle cx="90.9" cy="554.0" r="2.63" fill="#c4b4e4"/>
<g fill="#7640cc"><circle cx="76.1" cy="560.7" r="3.67"/><circle cx="73.9" cy="562.1" r="3.17"/><circle cx="71.3" cy="559.7" r="3.03"/><circle cx="73.2" cy="557.1" r="3.57"/><circle cx="76.0" cy="558.3" r="3.59"/></g>
<circle cx="73.9" cy="559.5" r="2.39" fill="#c4b4e4"/>
<g fill="#7640cc"><circle cx="62.9" cy="565.0" r="2.73"/><circle cx="65.0" cy="566.8" r="2.99"/><circle cx="63.8" cy="569.3" r="3.20"/><circle cx="61.4" cy="569.1" r="2.79"/><circle cx="61.1" cy="565.8" r="2.70"/></g>
<circle cx="63.0" cy="567.1" r="2.15" fill="#c4b4e4"/>
<g fill="#7640cc"><circle cx="78.3" cy="577.1" r="3.11"/><circle cx="74.9" cy="577.1" r="3.06"/><circle cx="74.6" cy="574.5" r="2.74"/><circle cx="76.7" cy="573.3" r="2.78"/><circle cx="78.8" cy="575.0" r="2.85"/></g>
<circle cx="76.3" cy="576.1" r="2.15" fill="#c4b4e4"/>
<g fill="#7640cc"><circle cx="63.3" cy="581.4" r="3.57"/><circle cx="65.3" cy="583.8" r="3.52"/><circle cx="63.5" cy="586.3" r="3.64"/><circle cx="60.7" cy="585.3" r="3.28"/><circle cx="60.8" cy="582.3" r="3.36"/></g>
<circle cx="62.8" cy="584.2" r="2.39" fill="#c4b4e4"/>
<g fill="#7640cc"><circle cx="78.4" cy="589.2" r="3.67"/><circle cx="75.7" cy="587.6" r="3.39"/><circle cx="76.2" cy="584.9" r="3.04"/><circle cx="79.1" cy="584.4" r="3.30"/><circle cx="80.4" cy="587.3" r="3.25"/></g>
<circle cx="77.6" cy="587.1" r="2.39" fill="#c4b4e4"/>
<g fill="#7c46c8"><circle cx="91.4" cy="568.9" r="3.12"/><circle cx="93.5" cy="569.7" r="3.17"/><circle cx="93.9" cy="572.1" r="2.93"/><circle cx="91.0" cy="573.3" r="3.32"/><circle cx="89.6" cy="570.9" r="2.75"/></g>
<circle cx="91.6" cy="571.6" r="2.15" fill="#c4b4e4"/>
<g fill="#7640cc"><circle cx="97.0" cy="592.3" r="3.16"/><circle cx="93.9" cy="593.8" r="3.42"/><circle cx="92.1" cy="591.6" r="3.62"/><circle cx="93.0" cy="589.5" r="3.03"/><circle cx="96.2" cy="589.4" r="3.54"/></g>
<circle cx="94.9" cy="591.6" r="2.39" fill="#c4b4e4"/>
<g fill="#5230d0"><circle cx="88.4" cy="584.0" r="2.99"/><circle cx="88.6" cy="581.9" r="3.29"/><circle cx="91.4" cy="581.0" r="3.03"/><circle cx="92.6" cy="583.8" r="3.12"/><circle cx="90.5" cy="585.3" r="3.19"/></g>
<circle cx="90.5" cy="583.1" r="1.62" fill="#6a50c8"/>
<g fill="#5230d0"><circle cx="107.7" cy="556.2" r="3.00"/><circle cx="105.0" cy="554.8" r="3.18"/><circle cx="105.5" cy="552.4" r="3.03"/><circle cx="107.6" cy="551.8" r="3.11"/><circle cx="109.3" cy="553.5" r="2.94"/></g>
<circle cx="107.1" cy="554.0" r="1.62" fill="#6a50c8"/>
<g fill="#5230d0"><circle cx="102.3" cy="568.2" r="3.01"/><circle cx="104.7" cy="567.0" r="3.21"/><circle cx="106.4" cy="568.3" r="2.80"/><circle cx="105.7" cy="571.0" r="2.81"/><circle cx="103.0" cy="571.0" r="3.20"/></g>
<circle cx="104.3" cy="569.2" r="1.62" fill="#6a50c8"/>
<g fill="#7c46c8"><circle cx="117.1" cy="548.4" r="3.05"/><circle cx="117.3" cy="551.1" r="3.32"/><circle cx="114.5" cy="551.9" r="2.80"/><circle cx="113.2" cy="549.4" r="2.99"/><circle cx="114.9" cy="547.6" r="2.98"/></g>
<circle cx="115.0" cy="549.4" r="2.15" fill="#c4b4e4"/>
<g fill="#7640cc"><circle cx="117.1" cy="560.5" r="3.35"/><circle cx="119.4" cy="558.4" r="3.63"/><circle cx="121.7" cy="559.6" r="3.12"/><circle cx="120.8" cy="563.1" r="3.16"/><circle cx="119.1" cy="563.4" r="3.62"/></g>
<circle cx="119.3" cy="561.2" r="2.39" fill="#c4b4e4"/>
<g fill="#7640cc"><circle cx="130.8" cy="551.3" r="3.37"/><circle cx="128.5" cy="551.7" r="3.56"/><circle cx="126.5" cy="548.7" r="3.54"/><circle cx="128.7" cy="546.3" r="3.95"/><circle cx="131.3" cy="547.2" r="3.36"/></g>
<circle cx="128.9" cy="548.5" r="2.63" fill="#c4b4e4"/>
<g fill="#8a4cc2"><circle cx="137.4" cy="564.0" r="3.94"/><circle cx="138.7" cy="567.6" r="3.58"/><circle cx="136.6" cy="569.2" r="3.74"/><circle cx="133.6" cy="567.5" r="3.61"/><circle cx="135.1" cy="563.9" r="3.56"/></g>
<circle cx="136.0" cy="566.8" r="2.63" fill="#c4b4e4"/>
<g fill="#8a4cc2"><circle cx="114.6" cy="581.0" r="3.32"/><circle cx="115.7" cy="578.3" r="3.16"/><circle cx="118.1" cy="578.5" r="3.26"/><circle cx="118.9" cy="581.1" r="2.88"/><circle cx="116.5" cy="582.6" r="3.23"/></g>
<circle cx="117.4" cy="580.3" r="2.15" fill="#c4b4e4"/>
<g fill="#7640cc"><circle cx="133.1" cy="583.2" r="3.27"/><circle cx="130.7" cy="585.6" r="3.30"/><circle cx="128.8" cy="584.8" r="3.59"/><circle cx="128.7" cy="581.5" r="3.03"/><circle cx="132.2" cy="581.1" r="3.45"/></g>
<circle cx="130.8" cy="582.7" r="2.39" fill="#c4b4e4"/>
<g fill="#7640cc"><circle cx="140.9" cy="592.2" r="2.75"/><circle cx="142.5" cy="590.6" r="2.79"/><circle cx="145.2" cy="592.0" r="2.88"/><circle cx="144.7" cy="594.3" r="2.88"/><circle cx="141.9" cy="594.7" r="3.18"/></g>
<circle cx="143.4" cy="593.1" r="2.15" fill="#c4b4e4"/>
<g fill="#7640cc"><circle cx="104.1" cy="609.4" r="3.70"/><circle cx="105.9" cy="606.6" r="3.99"/><circle cx="108.9" cy="607.0" r="4.08"/><circle cx="109.6" cy="611.1" r="3.73"/><circle cx="106.5" cy="612.4" r="3.70"/></g>
<circle cx="106.9" cy="609.7" r="2.87" fill="#c4b4e4"/>
<g fill="#5230d0"><circle cx="119.8" cy="610.6" r="2.36"/><circle cx="122.0" cy="610.6" r="2.33"/><circle cx="122.8" cy="612.5" r="2.77"/><circle cx="121.5" cy="614.0" r="2.58"/><circle cx="119.1" cy="612.7" r="2.68"/></g>
<circle cx="120.9" cy="612.2" r="1.35" fill="#6a50c8"/>
<g fill="#7640cc"><circle cx="149.4" cy="608.7" r="3.09"/><circle cx="148.9" cy="606.7" r="3.14"/><circle cx="151.6" cy="604.7" r="3.17"/><circle cx="153.7" cy="606.2" r="3.08"/><circle cx="152.6" cy="609.4" r="3.44"/></g>
<circle cx="151.3" cy="607.3" r="2.39" fill="#c4b4e4"/>
<g fill="#8a4cc2"><circle cx="136.8" cy="617.3" r="3.24"/><circle cx="135.9" cy="620.2" r="3.15"/><circle cx="133.8" cy="620.3" r="3.32"/><circle cx="132.6" cy="617.6" r="2.75"/><circle cx="134.9" cy="616.0" r="2.90"/></g>
<circle cx="135.0" cy="618.4" r="2.15" fill="#c4b4e4"/>
<g fill="#7c46c8"><circle cx="100.3" cy="622.1" r="2.44"/><circle cx="100.5" cy="624.1" r="2.51"/><circle cx="98.3" cy="625.1" r="2.57"/><circle cx="96.9" cy="623.5" r="2.42"/><circle cx="97.9" cy="621.6" r="2.45"/></g>
<circle cx="99.1" cy="623.8" r="1.79" fill="#c4b4e4"/>
<g fill="#7640cc"><circle cx="155.3" cy="623.0" r="2.56"/><circle cx="155.3" cy="620.7" r="2.44"/><circle cx="157.3" cy="619.9" r="2.42"/><circle cx="158.9" cy="621.7" r="2.60"/><circle cx="157.2" cy="623.8" r="2.73"/></g>
<circle cx="157.5" cy="621.5" r="1.91" fill="#c4b4e4"/>
<g fill="#8a4cc2"><circle cx="106.1" cy="623.5" r="2.08"/><circle cx="108.1" cy="623.5" r="2.21"/><circle cx="108.4" cy="625.3" r="2.09"/><circle cx="107.0" cy="626.1" r="1.94"/><circle cx="105.6" cy="624.6" r="2.01"/></g>
<circle cx="107.2" cy="625.1" r="1.44" fill="#c4b4e4"/>
<g fill="#c9a2d6"><circle cx="83.5" cy="603.8" r="2.99"/><circle cx="94.6" cy="562.3" r="3.59"/></g>
</g>
</g>
<clipPath id="gi2"><rect x="179.0" y="518.0" width="141.1" height="106.2"/></clipPath>
<rect x="179.00" y="518.00" width="141.10" height="106.20" fill="#b5d2e1" />
<g clip-path="url(#gi2)">
<ellipse cx="207.08" cy="547.46" rx="8.86" ry="10.52" fill="#a0bce8"/>
<ellipse cx="261.08" cy="532.23" rx="8.31" ry="9.69" fill="#a0bce8"/>
<circle cx="230.62" cy="535.00" r="9.34" fill="#8fb0ea" stroke="#cfe0f0" stroke-width="0.7"/>
<circle cx="259.69" cy="528.08" r="10.62" fill="#8fb0ea" stroke="#cfe0f0" stroke-width="0.7"/>
<circle cx="263.85" cy="540.54" r="6.37" fill="#8fb0ea" stroke="#cfe0f0" stroke-width="0.7"/>
<circle cx="205.69" cy="553.00" r="11.04" fill="#8fb0ea" stroke="#cfe0f0" stroke-width="0.7"/>
<circle cx="183.54" cy="562.69" r="8.49" fill="#8fb0ea" stroke="#cfe0f0" stroke-width="0.7"/>
<circle cx="197.39" cy="562.69" r="9.34" fill="#8fb0ea" stroke="#cfe0f0" stroke-width="0.7"/>
<circle cx="248.62" cy="557.16" r="9.34" fill="#8fb0ea" stroke="#cfe0f0" stroke-width="0.7"/>
<circle cx="227.85" cy="562.69" r="10.62" fill="#8fb0ea" stroke="#cfe0f0" stroke-width="0.7"/>
<circle cx="212.62" cy="582.08" r="9.34" fill="#8fb0ea" stroke="#cfe0f0" stroke-width="0.7"/>
<circle cx="225.08" cy="582.08" r="8.49" fill="#8fb0ea" stroke="#cfe0f0" stroke-width="0.7"/>
<circle cx="240.31" cy="579.31" r="10.62" fill="#8fb0ea" stroke="#cfe0f0" stroke-width="0.7"/>
<circle cx="258.31" cy="587.62" r="8.49" fill="#8fb0ea" stroke="#cfe0f0" stroke-width="0.7"/>
<circle cx="222.31" cy="595.93" r="8.49" fill="#8fb0ea" stroke="#cfe0f0" stroke-width="0.7"/>
<circle cx="233.39" cy="592.33" r="8.49" fill="#8fb0ea" stroke="#cfe0f0" stroke-width="0.7"/>
<circle cx="245.85" cy="593.16" r="8.49" fill="#8fb0ea" stroke="#cfe0f0" stroke-width="0.7"/>
<circle cx="258.31" cy="602.85" r="8.49" fill="#8fb0ea" stroke="#cfe0f0" stroke-width="0.7"/>
<circle cx="243.08" cy="607.00" r="9.34" fill="#8fb0ea" stroke="#cfe0f0" stroke-width="0.7"/>
<circle cx="279.08" cy="574.32" r="10.62" fill="#8fb0ea" stroke="#cfe0f0" stroke-width="0.7"/>
<circle cx="288.77" cy="566.85" r="5.52" fill="#8fb0ea" stroke="#cfe0f0" stroke-width="0.7"/>
<circle cx="288.77" cy="547.46" r="9.34" fill="#8fb0ea" stroke="#cfe0f0" stroke-width="0.7"/>
<circle cx="304.00" cy="543.31" r="7.64" fill="#8fb0ea" stroke="#cfe0f0" stroke-width="0.7"/>
<circle cx="316.47" cy="548.85" r="6.37" fill="#8fb0ea" stroke="#cfe0f0" stroke-width="0.7"/>
<circle cx="298.47" cy="579.31" r="9.34" fill="#8fb0ea" stroke="#cfe0f0" stroke-width="0.7"/>
<circle cx="299.85" cy="600.08" r="9.34" fill="#8fb0ea" stroke="#cfe0f0" stroke-width="0.7"/>
<circle cx="319.24" cy="561.31" r="5.95" fill="#8fb0ea" stroke="#cfe0f0" stroke-width="0.7"/>
<circle cx="183.54" cy="620.85" r="6.37" fill="#8fb0ea" stroke="#cfe0f0" stroke-width="0.7"/>
<circle cx="226.46" cy="603.40" r="3.40" fill="#8fb0ea" stroke="#cfe0f0" stroke-width="0.7"/>
<g filter="url(#fc)">
<g fill="#7640cc"><circle cx="227.9" cy="535.7" r="3.52"/><circle cx="228.8" cy="532.9" r="3.49"/><circle cx="232.7" cy="533.2" r="3.49"/><circle cx="232.7" cy="536.8" r="3.61"/><circle cx="230.5" cy="537.8" r="3.48"/></g>
<circle cx="231.0" cy="535.3" r="2.63" fill="#c4b4e4"/>
<g fill="#7640cc"><circle cx="256.6" cy="527.4" r="4.49"/><circle cx="260.7" cy="525.1" r="4.40"/><circle cx="262.8" cy="527.8" r="4.63"/><circle cx="261.9" cy="530.3" r="4.61"/><circle cx="257.3" cy="530.1" r="3.97"/></g>
<circle cx="259.8" cy="527.9" r="2.99" fill="#c4b4e4"/>
<circle cx="263.8" cy="540.5" r="4.49" fill="#c9a2d6"/>
<g fill="#7640cc"><circle cx="205.5" cy="556.3" r="4.02"/><circle cx="202.5" cy="553.6" r="4.59"/><circle cx="204.1" cy="550.2" r="4.63"/><circle cx="206.4" cy="549.8" r="4.52"/><circle cx="208.9" cy="552.8" r="4.32"/></g>
<circle cx="205.3" cy="553.0" r="3.11" fill="#c4b4e4"/>
<g fill="#7c46c8"><circle cx="184.0" cy="565.2" r="3.00"/><circle cx="181.5" cy="564.2" r="3.24"/><circle cx="181.3" cy="561.5" r="3.29"/><circle cx="183.6" cy="560.2" r="3.31"/><circle cx="186.1" cy="562.7" r="3.24"/></g>
<circle cx="183.4" cy="563.0" r="2.39" fill="#c4b4e4"/>
<g fill="#7c46c8"><circle cx="194.6" cy="562.4" r="3.34"/><circle cx="195.9" cy="560.4" r="3.45"/><circle cx="199.7" cy="561.1" r="3.73"/><circle cx="199.9" cy="563.8" r="3.89"/><circle cx="197.0" cy="565.4" r="3.79"/></g>
<circle cx="197.1" cy="563.0" r="2.63" fill="#c4b4e4"/>
<g fill="#7640cc"><circle cx="247.3" cy="554.7" r="3.66"/><circle cx="250.8" cy="555.4" r="3.75"/><circle cx="250.5" cy="559.2" r="3.46"/><circle cx="247.5" cy="559.7" r="3.73"/><circle cx="245.9" cy="556.7" r="3.83"/></g>
<circle cx="248.0" cy="556.6" r="2.63" fill="#c4b4e4"/>
<g fill="#7c46c8"><circle cx="226.7" cy="565.6" r="3.83"/><circle cx="224.7" cy="562.7" r="4.11"/><circle cx="226.7" cy="559.8" r="3.74"/><circle cx="230.7" cy="561.4" r="4.50"/><circle cx="230.1" cy="564.8" r="4.30"/></g>
<circle cx="227.5" cy="562.3" r="2.99" fill="#c4b4e4"/>
<g fill="#7640cc"><circle cx="211.5" cy="584.6" r="3.98"/><circle cx="209.9" cy="581.8" r="4.07"/><circle cx="211.7" cy="579.5" r="3.96"/><circle cx="214.9" cy="580.6" r="3.40"/><circle cx="214.6" cy="584.0" r="3.94"/></g>
<circle cx="212.1" cy="582.2" r="2.63" fill="#c4b4e4"/>
<g fill="#8a4cc2"><circle cx="227.5" cy="582.5" r="3.22"/><circle cx="225.4" cy="584.6" r="3.59"/><circle cx="222.8" cy="583.2" r="3.21"/><circle cx="223.1" cy="580.6" r="3.58"/><circle cx="225.8" cy="579.7" r="3.50"/></g>
<circle cx="225.7" cy="582.3" r="2.39" fill="#c4b4e4"/>
<g fill="#7c46c8"><circle cx="242.4" cy="581.7" r="4.28"/><circle cx="239.6" cy="582.4" r="4.13"/><circle cx="237.2" cy="579.2" r="3.85"/><circle cx="239.6" cy="576.2" r="3.82"/><circle cx="243.4" cy="578.6" r="3.89"/></g>
<circle cx="240.4" cy="579.6" r="2.99" fill="#c4b4e4"/>
<g fill="#7c46c8"><circle cx="259.4" cy="589.9" r="3.03"/><circle cx="256.3" cy="589.1" r="3.58"/><circle cx="256.1" cy="586.4" r="3.03"/><circle cx="258.6" cy="585.1" r="3.38"/><circle cx="260.7" cy="586.8" r="3.42"/></g>
<circle cx="258.9" cy="587.5" r="2.39" fill="#c4b4e4"/>
<g fill="#8a4cc2"><circle cx="220.3" cy="594.4" r="3.49"/><circle cx="223.1" cy="593.5" r="3.24"/><circle cx="224.8" cy="596.5" r="3.51"/><circle cx="221.9" cy="598.4" r="3.68"/><circle cx="220.0" cy="597.0" r="3.04"/></g>
<circle cx="222.4" cy="596.0" r="2.39" fill="#c4b4e4"/>
<g fill="#7640cc"><circle cx="235.3" cy="590.7" r="3.44"/><circle cx="235.9" cy="592.8" r="3.42"/><circle cx="233.1" cy="594.8" r="3.06"/><circle cx="231.1" cy="593.4" r="3.53"/><circle cx="231.9" cy="590.3" r="3.40"/></g>
<circle cx="233.4" cy="592.9" r="2.39" fill="#c4b4e4"/>
<g fill="#8a4cc2"><circle cx="246.0" cy="590.7" r="3.27"/><circle cx="247.9" cy="591.7" r="3.70"/><circle cx="248.1" cy="594.3" r="3.24"/><circle cx="244.5" cy="595.3" r="3.67"/><circle cx="243.4" cy="592.4" r="3.13"/></g>
<circle cx="246.2" cy="592.8" r="2.39" fill="#c4b4e4"/>
<g fill="#7640cc"><circle cx="258.1" cy="600.3" r="3.16"/><circle cx="260.7" cy="602.2" r="3.07"/><circle cx="259.8" cy="604.9" r="3.45"/><circle cx="256.7" cy="604.8" r="3.34"/><circle cx="255.8" cy="602.4" r="3.01"/></g>
<circle cx="257.9" cy="602.9" r="2.39" fill="#c4b4e4"/>
<g fill="#7640cc"><circle cx="245.8" cy="607.0" r="3.96"/><circle cx="242.8" cy="609.7" r="4.02"/><circle cx="240.8" cy="608.6" r="3.90"/><circle cx="241.1" cy="605.1" r="3.91"/><circle cx="244.7" cy="604.7" r="3.63"/></g>
<circle cx="243.2" cy="606.7" r="2.63" fill="#c4b4e4"/>
<g fill="#7640cc"><circle cx="282.2" cy="574.5" r="3.79"/><circle cx="279.3" cy="577.5" r="4.39"/><circle cx="276.5" cy="576.2" r="3.96"/><circle cx="277.5" cy="571.6" r="4.54"/><circle cx="281.1" cy="571.9" r="3.87"/></g>
<circle cx="279.3" cy="573.8" r="2.99" fill="#c4b4e4"/>
<circle cx="288.8" cy="566.8" r="3.89" fill="#c9a2d6"/>
<g fill="#7c46c8"><circle cx="291.5" cy="547.9" r="3.68"/><circle cx="288.8" cy="550.2" r="3.63"/><circle cx="286.7" cy="549.3" r="3.31"/><circle cx="286.6" cy="545.8" r="3.37"/><circle cx="289.5" cy="544.8" r="3.77"/></g>
<circle cx="289.2" cy="547.1" r="2.63" fill="#c4b4e4"/>
<g fill="#5230d0"><circle cx="301.9" cy="542.5" r="3.11"/><circle cx="304.8" cy="541.2" r="2.93"/><circle cx="306.2" cy="542.9" r="3.01"/><circle cx="305.6" cy="544.9" r="2.99"/><circle cx="302.1" cy="544.6" r="3.17"/></g>
<circle cx="304.0" cy="543.3" r="1.62" fill="#6a50c8"/>
<g fill="#7c46c8"><circle cx="314.8" cy="548.1" r="2.66"/><circle cx="316.9" cy="547.0" r="2.53"/><circle cx="318.3" cy="548.3" r="2.59"/><circle cx="317.2" cy="550.6" r="2.70"/><circle cx="314.9" cy="549.9" r="2.56"/></g>
<circle cx="317.0" cy="548.8" r="1.79" fill="#c4b4e4"/>
<g fill="#7c46c8"><circle cx="300.3" cy="577.3" r="4.01"/><circle cx="300.7" cy="580.9" r="3.44"/><circle cx="297.2" cy="581.8" r="4.00"/><circle cx="295.7" cy="579.3" r="3.69"/><circle cx="298.4" cy="576.5" r="3.55"/></g>
<circle cx="298.1" cy="579.1" r="2.63" fill="#c4b4e4"/>
<g fill="#7c46c8"><circle cx="302.4" cy="599.1" r="3.68"/><circle cx="302.1" cy="601.7" r="4.01"/><circle cx="298.8" cy="602.6" r="4.05"/><circle cx="297.2" cy="600.8" r="3.80"/><circle cx="298.7" cy="597.6" r="3.85"/></g>
<circle cx="300.4" cy="599.5" r="2.63" fill="#c4b4e4"/>
<g fill="#7640cc"><circle cx="320.0" cy="559.7" r="2.54"/><circle cx="321.0" cy="561.7" r="2.37"/><circle cx="319.9" cy="562.9" r="2.29"/><circle cx="317.9" cy="562.5" r="2.53"/><circle cx="317.8" cy="560.3" r="2.09"/></g>
<circle cx="318.9" cy="561.5" r="1.67" fill="#c4b4e4"/>
<g fill="#7640cc"><circle cx="184.1" cy="619.1" r="2.33"/><circle cx="185.3" cy="621.6" r="2.45"/><circle cx="183.9" cy="622.7" r="2.60"/><circle cx="181.7" cy="621.4" r="2.47"/><circle cx="182.5" cy="619.3" r="2.51"/></g>
<circle cx="183.3" cy="621.0" r="1.79" fill="#c4b4e4"/>
<circle cx="226.5" cy="603.4" r="2.39" fill="#c9a2d6"/>
</g>
</g>
<line x1="31.80" y1="542.00" x2="31.80" y2="551.50" stroke="#111" stroke-width="1.2" />
<path d="M28.8,550.0 L31.8,556.0 L34.8,550.0 Z" fill="#111"/>
<line x1="273.60" y1="600.00" x2="273.60" y2="590.50" stroke="#111" stroke-width="1.2" />
<path d="M270.6,592.0 L273.6,586.0 L276.6,592.0 Z" fill="#111"/>
<text x="329.50" y="428.50" font-size="12.0" text-anchor="start" font-weight="bold" fill="#000" stroke="#000" stroke-width="0.35">H</text>
<line x1="399.20" y1="439.50" x2="399.20" y2="512.30" stroke="#111" stroke-width="1.3" />
<line x1="398.60" y1="512.00" x2="502.90" y2="512.00" stroke="#111" stroke-width="1.4" />
<line x1="396.80" y1="511.60" x2="399.20" y2="511.60" stroke="#111" stroke-width="1.0" />
<text transform="translate(396.60,514.70) scale(0.9,1)" font-size="8.8" text-anchor="end" fill="#231f20" >0</text>
<line x1="396.80" y1="493.75" x2="399.20" y2="493.75" stroke="#111" stroke-width="1.0" />
<text transform="translate(396.60,496.85) scale(0.9,1)" font-size="8.8" text-anchor="end" fill="#231f20" >1000</text>
<line x1="396.80" y1="475.90" x2="399.20" y2="475.90" stroke="#111" stroke-width="1.0" />
<text transform="translate(396.60,479.00) scale(0.9,1)" font-size="8.8" text-anchor="end" fill="#231f20" >2000</text>
<line x1="396.80" y1="458.05" x2="399.20" y2="458.05" stroke="#111" stroke-width="1.0" />
<text transform="translate(396.60,461.15) scale(0.9,1)" font-size="8.8" text-anchor="end" fill="#231f20" >3000</text>
<line x1="396.80" y1="440.20" x2="399.20" y2="440.20" stroke="#111" stroke-width="1.0" />
<text transform="translate(396.60,443.30) scale(0.9,1)" font-size="8.8" text-anchor="end" fill="#231f20" >4000</text>
<text transform="translate(356.20,475.80) rotate(-90) scale(0.88,1)" font-size="8.6" text-anchor="middle" fill="#231f20" ># of Colonies per</text>
<text transform="translate(369.60,475.80) rotate(-90) scale(0.89,1)" font-size="8.6" text-anchor="middle" fill="#231f20" >10,000 cells plated</text>
<rect x="408.80" y="506.78" width="14.10" height="4.82" fill="#8fd9f2" />
<rect x="456.30" y="473.58" width="14.90" height="38.02" fill="#f6c2e6" />
<line x1="415.50" y1="505.71" x2="415.50" y2="508.92" stroke="#1f58c8" stroke-width="1.0" />
<line x1="412.80" y1="505.71" x2="418.20" y2="505.71" stroke="#1f58c8" stroke-width="1.0" />
<line x1="412.80" y1="508.92" x2="418.20" y2="508.92" stroke="#1f58c8" stroke-width="1.0" />
<line x1="463.80" y1="455.37" x2="463.80" y2="489.82" stroke="#d4102c" stroke-width="1.0" />
<line x1="460.30" y1="455.37" x2="467.30" y2="455.37" stroke="#d4102c" stroke-width="1.0" />
<line x1="460.30" y1="489.82" x2="467.30" y2="489.82" stroke="#d4102c" stroke-width="1.0" />
<g fill="#1f58c8"><circle cx="408.8" cy="507.7" r="1.60"/><circle cx="415.5" cy="505.7" r="1.60"/><circle cx="422.4" cy="508.0" r="1.60"/><circle cx="433.0" cy="512.0" r="1.60"/><circle cx="439.4" cy="512.0" r="1.60"/><circle cx="445.8" cy="512.0" r="1.60"/></g>
<g fill="#d4102c"><circle cx="463.8" cy="455.4" r="1.60"/><circle cx="463.8" cy="476.8" r="1.60"/><circle cx="463.8" cy="489.3" r="1.60"/><circle cx="480.7" cy="512.0" r="1.60"/><circle cx="487.4" cy="512.0" r="1.60"/><circle cx="493.8" cy="512.0" r="1.60"/></g>
<line x1="415.50" y1="512.00" x2="415.50" y2="514.50" stroke="#111" stroke-width="1.0" />
<line x1="463.80" y1="512.00" x2="463.80" y2="514.50" stroke="#111" stroke-width="1.0" />
<text x="330.30" y="525.20" font-size="9.6" text-anchor="start" fill="#231f20" >100 nM ATRA:</text>
<text x="330.30" y="539.70" font-size="9.9" text-anchor="start" fill="#231f20" >Guide RNA target:</text>
<text x="418.90" y="525.00" font-size="8" text-anchor="middle" fill="#231f20" >-</text>
<text x="443.20" y="525.40" font-size="8" text-anchor="middle" fill="#231f20" >+</text>
<text x="466.30" y="525.00" font-size="8" text-anchor="middle" fill="#231f20" >-</text>
<text x="489.80" y="525.40" font-size="8" text-anchor="middle" fill="#231f20" >+</text>
<line x1="420.00" y1="527.90" x2="445.10" y2="527.90" stroke="#111" stroke-width="1.2" />
<line x1="468.00" y1="527.90" x2="493.40" y2="527.90" stroke="#111" stroke-width="1.2" />
<text x="432.60" y="539.40" font-size="9.5" text-anchor="middle" font-style="italic" fill="#231f20" >Rosa26</text>
<text x="478.60" y="539.40" font-size="9.5" text-anchor="middle" font-style="italic" fill="#231f20" >Gata2</text>
<line x1="415.10" y1="435.90" x2="464.40" y2="435.90" stroke="#111" stroke-width="1.2" />
<g fill="#111"><circle cx="437.4" cy="433.6" r="1.20"/><circle cx="441.6" cy="433.6" r="1.20"/></g>
<line x1="413.60" y1="450.30" x2="437.30" y2="450.30" stroke="#111" stroke-width="1.2" />
<text transform="translate(425.60,448.60) scale(0.9,1)" font-size="10.6" text-anchor="middle" fill="#231f20" >NS</text>
<line x1="468.00" y1="450.30" x2="491.90" y2="450.30" stroke="#111" stroke-width="1.2" />
<g fill="#111"><circle cx="477.8" cy="447.4" r="1.20"/><circle cx="482.0" cy="447.4" r="1.20"/></g>
<rect x="0.00" y="21.90" width="520.00" height="1.80" fill="#262626" />
<rect x="0.00" y="21.90" width="1.20" height="609.10" fill="#000" />
<rect x="518.00" y="21.90" width="2.00" height="609.10" fill="#000" />
<rect x="0.00" y="629.00" width="520.00" height="2.00" fill="#000" />
</svg>
</body></html>
